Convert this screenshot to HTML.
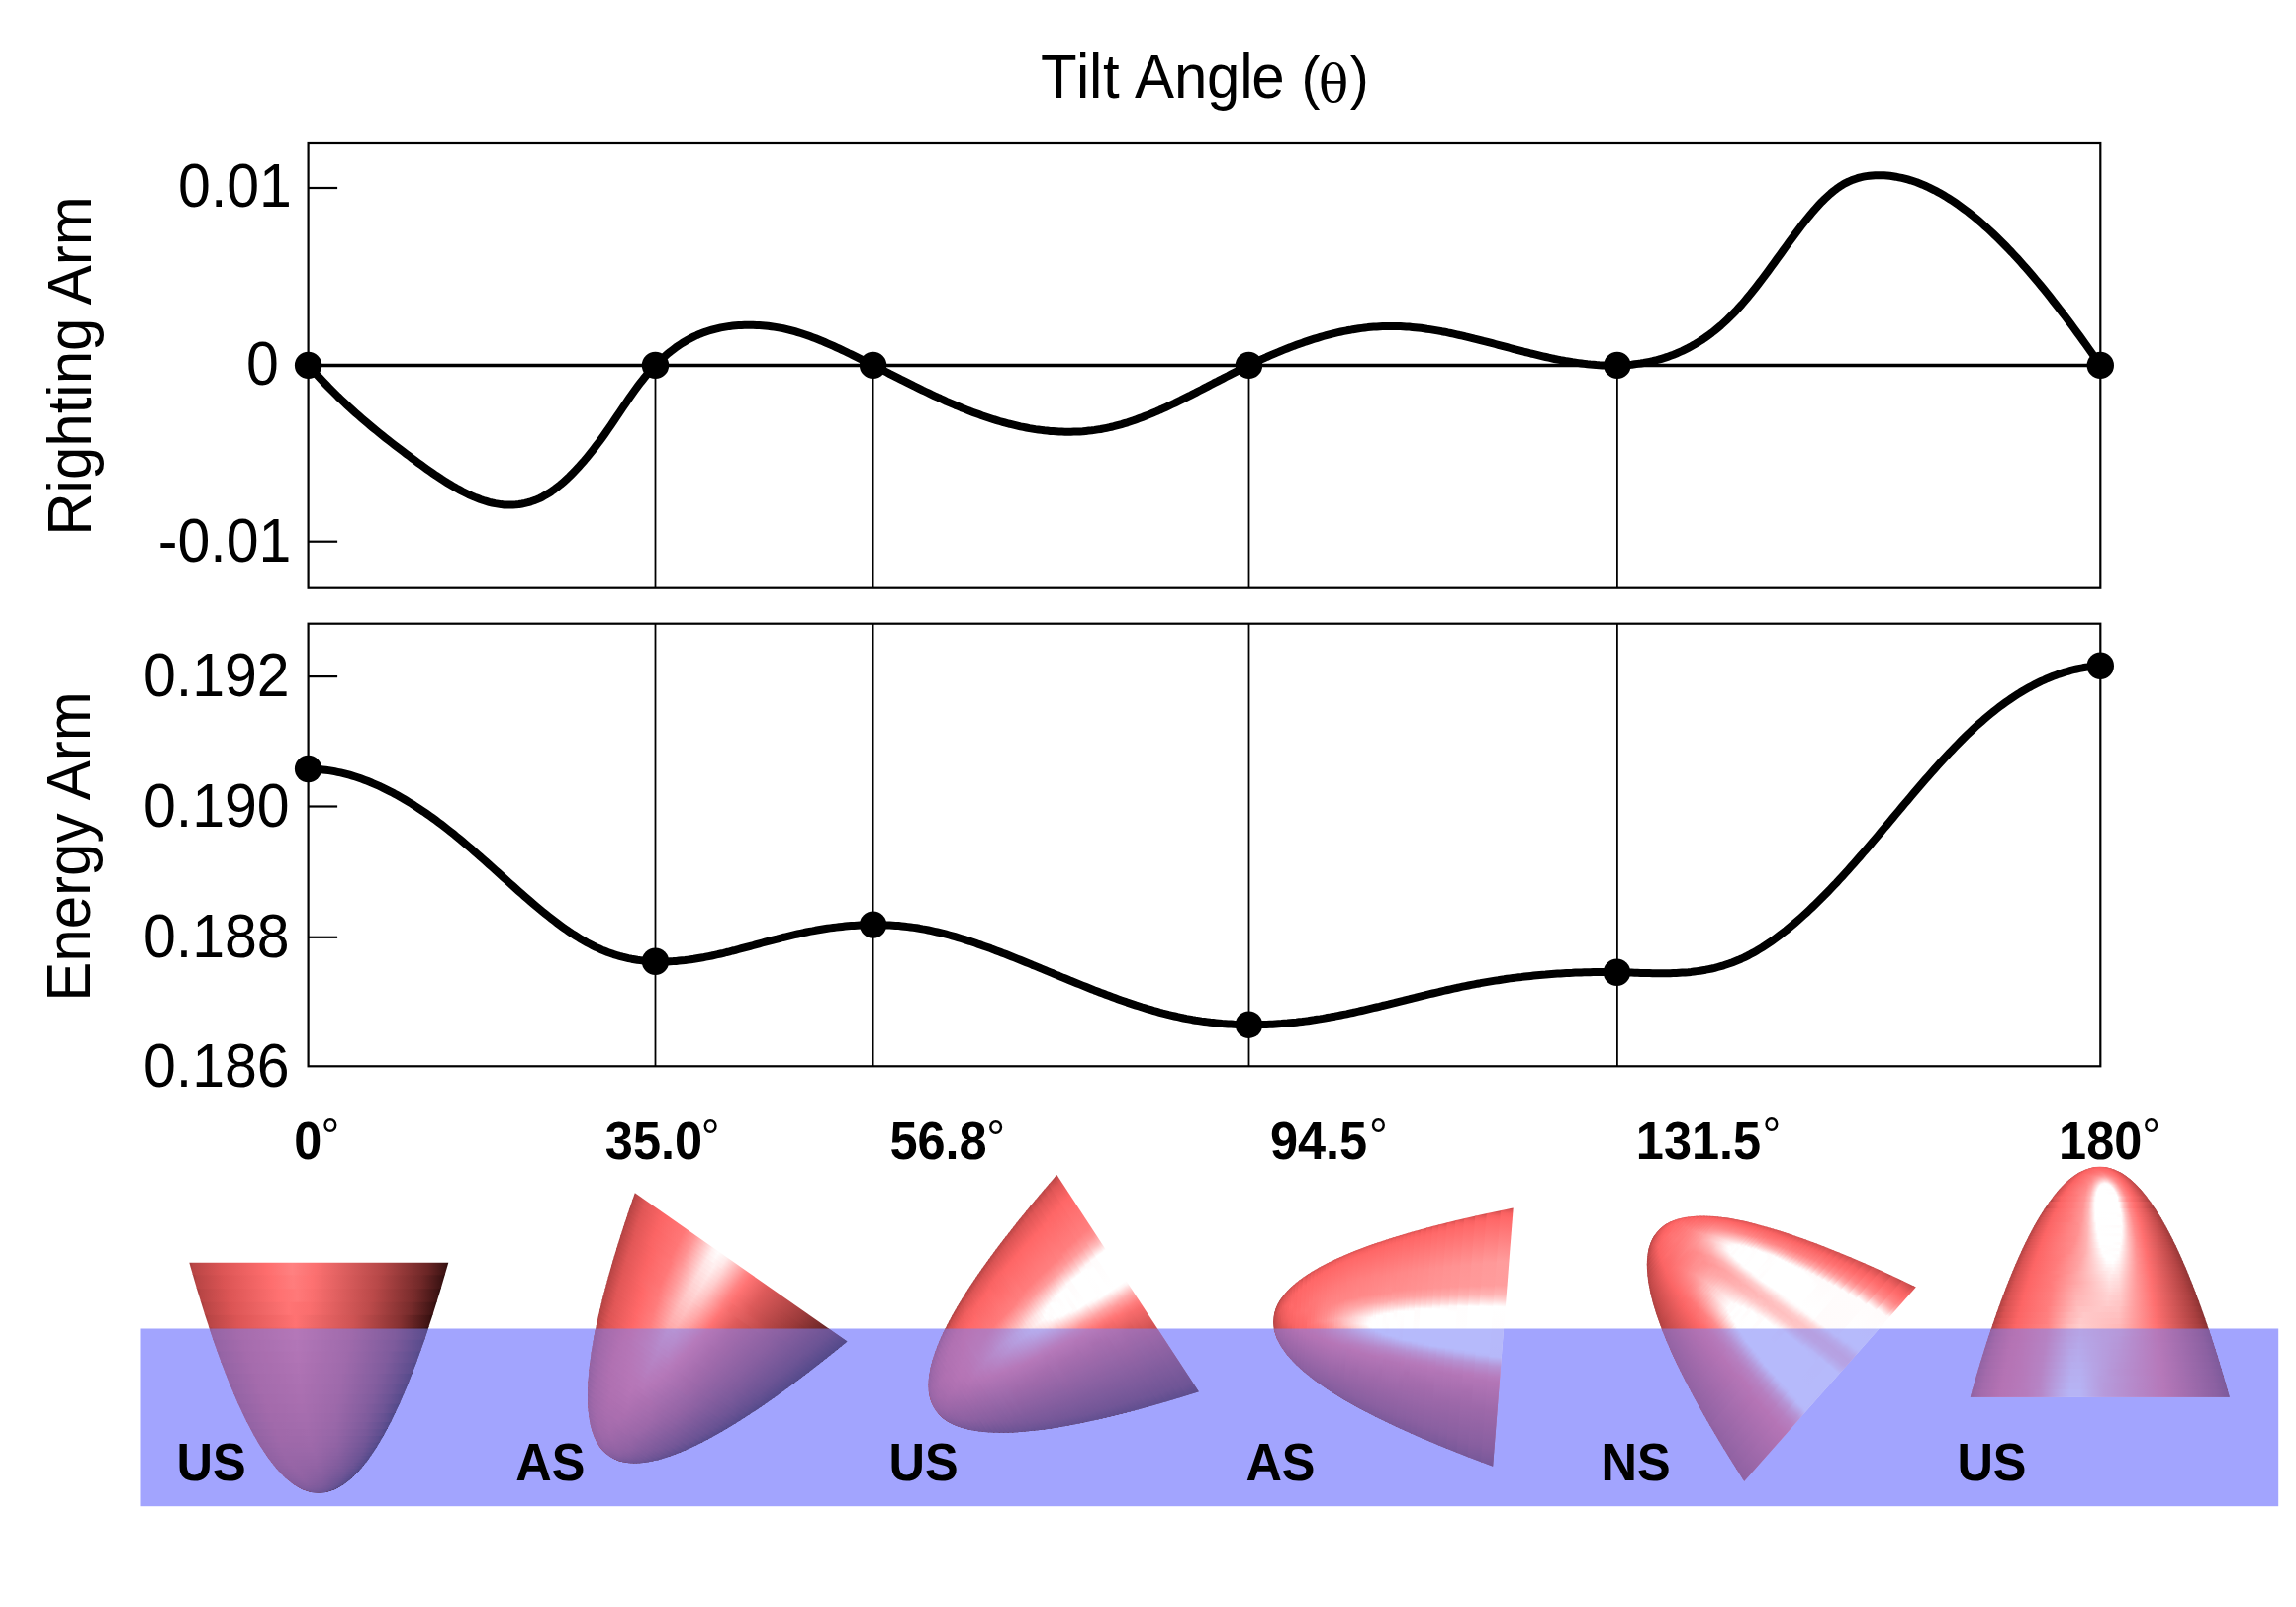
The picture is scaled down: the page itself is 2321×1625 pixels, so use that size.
<!DOCTYPE html><html><head><meta charset="utf-8"><title>Tilt Angle</title><style>
html,body{margin:0;padding:0;background:#fff;}svg{display:block;}
text{font-family:"Liberation Sans",Arial,sans-serif;}
</style></head><body>
<svg width="2321" height="1625" viewBox="0 0 2321 1625">
<rect width="2321" height="1625" fill="#fff"/>
<text transform="translate(0 99.3) scale(1 1.04)" font-size="60" x="1052.0 1088.0 1101.1 1115.0 1132 1146.9 1187.0 1219.9 1253.2 1265.3 1300 1315.5 1333.1 1364.8" y="0">Tilt Angle <tspan font-size="57">(</tspan><tspan font-family="DejaVu Serif, serif" font-size="50.3" dy="3.6">θ</tspan><tspan font-size="57" dy="-3.6">)</tspan></text>
<g fill="none" stroke="#000" stroke-width="2.2">
<rect x="311.6" y="145.0" width="1811.7" height="449.7"/>
<rect x="311.6" y="630.7" width="1811.7" height="447.6"/>
<line x1="311.6" y1="190.0" x2="341.1" y2="190.0"/>
<line x1="311.6" y1="547.7" x2="341.1" y2="547.7"/>
<line x1="311.6" y1="684.1" x2="341.1" y2="684.1"/>
<line x1="311.6" y1="815.5" x2="341.1" y2="815.5"/>
<line x1="311.6" y1="947.8" x2="341.1" y2="947.8"/>
</g>
<g stroke="#000" stroke-width="1.8">
<line x1="662.5" y1="369.4" x2="662.5" y2="594.7"/>
<line x1="662.5" y1="630.7" x2="662.5" y2="1078.3"/>
<line x1="882.6" y1="369.4" x2="882.6" y2="594.7"/>
<line x1="882.6" y1="630.7" x2="882.6" y2="1078.3"/>
<line x1="1262.5" y1="369.4" x2="1262.5" y2="594.7"/>
<line x1="1262.5" y1="630.7" x2="1262.5" y2="1078.3"/>
<line x1="1634.9" y1="369.4" x2="1634.9" y2="594.7"/>
<line x1="1634.9" y1="630.7" x2="1634.9" y2="1078.3"/>
</g>
<line x1="311.6" y1="369.4" x2="2123.3" y2="369.4" stroke="#000" stroke-width="3.5"/>
<path d="M311.6 369.4 L314.6 372.8 L317.6 376.1 L320.6 379.4 L323.6 382.6 L326.6 385.8 L329.6 388.9 L332.6 392.0 L335.6 395.0 L338.6 398.0 L341.6 401.0 L344.6 403.8 L347.6 406.7 L350.6 409.5 L353.6 412.2 L356.6 415.0 L359.6 417.7 L362.6 420.3 L365.6 422.9 L368.6 425.5 L371.6 428.1 L374.6 430.6 L377.6 433.1 L380.6 435.5 L383.6 438.0 L386.6 440.4 L389.6 442.8 L392.6 445.1 L395.6 447.5 L398.6 449.8 L401.6 452.1 L404.6 454.4 L407.6 456.7 L410.6 458.9 L413.6 461.2 L416.6 463.4 L419.6 465.7 L422.6 467.9 L425.6 470.1 L428.6 472.2 L431.6 474.4 L434.6 476.5 L437.6 478.6 L440.6 480.7 L443.6 482.7 L446.6 484.7 L449.6 486.6 L452.6 488.5 L455.6 490.3 L458.6 492.1 L461.6 493.8 L464.6 495.4 L467.6 497.0 L470.6 498.5 L473.6 500.0 L476.6 501.3 L479.6 502.6 L482.6 503.8 L485.6 505.0 L488.6 506.0 L491.6 506.9 L494.6 507.8 L497.6 508.5 L500.6 509.1 L503.6 509.6 L506.6 510.1 L509.6 510.4 L512.6 510.5 L515.6 510.6 L518.6 510.5 L521.6 510.3 L524.6 510.0 L527.6 509.5 L530.6 508.9 L533.6 508.2 L536.6 507.3 L539.6 506.3 L542.6 505.1 L545.6 503.8 L548.6 502.3 L551.6 500.6 L554.6 498.8 L557.6 496.8 L560.6 494.7 L563.6 492.4 L566.6 490.0 L569.6 487.4 L572.6 484.7 L575.6 481.9 L578.6 478.9 L581.6 475.8 L584.6 472.6 L587.6 469.2 L590.6 465.8 L593.6 462.2 L596.6 458.5 L599.6 454.7 L602.6 450.8 L605.6 446.9 L608.6 442.8 L611.6 438.6 L614.6 434.3 L617.6 430.0 L620.6 425.5 L623.6 421.1 L626.6 416.6 L629.6 412.1 L632.6 407.7 L635.6 403.3 L638.6 399.0 L641.6 394.8 L644.6 390.7 L647.6 386.7 L650.6 382.9 L653.6 379.3 L656.6 375.8 L659.6 372.5 L662.6 369.3 L665.6 366.3 L668.6 363.4 L671.6 360.7 L674.6 358.1 L677.6 355.6 L680.6 353.3 L683.6 351.1 L686.6 349.0 L689.6 347.0 L692.6 345.2 L695.6 343.5 L698.6 341.9 L701.6 340.4 L704.6 339.0 L707.6 337.7 L710.6 336.6 L713.6 335.5 L716.6 334.5 L719.6 333.6 L722.6 332.8 L725.6 332.1 L728.6 331.4 L731.6 330.9 L734.6 330.4 L737.6 329.9 L740.6 329.6 L743.6 329.3 L746.6 329.1 L749.6 328.9 L752.6 328.8 L755.6 328.8 L758.6 328.8 L761.6 328.8 L764.6 328.9 L767.6 329.1 L770.6 329.3 L773.6 329.5 L776.6 329.8 L779.6 330.2 L782.6 330.6 L785.6 331.1 L788.6 331.6 L791.6 332.2 L794.6 332.9 L797.6 333.6 L800.6 334.4 L803.6 335.2 L806.6 336.1 L809.6 337.0 L812.6 338.0 L815.6 339.0 L818.6 340.1 L821.6 341.2 L824.6 342.3 L827.6 343.5 L830.6 344.7 L833.6 346.0 L836.6 347.3 L839.6 348.6 L842.6 349.9 L845.6 351.3 L848.6 352.7 L851.6 354.1 L854.6 355.5 L857.6 357.0 L860.6 358.4 L863.6 359.9 L866.6 361.4 L869.6 362.9 L872.6 364.4 L875.6 365.9 L878.6 367.4 L881.6 368.9 L884.6 370.4 L887.6 372.0 L890.6 373.5 L893.6 375.0 L896.6 376.5 L899.6 378.1 L902.6 379.6 L905.6 381.1 L908.6 382.6 L911.6 384.2 L914.6 385.7 L917.6 387.2 L920.6 388.7 L923.6 390.2 L926.6 391.6 L929.6 393.1 L932.6 394.6 L935.6 396.0 L938.6 397.4 L941.6 398.9 L944.6 400.3 L947.6 401.7 L950.6 403.0 L953.6 404.4 L956.6 405.8 L959.6 407.1 L962.6 408.4 L965.6 409.7 L968.6 410.9 L971.6 412.2 L974.6 413.4 L977.6 414.6 L980.6 415.8 L983.6 416.9 L986.6 418.0 L989.6 419.1 L992.6 420.2 L995.6 421.2 L998.6 422.2 L1001.6 423.2 L1004.6 424.2 L1007.6 425.1 L1010.6 426.0 L1013.6 426.8 L1016.6 427.7 L1019.6 428.5 L1022.6 429.2 L1025.6 429.9 L1028.6 430.6 L1031.6 431.3 L1034.6 431.9 L1037.6 432.5 L1040.6 433.1 L1043.6 433.6 L1046.6 434.1 L1049.6 434.5 L1052.6 434.9 L1055.6 435.3 L1058.6 435.6 L1061.6 435.9 L1064.6 436.1 L1067.6 436.3 L1070.6 436.5 L1073.6 436.6 L1076.6 436.7 L1079.6 436.7 L1082.6 436.7 L1085.6 436.6 L1088.6 436.5 L1091.6 436.4 L1094.6 436.2 L1097.6 435.9 L1100.6 435.6 L1103.6 435.3 L1106.6 434.9 L1109.6 434.4 L1112.6 434.0 L1115.6 433.4 L1118.6 432.8 L1121.6 432.2 L1124.6 431.5 L1127.6 430.7 L1130.6 429.9 L1133.6 429.1 L1136.6 428.2 L1139.6 427.3 L1142.6 426.3 L1145.6 425.3 L1148.6 424.2 L1151.6 423.1 L1154.6 422.0 L1157.6 420.8 L1160.6 419.6 L1163.6 418.4 L1166.6 417.1 L1169.6 415.9 L1172.6 414.5 L1175.6 413.2 L1178.6 411.8 L1181.6 410.4 L1184.6 409.0 L1187.6 407.6 L1190.6 406.1 L1193.6 404.7 L1196.6 403.2 L1199.6 401.7 L1202.6 400.2 L1205.6 398.6 L1208.6 397.1 L1211.6 395.5 L1214.6 394.0 L1217.6 392.4 L1220.6 390.9 L1223.6 389.3 L1226.6 387.7 L1229.6 386.2 L1232.6 384.6 L1235.6 383.1 L1238.6 381.5 L1241.6 380.0 L1244.6 378.4 L1247.6 376.9 L1250.6 375.4 L1253.6 373.9 L1256.6 372.4 L1259.6 370.9 L1262.6 369.4 L1265.6 368.0 L1268.6 366.5 L1271.6 365.1 L1274.6 363.7 L1277.6 362.4 L1280.6 361.0 L1283.6 359.7 L1286.6 358.4 L1289.6 357.1 L1292.6 355.9 L1295.6 354.6 L1298.6 353.4 L1301.6 352.2 L1304.6 351.1 L1307.6 349.9 L1310.6 348.8 L1313.6 347.7 L1316.6 346.7 L1319.6 345.6 L1322.6 344.6 L1325.6 343.6 L1328.6 342.7 L1331.6 341.8 L1334.6 340.9 L1337.6 340.0 L1340.6 339.2 L1343.6 338.4 L1346.6 337.6 L1349.6 336.9 L1352.6 336.2 L1355.6 335.5 L1358.6 334.9 L1361.6 334.3 L1364.6 333.8 L1367.6 333.2 L1370.6 332.7 L1373.6 332.3 L1376.6 331.9 L1379.6 331.5 L1382.6 331.1 L1385.6 330.8 L1388.6 330.6 L1391.6 330.4 L1394.6 330.2 L1397.6 330.0 L1400.6 329.9 L1403.6 329.9 L1406.6 329.9 L1409.6 329.9 L1412.6 329.9 L1415.6 330.0 L1418.6 330.2 L1421.6 330.4 L1424.6 330.6 L1427.6 330.9 L1430.6 331.2 L1433.6 331.5 L1436.6 331.8 L1439.6 332.2 L1442.6 332.7 L1445.6 333.1 L1448.6 333.6 L1451.6 334.1 L1454.6 334.6 L1457.6 335.2 L1460.6 335.7 L1463.6 336.4 L1466.6 337.0 L1469.6 337.6 L1472.6 338.3 L1475.6 339.0 L1478.6 339.6 L1481.6 340.4 L1484.6 341.1 L1487.6 341.8 L1490.6 342.6 L1493.6 343.3 L1496.6 344.1 L1499.6 344.9 L1502.6 345.6 L1505.6 346.4 L1508.6 347.2 L1511.6 348.0 L1514.6 348.8 L1517.6 349.6 L1520.6 350.4 L1523.6 351.2 L1526.6 352.0 L1529.6 352.8 L1532.6 353.6 L1535.6 354.4 L1538.6 355.2 L1541.6 356.0 L1544.6 356.7 L1547.6 357.5 L1550.6 358.2 L1553.6 358.9 L1556.6 359.6 L1559.6 360.3 L1562.6 361.0 L1565.6 361.7 L1568.6 362.3 L1571.6 363.0 L1574.6 363.6 L1577.6 364.2 L1580.6 364.7 L1583.6 365.3 L1586.6 365.8 L1589.6 366.3 L1592.6 366.7 L1595.6 367.1 L1598.6 367.5 L1601.6 367.9 L1604.6 368.3 L1607.6 368.6 L1610.6 368.8 L1613.6 369.1 L1616.6 369.3 L1619.6 369.4 L1622.6 369.5 L1625.6 369.6 L1628.6 369.7 L1631.6 369.6 L1634.6 369.6 L1637.6 369.5 L1640.6 369.4 L1643.6 369.2 L1646.6 368.9 L1649.6 368.7 L1652.6 368.3 L1655.6 367.9 L1658.6 367.5 L1661.6 367.0 L1664.6 366.4 L1667.6 365.8 L1670.6 365.2 L1673.6 364.5 L1676.6 363.7 L1679.6 362.8 L1682.6 361.9 L1685.6 360.9 L1688.6 359.8 L1691.6 358.7 L1694.6 357.5 L1697.6 356.2 L1700.6 354.9 L1703.6 353.4 L1706.6 351.9 L1709.6 350.3 L1712.6 348.6 L1715.6 346.8 L1718.6 344.9 L1721.6 343.0 L1724.6 340.9 L1727.6 338.7 L1730.6 336.5 L1733.6 334.1 L1736.6 331.6 L1739.6 329.1 L1742.6 326.4 L1745.6 323.6 L1748.6 320.7 L1751.6 317.7 L1754.6 314.6 L1757.6 311.3 L1760.6 308.0 L1763.6 304.5 L1766.6 300.9 L1769.6 297.3 L1772.6 293.5 L1775.6 289.7 L1778.6 285.8 L1781.6 281.9 L1784.6 277.9 L1787.6 273.8 L1790.6 269.7 L1793.6 265.6 L1796.6 261.4 L1799.6 257.3 L1802.6 253.1 L1805.6 249.0 L1808.6 244.9 L1811.6 240.8 L1814.6 236.8 L1817.6 232.8 L1820.6 228.8 L1823.6 225.0 L1826.6 221.2 L1829.6 217.6 L1832.6 214.0 L1835.6 210.6 L1838.6 207.3 L1841.6 204.1 L1844.6 201.1 L1847.6 198.3 L1850.6 195.6 L1853.6 193.1 L1856.6 190.8 L1859.6 188.7 L1862.6 186.8 L1865.6 185.1 L1868.6 183.6 L1871.6 182.3 L1874.6 181.2 L1877.6 180.2 L1880.6 179.3 L1883.6 178.7 L1886.6 178.1 L1889.6 177.7 L1892.6 177.4 L1895.6 177.2 L1898.6 177.2 L1901.6 177.2 L1904.6 177.3 L1907.6 177.5 L1910.6 177.8 L1913.6 178.2 L1916.6 178.7 L1919.6 179.3 L1922.6 179.9 L1925.6 180.6 L1928.6 181.4 L1931.6 182.3 L1934.6 183.3 L1937.6 184.3 L1940.6 185.5 L1943.6 186.7 L1946.6 188.0 L1949.6 189.3 L1952.6 190.8 L1955.6 192.3 L1958.6 193.9 L1961.6 195.6 L1964.6 197.3 L1967.6 199.1 L1970.6 201.0 L1973.6 202.9 L1976.6 204.9 L1979.6 207.0 L1982.6 209.2 L1985.6 211.4 L1988.6 213.7 L1991.6 216.0 L1994.6 218.4 L1997.6 220.9 L2000.6 223.4 L2003.6 226.0 L2006.6 228.7 L2009.6 231.4 L2012.6 234.2 L2015.6 237.0 L2018.6 239.9 L2021.6 242.8 L2024.6 245.8 L2027.6 248.9 L2030.6 252.0 L2033.6 255.1 L2036.6 258.4 L2039.6 261.6 L2042.6 264.9 L2045.6 268.3 L2048.6 271.7 L2051.6 275.1 L2054.6 278.6 L2057.6 282.2 L2060.6 285.8 L2063.6 289.4 L2066.6 293.1 L2069.6 296.8 L2072.6 300.6 L2075.6 304.4 L2078.6 308.2 L2081.6 312.1 L2084.6 316.0 L2087.6 319.9 L2090.6 323.9 L2093.6 327.9 L2096.6 332.0 L2099.6 336.1 L2102.6 340.2 L2105.6 344.3 L2108.6 348.5 L2111.6 352.7 L2114.6 357.0 L2117.6 361.2 L2120.6 365.5 L2123.3 369.4" fill="none" stroke="#000" stroke-width="8" stroke-linejoin="round"/>
<path d="M311.4 777.5 L314.4 777.6 L317.4 777.7 L320.4 777.8 L323.4 778.1 L326.4 778.4 L329.4 778.7 L332.4 779.1 L335.4 779.6 L338.4 780.2 L341.4 780.8 L344.4 781.4 L347.4 782.1 L350.4 782.9 L353.4 783.7 L356.4 784.6 L359.4 785.5 L362.4 786.5 L365.4 787.6 L368.4 788.7 L371.4 789.8 L374.4 791.0 L377.4 792.3 L380.4 793.6 L383.4 794.9 L386.4 796.3 L389.4 797.8 L392.4 799.3 L395.4 800.8 L398.4 802.4 L401.4 804.1 L404.4 805.8 L407.4 807.5 L410.4 809.3 L413.4 811.1 L416.4 812.9 L419.4 814.9 L422.4 816.8 L425.4 818.8 L428.4 820.8 L431.4 822.9 L434.4 825.0 L437.4 827.1 L440.4 829.3 L443.4 831.6 L446.4 833.8 L449.4 836.1 L452.4 838.5 L455.4 840.8 L458.4 843.2 L461.4 845.7 L464.4 848.1 L467.4 850.6 L470.4 853.2 L473.4 855.7 L476.4 858.3 L479.4 860.9 L482.4 863.6 L485.4 866.2 L488.4 868.9 L491.4 871.5 L494.4 874.2 L497.4 876.9 L500.4 879.6 L503.4 882.3 L506.4 885.0 L509.4 887.7 L512.4 890.4 L515.4 893.1 L518.4 895.8 L521.4 898.5 L524.4 901.2 L527.4 903.8 L530.4 906.5 L533.4 909.1 L536.4 911.6 L539.4 914.2 L542.4 916.7 L545.4 919.2 L548.4 921.7 L551.4 924.1 L554.4 926.5 L557.4 928.9 L560.4 931.2 L563.4 933.5 L566.4 935.7 L569.4 937.9 L572.4 940.0 L575.4 942.1 L578.4 944.1 L581.4 946.0 L584.4 947.9 L587.4 949.8 L590.4 951.5 L593.4 953.2 L596.4 954.8 L599.4 956.4 L602.4 957.9 L605.4 959.2 L608.4 960.6 L611.4 961.8 L614.4 963.0 L617.4 964.0 L620.4 965.1 L623.4 966.0 L626.4 966.9 L629.4 967.7 L632.4 968.4 L635.4 969.1 L638.4 969.7 L641.4 970.2 L644.4 970.7 L647.4 971.1 L650.4 971.5 L653.4 971.8 L656.4 972.0 L659.4 972.2 L662.4 972.3 L665.4 972.4 L668.4 972.4 L671.4 972.4 L674.4 972.4 L677.4 972.2 L680.4 972.1 L683.4 971.9 L686.4 971.6 L689.4 971.3 L692.4 971.0 L695.4 970.6 L698.4 970.2 L701.4 969.8 L704.4 969.3 L707.4 968.8 L710.4 968.3 L713.4 967.7 L716.4 967.1 L719.4 966.5 L722.4 965.8 L725.4 965.2 L728.4 964.5 L731.4 963.8 L734.4 963.0 L737.4 962.3 L740.4 961.5 L743.4 960.8 L746.4 960.0 L749.4 959.2 L752.4 958.4 L755.4 957.6 L758.4 956.8 L761.4 956.0 L764.4 955.1 L767.4 954.3 L770.4 953.5 L773.4 952.7 L776.4 951.9 L779.4 951.1 L782.4 950.3 L785.4 949.6 L788.4 948.8 L791.4 948.0 L794.4 947.3 L797.4 946.6 L800.4 945.9 L803.4 945.2 L806.4 944.5 L809.4 943.8 L812.4 943.2 L815.4 942.5 L818.4 941.9 L821.4 941.4 L824.4 940.8 L827.4 940.3 L830.4 939.8 L833.4 939.3 L836.4 938.8 L839.4 938.4 L842.4 938.0 L845.4 937.6 L848.4 937.2 L851.4 936.9 L854.4 936.6 L857.4 936.3 L860.4 936.1 L863.4 935.9 L866.4 935.7 L869.4 935.5 L872.4 935.4 L875.4 935.3 L878.4 935.2 L881.4 935.1 L884.4 935.1 L887.4 935.1 L890.4 935.2 L893.4 935.3 L896.4 935.4 L899.4 935.5 L902.4 935.7 L905.4 935.9 L908.4 936.1 L911.4 936.4 L914.4 936.7 L917.4 937.1 L920.4 937.5 L923.4 937.9 L926.4 938.3 L929.4 938.8 L932.4 939.4 L935.4 939.9 L938.4 940.5 L941.4 941.1 L944.4 941.8 L947.4 942.5 L950.4 943.2 L953.4 943.9 L956.4 944.7 L959.4 945.5 L962.4 946.3 L965.4 947.2 L968.4 948.1 L971.4 949.0 L974.4 949.9 L977.4 950.9 L980.4 951.8 L983.4 952.8 L986.4 953.8 L989.4 954.9 L992.4 955.9 L995.4 957.0 L998.4 958.0 L1001.4 959.1 L1004.4 960.3 L1007.4 961.4 L1010.4 962.5 L1013.4 963.7 L1016.4 964.8 L1019.4 966.0 L1022.4 967.2 L1025.4 968.4 L1028.4 969.6 L1031.4 970.8 L1034.4 972.0 L1037.4 973.2 L1040.4 974.4 L1043.4 975.7 L1046.4 976.9 L1049.4 978.1 L1052.4 979.4 L1055.4 980.6 L1058.4 981.9 L1061.4 983.1 L1064.4 984.3 L1067.4 985.6 L1070.4 986.8 L1073.4 988.1 L1076.4 989.3 L1079.4 990.5 L1082.4 991.8 L1085.4 993.0 L1088.4 994.2 L1091.4 995.4 L1094.4 996.6 L1097.4 997.8 L1100.4 999.0 L1103.4 1000.2 L1106.4 1001.4 L1109.4 1002.5 L1112.4 1003.7 L1115.4 1004.8 L1118.4 1006.0 L1121.4 1007.1 L1124.4 1008.2 L1127.4 1009.3 L1130.4 1010.4 L1133.4 1011.5 L1136.4 1012.5 L1139.4 1013.6 L1142.4 1014.6 L1145.4 1015.6 L1148.4 1016.6 L1151.4 1017.5 L1154.4 1018.5 L1157.4 1019.4 L1160.4 1020.3 L1163.4 1021.2 L1166.4 1022.1 L1169.4 1022.9 L1172.4 1023.8 L1175.4 1024.6 L1178.4 1025.3 L1181.4 1026.1 L1184.4 1026.8 L1187.4 1027.5 L1190.4 1028.2 L1193.4 1028.8 L1196.4 1029.5 L1199.4 1030.1 L1202.4 1030.6 L1205.4 1031.2 L1208.4 1031.7 L1211.4 1032.1 L1214.4 1032.6 L1217.4 1033.0 L1220.4 1033.4 L1223.4 1033.8 L1226.4 1034.1 L1229.4 1034.4 L1232.4 1034.7 L1235.4 1035.0 L1238.4 1035.2 L1241.4 1035.4 L1244.4 1035.6 L1247.4 1035.8 L1250.4 1035.9 L1253.4 1036.0 L1256.4 1036.1 L1259.4 1036.2 L1262.4 1036.2 L1265.4 1036.2 L1268.4 1036.2 L1271.4 1036.2 L1274.4 1036.1 L1277.4 1036.0 L1280.4 1035.9 L1283.4 1035.8 L1286.4 1035.7 L1289.4 1035.5 L1292.4 1035.3 L1295.4 1035.1 L1298.4 1034.8 L1301.4 1034.6 L1304.4 1034.3 L1307.4 1034.0 L1310.4 1033.7 L1313.4 1033.3 L1316.4 1033.0 L1319.4 1032.6 L1322.4 1032.2 L1325.4 1031.7 L1328.4 1031.3 L1331.4 1030.8 L1334.4 1030.4 L1337.4 1029.9 L1340.4 1029.3 L1343.4 1028.8 L1346.4 1028.2 L1349.4 1027.7 L1352.4 1027.1 L1355.4 1026.5 L1358.4 1025.9 L1361.4 1025.3 L1364.4 1024.6 L1367.4 1024.0 L1370.4 1023.3 L1373.4 1022.7 L1376.4 1022.0 L1379.4 1021.3 L1382.4 1020.6 L1385.4 1019.9 L1388.4 1019.2 L1391.4 1018.5 L1394.4 1017.8 L1397.4 1017.0 L1400.4 1016.3 L1403.4 1015.6 L1406.4 1014.8 L1409.4 1014.1 L1412.4 1013.3 L1415.4 1012.6 L1418.4 1011.9 L1421.4 1011.1 L1424.4 1010.4 L1427.4 1009.6 L1430.4 1008.9 L1433.4 1008.1 L1436.4 1007.4 L1439.4 1006.7 L1442.4 1005.9 L1445.4 1005.2 L1448.4 1004.5 L1451.4 1003.8 L1454.4 1003.1 L1457.4 1002.3 L1460.4 1001.7 L1463.4 1001.0 L1466.4 1000.3 L1469.4 999.6 L1472.4 999.0 L1475.4 998.3 L1478.4 997.7 L1481.4 997.1 L1484.4 996.5 L1487.4 995.9 L1490.4 995.3 L1493.4 994.7 L1496.4 994.2 L1499.4 993.6 L1502.4 993.1 L1505.4 992.6 L1508.4 992.1 L1511.4 991.6 L1514.4 991.2 L1517.4 990.7 L1520.4 990.3 L1523.4 989.8 L1526.4 989.4 L1529.4 989.0 L1532.4 988.6 L1535.4 988.2 L1538.4 987.9 L1541.4 987.5 L1544.4 987.2 L1547.4 986.9 L1550.4 986.6 L1553.4 986.3 L1556.4 986.0 L1559.4 985.7 L1562.4 985.5 L1565.4 985.2 L1568.4 985.0 L1571.4 984.8 L1574.4 984.6 L1577.4 984.4 L1580.4 984.2 L1583.4 984.0 L1586.4 983.9 L1589.4 983.8 L1592.4 983.6 L1595.4 983.5 L1598.4 983.4 L1601.4 983.3 L1604.4 983.3 L1607.4 983.2 L1610.4 983.1 L1613.4 983.1 L1616.4 983.1 L1619.4 983.1 L1622.4 983.1 L1625.4 983.1 L1628.4 983.1 L1631.4 983.2 L1634.4 983.2 L1637.4 983.3 L1640.4 983.4 L1643.4 983.4 L1646.4 983.5 L1649.4 983.6 L1652.4 983.7 L1655.4 983.8 L1658.4 983.9 L1661.4 984.0 L1664.4 984.1 L1667.4 984.1 L1670.4 984.2 L1673.4 984.2 L1676.4 984.3 L1679.4 984.3 L1682.4 984.3 L1685.4 984.2 L1688.4 984.2 L1691.4 984.1 L1694.4 984.0 L1697.4 983.8 L1700.4 983.6 L1703.4 983.4 L1706.4 983.2 L1709.4 982.9 L1712.4 982.5 L1715.4 982.1 L1718.4 981.7 L1721.4 981.2 L1724.4 980.7 L1727.4 980.1 L1730.4 979.5 L1733.4 978.8 L1736.4 978.0 L1739.4 977.2 L1742.4 976.3 L1745.4 975.3 L1748.4 974.3 L1751.4 973.2 L1754.4 972.0 L1757.4 970.8 L1760.4 969.5 L1763.4 968.1 L1766.4 966.6 L1769.4 965.0 L1772.4 963.4 L1775.4 961.7 L1778.4 959.9 L1781.4 958.1 L1784.4 956.1 L1787.4 954.1 L1790.4 952.1 L1793.4 950.0 L1796.4 947.8 L1799.4 945.5 L1802.4 943.2 L1805.4 940.9 L1808.4 938.4 L1811.4 935.9 L1814.4 933.4 L1817.4 930.8 L1820.4 928.1 L1823.4 925.4 L1826.4 922.7 L1829.4 919.9 L1832.4 917.0 L1835.4 914.1 L1838.4 911.2 L1841.4 908.2 L1844.4 905.2 L1847.4 902.1 L1850.4 899.0 L1853.4 895.8 L1856.4 892.7 L1859.4 889.4 L1862.4 886.2 L1865.4 882.9 L1868.4 879.6 L1871.4 876.2 L1874.4 872.8 L1877.4 869.4 L1880.4 866.0 L1883.4 862.5 L1886.4 859.1 L1889.4 855.6 L1892.4 852.0 L1895.4 848.5 L1898.4 845.0 L1901.4 841.4 L1904.4 837.8 L1907.4 834.3 L1910.4 830.7 L1913.4 827.1 L1916.4 823.5 L1919.4 820.0 L1922.4 816.4 L1925.4 812.8 L1928.4 809.3 L1931.4 805.7 L1934.4 802.2 L1937.4 798.7 L1940.4 795.2 L1943.4 791.7 L1946.4 788.2 L1949.4 784.8 L1952.4 781.4 L1955.4 778.0 L1958.4 774.6 L1961.4 771.3 L1964.4 768.0 L1967.4 764.8 L1970.4 761.6 L1973.4 758.4 L1976.4 755.3 L1979.4 752.2 L1982.4 749.1 L1985.4 746.1 L1988.4 743.2 L1991.4 740.3 L1994.4 737.5 L1997.4 734.7 L2000.4 732.0 L2003.4 729.4 L2006.4 726.8 L2009.4 724.3 L2012.4 721.8 L2015.4 719.4 L2018.4 717.0 L2021.4 714.7 L2024.4 712.5 L2027.4 710.3 L2030.4 708.2 L2033.4 706.1 L2036.4 704.1 L2039.4 702.2 L2042.4 700.3 L2045.4 698.5 L2048.4 696.8 L2051.4 695.1 L2054.4 693.5 L2057.4 691.9 L2060.4 690.4 L2063.4 688.9 L2066.4 687.6 L2069.4 686.2 L2072.4 685.0 L2075.4 683.8 L2078.4 682.7 L2081.4 681.6 L2084.4 680.6 L2087.4 679.6 L2090.4 678.8 L2093.4 677.9 L2096.4 677.2 L2099.4 676.5 L2102.4 675.9 L2105.4 675.3 L2108.4 674.8 L2111.4 674.4 L2114.4 674.0 L2117.4 673.7 L2120.4 673.5 L2123.4 673.3" fill="none" stroke="#000" stroke-width="8" stroke-linejoin="round"/>
<circle cx="311.6" cy="369.4" r="13.7"/>
<circle cx="662.5" cy="369.4" r="13.7"/>
<circle cx="882.6" cy="369.4" r="13.7"/>
<circle cx="1262.5" cy="369.4" r="13.7"/>
<circle cx="1634.9" cy="369.4" r="13.7"/>
<circle cx="2123.3" cy="369.4" r="13.7"/>
<circle cx="311.6" cy="777.5" r="13.7"/>
<circle cx="662.5" cy="972.3" r="13.7"/>
<circle cx="882.6" cy="935.1" r="13.7"/>
<circle cx="1262.5" cy="1036.2" r="13.7"/>
<circle cx="1634.5" cy="983.2" r="13.7"/>
<circle cx="2123.3" cy="673.3" r="13.7"/>
<text transform="translate(180.1 209.2) scale(1 1.064)" font-size="59" >0.01</text>
<text transform="translate(249.0 389.0) scale(1 1.064)" font-size="59" >0</text>
<text transform="translate(159.8 567.9) scale(1 1.064)" font-size="59" >-0.01</text>
<text transform="translate(145.0 703.6) scale(1 1.064)" font-size="59" >0.192</text>
<text transform="translate(145.0 835.6) scale(1 1.064)" font-size="59" >0.190</text>
<text transform="translate(145.0 967.7) scale(1 1.064)" font-size="59" >0.188</text>
<text transform="translate(145.0 1099.2) scale(1 1.064)" font-size="59" >0.186</text>
<text transform="translate(92.0 541.7) rotate(-90) scale(1 1.04)" font-size="60">Righting Arm</text>
<text transform="translate(90.9 1012.7) rotate(-90) scale(1 1.04)" font-size="60">Energy Arm</text>
<rect x="142.5" y="1343.5" width="2160.7" height="179.7" fill="#A2A4FE"/>
<defs><clipPath id="cs0"><path transform="translate(322.3 1509.7) rotate(0)" d="M-131.0 -232.9 Q0 232.9 131.0 -232.9Z"/></clipPath><linearGradient id="g0_0" gradientUnits="userSpaceOnUse" x1="-5.1" x2="5.1"><stop offset="0.000" stop-color="#602121"/><stop offset="0.383" stop-color="#612222"/><stop offset="1.000" stop-color="#4a1919"/><stop offset="1.000" stop-color="#4a1919"/></linearGradient><linearGradient id="g0_1" gradientUnits="userSpaceOnUse" x1="-8.9" x2="8.9"><stop offset="0.000" stop-color="#682424"/><stop offset="0.146" stop-color="#6f2727"/><stop offset="0.804" stop-color="#561d1d"/><stop offset="1.000" stop-color="#431616"/></linearGradient><linearGradient id="g0_2" gradientUnits="userSpaceOnUse" x1="-11.5" x2="11.5"><stop offset="0.000" stop-color="#6c2626"/><stop offset="0.095" stop-color="#762a2a"/><stop offset="0.667" stop-color="#632323"/><stop offset="0.986" stop-color="#411515"/><stop offset="1.000" stop-color="#3d1414"/></linearGradient><linearGradient id="g0_3" gradientUnits="userSpaceOnUse" x1="-13.6" x2="13.6"><stop offset="0.000" stop-color="#702828"/><stop offset="0.074" stop-color="#7b2c2c"/><stop offset="0.552" stop-color="#6e2727"/><stop offset="0.912" stop-color="#4b1919"/><stop offset="1.000" stop-color="#391212"/></linearGradient><linearGradient id="g0_4" gradientUnits="userSpaceOnUse" x1="-15.5" x2="15.5"><stop offset="0.000" stop-color="#732929"/><stop offset="0.054" stop-color="#7e2d2d"/><stop offset="0.461" stop-color="#772b2b"/><stop offset="0.804" stop-color="#5a1f1f"/><stop offset="0.998" stop-color="#371111"/><stop offset="1.000" stop-color="#351010"/></linearGradient><linearGradient id="g0_5" gradientUnits="userSpaceOnUse" x1="-17.2" x2="17.2"><stop offset="0.000" stop-color="#752a2a"/><stop offset="0.049" stop-color="#822f2f"/><stop offset="0.383" stop-color="#7f2e2e"/><stop offset="0.727" stop-color="#662424"/><stop offset="0.983" stop-color="#3a1212"/><stop offset="1.000" stop-color="#320f0f"/></linearGradient><linearGradient id="g0_6" gradientUnits="userSpaceOnUse" x1="-18.8" x2="18.8"><stop offset="0.000" stop-color="#772a2a"/><stop offset="0.038" stop-color="#843030"/><stop offset="0.321" stop-color="#863131"/><stop offset="0.691" stop-color="#6d2727"/><stop offset="0.939" stop-color="#421616"/><stop offset="1.000" stop-color="#2f0e0e"/></linearGradient><linearGradient id="g0_7" gradientUnits="userSpaceOnUse" x1="-20.3" x2="20.3"><stop offset="0.000" stop-color="#782b2b"/><stop offset="0.024" stop-color="#853030"/><stop offset="0.217" stop-color="#8d3333"/><stop offset="0.617" stop-color="#782b2b"/><stop offset="0.872" stop-color="#521c1c"/><stop offset="0.999" stop-color="#2e0d0d"/><stop offset="1.000" stop-color="#2c0d0d"/></linearGradient><linearGradient id="g0_8" gradientUnits="userSpaceOnUse" x1="-21.6" x2="21.6"><stop offset="0.000" stop-color="#7a2c2c"/><stop offset="0.021" stop-color="#873131"/><stop offset="0.185" stop-color="#903535"/><stop offset="0.500" stop-color="#843030"/><stop offset="0.794" stop-color="#622222"/><stop offset="0.994" stop-color="#300e0e"/><stop offset="1.000" stop-color="#2a0c0c"/></linearGradient><linearGradient id="g0_9" gradientUnits="userSpaceOnUse" x1="-23.6" x2="23.6"><stop offset="0.000" stop-color="#7e2e2e"/><stop offset="0.024" stop-color="#8b3333"/><stop offset="0.239" stop-color="#963737"/><stop offset="0.578" stop-color="#812f2f"/><stop offset="0.835" stop-color="#5b2020"/><stop offset="0.998" stop-color="#2c0c0c"/><stop offset="1.000" stop-color="#280b0b"/></linearGradient><linearGradient id="g0_10" gradientUnits="userSpaceOnUse" x1="-26.1" x2="26.1"><stop offset="0.000" stop-color="#833030"/><stop offset="0.024" stop-color="#913535"/><stop offset="0.285" stop-color="#9c3939"/><stop offset="0.617" stop-color="#812f2f"/><stop offset="0.863" stop-color="#561e1e"/><stop offset="0.999" stop-color="#290b0b"/><stop offset="1.000" stop-color="#270b0b"/></linearGradient><linearGradient id="g0_11" gradientUnits="userSpaceOnUse" x1="-28.4" x2="28.4"><stop offset="0.000" stop-color="#883131"/><stop offset="0.021" stop-color="#943636"/><stop offset="0.273" stop-color="#a13c3c"/><stop offset="0.578" stop-color="#893232"/><stop offset="0.844" stop-color="#5c2020"/><stop offset="0.997" stop-color="#2a0c0c"/><stop offset="1.000" stop-color="#260a0a"/></linearGradient><linearGradient id="g0_12" gradientUnits="userSpaceOnUse" x1="-30.5" x2="30.5"><stop offset="0.000" stop-color="#8b3333"/><stop offset="0.017" stop-color="#973737"/><stop offset="0.261" stop-color="#a63e3e"/><stop offset="0.565" stop-color="#8e3434"/><stop offset="0.854" stop-color="#5b1f1f"/><stop offset="0.998" stop-color="#280b0b"/><stop offset="1.000" stop-color="#240a0a"/></linearGradient><linearGradient id="g0_13" gradientUnits="userSpaceOnUse" x1="-32.6" x2="32.6"><stop offset="0.000" stop-color="#8f3434"/><stop offset="0.014" stop-color="#9a3939"/><stop offset="0.261" stop-color="#aa3f3f"/><stop offset="0.552" stop-color="#933636"/><stop offset="0.854" stop-color="#5c2020"/><stop offset="0.996" stop-color="#290c0c"/><stop offset="1.000" stop-color="#230909"/></linearGradient><linearGradient id="g0_14" gradientUnits="userSpaceOnUse" x1="-34.6" x2="34.6"><stop offset="0.000" stop-color="#913535"/><stop offset="0.014" stop-color="#9d3a3a"/><stop offset="0.261" stop-color="#ae4141"/><stop offset="0.539" stop-color="#983838"/><stop offset="0.835" stop-color="#632323"/><stop offset="0.989" stop-color="#2d0d0d"/><stop offset="1.000" stop-color="#220909"/></linearGradient><linearGradient id="g0_15" gradientUnits="userSpaceOnUse" x1="-36.6" x2="36.6"><stop offset="0.000" stop-color="#943636"/><stop offset="0.014" stop-color="#a03b3b"/><stop offset="0.261" stop-color="#b14242"/><stop offset="0.552" stop-color="#993939"/><stop offset="0.825" stop-color="#682525"/><stop offset="0.989" stop-color="#2c0d0d"/><stop offset="1.000" stop-color="#210808"/></linearGradient><linearGradient id="g0_16" gradientUnits="userSpaceOnUse" x1="-38.9" x2="38.9"><stop offset="0.000" stop-color="#963737"/><stop offset="0.014" stop-color="#a33c3c"/><stop offset="0.261" stop-color="#b44444"/><stop offset="0.565" stop-color="#9c3a3a"/><stop offset="0.835" stop-color="#682525"/><stop offset="0.983" stop-color="#300e0e"/><stop offset="1.000" stop-color="#200808"/></linearGradient><linearGradient id="g0_17" gradientUnits="userSpaceOnUse" x1="-41.7" x2="41.7"><stop offset="0.000" stop-color="#993838"/><stop offset="0.011" stop-color="#a53d3d"/><stop offset="0.228" stop-color="#b74545"/><stop offset="0.513" stop-color="#a73f3f"/><stop offset="0.804" stop-color="#732929"/><stop offset="0.939" stop-color="#451717"/><stop offset="0.998" stop-color="#230909"/><stop offset="1.000" stop-color="#1e0707"/></linearGradient><linearGradient id="g0_18" gradientUnits="userSpaceOnUse" x1="-44.3" x2="44.3"><stop offset="0.000" stop-color="#9b3939"/><stop offset="0.011" stop-color="#a73e3e"/><stop offset="0.206" stop-color="#ba4646"/><stop offset="0.474" stop-color="#af4242"/><stop offset="0.727" stop-color="#873232"/><stop offset="0.897" stop-color="#591f1f"/><stop offset="0.994" stop-color="#270b0b"/><stop offset="1.000" stop-color="#1d0707"/></linearGradient><linearGradient id="g0_19" gradientUnits="userSpaceOnUse" x1="-46.9" x2="46.9"><stop offset="0.000" stop-color="#9d3a3a"/><stop offset="0.011" stop-color="#a93f3f"/><stop offset="0.185" stop-color="#bc4747"/><stop offset="0.461" stop-color="#b54545"/><stop offset="0.679" stop-color="#943737"/><stop offset="0.872" stop-color="#642323"/><stop offset="0.979" stop-color="#320f0f"/><stop offset="1.000" stop-color="#1c0606"/></linearGradient><linearGradient id="g0_20" gradientUnits="userSpaceOnUse" x1="-49.4" x2="49.4"><stop offset="0.000" stop-color="#9f3a3a"/><stop offset="0.011" stop-color="#ab3f3f"/><stop offset="0.185" stop-color="#be4848"/><stop offset="0.487" stop-color="#b74646"/><stop offset="0.715" stop-color="#8f3535"/><stop offset="0.897" stop-color="#5d2020"/><stop offset="0.986" stop-color="#2d0d0d"/><stop offset="1.000" stop-color="#1b0606"/></linearGradient><linearGradient id="g0_21" gradientUnits="userSpaceOnUse" x1="-51.9" x2="51.9"><stop offset="0.000" stop-color="#a03b3b"/><stop offset="0.011" stop-color="#ad4040"/><stop offset="0.185" stop-color="#c14949"/><stop offset="0.474" stop-color="#bc4848"/><stop offset="0.691" stop-color="#993939"/><stop offset="0.905" stop-color="#5b2020"/><stop offset="0.989" stop-color="#2b0c0c"/><stop offset="1.000" stop-color="#1a0505"/></linearGradient><linearGradient id="g0_22" gradientUnits="userSpaceOnUse" x1="-54.3" x2="54.3"><stop offset="0.000" stop-color="#a13c3c"/><stop offset="0.008" stop-color="#ad4040"/><stop offset="0.175" stop-color="#c34a4a"/><stop offset="0.461" stop-color="#c14b4b"/><stop offset="0.679" stop-color="#9f3c3c"/><stop offset="0.905" stop-color="#5d2020"/><stop offset="0.989" stop-color="#2c0d0d"/><stop offset="1.000" stop-color="#190505"/></linearGradient><linearGradient id="g0_23" gradientUnits="userSpaceOnUse" x1="-57.1" x2="57.1"><stop offset="0.000" stop-color="#a33c3c"/><stop offset="0.008" stop-color="#ae4141"/><stop offset="0.175" stop-color="#c54b4b"/><stop offset="0.448" stop-color="#c64d4d"/><stop offset="0.667" stop-color="#a53f3f"/><stop offset="0.897" stop-color="#622222"/><stop offset="0.986" stop-color="#2f0e0e"/><stop offset="1.000" stop-color="#190505"/><stop offset="1.000" stop-color="#180505"/></linearGradient><linearGradient id="g0_24" gradientUnits="userSpaceOnUse" x1="-60.2" x2="60.2"><stop offset="0.000" stop-color="#a43d3d"/><stop offset="0.008" stop-color="#b04141"/><stop offset="0.175" stop-color="#c84c4c"/><stop offset="0.435" stop-color="#ca4f4f"/><stop offset="0.642" stop-color="#af4343"/><stop offset="0.880" stop-color="#6a2525"/><stop offset="0.983" stop-color="#330f0f"/><stop offset="0.998" stop-color="#1e0707"/><stop offset="1.000" stop-color="#170404"/></linearGradient><linearGradient id="g0_25" gradientUnits="userSpaceOnUse" x1="-63.7" x2="63.7"><stop offset="0.000" stop-color="#a53d3d"/><stop offset="0.008" stop-color="#b14242"/><stop offset="0.185" stop-color="#cc4e4e"/><stop offset="0.435" stop-color="#ce5151"/><stop offset="0.642" stop-color="#b24545"/><stop offset="0.872" stop-color="#6e2727"/><stop offset="0.976" stop-color="#3a1212"/><stop offset="0.997" stop-color="#220909"/><stop offset="1.000" stop-color="#160404"/></linearGradient><linearGradient id="g0_26" gradientUnits="userSpaceOnUse" x1="-67.5" x2="67.5"><stop offset="0.000" stop-color="#a63d3d"/><stop offset="0.008" stop-color="#b24242"/><stop offset="0.185" stop-color="#cf4f4f"/><stop offset="0.422" stop-color="#d35353"/><stop offset="0.629" stop-color="#b94848"/><stop offset="0.854" stop-color="#782b2b"/><stop offset="0.967" stop-color="#401515"/><stop offset="0.996" stop-color="#250a0a"/><stop offset="1.000" stop-color="#180505"/></linearGradient><linearGradient id="g0_27" gradientUnits="userSpaceOnUse" x1="-71.2" x2="71.2"><stop offset="0.000" stop-color="#a73e3e"/><stop offset="0.008" stop-color="#b34343"/><stop offset="0.185" stop-color="#d15151"/><stop offset="0.409" stop-color="#d75656"/><stop offset="0.617" stop-color="#bf4b4b"/><stop offset="0.825" stop-color="#853131"/><stop offset="0.946" stop-color="#4d1a1a"/><stop offset="0.994" stop-color="#2a0c0c"/><stop offset="1.000" stop-color="#1b0606"/></linearGradient><linearGradient id="g0_28" gradientUnits="userSpaceOnUse" x1="-75.3" x2="75.3"><stop offset="0.000" stop-color="#a83e3e"/><stop offset="0.008" stop-color="#b44343"/><stop offset="0.175" stop-color="#d35151"/><stop offset="0.409" stop-color="#db5858"/><stop offset="0.617" stop-color="#c24c4c"/><stop offset="0.825" stop-color="#873232"/><stop offset="0.939" stop-color="#521c1c"/><stop offset="0.996" stop-color="#290c0c"/><stop offset="1.000" stop-color="#1d0707"/></linearGradient><linearGradient id="g0_29" gradientUnits="userSpaceOnUse" x1="-79.7" x2="79.7"><stop offset="0.000" stop-color="#a83e3e"/><stop offset="0.008" stop-color="#b54343"/><stop offset="0.175" stop-color="#d65252"/><stop offset="0.396" stop-color="#e05a5a"/><stop offset="0.604" stop-color="#c84f4f"/><stop offset="0.794" stop-color="#933737"/><stop offset="0.912" stop-color="#632323"/><stop offset="0.994" stop-color="#2e0d0d"/><stop offset="1.000" stop-color="#200808"/></linearGradient><linearGradient id="g0_30" gradientUnits="userSpaceOnUse" x1="-84.0" x2="84.0"><stop offset="0.000" stop-color="#a93f3f"/><stop offset="0.008" stop-color="#b64444"/><stop offset="0.175" stop-color="#d85353"/><stop offset="0.396" stop-color="#e45d5d"/><stop offset="0.617" stop-color="#c84f4f"/><stop offset="0.825" stop-color="#8b3434"/><stop offset="0.933" stop-color="#581e1e"/><stop offset="0.994" stop-color="#300e0e"/><stop offset="1.000" stop-color="#220909"/></linearGradient><linearGradient id="g0_31" gradientUnits="userSpaceOnUse" x1="-88.3" x2="88.3"><stop offset="0.000" stop-color="#a93f3f"/><stop offset="0.008" stop-color="#b64444"/><stop offset="0.165" stop-color="#d95454"/><stop offset="0.396" stop-color="#e75f5f"/><stop offset="0.617" stop-color="#cb5151"/><stop offset="0.815" stop-color="#913636"/><stop offset="0.919" stop-color="#612222"/><stop offset="0.994" stop-color="#310f0f"/><stop offset="1.000" stop-color="#240909"/></linearGradient><linearGradient id="g0_32" gradientUnits="userSpaceOnUse" x1="-92.5" x2="92.5"><stop offset="0.000" stop-color="#aa3f3f"/><stop offset="0.008" stop-color="#b74444"/><stop offset="0.165" stop-color="#da5454"/><stop offset="0.396" stop-color="#eb6262"/><stop offset="0.617" stop-color="#cd5252"/><stop offset="0.815" stop-color="#923737"/><stop offset="0.919" stop-color="#622222"/><stop offset="0.996" stop-color="#310f0f"/><stop offset="1.000" stop-color="#260a0a"/></linearGradient><linearGradient id="g0_33" gradientUnits="userSpaceOnUse" x1="-96.7" x2="96.7"><stop offset="0.000" stop-color="#aa3f3f"/><stop offset="0.008" stop-color="#b74444"/><stop offset="0.156" stop-color="#db5555"/><stop offset="0.396" stop-color="#ef6464"/><stop offset="0.629" stop-color="#cd5252"/><stop offset="0.844" stop-color="#893333"/><stop offset="0.983" stop-color="#3f1414"/><stop offset="0.999" stop-color="#2c0d0d"/><stop offset="1.000" stop-color="#270b0b"/></linearGradient><linearGradient id="g0_34" gradientUnits="userSpaceOnUse" x1="-100.9" x2="100.9"><stop offset="0.000" stop-color="#aa3f3f"/><stop offset="0.008" stop-color="#b74444"/><stop offset="0.146" stop-color="#db5454"/><stop offset="0.396" stop-color="#f36767"/><stop offset="0.629" stop-color="#cf5353"/><stop offset="0.844" stop-color="#8a3333"/><stop offset="0.986" stop-color="#3d1414"/><stop offset="1.000" stop-color="#2b0c0c"/><stop offset="1.000" stop-color="#290b0b"/></linearGradient><linearGradient id="g0_35" gradientUnits="userSpaceOnUse" x1="-105.1" x2="105.1"><stop offset="0.000" stop-color="#aa3f3f"/><stop offset="0.008" stop-color="#b84444"/><stop offset="0.146" stop-color="#dc5555"/><stop offset="0.396" stop-color="#f66b6b"/><stop offset="0.642" stop-color="#cd5252"/><stop offset="0.863" stop-color="#833030"/><stop offset="0.994" stop-color="#381111"/><stop offset="1.000" stop-color="#2a0c0c"/></linearGradient><linearGradient id="g0_36" gradientUnits="userSpaceOnUse" x1="-109.3" x2="109.3"><stop offset="0.000" stop-color="#aa3f3f"/><stop offset="0.008" stop-color="#b84545"/><stop offset="0.137" stop-color="#db5555"/><stop offset="0.396" stop-color="#fb6e6e"/><stop offset="0.642" stop-color="#cf5353"/><stop offset="0.854" stop-color="#883232"/><stop offset="0.992" stop-color="#3c1313"/><stop offset="1.000" stop-color="#2e0d0d"/><stop offset="1.000" stop-color="#2b0c0c"/></linearGradient><linearGradient id="g0_37" gradientUnits="userSpaceOnUse" x1="-113.4" x2="113.4"><stop offset="0.000" stop-color="#ab3f3f"/><stop offset="0.008" stop-color="#b84545"/><stop offset="0.137" stop-color="#dc5555"/><stop offset="0.396" stop-color="#ff7272"/><stop offset="0.655" stop-color="#cd5353"/><stop offset="0.863" stop-color="#853131"/><stop offset="0.994" stop-color="#3b1212"/><stop offset="1.000" stop-color="#2d0d0d"/></linearGradient><linearGradient id="g0_38" gradientUnits="userSpaceOnUse" x1="-117.5" x2="117.5"><stop offset="0.000" stop-color="#ab3f3f"/><stop offset="0.008" stop-color="#b84545"/><stop offset="0.128" stop-color="#dc5555"/><stop offset="0.371" stop-color="#ff7474"/><stop offset="0.461" stop-color="#fa6e6e"/><stop offset="0.715" stop-color="#bd4b4b"/><stop offset="0.897" stop-color="#762b2b"/><stop offset="0.996" stop-color="#3a1212"/><stop offset="1.000" stop-color="#2e0d0d"/></linearGradient><linearGradient id="g0_39" gradientUnits="userSpaceOnUse" x1="-121.6" x2="121.6"><stop offset="0.000" stop-color="#ab3f3f"/><stop offset="0.008" stop-color="#b84545"/><stop offset="0.128" stop-color="#dc5555"/><stop offset="0.333" stop-color="#ff7171"/><stop offset="0.409" stop-color="#ff7979"/><stop offset="0.474" stop-color="#fa6f6f"/><stop offset="0.727" stop-color="#ba4949"/><stop offset="0.897" stop-color="#772b2b"/><stop offset="0.996" stop-color="#3b1212"/><stop offset="1.000" stop-color="#2f0e0e"/></linearGradient><linearGradient id="g0_40" gradientUnits="userSpaceOnUse" x1="-125.7" x2="125.7"><stop offset="0.000" stop-color="#ab3f3f"/><stop offset="0.008" stop-color="#b84545"/><stop offset="0.120" stop-color="#db5454"/><stop offset="0.309" stop-color="#fe6e6e"/><stop offset="0.396" stop-color="#ff7d7d"/><stop offset="0.474" stop-color="#fd7171"/><stop offset="0.739" stop-color="#b74848"/><stop offset="0.912" stop-color="#702828"/><stop offset="0.997" stop-color="#391212"/><stop offset="1.000" stop-color="#300e0e"/></linearGradient><linearGradient id="g0_41" gradientUnits="userSpaceOnUse" x1="-129.4" x2="129.4"><stop offset="0.000" stop-color="#ab3f3f"/><stop offset="0.008" stop-color="#b84545"/><stop offset="0.120" stop-color="#dc5555"/><stop offset="0.297" stop-color="#fe6d6d"/><stop offset="0.396" stop-color="#ff8181"/><stop offset="0.487" stop-color="#fb7070"/><stop offset="0.750" stop-color="#b44747"/><stop offset="0.926" stop-color="#6a2525"/><stop offset="0.997" stop-color="#3a1212"/><stop offset="1.000" stop-color="#310e0e"/></linearGradient><clipPath id="cs1"><path transform="translate(615.55 1472.2) rotate(35)" d="M-131.0 -232.9 Q0 232.9 131.0 -232.9Z"/></clipPath><linearGradient id="g1_0" gradientUnits="userSpaceOnUse" x1="-5.1" x2="5.1"><stop offset="0.000" stop-color="#913535"/><stop offset="0.321" stop-color="#933636"/><stop offset="0.983" stop-color="#7a2c2c"/><stop offset="1.000" stop-color="#772a2a"/></linearGradient><linearGradient id="g1_1" gradientUnits="userSpaceOnUse" x1="-8.9" x2="8.9"><stop offset="0.000" stop-color="#993838"/><stop offset="0.120" stop-color="#a13b3b"/><stop offset="0.783" stop-color="#893232"/><stop offset="1.000" stop-color="#722828"/><stop offset="1.000" stop-color="#712828"/></linearGradient><linearGradient id="g1_2" gradientUnits="userSpaceOnUse" x1="-11.5" x2="11.5"><stop offset="0.000" stop-color="#9e3a3a"/><stop offset="0.081" stop-color="#a73e3e"/><stop offset="0.617" stop-color="#953737"/><stop offset="0.971" stop-color="#762a2a"/><stop offset="1.000" stop-color="#6d2727"/></linearGradient><linearGradient id="g1_3" gradientUnits="userSpaceOnUse" x1="-13.6" x2="13.6"><stop offset="0.000" stop-color="#a13b3b"/><stop offset="0.061" stop-color="#ac4040"/><stop offset="0.487" stop-color="#9f3b3b"/><stop offset="0.897" stop-color="#7e2e2e"/><stop offset="0.999" stop-color="#6b2626"/><stop offset="1.000" stop-color="#692525"/></linearGradient><linearGradient id="g1_4" gradientUnits="userSpaceOnUse" x1="-16.4" x2="16.4"><stop offset="0.000" stop-color="#a43d3d"/><stop offset="0.043" stop-color="#b04141"/><stop offset="0.358" stop-color="#aa3f3f"/><stop offset="0.804" stop-color="#893232"/><stop offset="0.994" stop-color="#6a2525"/><stop offset="1.000" stop-color="#642323"/></linearGradient><linearGradient id="g1_5" gradientUnits="userSpaceOnUse" x1="-18.8" x2="18.8"><stop offset="0.000" stop-color="#a63e3e"/><stop offset="0.033" stop-color="#b24242"/><stop offset="0.285" stop-color="#b14242"/><stop offset="0.703" stop-color="#963737"/><stop offset="0.983" stop-color="#6a2626"/><stop offset="1.000" stop-color="#602121"/></linearGradient><linearGradient id="g1_6" gradientUnits="userSpaceOnUse" x1="-21.0" x2="21.0"><stop offset="0.000" stop-color="#a83e3e"/><stop offset="0.029" stop-color="#b44343"/><stop offset="0.297" stop-color="#b64444"/><stop offset="0.691" stop-color="#9b3939"/><stop offset="0.983" stop-color="#672424"/><stop offset="1.000" stop-color="#5c2020"/></linearGradient><linearGradient id="g1_7" gradientUnits="userSpaceOnUse" x1="-23.6" x2="23.6"><stop offset="0.000" stop-color="#a93f3f"/><stop offset="0.024" stop-color="#b64444"/><stop offset="0.297" stop-color="#bc4747"/><stop offset="0.679" stop-color="#a03b3b"/><stop offset="0.971" stop-color="#672424"/><stop offset="1.000" stop-color="#571e1e"/></linearGradient><linearGradient id="g1_8" gradientUnits="userSpaceOnUse" x1="-26.1" x2="26.1"><stop offset="0.000" stop-color="#aa3f3f"/><stop offset="0.021" stop-color="#b74444"/><stop offset="0.273" stop-color="#c14949"/><stop offset="0.629" stop-color="#a93f3f"/><stop offset="0.854" stop-color="#812f2f"/><stop offset="0.994" stop-color="#5b1f1f"/><stop offset="1.000" stop-color="#531c1c"/></linearGradient><linearGradient id="g1_9" gradientUnits="userSpaceOnUse" x1="-28.4" x2="28.4"><stop offset="0.000" stop-color="#ab3f3f"/><stop offset="0.017" stop-color="#b74444"/><stop offset="0.239" stop-color="#c54a4a"/><stop offset="0.539" stop-color="#b54444"/><stop offset="0.783" stop-color="#923636"/><stop offset="0.983" stop-color="#5e2020"/><stop offset="1.000" stop-color="#501b1b"/></linearGradient><linearGradient id="g1_10" gradientUnits="userSpaceOnUse" x1="-30.5" x2="30.5"><stop offset="0.000" stop-color="#ab3f3f"/><stop offset="0.017" stop-color="#b84444"/><stop offset="0.239" stop-color="#c94c4c"/><stop offset="0.539" stop-color="#b84545"/><stop offset="0.783" stop-color="#933636"/><stop offset="0.979" stop-color="#5d2020"/><stop offset="1.000" stop-color="#4e1a1a"/></linearGradient><linearGradient id="g1_11" gradientUnits="userSpaceOnUse" x1="-32.6" x2="32.6"><stop offset="0.000" stop-color="#ab3f3f"/><stop offset="0.014" stop-color="#b74444"/><stop offset="0.196" stop-color="#cc4d4d"/><stop offset="0.409" stop-color="#c54b4b"/><stop offset="0.691" stop-color="#a63e3e"/><stop offset="0.939" stop-color="#6a2626"/><stop offset="0.999" stop-color="#4d1a1a"/><stop offset="1.000" stop-color="#4c1919"/></linearGradient><linearGradient id="g1_12" gradientUnits="userSpaceOnUse" x1="-35.1" x2="35.1"><stop offset="0.000" stop-color="#aa3f3f"/><stop offset="0.014" stop-color="#b74444"/><stop offset="0.175" stop-color="#cf4f4f"/><stop offset="0.383" stop-color="#cc4e4e"/><stop offset="0.691" stop-color="#a73e3e"/><stop offset="0.919" stop-color="#702828"/><stop offset="0.996" stop-color="#4e1a1a"/><stop offset="1.000" stop-color="#491818"/></linearGradient><linearGradient id="g1_13" gradientUnits="userSpaceOnUse" x1="-38.0" x2="38.0"><stop offset="0.000" stop-color="#aa3f3f"/><stop offset="0.014" stop-color="#b74444"/><stop offset="0.146" stop-color="#d14f4f"/><stop offset="0.345" stop-color="#d35151"/><stop offset="0.691" stop-color="#a93f3f"/><stop offset="0.919" stop-color="#6f2828"/><stop offset="0.996" stop-color="#4b1919"/><stop offset="1.000" stop-color="#461717"/></linearGradient><linearGradient id="g1_14" gradientUnits="userSpaceOnUse" x1="-41.2" x2="41.2"><stop offset="0.000" stop-color="#a93f3f"/><stop offset="0.014" stop-color="#b74444"/><stop offset="0.120" stop-color="#d25050"/><stop offset="0.321" stop-color="#d95454"/><stop offset="0.642" stop-color="#b34444"/><stop offset="0.872" stop-color="#7e2e2e"/><stop offset="0.983" stop-color="#521c1c"/><stop offset="1.000" stop-color="#431616"/></linearGradient><linearGradient id="g1_15" gradientUnits="userSpaceOnUse" x1="-44.3" x2="44.3"><stop offset="0.000" stop-color="#a83e3e"/><stop offset="0.014" stop-color="#b84545"/><stop offset="0.120" stop-color="#d55151"/><stop offset="0.309" stop-color="#dd5656"/><stop offset="0.591" stop-color="#bd4848"/><stop offset="0.835" stop-color="#883232"/><stop offset="0.957" stop-color="#5d2020"/><stop offset="1.000" stop-color="#401515"/></linearGradient><linearGradient id="g1_16" gradientUnits="userSpaceOnUse" x1="-46.9" x2="46.9"><stop offset="0.000" stop-color="#a73e3e"/><stop offset="0.011" stop-color="#b74444"/><stop offset="0.103" stop-color="#d45151"/><stop offset="0.285" stop-color="#e15858"/><stop offset="0.500" stop-color="#cf5050"/><stop offset="0.815" stop-color="#8e3434"/><stop offset="0.951" stop-color="#5f2121"/><stop offset="1.000" stop-color="#3f1414"/><stop offset="1.000" stop-color="#3e1414"/></linearGradient><linearGradient id="g1_17" gradientUnits="userSpaceOnUse" x1="-49.4" x2="49.4"><stop offset="0.000" stop-color="#a63d3d"/><stop offset="0.008" stop-color="#b54343"/><stop offset="0.081" stop-color="#d14f4f"/><stop offset="0.228" stop-color="#e25858"/><stop offset="0.396" stop-color="#df5757"/><stop offset="0.617" stop-color="#bd4949"/><stop offset="0.880" stop-color="#7b2c2c"/><stop offset="0.979" stop-color="#4e1a1a"/><stop offset="1.000" stop-color="#3c1313"/></linearGradient><linearGradient id="g1_18" gradientUnits="userSpaceOnUse" x1="-52.3" x2="52.3"><stop offset="0.000" stop-color="#a53d3d"/><stop offset="0.006" stop-color="#b34343"/><stop offset="0.067" stop-color="#ce4e4e"/><stop offset="0.196" stop-color="#e35858"/><stop offset="0.358" stop-color="#e65b5b"/><stop offset="0.591" stop-color="#c64d4d"/><stop offset="0.889" stop-color="#772b2b"/><stop offset="0.983" stop-color="#4a1919"/><stop offset="1.000" stop-color="#3a1212"/></linearGradient><linearGradient id="g1_19" gradientUnits="userSpaceOnUse" x1="-55.5" x2="55.5"><stop offset="0.000" stop-color="#a63d3d"/><stop offset="0.008" stop-color="#b54343"/><stop offset="0.074" stop-color="#d25050"/><stop offset="0.239" stop-color="#ea5c5c"/><stop offset="0.409" stop-color="#e55b5b"/><stop offset="0.617" stop-color="#c34b4b"/><stop offset="0.912" stop-color="#6e2727"/><stop offset="0.994" stop-color="#3f1414"/><stop offset="1.000" stop-color="#371111"/></linearGradient><linearGradient id="g1_20" gradientUnits="userSpaceOnUse" x1="-58.7" x2="58.7"><stop offset="0.000" stop-color="#a73e3e"/><stop offset="0.006" stop-color="#b34343"/><stop offset="0.074" stop-color="#d35050"/><stop offset="0.228" stop-color="#ed5d5d"/><stop offset="0.396" stop-color="#eb5e5e"/><stop offset="0.617" stop-color="#c64d4d"/><stop offset="0.905" stop-color="#702828"/><stop offset="0.986" stop-color="#441616"/><stop offset="1.000" stop-color="#351010"/></linearGradient><linearGradient id="g1_21" gradientUnits="userSpaceOnUse" x1="-61.8" x2="61.8"><stop offset="0.000" stop-color="#a73e3e"/><stop offset="0.006" stop-color="#b44343"/><stop offset="0.081" stop-color="#d65252"/><stop offset="0.228" stop-color="#f05f5f"/><stop offset="0.396" stop-color="#ef6161"/><stop offset="0.617" stop-color="#c84e4e"/><stop offset="0.905" stop-color="#6f2828"/><stop offset="0.983" stop-color="#441616"/><stop offset="1.000" stop-color="#330f0f"/></linearGradient><linearGradient id="g1_22" gradientUnits="userSpaceOnUse" x1="-64.9" x2="64.9"><stop offset="0.000" stop-color="#a83e3e"/><stop offset="0.006" stop-color="#b54343"/><stop offset="0.081" stop-color="#d75252"/><stop offset="0.217" stop-color="#f16060"/><stop offset="0.383" stop-color="#f46464"/><stop offset="0.604" stop-color="#ce5151"/><stop offset="0.815" stop-color="#8e3434"/><stop offset="0.946" stop-color="#5c2020"/><stop offset="1.000" stop-color="#320f0f"/><stop offset="1.000" stop-color="#310f0f"/></linearGradient><linearGradient id="g1_23" gradientUnits="userSpaceOnUse" x1="-67.9" x2="67.9"><stop offset="0.000" stop-color="#a83e3e"/><stop offset="0.006" stop-color="#b64444"/><stop offset="0.074" stop-color="#d55252"/><stop offset="0.185" stop-color="#f05f5f"/><stop offset="0.358" stop-color="#fa6767"/><stop offset="0.552" stop-color="#db5858"/><stop offset="0.750" stop-color="#a53e3e"/><stop offset="0.946" stop-color="#5b1f1f"/><stop offset="1.000" stop-color="#310e0e"/><stop offset="1.000" stop-color="#300e0e"/></linearGradient><linearGradient id="g1_24" gradientUnits="userSpaceOnUse" x1="-70.9" x2="70.9"><stop offset="0.000" stop-color="#a83e3e"/><stop offset="0.006" stop-color="#b64444"/><stop offset="0.061" stop-color="#d15050"/><stop offset="0.165" stop-color="#ef5e5e"/><stop offset="0.358" stop-color="#fe6b6b"/><stop offset="0.526" stop-color="#e45c5c"/><stop offset="0.739" stop-color="#aa4141"/><stop offset="0.946" stop-color="#5a1f1f"/><stop offset="0.999" stop-color="#310f0f"/><stop offset="1.000" stop-color="#2e0d0d"/></linearGradient><linearGradient id="g1_25" gradientUnits="userSpaceOnUse" x1="-73.5" x2="73.5"><stop offset="0.000" stop-color="#a93e3e"/><stop offset="0.006" stop-color="#b64444"/><stop offset="0.061" stop-color="#d25050"/><stop offset="0.165" stop-color="#f05f5f"/><stop offset="0.345" stop-color="#ff6d6d"/><stop offset="0.448" stop-color="#f76969"/><stop offset="0.715" stop-color="#b44545"/><stop offset="0.946" stop-color="#591f1f"/><stop offset="0.999" stop-color="#300e0e"/><stop offset="1.000" stop-color="#2d0d0d"/></linearGradient><linearGradient id="g1_26" gradientUnits="userSpaceOnUse" x1="-76.0" x2="76.0"><stop offset="0.000" stop-color="#a93f3f"/><stop offset="0.006" stop-color="#b74444"/><stop offset="0.054" stop-color="#d15050"/><stop offset="0.165" stop-color="#f26060"/><stop offset="0.309" stop-color="#ff6c6c"/><stop offset="0.422" stop-color="#ff7070"/><stop offset="0.715" stop-color="#b54545"/><stop offset="0.946" stop-color="#591e1e"/><stop offset="0.999" stop-color="#2f0e0e"/><stop offset="1.000" stop-color="#2b0c0c"/></linearGradient><linearGradient id="g1_27" gradientUnits="userSpaceOnUse" x1="-78.6" x2="78.6"><stop offset="0.000" stop-color="#a93f3f"/><stop offset="0.006" stop-color="#b74444"/><stop offset="0.054" stop-color="#d25050"/><stop offset="0.165" stop-color="#f36060"/><stop offset="0.297" stop-color="#ff6d6d"/><stop offset="0.409" stop-color="#ff7575"/><stop offset="0.474" stop-color="#f96b6b"/><stop offset="0.739" stop-color="#ad4242"/><stop offset="0.951" stop-color="#551d1d"/><stop offset="0.999" stop-color="#2e0d0d"/><stop offset="1.000" stop-color="#2a0c0c"/></linearGradient><linearGradient id="g1_28" gradientUnits="userSpaceOnUse" x1="-80.7" x2="80.7"><stop offset="0.000" stop-color="#a93f3f"/><stop offset="0.006" stop-color="#b74444"/><stop offset="0.061" stop-color="#d55252"/><stop offset="0.165" stop-color="#f46161"/><stop offset="0.285" stop-color="#ff6d6d"/><stop offset="0.396" stop-color="#ff7a7a"/><stop offset="0.474" stop-color="#fc6e6e"/><stop offset="0.750" stop-color="#a94040"/><stop offset="0.951" stop-color="#541d1d"/><stop offset="0.999" stop-color="#2d0d0d"/><stop offset="1.000" stop-color="#2a0c0c"/></linearGradient><linearGradient id="g1_29" gradientUnits="userSpaceOnUse" x1="-82.9" x2="82.9"><stop offset="0.000" stop-color="#a93f3f"/><stop offset="0.006" stop-color="#b74444"/><stop offset="0.061" stop-color="#d65252"/><stop offset="0.175" stop-color="#f66262"/><stop offset="0.285" stop-color="#ff6f6f"/><stop offset="0.396" stop-color="#ff7e7e"/><stop offset="0.487" stop-color="#fa6d6d"/><stop offset="0.761" stop-color="#a63f3f"/><stop offset="0.951" stop-color="#541d1d"/><stop offset="0.999" stop-color="#2d0d0d"/><stop offset="1.000" stop-color="#290c0c"/></linearGradient><linearGradient id="g1_30" gradientUnits="userSpaceOnUse" x1="-85.1" x2="85.1"><stop offset="0.000" stop-color="#a93f3f"/><stop offset="0.006" stop-color="#b74444"/><stop offset="0.061" stop-color="#d75252"/><stop offset="0.175" stop-color="#f76363"/><stop offset="0.273" stop-color="#ff6e6e"/><stop offset="0.396" stop-color="#ff8282"/><stop offset="0.487" stop-color="#fd7070"/><stop offset="0.655" stop-color="#cb5050"/><stop offset="0.889" stop-color="#732929"/><stop offset="0.971" stop-color="#461717"/><stop offset="1.000" stop-color="#2b0c0c"/><stop offset="1.000" stop-color="#290b0b"/></linearGradient><linearGradient id="g1_31" gradientUnits="userSpaceOnUse" x1="-87.2" x2="87.2"><stop offset="0.000" stop-color="#a93f3f"/><stop offset="0.006" stop-color="#b74444"/><stop offset="0.061" stop-color="#d85353"/><stop offset="0.175" stop-color="#f86363"/><stop offset="0.285" stop-color="#ff7272"/><stop offset="0.396" stop-color="#ff8787"/><stop offset="0.500" stop-color="#fb6e6e"/><stop offset="0.667" stop-color="#c84e4e"/><stop offset="0.919" stop-color="#652323"/><stop offset="0.989" stop-color="#371111"/><stop offset="1.000" stop-color="#290b0b"/></linearGradient><linearGradient id="g1_32" gradientUnits="userSpaceOnUse" x1="-89.3" x2="89.3"><stop offset="0.000" stop-color="#a93f3f"/><stop offset="0.006" stop-color="#b84545"/><stop offset="0.061" stop-color="#d95353"/><stop offset="0.185" stop-color="#fa6464"/><stop offset="0.309" stop-color="#ff7a7a"/><stop offset="0.396" stop-color="#ff8b8b"/><stop offset="0.487" stop-color="#ff7575"/><stop offset="0.604" stop-color="#db5858"/><stop offset="0.783" stop-color="#9e3b3b"/><stop offset="0.946" stop-color="#571e1e"/><stop offset="1.000" stop-color="#2a0c0c"/><stop offset="1.000" stop-color="#290b0b"/></linearGradient><linearGradient id="g1_33" gradientUnits="userSpaceOnUse" x1="-91.5" x2="91.5"><stop offset="0.000" stop-color="#a93f3f"/><stop offset="0.006" stop-color="#b84545"/><stop offset="0.067" stop-color="#dd5555"/><stop offset="0.206" stop-color="#fe6767"/><stop offset="0.321" stop-color="#ff8181"/><stop offset="0.396" stop-color="#ff9090"/><stop offset="0.474" stop-color="#ff7d7d"/><stop offset="0.513" stop-color="#fa6e6e"/><stop offset="0.655" stop-color="#cd5151"/><stop offset="0.897" stop-color="#6f2828"/><stop offset="0.976" stop-color="#421515"/><stop offset="1.000" stop-color="#2a0c0c"/><stop offset="1.000" stop-color="#280b0b"/></linearGradient><linearGradient id="g1_34" gradientUnits="userSpaceOnUse" x1="-93.6" x2="93.6"><stop offset="0.000" stop-color="#a93f3f"/><stop offset="0.006" stop-color="#b84545"/><stop offset="0.067" stop-color="#de5555"/><stop offset="0.206" stop-color="#ff6868"/><stop offset="0.309" stop-color="#ff7f7f"/><stop offset="0.383" stop-color="#ff9595"/><stop offset="0.448" stop-color="#ff8b8b"/><stop offset="0.513" stop-color="#fd7070"/><stop offset="0.642" stop-color="#d15353"/><stop offset="0.872" stop-color="#7b2d2d"/><stop offset="0.971" stop-color="#451717"/><stop offset="1.000" stop-color="#2a0c0c"/><stop offset="1.000" stop-color="#280b0b"/></linearGradient><linearGradient id="g1_35" gradientUnits="userSpaceOnUse" x1="-95.3" x2="95.3"><stop offset="0.000" stop-color="#a93f3f"/><stop offset="0.006" stop-color="#b84545"/><stop offset="0.067" stop-color="#de5656"/><stop offset="0.206" stop-color="#ff6868"/><stop offset="0.297" stop-color="#ff7d7d"/><stop offset="0.383" stop-color="#ff9999"/><stop offset="0.435" stop-color="#ff9393"/><stop offset="0.513" stop-color="#fe7171"/><stop offset="0.629" stop-color="#d65555"/><stop offset="0.825" stop-color="#8e3535"/><stop offset="0.951" stop-color="#521c1c"/><stop offset="1.000" stop-color="#2a0c0c"/><stop offset="1.000" stop-color="#280b0b"/></linearGradient><linearGradient id="g1_36" gradientUnits="userSpaceOnUse" x1="-96.7" x2="96.7"><stop offset="0.000" stop-color="#a93f3f"/><stop offset="0.006" stop-color="#b84545"/><stop offset="0.074" stop-color="#e15757"/><stop offset="0.206" stop-color="#ff6868"/><stop offset="0.297" stop-color="#ff7e7e"/><stop offset="0.383" stop-color="#ff9d9d"/><stop offset="0.435" stop-color="#ff9696"/><stop offset="0.513" stop-color="#ff7373"/><stop offset="0.617" stop-color="#da5858"/><stop offset="0.804" stop-color="#973838"/><stop offset="0.946" stop-color="#561d1d"/><stop offset="1.000" stop-color="#290c0c"/><stop offset="1.000" stop-color="#280b0b"/></linearGradient><linearGradient id="g1_37" gradientUnits="userSpaceOnUse" x1="-98.1" x2="98.1"><stop offset="0.000" stop-color="#a93f3f"/><stop offset="0.006" stop-color="#b84545"/><stop offset="0.074" stop-color="#e25757"/><stop offset="0.206" stop-color="#ff6969"/><stop offset="0.297" stop-color="#ff7f7f"/><stop offset="0.383" stop-color="#ffa0a0"/><stop offset="0.435" stop-color="#ff9a9a"/><stop offset="0.526" stop-color="#fb6f6f"/><stop offset="0.655" stop-color="#cf5252"/><stop offset="0.880" stop-color="#782b2b"/><stop offset="0.976" stop-color="#411515"/><stop offset="1.000" stop-color="#290b0b"/><stop offset="1.000" stop-color="#270b0b"/></linearGradient><linearGradient id="g1_38" gradientUnits="userSpaceOnUse" x1="-99.5" x2="99.5"><stop offset="0.000" stop-color="#a93f3f"/><stop offset="0.006" stop-color="#b84545"/><stop offset="0.067" stop-color="#e05656"/><stop offset="0.196" stop-color="#ff6868"/><stop offset="0.285" stop-color="#ff7c7c"/><stop offset="0.383" stop-color="#ffa4a4"/><stop offset="0.435" stop-color="#ff9d9d"/><stop offset="0.526" stop-color="#fc7070"/><stop offset="0.642" stop-color="#d35454"/><stop offset="0.844" stop-color="#873131"/><stop offset="0.962" stop-color="#4b1919"/><stop offset="1.000" stop-color="#290b0b"/><stop offset="1.000" stop-color="#270b0b"/></linearGradient><linearGradient id="g1_39" gradientUnits="userSpaceOnUse" x1="-100.9" x2="100.9"><stop offset="0.000" stop-color="#a93f3f"/><stop offset="0.006" stop-color="#b84545"/><stop offset="0.067" stop-color="#e05656"/><stop offset="0.196" stop-color="#ff6868"/><stop offset="0.285" stop-color="#ff7d7d"/><stop offset="0.383" stop-color="#ffa8a8"/><stop offset="0.435" stop-color="#ffa0a0"/><stop offset="0.526" stop-color="#fd7171"/><stop offset="0.629" stop-color="#d75656"/><stop offset="0.804" stop-color="#983939"/><stop offset="0.939" stop-color="#591f1f"/><stop offset="0.999" stop-color="#2b0c0c"/><stop offset="1.000" stop-color="#270b0b"/></linearGradient><linearGradient id="g1_40" gradientUnits="userSpaceOnUse" x1="-102.3" x2="102.3"><stop offset="0.000" stop-color="#a93f3f"/><stop offset="0.006" stop-color="#b84545"/><stop offset="0.067" stop-color="#e15757"/><stop offset="0.196" stop-color="#ff6868"/><stop offset="0.285" stop-color="#ff7e7e"/><stop offset="0.371" stop-color="#ffa8a8"/><stop offset="0.409" stop-color="#ffabab"/><stop offset="0.474" stop-color="#ff8f8f"/><stop offset="0.526" stop-color="#fe7272"/><stop offset="0.629" stop-color="#d85757"/><stop offset="0.804" stop-color="#983939"/><stop offset="0.939" stop-color="#591e1e"/><stop offset="0.999" stop-color="#2b0c0c"/><stop offset="1.000" stop-color="#270b0b"/></linearGradient><linearGradient id="g1_41" gradientUnits="userSpaceOnUse" x1="-103.7" x2="103.7"><stop offset="0.000" stop-color="#a93f3f"/><stop offset="0.006" stop-color="#b84545"/><stop offset="0.067" stop-color="#e15757"/><stop offset="0.185" stop-color="#fe6767"/><stop offset="0.273" stop-color="#ff7a7a"/><stop offset="0.371" stop-color="#ffacac"/><stop offset="0.409" stop-color="#ffafaf"/><stop offset="0.474" stop-color="#ff9191"/><stop offset="0.526" stop-color="#ff7373"/><stop offset="0.617" stop-color="#dc5959"/><stop offset="0.804" stop-color="#983939"/><stop offset="0.939" stop-color="#591e1e"/><stop offset="0.999" stop-color="#2a0c0c"/><stop offset="1.000" stop-color="#270b0b"/></linearGradient><linearGradient id="g1_42" gradientUnits="userSpaceOnUse" x1="-105.1" x2="105.1"><stop offset="0.000" stop-color="#a93f3f"/><stop offset="0.006" stop-color="#b94545"/><stop offset="0.067" stop-color="#e15757"/><stop offset="0.185" stop-color="#ff6767"/><stop offset="0.273" stop-color="#ff7b7b"/><stop offset="0.371" stop-color="#ffb0b0"/><stop offset="0.409" stop-color="#ffb3b3"/><stop offset="0.461" stop-color="#ff9c9c"/><stop offset="0.526" stop-color="#ff7474"/><stop offset="0.617" stop-color="#dc5959"/><stop offset="0.794" stop-color="#9d3b3b"/><stop offset="0.933" stop-color="#5c2020"/><stop offset="0.998" stop-color="#2c0d0d"/><stop offset="1.000" stop-color="#270b0b"/></linearGradient><linearGradient id="g1_43" gradientUnits="userSpaceOnUse" x1="-106.5" x2="106.5"><stop offset="0.000" stop-color="#a93f3f"/><stop offset="0.006" stop-color="#b94545"/><stop offset="0.067" stop-color="#e25757"/><stop offset="0.185" stop-color="#ff6767"/><stop offset="0.273" stop-color="#ff7c7c"/><stop offset="0.371" stop-color="#ffb3b3"/><stop offset="0.409" stop-color="#ffb7b7"/><stop offset="0.461" stop-color="#ff9f9f"/><stop offset="0.539" stop-color="#fb6f6f"/><stop offset="0.642" stop-color="#d55555"/><stop offset="0.815" stop-color="#943737"/><stop offset="0.933" stop-color="#5c2020"/><stop offset="0.998" stop-color="#2c0d0d"/><stop offset="1.000" stop-color="#270a0a"/></linearGradient><linearGradient id="g1_44" gradientUnits="userSpaceOnUse" x1="-107.9" x2="107.9"><stop offset="0.000" stop-color="#a93f3f"/><stop offset="0.006" stop-color="#b94545"/><stop offset="0.067" stop-color="#e25757"/><stop offset="0.185" stop-color="#ff6868"/><stop offset="0.273" stop-color="#ff7d7d"/><stop offset="0.371" stop-color="#ffb7b7"/><stop offset="0.409" stop-color="#ffbbbb"/><stop offset="0.461" stop-color="#ffa2a2"/><stop offset="0.539" stop-color="#fc7070"/><stop offset="0.642" stop-color="#d55555"/><stop offset="0.804" stop-color="#993939"/><stop offset="0.933" stop-color="#5c2020"/><stop offset="0.998" stop-color="#2c0d0d"/><stop offset="1.000" stop-color="#270a0a"/></linearGradient><linearGradient id="g1_45" gradientUnits="userSpaceOnUse" x1="-109.2" x2="109.2"><stop offset="0.000" stop-color="#a93f3f"/><stop offset="0.006" stop-color="#b94545"/><stop offset="0.061" stop-color="#e05656"/><stop offset="0.165" stop-color="#fc6666"/><stop offset="0.261" stop-color="#ff7979"/><stop offset="0.371" stop-color="#ffbaba"/><stop offset="0.409" stop-color="#ffbfbf"/><stop offset="0.461" stop-color="#ffa5a5"/><stop offset="0.539" stop-color="#fd7171"/><stop offset="0.629" stop-color="#d95858"/><stop offset="0.804" stop-color="#993939"/><stop offset="0.933" stop-color="#5c2020"/><stop offset="0.999" stop-color="#2a0c0c"/><stop offset="1.000" stop-color="#260a0a"/></linearGradient><linearGradient id="g1_46" gradientUnits="userSpaceOnUse" x1="-110.6" x2="110.6"><stop offset="0.000" stop-color="#a93f3f"/><stop offset="0.006" stop-color="#b94545"/><stop offset="0.061" stop-color="#e05656"/><stop offset="0.156" stop-color="#fa6565"/><stop offset="0.261" stop-color="#ff7a7a"/><stop offset="0.371" stop-color="#ffbebe"/><stop offset="0.409" stop-color="#ffc2c2"/><stop offset="0.461" stop-color="#ffa8a8"/><stop offset="0.539" stop-color="#fe7272"/><stop offset="0.629" stop-color="#d95858"/><stop offset="0.804" stop-color="#993939"/><stop offset="0.933" stop-color="#5c2020"/><stop offset="0.999" stop-color="#2a0c0c"/><stop offset="1.000" stop-color="#260a0a"/></linearGradient><linearGradient id="g1_47" gradientUnits="userSpaceOnUse" x1="-112.0" x2="112.0"><stop offset="0.000" stop-color="#a93f3f"/><stop offset="0.006" stop-color="#b94545"/><stop offset="0.061" stop-color="#e05656"/><stop offset="0.156" stop-color="#fb6565"/><stop offset="0.250" stop-color="#ff7676"/><stop offset="0.309" stop-color="#ff9797"/><stop offset="0.371" stop-color="#ffc2c2"/><stop offset="0.409" stop-color="#ffc6c6"/><stop offset="0.461" stop-color="#ffabab"/><stop offset="0.539" stop-color="#ff7272"/><stop offset="0.629" stop-color="#da5858"/><stop offset="0.804" stop-color="#993a3a"/><stop offset="0.933" stop-color="#5c2020"/><stop offset="0.999" stop-color="#2a0c0c"/><stop offset="1.000" stop-color="#260a0a"/></linearGradient><linearGradient id="g1_48" gradientUnits="userSpaceOnUse" x1="-113.4" x2="113.4"><stop offset="0.000" stop-color="#a93f3f"/><stop offset="0.006" stop-color="#b94545"/><stop offset="0.061" stop-color="#e15757"/><stop offset="0.156" stop-color="#fb6565"/><stop offset="0.250" stop-color="#ff7676"/><stop offset="0.309" stop-color="#ff9999"/><stop offset="0.371" stop-color="#ffc5c5"/><stop offset="0.409" stop-color="#ffcaca"/><stop offset="0.461" stop-color="#ffadad"/><stop offset="0.539" stop-color="#ff7373"/><stop offset="0.617" stop-color="#de5a5a"/><stop offset="0.794" stop-color="#9f3c3c"/><stop offset="0.933" stop-color="#5c2020"/><stop offset="0.999" stop-color="#2a0c0c"/><stop offset="1.000" stop-color="#260a0a"/></linearGradient><linearGradient id="g1_49" gradientUnits="userSpaceOnUse" x1="-114.7" x2="114.7"><stop offset="0.000" stop-color="#a93f3f"/><stop offset="0.006" stop-color="#b94545"/><stop offset="0.061" stop-color="#e15757"/><stop offset="0.156" stop-color="#fb6565"/><stop offset="0.250" stop-color="#ff7777"/><stop offset="0.309" stop-color="#ff9b9b"/><stop offset="0.371" stop-color="#ffc9c9"/><stop offset="0.409" stop-color="#ffcece"/><stop offset="0.448" stop-color="#ffbbbb"/><stop offset="0.539" stop-color="#ff7474"/><stop offset="0.617" stop-color="#de5b5b"/><stop offset="0.794" stop-color="#9f3c3c"/><stop offset="0.933" stop-color="#5c2020"/><stop offset="0.999" stop-color="#290c0c"/><stop offset="1.000" stop-color="#260a0a"/></linearGradient><linearGradient id="g1_50" gradientUnits="userSpaceOnUse" x1="-116.1" x2="116.1"><stop offset="0.000" stop-color="#a93f3f"/><stop offset="0.006" stop-color="#b94545"/><stop offset="0.061" stop-color="#e15757"/><stop offset="0.156" stop-color="#fc6565"/><stop offset="0.250" stop-color="#ff7878"/><stop offset="0.309" stop-color="#ff9c9c"/><stop offset="0.371" stop-color="#ffcccc"/><stop offset="0.409" stop-color="#ffd2d2"/><stop offset="0.448" stop-color="#ffbebe"/><stop offset="0.539" stop-color="#ff7575"/><stop offset="0.617" stop-color="#df5b5b"/><stop offset="0.794" stop-color="#9f3c3c"/><stop offset="0.933" stop-color="#5c2020"/><stop offset="0.999" stop-color="#290c0c"/><stop offset="1.000" stop-color="#260a0a"/></linearGradient><linearGradient id="g1_51" gradientUnits="userSpaceOnUse" x1="-117.5" x2="117.5"><stop offset="0.000" stop-color="#a93f3f"/><stop offset="0.006" stop-color="#b94545"/><stop offset="0.061" stop-color="#e15757"/><stop offset="0.156" stop-color="#fc6565"/><stop offset="0.250" stop-color="#ff7878"/><stop offset="0.309" stop-color="#ff9e9e"/><stop offset="0.371" stop-color="#ffd0d0"/><stop offset="0.409" stop-color="#ffd6d6"/><stop offset="0.448" stop-color="#ffc1c1"/><stop offset="0.539" stop-color="#ff7676"/><stop offset="0.617" stop-color="#df5b5b"/><stop offset="0.794" stop-color="#9f3c3c"/><stop offset="0.933" stop-color="#5c2020"/><stop offset="0.999" stop-color="#290b0b"/><stop offset="1.000" stop-color="#260a0a"/></linearGradient><linearGradient id="g1_52" gradientUnits="userSpaceOnUse" x1="-118.8" x2="118.8"><stop offset="0.000" stop-color="#a93e3e"/><stop offset="0.006" stop-color="#b94545"/><stop offset="0.061" stop-color="#e25757"/><stop offset="0.156" stop-color="#fc6666"/><stop offset="0.250" stop-color="#ff7979"/><stop offset="0.309" stop-color="#ffa0a0"/><stop offset="0.371" stop-color="#ffd3d3"/><stop offset="0.409" stop-color="#ffdada"/><stop offset="0.448" stop-color="#ffc4c4"/><stop offset="0.526" stop-color="#ff7f7f"/><stop offset="0.565" stop-color="#f46a6a"/><stop offset="0.715" stop-color="#bf4b4b"/><stop offset="0.919" stop-color="#652323"/><stop offset="0.998" stop-color="#2b0c0c"/><stop offset="1.000" stop-color="#260a0a"/></linearGradient><linearGradient id="g1_53" gradientUnits="userSpaceOnUse" x1="-120.2" x2="120.2"><stop offset="0.000" stop-color="#a93e3e"/><stop offset="0.006" stop-color="#b94545"/><stop offset="0.061" stop-color="#e25757"/><stop offset="0.156" stop-color="#fd6666"/><stop offset="0.250" stop-color="#ff7979"/><stop offset="0.309" stop-color="#ffa2a2"/><stop offset="0.371" stop-color="#ffd7d7"/><stop offset="0.409" stop-color="#ffdede"/><stop offset="0.448" stop-color="#ffc7c7"/><stop offset="0.526" stop-color="#ff8080"/><stop offset="0.565" stop-color="#f56a6a"/><stop offset="0.703" stop-color="#c44d4d"/><stop offset="0.919" stop-color="#652323"/><stop offset="0.998" stop-color="#2b0c0c"/><stop offset="1.000" stop-color="#250a0a"/></linearGradient><linearGradient id="g1_54" gradientUnits="userSpaceOnUse" x1="-121.6" x2="121.6"><stop offset="0.000" stop-color="#a93e3e"/><stop offset="0.006" stop-color="#b94545"/><stop offset="0.054" stop-color="#df5656"/><stop offset="0.137" stop-color="#fa6464"/><stop offset="0.239" stop-color="#ff7575"/><stop offset="0.297" stop-color="#ff9898"/><stop offset="0.371" stop-color="#ffdbdb"/><stop offset="0.409" stop-color="#ffe1e1"/><stop offset="0.448" stop-color="#ffcbcb"/><stop offset="0.526" stop-color="#ff8181"/><stop offset="0.552" stop-color="#fd7171"/><stop offset="0.642" stop-color="#d85757"/><stop offset="0.804" stop-color="#9b3a3a"/><stop offset="0.933" stop-color="#5c2020"/><stop offset="0.999" stop-color="#290b0b"/><stop offset="1.000" stop-color="#250a0a"/></linearGradient><linearGradient id="g1_55" gradientUnits="userSpaceOnUse" x1="-122.9" x2="122.9"><stop offset="0.000" stop-color="#a93e3e"/><stop offset="0.006" stop-color="#b94545"/><stop offset="0.054" stop-color="#df5656"/><stop offset="0.137" stop-color="#fa6464"/><stop offset="0.239" stop-color="#ff7676"/><stop offset="0.285" stop-color="#ff9090"/><stop offset="0.371" stop-color="#ffdede"/><stop offset="0.409" stop-color="#ffe5e5"/><stop offset="0.448" stop-color="#ffcece"/><stop offset="0.526" stop-color="#ff8282"/><stop offset="0.552" stop-color="#fd7171"/><stop offset="0.629" stop-color="#dc5959"/><stop offset="0.804" stop-color="#9b3a3a"/><stop offset="0.933" stop-color="#5c2020"/><stop offset="0.999" stop-color="#290b0b"/><stop offset="1.000" stop-color="#250a0a"/></linearGradient><linearGradient id="g1_56" gradientUnits="userSpaceOnUse" x1="-124.3" x2="124.3"><stop offset="0.000" stop-color="#a93e3e"/><stop offset="0.006" stop-color="#b94545"/><stop offset="0.054" stop-color="#e05656"/><stop offset="0.137" stop-color="#fb6464"/><stop offset="0.239" stop-color="#ff7676"/><stop offset="0.285" stop-color="#ff9191"/><stop offset="0.371" stop-color="#ffe2e2"/><stop offset="0.409" stop-color="#ffe9e9"/><stop offset="0.448" stop-color="#ffd1d1"/><stop offset="0.526" stop-color="#ff8383"/><stop offset="0.552" stop-color="#fe7272"/><stop offset="0.629" stop-color="#dc5a5a"/><stop offset="0.804" stop-color="#9b3a3a"/><stop offset="0.933" stop-color="#5c2020"/><stop offset="0.999" stop-color="#290b0b"/><stop offset="1.000" stop-color="#250a0a"/></linearGradient><linearGradient id="g1_57" gradientUnits="userSpaceOnUse" x1="-125.7" x2="125.7"><stop offset="0.000" stop-color="#a83e3e"/><stop offset="0.006" stop-color="#b94545"/><stop offset="0.054" stop-color="#e05656"/><stop offset="0.137" stop-color="#fb6464"/><stop offset="0.239" stop-color="#ff7676"/><stop offset="0.285" stop-color="#ff9292"/><stop offset="0.371" stop-color="#ffe5e5"/><stop offset="0.409" stop-color="#ffeded"/><stop offset="0.448" stop-color="#ffd4d4"/><stop offset="0.526" stop-color="#ff8484"/><stop offset="0.552" stop-color="#ff7373"/><stop offset="0.629" stop-color="#dd5a5a"/><stop offset="0.804" stop-color="#9b3a3a"/><stop offset="0.933" stop-color="#5c2020"/><stop offset="0.999" stop-color="#290b0b"/><stop offset="1.000" stop-color="#250a0a"/></linearGradient><linearGradient id="g1_58" gradientUnits="userSpaceOnUse" x1="-127.0" x2="127.0"><stop offset="0.000" stop-color="#a83e3e"/><stop offset="0.006" stop-color="#b94545"/><stop offset="0.054" stop-color="#e05656"/><stop offset="0.137" stop-color="#fb6565"/><stop offset="0.239" stop-color="#ff7777"/><stop offset="0.285" stop-color="#ff9393"/><stop offset="0.371" stop-color="#ffe8e8"/><stop offset="0.409" stop-color="#fff0f0"/><stop offset="0.448" stop-color="#ffd7d7"/><stop offset="0.526" stop-color="#ff8585"/><stop offset="0.552" stop-color="#ff7373"/><stop offset="0.629" stop-color="#dd5a5a"/><stop offset="0.804" stop-color="#9b3a3a"/><stop offset="0.933" stop-color="#5c2020"/><stop offset="0.999" stop-color="#280b0b"/><stop offset="1.000" stop-color="#250a0a"/></linearGradient><linearGradient id="g1_59" gradientUnits="userSpaceOnUse" x1="-128.4" x2="128.4"><stop offset="0.000" stop-color="#a83e3e"/><stop offset="0.006" stop-color="#b94545"/><stop offset="0.054" stop-color="#e05656"/><stop offset="0.137" stop-color="#fb6565"/><stop offset="0.239" stop-color="#ff7777"/><stop offset="0.285" stop-color="#ff9494"/><stop offset="0.371" stop-color="#ffecec"/><stop offset="0.396" stop-color="#fff5f5"/><stop offset="0.435" stop-color="#ffe6e6"/><stop offset="0.526" stop-color="#ff8686"/><stop offset="0.552" stop-color="#ff7474"/><stop offset="0.629" stop-color="#dd5a5a"/><stop offset="0.804" stop-color="#9c3b3b"/><stop offset="0.933" stop-color="#5c2020"/><stop offset="0.999" stop-color="#280b0b"/><stop offset="1.000" stop-color="#250a0a"/></linearGradient><linearGradient id="g1_60" gradientUnits="userSpaceOnUse" x1="-129.7" x2="129.7"><stop offset="0.000" stop-color="#a83e3e"/><stop offset="0.006" stop-color="#b94545"/><stop offset="0.054" stop-color="#e15757"/><stop offset="0.137" stop-color="#fc6565"/><stop offset="0.239" stop-color="#ff7777"/><stop offset="0.285" stop-color="#ff9595"/><stop offset="0.371" stop-color="#ffefef"/><stop offset="0.396" stop-color="#fff9f9"/><stop offset="0.435" stop-color="#ffe9e9"/><stop offset="0.526" stop-color="#ff8787"/><stop offset="0.552" stop-color="#ff7474"/><stop offset="0.629" stop-color="#dd5a5a"/><stop offset="0.804" stop-color="#9c3b3b"/><stop offset="0.933" stop-color="#5c2020"/><stop offset="0.999" stop-color="#280b0b"/><stop offset="1.000" stop-color="#250a0a"/></linearGradient><linearGradient id="g1_61" gradientUnits="userSpaceOnUse" x1="-130.8" x2="130.8"><stop offset="0.000" stop-color="#a83e3e"/><stop offset="0.006" stop-color="#b94545"/><stop offset="0.054" stop-color="#e15757"/><stop offset="0.137" stop-color="#fc6565"/><stop offset="0.239" stop-color="#ff7878"/><stop offset="0.285" stop-color="#ff9696"/><stop offset="0.371" stop-color="#fff2f2"/><stop offset="0.396" stop-color="#fffcfc"/><stop offset="0.435" stop-color="#ffebeb"/><stop offset="0.526" stop-color="#ff8888"/><stop offset="0.552" stop-color="#ff7575"/><stop offset="0.629" stop-color="#de5a5a"/><stop offset="0.804" stop-color="#9c3b3b"/><stop offset="0.933" stop-color="#5c2020"/><stop offset="0.999" stop-color="#280b0b"/><stop offset="1.000" stop-color="#250a0a"/></linearGradient><clipPath id="cs2"><path transform="translate(945.2 1425.2) rotate(56.8)" d="M-131.0 -232.9 Q0 232.9 131.0 -232.9Z"/></clipPath><linearGradient id="g2_0" gradientUnits="userSpaceOnUse" x1="-5.1" x2="5.1"><stop offset="0.000" stop-color="#a83e3e"/><stop offset="0.321" stop-color="#af4141"/><stop offset="0.962" stop-color="#9f3b3b"/><stop offset="1.000" stop-color="#9a3838"/></linearGradient><linearGradient id="g2_1" gradientUnits="userSpaceOnUse" x1="-8.9" x2="8.9"><stop offset="0.000" stop-color="#aa3f3f"/><stop offset="0.128" stop-color="#b54444"/><stop offset="0.679" stop-color="#ae4040"/><stop offset="0.986" stop-color="#973737"/><stop offset="1.000" stop-color="#913535"/></linearGradient><linearGradient id="g2_2" gradientUnits="userSpaceOnUse" x1="-11.5" x2="11.5"><stop offset="0.000" stop-color="#ab3f3f"/><stop offset="0.081" stop-color="#b74444"/><stop offset="0.513" stop-color="#b64444"/><stop offset="0.926" stop-color="#9c3939"/><stop offset="1.000" stop-color="#8b3333"/></linearGradient><linearGradient id="g2_3" gradientUnits="userSpaceOnUse" x1="-13.6" x2="13.6"><stop offset="0.000" stop-color="#ab3f3f"/><stop offset="0.061" stop-color="#b84444"/><stop offset="0.409" stop-color="#bb4646"/><stop offset="0.854" stop-color="#a23c3c"/><stop offset="0.996" stop-color="#8a3232"/><stop offset="1.000" stop-color="#863131"/></linearGradient><linearGradient id="g2_4" gradientUnits="userSpaceOnUse" x1="-15.5" x2="15.5"><stop offset="0.000" stop-color="#aa3f3f"/><stop offset="0.049" stop-color="#b84444"/><stop offset="0.358" stop-color="#be4747"/><stop offset="0.825" stop-color="#a43d3d"/><stop offset="0.986" stop-color="#8a3232"/><stop offset="1.000" stop-color="#812f2f"/></linearGradient><linearGradient id="g2_5" gradientUnits="userSpaceOnUse" x1="-17.2" x2="17.2"><stop offset="0.000" stop-color="#a93f3f"/><stop offset="0.038" stop-color="#b74444"/><stop offset="0.309" stop-color="#c24949"/><stop offset="0.739" stop-color="#ac4040"/><stop offset="0.962" stop-color="#8e3434"/><stop offset="1.000" stop-color="#7e2d2d"/><stop offset="1.000" stop-color="#7d2d2d"/></linearGradient><linearGradient id="g2_6" gradientUnits="userSpaceOnUse" x1="-18.8" x2="18.8"><stop offset="0.000" stop-color="#a93e3e"/><stop offset="0.033" stop-color="#b64444"/><stop offset="0.250" stop-color="#c54a4a"/><stop offset="0.617" stop-color="#b74444"/><stop offset="0.933" stop-color="#933636"/><stop offset="0.997" stop-color="#7e2d2d"/><stop offset="1.000" stop-color="#792b2b"/></linearGradient><linearGradient id="g2_7" gradientUnits="userSpaceOnUse" x1="-21.0" x2="21.0"><stop offset="0.000" stop-color="#a73e3e"/><stop offset="0.033" stop-color="#b84545"/><stop offset="0.217" stop-color="#c84c4c"/><stop offset="0.552" stop-color="#c04848"/><stop offset="0.905" stop-color="#963737"/><stop offset="0.994" stop-color="#7e2d2d"/><stop offset="1.000" stop-color="#772a2a"/></linearGradient><linearGradient id="g2_8" gradientUnits="userSpaceOnUse" x1="-23.6" x2="23.6"><stop offset="0.000" stop-color="#a53d3d"/><stop offset="0.017" stop-color="#b44343"/><stop offset="0.146" stop-color="#ca4c4c"/><stop offset="0.383" stop-color="#cd4e4e"/><stop offset="0.715" stop-color="#b34343"/><stop offset="0.967" stop-color="#873131"/><stop offset="1.000" stop-color="#742929"/></linearGradient><linearGradient id="g2_9" gradientUnits="userSpaceOnUse" x1="-26.1" x2="26.1"><stop offset="0.000" stop-color="#a63d3d"/><stop offset="0.014" stop-color="#b34343"/><stop offset="0.120" stop-color="#ca4c4c"/><stop offset="0.321" stop-color="#d45151"/><stop offset="0.655" stop-color="#bd4747"/><stop offset="0.957" stop-color="#883131"/><stop offset="1.000" stop-color="#732929"/><stop offset="1.000" stop-color="#712828"/></linearGradient><linearGradient id="g2_10" gradientUnits="userSpaceOnUse" x1="-28.4" x2="28.4"><stop offset="0.000" stop-color="#a73e3e"/><stop offset="0.014" stop-color="#b54343"/><stop offset="0.137" stop-color="#d04f4f"/><stop offset="0.333" stop-color="#d85353"/><stop offset="0.629" stop-color="#c14949"/><stop offset="0.905" stop-color="#933636"/><stop offset="0.996" stop-color="#752a2a"/><stop offset="1.000" stop-color="#6f2727"/></linearGradient><linearGradient id="g2_11" gradientUnits="userSpaceOnUse" x1="-31.1" x2="31.1"><stop offset="0.000" stop-color="#a83e3e"/><stop offset="0.011" stop-color="#b54444"/><stop offset="0.146" stop-color="#d45151"/><stop offset="0.345" stop-color="#dc5555"/><stop offset="0.591" stop-color="#c84c4c"/><stop offset="0.863" stop-color="#9c3939"/><stop offset="0.994" stop-color="#742929"/><stop offset="1.000" stop-color="#6c2626"/></linearGradient><linearGradient id="g2_12" gradientUnits="userSpaceOnUse" x1="-34.1" x2="34.1"><stop offset="0.000" stop-color="#a93f3f"/><stop offset="0.011" stop-color="#b74444"/><stop offset="0.095" stop-color="#ce4e4e"/><stop offset="0.250" stop-color="#e05757"/><stop offset="0.487" stop-color="#d85353"/><stop offset="0.835" stop-color="#a33c3c"/><stop offset="0.994" stop-color="#712828"/><stop offset="1.000" stop-color="#682525"/></linearGradient><linearGradient id="g2_13" gradientUnits="userSpaceOnUse" x1="-36.6" x2="36.6"><stop offset="0.000" stop-color="#a93f3f"/><stop offset="0.008" stop-color="#b64444"/><stop offset="0.074" stop-color="#cd4e4e"/><stop offset="0.239" stop-color="#e45959"/><stop offset="0.461" stop-color="#dd5656"/><stop offset="0.825" stop-color="#a63e3e"/><stop offset="0.994" stop-color="#6f2727"/><stop offset="1.000" stop-color="#662424"/></linearGradient><linearGradient id="g2_14" gradientUnits="userSpaceOnUse" x1="-38.9" x2="38.9"><stop offset="0.000" stop-color="#a93f3f"/><stop offset="0.008" stop-color="#b64444"/><stop offset="0.067" stop-color="#cd4e4e"/><stop offset="0.228" stop-color="#e75a5a"/><stop offset="0.435" stop-color="#e35959"/><stop offset="0.815" stop-color="#a83f3f"/><stop offset="0.989" stop-color="#702828"/><stop offset="1.000" stop-color="#632323"/></linearGradient><linearGradient id="g2_15" gradientUnits="userSpaceOnUse" x1="-41.7" x2="41.7"><stop offset="0.000" stop-color="#a93f3f"/><stop offset="0.008" stop-color="#b74444"/><stop offset="0.074" stop-color="#d35050"/><stop offset="0.239" stop-color="#ec5d5d"/><stop offset="0.435" stop-color="#e85b5b"/><stop offset="0.835" stop-color="#a43d3d"/><stop offset="0.994" stop-color="#6a2525"/><stop offset="1.000" stop-color="#602222"/></linearGradient><linearGradient id="g2_16" gradientUnits="userSpaceOnUse" x1="-44.3" x2="44.3"><stop offset="0.000" stop-color="#a93f3f"/><stop offset="0.008" stop-color="#b84545"/><stop offset="0.088" stop-color="#da5454"/><stop offset="0.261" stop-color="#f15f5f"/><stop offset="0.448" stop-color="#ea5d5d"/><stop offset="0.844" stop-color="#a13b3b"/><stop offset="0.996" stop-color="#662424"/><stop offset="1.000" stop-color="#5e2020"/></linearGradient><linearGradient id="g2_17" gradientUnits="userSpaceOnUse" x1="-47.3" x2="47.3"><stop offset="0.000" stop-color="#a83e3e"/><stop offset="0.011" stop-color="#bb4646"/><stop offset="0.088" stop-color="#de5555"/><stop offset="0.261" stop-color="#f46161"/><stop offset="0.435" stop-color="#f06060"/><stop offset="0.825" stop-color="#a53d3d"/><stop offset="0.983" stop-color="#6c2626"/><stop offset="1.000" stop-color="#5d2020"/><stop offset="1.000" stop-color="#5b1f1f"/></linearGradient><linearGradient id="g2_18" gradientUnits="userSpaceOnUse" x1="-50.7" x2="50.7"><stop offset="0.000" stop-color="#a83e3e"/><stop offset="0.008" stop-color="#b94545"/><stop offset="0.067" stop-color="#db5454"/><stop offset="0.175" stop-color="#f05f5f"/><stop offset="0.371" stop-color="#f96565"/><stop offset="0.539" stop-color="#e35a5a"/><stop offset="0.872" stop-color="#973838"/><stop offset="0.994" stop-color="#622222"/><stop offset="1.000" stop-color="#581e1e"/></linearGradient><linearGradient id="g2_19" gradientUnits="userSpaceOnUse" x1="-53.9" x2="53.9"><stop offset="0.000" stop-color="#a73e3e"/><stop offset="0.008" stop-color="#b94545"/><stop offset="0.061" stop-color="#db5454"/><stop offset="0.156" stop-color="#f26060"/><stop offset="0.371" stop-color="#fe6868"/><stop offset="0.526" stop-color="#e95d5d"/><stop offset="0.872" stop-color="#963737"/><stop offset="0.994" stop-color="#602121"/><stop offset="1.000" stop-color="#551d1d"/></linearGradient><linearGradient id="g2_20" gradientUnits="userSpaceOnUse" x1="-56.7" x2="56.7"><stop offset="0.000" stop-color="#a63e3e"/><stop offset="0.006" stop-color="#b64444"/><stop offset="0.043" stop-color="#d55151"/><stop offset="0.128" stop-color="#f15f5f"/><stop offset="0.333" stop-color="#ff6a6a"/><stop offset="0.461" stop-color="#f96767"/><stop offset="0.854" stop-color="#9b3939"/><stop offset="0.989" stop-color="#622222"/><stop offset="1.000" stop-color="#531c1c"/></linearGradient><linearGradient id="g2_21" gradientUnits="userSpaceOnUse" x1="-59.1" x2="59.1"><stop offset="0.000" stop-color="#a63d3d"/><stop offset="0.006" stop-color="#b74444"/><stop offset="0.043" stop-color="#d65252"/><stop offset="0.128" stop-color="#f36060"/><stop offset="0.309" stop-color="#ff6b6b"/><stop offset="0.461" stop-color="#fc6969"/><stop offset="0.863" stop-color="#983838"/><stop offset="0.989" stop-color="#602121"/><stop offset="1.000" stop-color="#521c1c"/></linearGradient><linearGradient id="g2_22" gradientUnits="userSpaceOnUse" x1="-61.4" x2="61.4"><stop offset="0.000" stop-color="#a53d3d"/><stop offset="0.006" stop-color="#b74444"/><stop offset="0.043" stop-color="#d85252"/><stop offset="0.128" stop-color="#f56161"/><stop offset="0.297" stop-color="#ff6c6c"/><stop offset="0.448" stop-color="#ff6e6e"/><stop offset="0.565" stop-color="#e65d5d"/><stop offset="0.889" stop-color="#8e3434"/><stop offset="0.992" stop-color="#5d2020"/><stop offset="1.000" stop-color="#511b1b"/></linearGradient><linearGradient id="g2_23" gradientUnits="userSpaceOnUse" x1="-63.7" x2="63.7"><stop offset="0.000" stop-color="#a53d3d"/><stop offset="0.006" stop-color="#b84545"/><stop offset="0.043" stop-color="#d95353"/><stop offset="0.120" stop-color="#f46060"/><stop offset="0.250" stop-color="#ff6a6a"/><stop offset="0.435" stop-color="#ff7373"/><stop offset="0.500" stop-color="#fa6a6a"/><stop offset="0.897" stop-color="#8a3232"/><stop offset="0.992" stop-color="#5c2020"/><stop offset="1.000" stop-color="#501b1b"/></linearGradient><linearGradient id="g2_24" gradientUnits="userSpaceOnUse" x1="-66.0" x2="66.0"><stop offset="0.000" stop-color="#a43d3d"/><stop offset="0.004" stop-color="#b54343"/><stop offset="0.033" stop-color="#d35151"/><stop offset="0.103" stop-color="#f25f5f"/><stop offset="0.206" stop-color="#ff6868"/><stop offset="0.422" stop-color="#ff7979"/><stop offset="0.513" stop-color="#fa6a6a"/><stop offset="0.897" stop-color="#8a3232"/><stop offset="0.992" stop-color="#5b1f1f"/><stop offset="1.000" stop-color="#4f1a1a"/></linearGradient><linearGradient id="g2_25" gradientUnits="userSpaceOnUse" x1="-67.9" x2="67.9"><stop offset="0.000" stop-color="#a33c3c"/><stop offset="0.004" stop-color="#b54444"/><stop offset="0.033" stop-color="#d45151"/><stop offset="0.103" stop-color="#f36060"/><stop offset="0.196" stop-color="#ff6868"/><stop offset="0.422" stop-color="#ff7d7d"/><stop offset="0.513" stop-color="#fc6c6c"/><stop offset="0.844" stop-color="#9c3a3a"/><stop offset="0.976" stop-color="#652323"/><stop offset="1.000" stop-color="#4f1b1b"/><stop offset="1.000" stop-color="#4e1a1a"/></linearGradient><linearGradient id="g2_26" gradientUnits="userSpaceOnUse" x1="-69.4" x2="69.4"><stop offset="0.000" stop-color="#a33c3c"/><stop offset="0.003" stop-color="#b14242"/><stop offset="0.024" stop-color="#cd4e4e"/><stop offset="0.081" stop-color="#ed5c5c"/><stop offset="0.175" stop-color="#ff6868"/><stop offset="0.358" stop-color="#ff7d7d"/><stop offset="0.448" stop-color="#ff7e7e"/><stop offset="0.513" stop-color="#fe6e6e"/><stop offset="0.772" stop-color="#af4242"/><stop offset="0.919" stop-color="#802e2e"/><stop offset="0.994" stop-color="#571e1e"/><stop offset="1.000" stop-color="#4d1a1a"/></linearGradient><linearGradient id="g2_27" gradientUnits="userSpaceOnUse" x1="-70.9" x2="70.9"><stop offset="0.000" stop-color="#a33c3c"/><stop offset="0.003" stop-color="#b24242"/><stop offset="0.024" stop-color="#ce4e4e"/><stop offset="0.081" stop-color="#ed5d5d"/><stop offset="0.165" stop-color="#ff6767"/><stop offset="0.321" stop-color="#ff7878"/><stop offset="0.422" stop-color="#ff8585"/><stop offset="0.526" stop-color="#fb6c6c"/><stop offset="0.794" stop-color="#aa4040"/><stop offset="0.939" stop-color="#772b2b"/><stop offset="0.997" stop-color="#531c1c"/><stop offset="1.000" stop-color="#4d1a1a"/></linearGradient><linearGradient id="g2_28" gradientUnits="userSpaceOnUse" x1="-72.3" x2="72.3"><stop offset="0.000" stop-color="#a23c3c"/><stop offset="0.003" stop-color="#b24242"/><stop offset="0.024" stop-color="#ce4e4e"/><stop offset="0.081" stop-color="#ee5d5d"/><stop offset="0.165" stop-color="#ff6868"/><stop offset="0.309" stop-color="#ff7777"/><stop offset="0.409" stop-color="#ff8989"/><stop offset="0.487" stop-color="#ff7b7b"/><stop offset="0.539" stop-color="#f86a6a"/><stop offset="0.844" stop-color="#9b3a3a"/><stop offset="0.971" stop-color="#662424"/><stop offset="1.000" stop-color="#4d1a1a"/><stop offset="1.000" stop-color="#4c1919"/></linearGradient><linearGradient id="g2_29" gradientUnits="userSpaceOnUse" x1="-73.8" x2="73.8"><stop offset="0.000" stop-color="#a23c3c"/><stop offset="0.003" stop-color="#b24242"/><stop offset="0.024" stop-color="#cf4f4f"/><stop offset="0.081" stop-color="#ef5d5d"/><stop offset="0.156" stop-color="#ff6767"/><stop offset="0.309" stop-color="#ff7979"/><stop offset="0.409" stop-color="#ff8d8d"/><stop offset="0.487" stop-color="#ff7e7e"/><stop offset="0.539" stop-color="#fa6c6c"/><stop offset="0.783" stop-color="#ac4141"/><stop offset="0.933" stop-color="#792c2c"/><stop offset="0.996" stop-color="#531c1c"/><stop offset="1.000" stop-color="#4c1919"/></linearGradient><linearGradient id="g2_30" gradientUnits="userSpaceOnUse" x1="-75.3" x2="75.3"><stop offset="0.000" stop-color="#a33c3c"/><stop offset="0.003" stop-color="#b24242"/><stop offset="0.024" stop-color="#cf4f4f"/><stop offset="0.081" stop-color="#ef5e5e"/><stop offset="0.156" stop-color="#ff6868"/><stop offset="0.297" stop-color="#ff7878"/><stop offset="0.409" stop-color="#ff9292"/><stop offset="0.474" stop-color="#ff8686"/><stop offset="0.539" stop-color="#fc6d6d"/><stop offset="0.715" stop-color="#c34b4b"/><stop offset="0.933" stop-color="#792b2b"/><stop offset="0.996" stop-color="#531c1c"/><stop offset="1.000" stop-color="#4b1919"/></linearGradient><linearGradient id="g2_31" gradientUnits="userSpaceOnUse" x1="-76.7" x2="76.7"><stop offset="0.000" stop-color="#a43d3d"/><stop offset="0.003" stop-color="#b24242"/><stop offset="0.024" stop-color="#d04f4f"/><stop offset="0.081" stop-color="#f05e5e"/><stop offset="0.156" stop-color="#ff6868"/><stop offset="0.297" stop-color="#ff7979"/><stop offset="0.409" stop-color="#ff9696"/><stop offset="0.474" stop-color="#ff8a8a"/><stop offset="0.539" stop-color="#fe6f6f"/><stop offset="0.679" stop-color="#cf5151"/><stop offset="0.933" stop-color="#792b2b"/><stop offset="0.996" stop-color="#521c1c"/><stop offset="1.000" stop-color="#4a1919"/></linearGradient><linearGradient id="g2_32" gradientUnits="userSpaceOnUse" x1="-78.2" x2="78.2"><stop offset="0.000" stop-color="#a53d3d"/><stop offset="0.003" stop-color="#b34343"/><stop offset="0.029" stop-color="#d45151"/><stop offset="0.088" stop-color="#f36060"/><stop offset="0.156" stop-color="#ff6969"/><stop offset="0.285" stop-color="#ff7777"/><stop offset="0.409" stop-color="#ff9b9b"/><stop offset="0.474" stop-color="#ff8e8e"/><stop offset="0.539" stop-color="#ff7171"/><stop offset="0.667" stop-color="#d35353"/><stop offset="0.933" stop-color="#792b2b"/><stop offset="0.996" stop-color="#511c1c"/><stop offset="1.000" stop-color="#4a1919"/></linearGradient><linearGradient id="g2_33" gradientUnits="userSpaceOnUse" x1="-79.7" x2="79.7"><stop offset="0.000" stop-color="#a63d3d"/><stop offset="0.003" stop-color="#b34343"/><stop offset="0.029" stop-color="#d45151"/><stop offset="0.088" stop-color="#f36060"/><stop offset="0.146" stop-color="#ff6868"/><stop offset="0.285" stop-color="#ff7878"/><stop offset="0.396" stop-color="#ff9f9f"/><stop offset="0.448" stop-color="#ff9b9b"/><stop offset="0.552" stop-color="#fb6d6d"/><stop offset="0.691" stop-color="#cc5050"/><stop offset="0.939" stop-color="#752a2a"/><stop offset="0.997" stop-color="#4f1b1b"/><stop offset="1.000" stop-color="#491818"/></linearGradient><linearGradient id="g2_34" gradientUnits="userSpaceOnUse" x1="-81.1" x2="81.1"><stop offset="0.000" stop-color="#a63e3e"/><stop offset="0.004" stop-color="#b74444"/><stop offset="0.038" stop-color="#db5454"/><stop offset="0.111" stop-color="#fb6464"/><stop offset="0.285" stop-color="#ff7a7a"/><stop offset="0.396" stop-color="#ffa4a4"/><stop offset="0.448" stop-color="#ffa0a0"/><stop offset="0.552" stop-color="#fd6f6f"/><stop offset="0.679" stop-color="#d05252"/><stop offset="0.939" stop-color="#752a2a"/><stop offset="0.997" stop-color="#4e1a1a"/><stop offset="1.000" stop-color="#491818"/></linearGradient><linearGradient id="g2_35" gradientUnits="userSpaceOnUse" x1="-82.5" x2="82.5"><stop offset="0.000" stop-color="#a73e3e"/><stop offset="0.004" stop-color="#b84545"/><stop offset="0.038" stop-color="#dc5454"/><stop offset="0.111" stop-color="#fb6464"/><stop offset="0.285" stop-color="#ff7b7b"/><stop offset="0.396" stop-color="#ffa9a9"/><stop offset="0.448" stop-color="#ffa5a5"/><stop offset="0.552" stop-color="#ff7070"/><stop offset="0.667" stop-color="#d45454"/><stop offset="0.939" stop-color="#752a2a"/><stop offset="0.996" stop-color="#501b1b"/><stop offset="1.000" stop-color="#481818"/></linearGradient><linearGradient id="g2_36" gradientUnits="userSpaceOnUse" x1="-84.0" x2="84.0"><stop offset="0.000" stop-color="#a83e3e"/><stop offset="0.004" stop-color="#b84545"/><stop offset="0.038" stop-color="#dc5555"/><stop offset="0.111" stop-color="#fc6565"/><stop offset="0.273" stop-color="#ff7878"/><stop offset="0.396" stop-color="#ffaeae"/><stop offset="0.448" stop-color="#ffaaaa"/><stop offset="0.552" stop-color="#ff7171"/><stop offset="0.655" stop-color="#d95656"/><stop offset="0.939" stop-color="#742a2a"/><stop offset="0.996" stop-color="#4f1b1b"/><stop offset="1.000" stop-color="#481818"/></linearGradient><linearGradient id="g2_37" gradientUnits="userSpaceOnUse" x1="-85.4" x2="85.4"><stop offset="0.000" stop-color="#a83e3e"/><stop offset="0.004" stop-color="#b94545"/><stop offset="0.038" stop-color="#dc5555"/><stop offset="0.111" stop-color="#fc6565"/><stop offset="0.273" stop-color="#ff7979"/><stop offset="0.396" stop-color="#ffb3b3"/><stop offset="0.435" stop-color="#ffb4b4"/><stop offset="0.500" stop-color="#ff9292"/><stop offset="0.565" stop-color="#fb6d6d"/><stop offset="0.691" stop-color="#cd5050"/><stop offset="0.946" stop-color="#712828"/><stop offset="0.997" stop-color="#4d1a1a"/><stop offset="1.000" stop-color="#481818"/></linearGradient><linearGradient id="g2_38" gradientUnits="userSpaceOnUse" x1="-86.8" x2="86.8"><stop offset="0.000" stop-color="#a93f3f"/><stop offset="0.004" stop-color="#b94545"/><stop offset="0.038" stop-color="#dd5555"/><stop offset="0.111" stop-color="#fd6565"/><stop offset="0.273" stop-color="#ff7a7a"/><stop offset="0.396" stop-color="#ffb9b9"/><stop offset="0.435" stop-color="#ffb9b9"/><stop offset="0.500" stop-color="#ff9595"/><stop offset="0.565" stop-color="#fc6e6e"/><stop offset="0.679" stop-color="#d15252"/><stop offset="0.946" stop-color="#712828"/><stop offset="0.997" stop-color="#4c1919"/><stop offset="1.000" stop-color="#471717"/></linearGradient><linearGradient id="g2_39" gradientUnits="userSpaceOnUse" x1="-88.3" x2="88.3"><stop offset="0.000" stop-color="#aa3f3f"/><stop offset="0.004" stop-color="#ba4646"/><stop offset="0.038" stop-color="#dd5555"/><stop offset="0.111" stop-color="#fd6565"/><stop offset="0.273" stop-color="#ff7b7b"/><stop offset="0.396" stop-color="#ffbebe"/><stop offset="0.435" stop-color="#ffbfbf"/><stop offset="0.487" stop-color="#ffa2a2"/><stop offset="0.565" stop-color="#fd6f6f"/><stop offset="0.667" stop-color="#d55555"/><stop offset="0.946" stop-color="#702828"/><stop offset="0.997" stop-color="#4c1919"/><stop offset="1.000" stop-color="#471717"/></linearGradient><linearGradient id="g2_40" gradientUnits="userSpaceOnUse" x1="-89.7" x2="89.7"><stop offset="0.000" stop-color="#aa3f3f"/><stop offset="0.004" stop-color="#ba4646"/><stop offset="0.038" stop-color="#dd5555"/><stop offset="0.111" stop-color="#fe6666"/><stop offset="0.273" stop-color="#ff7c7c"/><stop offset="0.345" stop-color="#ffa7a7"/><stop offset="0.396" stop-color="#ffc3c3"/><stop offset="0.435" stop-color="#ffc4c4"/><stop offset="0.487" stop-color="#ffa6a6"/><stop offset="0.565" stop-color="#fe7070"/><stop offset="0.655" stop-color="#da5757"/><stop offset="0.946" stop-color="#702828"/><stop offset="0.997" stop-color="#4b1919"/><stop offset="1.000" stop-color="#461717"/></linearGradient><linearGradient id="g2_41" gradientUnits="userSpaceOnUse" x1="-91.1" x2="91.1"><stop offset="0.000" stop-color="#ab3f3f"/><stop offset="0.004" stop-color="#bb4646"/><stop offset="0.038" stop-color="#dd5555"/><stop offset="0.111" stop-color="#fe6666"/><stop offset="0.273" stop-color="#ff7d7d"/><stop offset="0.345" stop-color="#ffaaaa"/><stop offset="0.396" stop-color="#ffc9c9"/><stop offset="0.435" stop-color="#ffcaca"/><stop offset="0.487" stop-color="#ffaaaa"/><stop offset="0.565" stop-color="#ff7171"/><stop offset="0.655" stop-color="#da5757"/><stop offset="0.946" stop-color="#702828"/><stop offset="0.997" stop-color="#4b1919"/><stop offset="1.000" stop-color="#461717"/></linearGradient><linearGradient id="g2_42" gradientUnits="userSpaceOnUse" x1="-92.5" x2="92.5"><stop offset="0.000" stop-color="#ab3f3f"/><stop offset="0.003" stop-color="#b84545"/><stop offset="0.029" stop-color="#d65252"/><stop offset="0.095" stop-color="#f96363"/><stop offset="0.175" stop-color="#ff6e6e"/><stop offset="0.273" stop-color="#ff7e7e"/><stop offset="0.333" stop-color="#ffa4a4"/><stop offset="0.396" stop-color="#ffcece"/><stop offset="0.435" stop-color="#ffd0d0"/><stop offset="0.487" stop-color="#ffaeae"/><stop offset="0.565" stop-color="#ff7373"/><stop offset="0.655" stop-color="#da5757"/><stop offset="0.946" stop-color="#702828"/><stop offset="0.996" stop-color="#4c1919"/><stop offset="1.000" stop-color="#451717"/></linearGradient><linearGradient id="g2_43" gradientUnits="userSpaceOnUse" x1="-93.9" x2="93.9"><stop offset="0.000" stop-color="#ac4040"/><stop offset="0.003" stop-color="#b84545"/><stop offset="0.029" stop-color="#d75252"/><stop offset="0.095" stop-color="#fa6363"/><stop offset="0.185" stop-color="#ff6f6f"/><stop offset="0.273" stop-color="#ff7f7f"/><stop offset="0.333" stop-color="#ffa7a7"/><stop offset="0.396" stop-color="#ffd4d4"/><stop offset="0.435" stop-color="#ffd6d6"/><stop offset="0.487" stop-color="#ffb2b2"/><stop offset="0.565" stop-color="#ff7474"/><stop offset="0.642" stop-color="#df5a5a"/><stop offset="0.946" stop-color="#6f2828"/><stop offset="0.996" stop-color="#4c1919"/><stop offset="1.000" stop-color="#451717"/></linearGradient><linearGradient id="g2_44" gradientUnits="userSpaceOnUse" x1="-95.3" x2="95.3"><stop offset="0.000" stop-color="#ac4040"/><stop offset="0.003" stop-color="#b94545"/><stop offset="0.029" stop-color="#d75252"/><stop offset="0.095" stop-color="#fa6464"/><stop offset="0.175" stop-color="#ff6e6e"/><stop offset="0.273" stop-color="#ff8080"/><stop offset="0.333" stop-color="#ffaaaa"/><stop offset="0.396" stop-color="#ffd9d9"/><stop offset="0.435" stop-color="#ffdbdb"/><stop offset="0.474" stop-color="#ffc2c2"/><stop offset="0.552" stop-color="#ff7d7d"/><stop offset="0.591" stop-color="#f46868"/><stop offset="0.761" stop-color="#b64646"/><stop offset="0.957" stop-color="#692525"/><stop offset="0.999" stop-color="#471717"/><stop offset="1.000" stop-color="#451616"/></linearGradient><linearGradient id="g2_45" gradientUnits="userSpaceOnUse" x1="-96.7" x2="96.7"><stop offset="0.000" stop-color="#ad4040"/><stop offset="0.003" stop-color="#b94545"/><stop offset="0.029" stop-color="#d85353"/><stop offset="0.095" stop-color="#fa6464"/><stop offset="0.196" stop-color="#ff7171"/><stop offset="0.273" stop-color="#ff8181"/><stop offset="0.333" stop-color="#ffadad"/><stop offset="0.383" stop-color="#ffd8d8"/><stop offset="0.422" stop-color="#ffe4e4"/><stop offset="0.461" stop-color="#ffd2d2"/><stop offset="0.552" stop-color="#ff7e7e"/><stop offset="0.591" stop-color="#f46969"/><stop offset="0.739" stop-color="#bf4a4a"/><stop offset="0.957" stop-color="#682525"/><stop offset="0.999" stop-color="#471717"/><stop offset="1.000" stop-color="#441616"/></linearGradient><linearGradient id="g2_46" gradientUnits="userSpaceOnUse" x1="-98.1" x2="98.1"><stop offset="0.000" stop-color="#ad4040"/><stop offset="0.003" stop-color="#ba4646"/><stop offset="0.029" stop-color="#d85353"/><stop offset="0.095" stop-color="#fb6464"/><stop offset="0.261" stop-color="#ff7d7d"/><stop offset="0.309" stop-color="#ff9999"/><stop offset="0.383" stop-color="#ffdddd"/><stop offset="0.422" stop-color="#ffeaea"/><stop offset="0.461" stop-color="#ffd7d7"/><stop offset="0.552" stop-color="#ff8080"/><stop offset="0.578" stop-color="#fd7070"/><stop offset="0.667" stop-color="#d85656"/><stop offset="0.951" stop-color="#6b2626"/><stop offset="0.998" stop-color="#471818"/><stop offset="1.000" stop-color="#441616"/></linearGradient><linearGradient id="g2_47" gradientUnits="userSpaceOnUse" x1="-99.5" x2="99.5"><stop offset="0.000" stop-color="#ad4040"/><stop offset="0.003" stop-color="#ba4646"/><stop offset="0.029" stop-color="#d85353"/><stop offset="0.103" stop-color="#fd6666"/><stop offset="0.261" stop-color="#ff7e7e"/><stop offset="0.309" stop-color="#ff9b9b"/><stop offset="0.383" stop-color="#ffe2e2"/><stop offset="0.422" stop-color="#ffefef"/><stop offset="0.461" stop-color="#ffdcdc"/><stop offset="0.552" stop-color="#ff8181"/><stop offset="0.578" stop-color="#fd7070"/><stop offset="0.655" stop-color="#dc5858"/><stop offset="0.951" stop-color="#6b2626"/><stop offset="0.998" stop-color="#471717"/><stop offset="1.000" stop-color="#441616"/></linearGradient><linearGradient id="g2_48" gradientUnits="userSpaceOnUse" x1="-100.9" x2="100.9"><stop offset="0.000" stop-color="#ae4141"/><stop offset="0.003" stop-color="#bb4646"/><stop offset="0.029" stop-color="#d95353"/><stop offset="0.103" stop-color="#fe6666"/><stop offset="0.261" stop-color="#ff7f7f"/><stop offset="0.309" stop-color="#ff9d9d"/><stop offset="0.383" stop-color="#ffe7e7"/><stop offset="0.422" stop-color="#fff5f5"/><stop offset="0.461" stop-color="#ffe1e1"/><stop offset="0.552" stop-color="#ff8383"/><stop offset="0.578" stop-color="#fe7171"/><stop offset="0.655" stop-color="#dc5858"/><stop offset="0.951" stop-color="#6b2626"/><stop offset="0.998" stop-color="#471717"/><stop offset="1.000" stop-color="#431616"/></linearGradient><linearGradient id="g2_49" gradientUnits="userSpaceOnUse" x1="-102.3" x2="102.3"><stop offset="0.000" stop-color="#ae4141"/><stop offset="0.003" stop-color="#bb4646"/><stop offset="0.029" stop-color="#d95353"/><stop offset="0.103" stop-color="#fe6666"/><stop offset="0.250" stop-color="#ff7b7b"/><stop offset="0.297" stop-color="#ff9494"/><stop offset="0.383" stop-color="#ffecec"/><stop offset="0.422" stop-color="#fffbfb"/><stop offset="0.461" stop-color="#ffe6e6"/><stop offset="0.552" stop-color="#ff8484"/><stop offset="0.578" stop-color="#ff7272"/><stop offset="0.655" stop-color="#dc5959"/><stop offset="0.951" stop-color="#6b2626"/><stop offset="0.998" stop-color="#461717"/><stop offset="1.000" stop-color="#431616"/></linearGradient><linearGradient id="g2_50" gradientUnits="userSpaceOnUse" x1="-103.7" x2="103.7"><stop offset="0.000" stop-color="#af4141"/><stop offset="0.003" stop-color="#bb4646"/><stop offset="0.029" stop-color="#da5353"/><stop offset="0.103" stop-color="#fe6666"/><stop offset="0.250" stop-color="#ff7c7c"/><stop offset="0.297" stop-color="#ff9696"/><stop offset="0.383" stop-color="#fff1f1"/><stop offset="0.409" stop-color="#ffffff"/><stop offset="0.435" stop-color="#fffdfd"/><stop offset="0.474" stop-color="#ffdede"/><stop offset="0.552" stop-color="#ff8585"/><stop offset="0.578" stop-color="#ff7373"/><stop offset="0.655" stop-color="#dd5959"/><stop offset="0.951" stop-color="#6b2626"/><stop offset="0.998" stop-color="#461717"/><stop offset="1.000" stop-color="#431616"/></linearGradient><linearGradient id="g2_51" gradientUnits="userSpaceOnUse" x1="-105.1" x2="105.1"><stop offset="0.000" stop-color="#af4141"/><stop offset="0.003" stop-color="#bc4646"/><stop offset="0.029" stop-color="#da5454"/><stop offset="0.103" stop-color="#fe6666"/><stop offset="0.250" stop-color="#ff7c7c"/><stop offset="0.297" stop-color="#ff9797"/><stop offset="0.383" stop-color="#fff6f6"/><stop offset="0.396" stop-color="#ffffff"/><stop offset="0.448" stop-color="#fffbfb"/><stop offset="0.500" stop-color="#ffc1c1"/><stop offset="0.552" stop-color="#ff8787"/><stop offset="0.578" stop-color="#ff7373"/><stop offset="0.655" stop-color="#dd5959"/><stop offset="0.951" stop-color="#6a2626"/><stop offset="0.998" stop-color="#461717"/><stop offset="1.000" stop-color="#421515"/></linearGradient><linearGradient id="g2_52" gradientUnits="userSpaceOnUse" x1="-106.5" x2="106.5"><stop offset="0.000" stop-color="#af4141"/><stop offset="0.003" stop-color="#bc4747"/><stop offset="0.029" stop-color="#db5454"/><stop offset="0.103" stop-color="#ff6666"/><stop offset="0.250" stop-color="#ff7d7d"/><stop offset="0.297" stop-color="#ff9999"/><stop offset="0.383" stop-color="#fffbfb"/><stop offset="0.448" stop-color="#ffffff"/><stop offset="0.487" stop-color="#ffd6d6"/><stop offset="0.552" stop-color="#ff8888"/><stop offset="0.578" stop-color="#ff7474"/><stop offset="0.642" stop-color="#e15c5c"/><stop offset="0.951" stop-color="#6a2525"/><stop offset="0.998" stop-color="#451717"/><stop offset="1.000" stop-color="#421515"/></linearGradient><linearGradient id="g2_53" gradientUnits="userSpaceOnUse" x1="-107.9" x2="107.9"><stop offset="0.000" stop-color="#b04141"/><stop offset="0.003" stop-color="#bd4747"/><stop offset="0.029" stop-color="#db5454"/><stop offset="0.103" stop-color="#ff6666"/><stop offset="0.250" stop-color="#ff7e7e"/><stop offset="0.297" stop-color="#ff9a9a"/><stop offset="0.383" stop-color="#ffffff"/><stop offset="0.448" stop-color="#ffffff"/><stop offset="0.461" stop-color="#fffafa"/><stop offset="0.552" stop-color="#ff8989"/><stop offset="0.591" stop-color="#f96d6d"/><stop offset="0.679" stop-color="#d55555"/><stop offset="0.951" stop-color="#6a2525"/><stop offset="0.998" stop-color="#451717"/><stop offset="1.000" stop-color="#421515"/></linearGradient><linearGradient id="g2_54" gradientUnits="userSpaceOnUse" x1="-109.2" x2="109.2"><stop offset="0.000" stop-color="#b04141"/><stop offset="0.003" stop-color="#bd4747"/><stop offset="0.029" stop-color="#db5454"/><stop offset="0.103" stop-color="#ff6767"/><stop offset="0.250" stop-color="#ff7e7e"/><stop offset="0.297" stop-color="#ff9b9b"/><stop offset="0.371" stop-color="#fff7f7"/><stop offset="0.396" stop-color="#ffffff"/><stop offset="0.461" stop-color="#fffefe"/><stop offset="0.552" stop-color="#ff8b8b"/><stop offset="0.591" stop-color="#fa6e6e"/><stop offset="0.679" stop-color="#d55555"/><stop offset="0.951" stop-color="#6a2525"/><stop offset="0.998" stop-color="#451616"/><stop offset="1.000" stop-color="#411515"/></linearGradient><linearGradient id="g2_55" gradientUnits="userSpaceOnUse" x1="-110.6" x2="110.6"><stop offset="0.000" stop-color="#b04242"/><stop offset="0.003" stop-color="#bd4747"/><stop offset="0.029" stop-color="#dc5454"/><stop offset="0.103" stop-color="#ff6767"/><stop offset="0.250" stop-color="#ff7f7f"/><stop offset="0.297" stop-color="#ff9d9d"/><stop offset="0.371" stop-color="#fffcfc"/><stop offset="0.461" stop-color="#ffffff"/><stop offset="0.487" stop-color="#ffe1e1"/><stop offset="0.552" stop-color="#ff8c8c"/><stop offset="0.591" stop-color="#fa6e6e"/><stop offset="0.679" stop-color="#d55555"/><stop offset="0.951" stop-color="#692525"/><stop offset="0.998" stop-color="#441616"/><stop offset="1.000" stop-color="#411515"/></linearGradient><linearGradient id="g2_56" gradientUnits="userSpaceOnUse" x1="-112.0" x2="112.0"><stop offset="0.000" stop-color="#b14242"/><stop offset="0.003" stop-color="#be4747"/><stop offset="0.029" stop-color="#dc5454"/><stop offset="0.103" stop-color="#ff6767"/><stop offset="0.250" stop-color="#ff7f7f"/><stop offset="0.297" stop-color="#ff9e9e"/><stop offset="0.371" stop-color="#ffffff"/><stop offset="0.461" stop-color="#ffffff"/><stop offset="0.474" stop-color="#fff7f7"/><stop offset="0.539" stop-color="#ff9b9b"/><stop offset="0.578" stop-color="#ff7777"/><stop offset="0.642" stop-color="#e25c5c"/><stop offset="0.951" stop-color="#692525"/><stop offset="0.998" stop-color="#441616"/><stop offset="1.000" stop-color="#411515"/></linearGradient><linearGradient id="g2_57" gradientUnits="userSpaceOnUse" x1="-113.4" x2="113.4"><stop offset="0.000" stop-color="#b14242"/><stop offset="0.003" stop-color="#be4747"/><stop offset="0.029" stop-color="#dc5555"/><stop offset="0.103" stop-color="#ff6767"/><stop offset="0.250" stop-color="#ff7f7f"/><stop offset="0.297" stop-color="#ff9f9f"/><stop offset="0.358" stop-color="#fff3f3"/><stop offset="0.371" stop-color="#ffffff"/><stop offset="0.474" stop-color="#fffbfb"/><stop offset="0.539" stop-color="#ff9d9d"/><stop offset="0.578" stop-color="#ff7777"/><stop offset="0.642" stop-color="#e25c5c"/><stop offset="0.946" stop-color="#6c2626"/><stop offset="0.997" stop-color="#451717"/><stop offset="1.000" stop-color="#401515"/></linearGradient><linearGradient id="g2_58" gradientUnits="userSpaceOnUse" x1="-114.7" x2="114.7"><stop offset="0.000" stop-color="#b14242"/><stop offset="0.003" stop-color="#be4747"/><stop offset="0.029" stop-color="#dd5555"/><stop offset="0.103" stop-color="#ff6767"/><stop offset="0.250" stop-color="#ff8080"/><stop offset="0.297" stop-color="#ffa1a1"/><stop offset="0.358" stop-color="#fff6f6"/><stop offset="0.371" stop-color="#ffffff"/><stop offset="0.474" stop-color="#ffffff"/><stop offset="0.539" stop-color="#ff9f9f"/><stop offset="0.578" stop-color="#ff7878"/><stop offset="0.642" stop-color="#e35d5d"/><stop offset="0.946" stop-color="#6c2626"/><stop offset="0.997" stop-color="#451616"/><stop offset="1.000" stop-color="#401515"/></linearGradient><linearGradient id="g2_59" gradientUnits="userSpaceOnUse" x1="-116.5" x2="116.5"><stop offset="0.000" stop-color="#b24242"/><stop offset="0.003" stop-color="#bf4848"/><stop offset="0.029" stop-color="#dd5555"/><stop offset="0.103" stop-color="#ff6767"/><stop offset="0.250" stop-color="#ff8080"/><stop offset="0.297" stop-color="#ffa2a2"/><stop offset="0.358" stop-color="#fffbfb"/><stop offset="0.474" stop-color="#ffffff"/><stop offset="0.513" stop-color="#ffc6c6"/><stop offset="0.552" stop-color="#ff9191"/><stop offset="0.591" stop-color="#fd7070"/><stop offset="0.667" stop-color="#da5757"/><stop offset="0.951" stop-color="#692525"/><stop offset="0.999" stop-color="#421515"/><stop offset="1.000" stop-color="#401515"/></linearGradient><linearGradient id="g2_60" gradientUnits="userSpaceOnUse" x1="-118.5" x2="118.5"><stop offset="0.000" stop-color="#b24242"/><stop offset="0.003" stop-color="#bf4848"/><stop offset="0.029" stop-color="#de5555"/><stop offset="0.103" stop-color="#ff6767"/><stop offset="0.250" stop-color="#ff8181"/><stop offset="0.285" stop-color="#ff9898"/><stop offset="0.321" stop-color="#ffc4c4"/><stop offset="0.358" stop-color="#ffffff"/><stop offset="0.474" stop-color="#ffffff"/><stop offset="0.487" stop-color="#fff5f5"/><stop offset="0.539" stop-color="#ffa3a3"/><stop offset="0.578" stop-color="#ff7a7a"/><stop offset="0.604" stop-color="#f56a6a"/><stop offset="0.715" stop-color="#c94f4f"/><stop offset="0.957" stop-color="#652323"/><stop offset="0.999" stop-color="#421515"/><stop offset="1.000" stop-color="#3f1414"/></linearGradient><linearGradient id="g2_61" gradientUnits="userSpaceOnUse" x1="-120.6" x2="120.6"><stop offset="0.000" stop-color="#b24242"/><stop offset="0.003" stop-color="#c04848"/><stop offset="0.029" stop-color="#de5555"/><stop offset="0.103" stop-color="#ff6868"/><stop offset="0.239" stop-color="#ff7d7d"/><stop offset="0.285" stop-color="#ff9999"/><stop offset="0.321" stop-color="#ffc7c7"/><stop offset="0.358" stop-color="#ffffff"/><stop offset="0.474" stop-color="#ffffff"/><stop offset="0.487" stop-color="#fffafa"/><stop offset="0.539" stop-color="#ffa5a5"/><stop offset="0.578" stop-color="#ff7b7b"/><stop offset="0.604" stop-color="#f66b6b"/><stop offset="0.715" stop-color="#ca4f4f"/><stop offset="0.957" stop-color="#652323"/><stop offset="0.999" stop-color="#411515"/><stop offset="1.000" stop-color="#3f1414"/></linearGradient><linearGradient id="g2_62" gradientUnits="userSpaceOnUse" x1="-122.6" x2="122.6"><stop offset="0.000" stop-color="#b34343"/><stop offset="0.003" stop-color="#c04848"/><stop offset="0.029" stop-color="#de5656"/><stop offset="0.095" stop-color="#fe6666"/><stop offset="0.239" stop-color="#ff7e7e"/><stop offset="0.285" stop-color="#ff9b9b"/><stop offset="0.321" stop-color="#ffcaca"/><stop offset="0.345" stop-color="#fff4f4"/><stop offset="0.358" stop-color="#ffffff"/><stop offset="0.487" stop-color="#fffefe"/><stop offset="0.539" stop-color="#ffa7a7"/><stop offset="0.578" stop-color="#ff7c7c"/><stop offset="0.591" stop-color="#ff7272"/><stop offset="0.667" stop-color="#db5858"/><stop offset="0.957" stop-color="#642323"/><stop offset="0.999" stop-color="#411515"/><stop offset="1.000" stop-color="#3f1414"/></linearGradient><linearGradient id="g2_63" gradientUnits="userSpaceOnUse" x1="-124.6" x2="124.6"><stop offset="0.000" stop-color="#b34343"/><stop offset="0.003" stop-color="#c04848"/><stop offset="0.029" stop-color="#df5656"/><stop offset="0.095" stop-color="#fe6666"/><stop offset="0.239" stop-color="#ff7e7e"/><stop offset="0.285" stop-color="#ff9c9c"/><stop offset="0.321" stop-color="#ffcccc"/><stop offset="0.345" stop-color="#fff8f8"/><stop offset="0.371" stop-color="#ffffff"/><stop offset="0.487" stop-color="#ffffff"/><stop offset="0.552" stop-color="#ff9797"/><stop offset="0.591" stop-color="#ff7373"/><stop offset="0.655" stop-color="#df5b5b"/><stop offset="0.951" stop-color="#672424"/><stop offset="0.999" stop-color="#411515"/><stop offset="1.000" stop-color="#3e1414"/></linearGradient><linearGradient id="g2_64" gradientUnits="userSpaceOnUse" x1="-126.7" x2="126.7"><stop offset="0.000" stop-color="#b44343"/><stop offset="0.003" stop-color="#c14848"/><stop offset="0.029" stop-color="#df5656"/><stop offset="0.095" stop-color="#fe6666"/><stop offset="0.239" stop-color="#ff7f7f"/><stop offset="0.285" stop-color="#ff9d9d"/><stop offset="0.321" stop-color="#ffcfcf"/><stop offset="0.345" stop-color="#fffcfc"/><stop offset="0.487" stop-color="#ffffff"/><stop offset="0.500" stop-color="#ffefef"/><stop offset="0.539" stop-color="#ffabab"/><stop offset="0.578" stop-color="#ff7d7d"/><stop offset="0.604" stop-color="#f76c6c"/><stop offset="0.691" stop-color="#d25353"/><stop offset="0.957" stop-color="#642323"/><stop offset="1.000" stop-color="#3f1414"/><stop offset="1.000" stop-color="#3e1414"/></linearGradient><linearGradient id="g2_65" gradientUnits="userSpaceOnUse" x1="-129.1" x2="129.1"><stop offset="0.000" stop-color="#b44343"/><stop offset="0.003" stop-color="#c14949"/><stop offset="0.029" stop-color="#e05656"/><stop offset="0.095" stop-color="#ff6767"/><stop offset="0.239" stop-color="#ff7f7f"/><stop offset="0.273" stop-color="#ff9393"/><stop offset="0.309" stop-color="#ffbebe"/><stop offset="0.345" stop-color="#ffffff"/><stop offset="0.487" stop-color="#ffffff"/><stop offset="0.500" stop-color="#fff3f3"/><stop offset="0.539" stop-color="#ffadad"/><stop offset="0.578" stop-color="#ff7e7e"/><stop offset="0.604" stop-color="#f86c6c"/><stop offset="0.691" stop-color="#d35454"/><stop offset="0.957" stop-color="#642323"/><stop offset="1.000" stop-color="#3f1414"/><stop offset="1.000" stop-color="#3d1414"/></linearGradient><linearGradient id="g2_66" gradientUnits="userSpaceOnUse" x1="-130.8" x2="130.8"><stop offset="0.000" stop-color="#b44343"/><stop offset="0.003" stop-color="#c14949"/><stop offset="0.029" stop-color="#e05656"/><stop offset="0.095" stop-color="#ff6767"/><stop offset="0.239" stop-color="#ff8080"/><stop offset="0.273" stop-color="#ff9494"/><stop offset="0.309" stop-color="#ffbfbf"/><stop offset="0.345" stop-color="#ffffff"/><stop offset="0.487" stop-color="#ffffff"/><stop offset="0.500" stop-color="#fff6f6"/><stop offset="0.539" stop-color="#ffaeae"/><stop offset="0.578" stop-color="#ff7f7f"/><stop offset="0.604" stop-color="#f86d6d"/><stop offset="0.691" stop-color="#d35454"/><stop offset="0.957" stop-color="#632323"/><stop offset="1.000" stop-color="#3e1414"/><stop offset="1.000" stop-color="#3d1313"/></linearGradient><clipPath id="cs3"><path transform="translate(1287.25 1333.85) rotate(94.5)" d="M-131.0 -232.9 Q0 232.9 131.0 -232.9Z"/></clipPath><linearGradient id="g3_0" gradientUnits="userSpaceOnUse" x1="-5.1" x2="5.1"><stop offset="0.000" stop-color="#a93f3f"/><stop offset="0.239" stop-color="#b44343"/><stop offset="0.967" stop-color="#ab3f3f"/><stop offset="1.000" stop-color="#a73e3e"/></linearGradient><linearGradient id="g3_1" gradientUnits="userSpaceOnUse" x1="-8.9" x2="8.9"><stop offset="0.000" stop-color="#a93e3e"/><stop offset="0.095" stop-color="#b74444"/><stop offset="0.487" stop-color="#be4747"/><stop offset="0.976" stop-color="#b04141"/><stop offset="1.000" stop-color="#aa3f3f"/></linearGradient><linearGradient id="g3_2" gradientUnits="userSpaceOnUse" x1="-11.5" x2="11.5"><stop offset="0.000" stop-color="#a73e3e"/><stop offset="0.061" stop-color="#b84545"/><stop offset="0.345" stop-color="#c64a4a"/><stop offset="0.905" stop-color="#b84444"/><stop offset="1.000" stop-color="#ab4040"/><stop offset="1.000" stop-color="#ab3f3f"/></linearGradient><linearGradient id="g3_3" gradientUnits="userSpaceOnUse" x1="-13.6" x2="13.6"><stop offset="0.000" stop-color="#a63d3d"/><stop offset="0.038" stop-color="#b64444"/><stop offset="0.217" stop-color="#c84c4c"/><stop offset="0.739" stop-color="#c34949"/><stop offset="0.994" stop-color="#af4141"/><stop offset="1.000" stop-color="#ab3f3f"/></linearGradient><linearGradient id="g3_4" gradientUnits="userSpaceOnUse" x1="-15.5" x2="15.5"><stop offset="0.000" stop-color="#a43d3d"/><stop offset="0.029" stop-color="#b74444"/><stop offset="0.165" stop-color="#cb4d4d"/><stop offset="0.461" stop-color="#ce4e4e"/><stop offset="0.854" stop-color="#be4747"/><stop offset="0.996" stop-color="#af4141"/><stop offset="1.000" stop-color="#aa3f3f"/></linearGradient><linearGradient id="g3_5" gradientUnits="userSpaceOnUse" x1="-17.2" x2="17.2"><stop offset="0.000" stop-color="#a23c3c"/><stop offset="0.011" stop-color="#b14242"/><stop offset="0.088" stop-color="#c74b4b"/><stop offset="0.285" stop-color="#d75252"/><stop offset="0.794" stop-color="#c54a4a"/><stop offset="0.992" stop-color="#b14242"/><stop offset="1.000" stop-color="#aa3f3f"/></linearGradient><linearGradient id="g3_6" gradientUnits="userSpaceOnUse" x1="-18.8" x2="18.8"><stop offset="0.000" stop-color="#a53d3d"/><stop offset="0.014" stop-color="#b44343"/><stop offset="0.103" stop-color="#ce4e4e"/><stop offset="0.297" stop-color="#dc5454"/><stop offset="0.783" stop-color="#c84b4b"/><stop offset="0.992" stop-color="#b14242"/><stop offset="1.000" stop-color="#a93f3f"/></linearGradient><linearGradient id="g3_7" gradientUnits="userSpaceOnUse" x1="-20.3" x2="20.3"><stop offset="0.000" stop-color="#a83e3e"/><stop offset="0.014" stop-color="#b74444"/><stop offset="0.128" stop-color="#d55151"/><stop offset="0.333" stop-color="#e15757"/><stop offset="0.783" stop-color="#c94c4c"/><stop offset="0.989" stop-color="#b14242"/><stop offset="1.000" stop-color="#a93e3e"/></linearGradient><linearGradient id="g3_8" gradientUnits="userSpaceOnUse" x1="-21.6" x2="21.6"><stop offset="0.000" stop-color="#ab3f3f"/><stop offset="0.014" stop-color="#ba4646"/><stop offset="0.128" stop-color="#d95353"/><stop offset="0.321" stop-color="#e55959"/><stop offset="0.772" stop-color="#cc4d4d"/><stop offset="0.989" stop-color="#b14242"/><stop offset="1.000" stop-color="#a83e3e"/></linearGradient><linearGradient id="g3_9" gradientUnits="userSpaceOnUse" x1="-23.6" x2="23.6"><stop offset="0.000" stop-color="#ae4141"/><stop offset="0.011" stop-color="#bc4747"/><stop offset="0.128" stop-color="#dd5555"/><stop offset="0.309" stop-color="#ea5b5b"/><stop offset="0.772" stop-color="#ce4e4e"/><stop offset="0.989" stop-color="#b04141"/><stop offset="1.000" stop-color="#a63e3e"/></linearGradient><linearGradient id="g3_10" gradientUnits="userSpaceOnUse" x1="-26.1" x2="26.1"><stop offset="0.000" stop-color="#b24242"/><stop offset="0.008" stop-color="#c04848"/><stop offset="0.081" stop-color="#d85353"/><stop offset="0.239" stop-color="#ef5d5d"/><stop offset="0.461" stop-color="#ea5c5c"/><stop offset="0.804" stop-color="#cc4d4d"/><stop offset="0.989" stop-color="#af4141"/><stop offset="1.000" stop-color="#a43d3d"/></linearGradient><linearGradient id="g3_11" gradientUnits="userSpaceOnUse" x1="-28.4" x2="28.4"><stop offset="0.000" stop-color="#b64444"/><stop offset="0.008" stop-color="#c44a4a"/><stop offset="0.081" stop-color="#de5555"/><stop offset="0.261" stop-color="#f56161"/><stop offset="0.539" stop-color="#ea5c5c"/><stop offset="0.835" stop-color="#c74b4b"/><stop offset="0.989" stop-color="#ad4040"/><stop offset="1.000" stop-color="#a23c3c"/></linearGradient><linearGradient id="g3_12" gradientUnits="userSpaceOnUse" x1="-30.5" x2="30.5"><stop offset="0.000" stop-color="#b84545"/><stop offset="0.006" stop-color="#c54a4a"/><stop offset="0.067" stop-color="#e05656"/><stop offset="0.261" stop-color="#f96363"/><stop offset="0.526" stop-color="#ef5e5e"/><stop offset="0.835" stop-color="#c84c4c"/><stop offset="0.989" stop-color="#ac4040"/><stop offset="1.000" stop-color="#a03b3b"/></linearGradient><linearGradient id="g3_13" gradientUnits="userSpaceOnUse" x1="-32.6" x2="32.6"><stop offset="0.000" stop-color="#ba4646"/><stop offset="0.006" stop-color="#c84b4b"/><stop offset="0.054" stop-color="#e05656"/><stop offset="0.239" stop-color="#fb6464"/><stop offset="0.435" stop-color="#f86363"/><stop offset="0.727" stop-color="#db5454"/><stop offset="0.989" stop-color="#aa3f3f"/><stop offset="1.000" stop-color="#9e3a3a"/></linearGradient><linearGradient id="g3_14" gradientUnits="userSpaceOnUse" x1="-34.6" x2="34.6"><stop offset="0.000" stop-color="#bc4646"/><stop offset="0.006" stop-color="#ca4c4c"/><stop offset="0.049" stop-color="#e15757"/><stop offset="0.165" stop-color="#f66262"/><stop offset="0.309" stop-color="#ff6868"/><stop offset="0.565" stop-color="#f26060"/><stop offset="0.880" stop-color="#c04848"/><stop offset="0.992" stop-color="#a73e3e"/><stop offset="1.000" stop-color="#9c3a3a"/></linearGradient><linearGradient id="g3_15" gradientUnits="userSpaceOnUse" x1="-37.1" x2="37.1"><stop offset="0.000" stop-color="#be4747"/><stop offset="0.006" stop-color="#cd4d4d"/><stop offset="0.043" stop-color="#e35757"/><stop offset="0.146" stop-color="#f96363"/><stop offset="0.297" stop-color="#ff6a6a"/><stop offset="0.526" stop-color="#f96363"/><stop offset="0.835" stop-color="#c94c4c"/><stop offset="0.989" stop-color="#a73e3e"/><stop offset="1.000" stop-color="#9a3939"/></linearGradient><linearGradient id="g3_16" gradientUnits="userSpaceOnUse" x1="-39.9" x2="39.9"><stop offset="0.000" stop-color="#bf4848"/><stop offset="0.006" stop-color="#d04f4f"/><stop offset="0.043" stop-color="#e75959"/><stop offset="0.146" stop-color="#fd6565"/><stop offset="0.409" stop-color="#ff6a6a"/><stop offset="0.578" stop-color="#f76262"/><stop offset="0.889" stop-color="#bd4747"/><stop offset="0.992" stop-color="#a33c3c"/><stop offset="1.000" stop-color="#973838"/></linearGradient><linearGradient id="g3_17" gradientUnits="userSpaceOnUse" x1="-43.0" x2="43.0"><stop offset="0.000" stop-color="#c14848"/><stop offset="0.006" stop-color="#d25050"/><stop offset="0.043" stop-color="#eb5b5b"/><stop offset="0.137" stop-color="#ff6767"/><stop offset="0.409" stop-color="#ff6d6d"/><stop offset="0.578" stop-color="#fa6565"/><stop offset="0.905" stop-color="#b94545"/><stop offset="0.994" stop-color="#9f3a3a"/><stop offset="1.000" stop-color="#943636"/></linearGradient><linearGradient id="g3_18" gradientUnits="userSpaceOnUse" x1="-46.5" x2="46.5"><stop offset="0.000" stop-color="#c24949"/><stop offset="0.004" stop-color="#d24f4f"/><stop offset="0.033" stop-color="#ea5a5a"/><stop offset="0.111" stop-color="#ff6767"/><stop offset="0.383" stop-color="#ff7171"/><stop offset="0.591" stop-color="#fc6666"/><stop offset="0.919" stop-color="#b44343"/><stop offset="0.994" stop-color="#9c3939"/><stop offset="1.000" stop-color="#913535"/></linearGradient><linearGradient id="g3_19" gradientUnits="userSpaceOnUse" x1="-49.4" x2="49.4"><stop offset="0.000" stop-color="#c34949"/><stop offset="0.004" stop-color="#d35050"/><stop offset="0.033" stop-color="#ec5c5c"/><stop offset="0.103" stop-color="#ff6868"/><stop offset="0.396" stop-color="#ff7474"/><stop offset="0.604" stop-color="#fc6666"/><stop offset="0.967" stop-color="#a63d3d"/><stop offset="0.998" stop-color="#943636"/><stop offset="1.000" stop-color="#8e3434"/></linearGradient><linearGradient id="g3_20" gradientUnits="userSpaceOnUse" x1="-51.9" x2="51.9"><stop offset="0.000" stop-color="#c34949"/><stop offset="0.003" stop-color="#d14f4f"/><stop offset="0.024" stop-color="#e95a5a"/><stop offset="0.088" stop-color="#ff6767"/><stop offset="0.321" stop-color="#ff7575"/><stop offset="0.526" stop-color="#ff7272"/><stop offset="0.629" stop-color="#f96565"/><stop offset="0.967" stop-color="#a53d3d"/><stop offset="0.998" stop-color="#923535"/><stop offset="1.000" stop-color="#8c3333"/></linearGradient><linearGradient id="g3_21" gradientUnits="userSpaceOnUse" x1="-54.3" x2="54.3"><stop offset="0.000" stop-color="#c44a4a"/><stop offset="0.003" stop-color="#d35050"/><stop offset="0.024" stop-color="#eb5b5b"/><stop offset="0.081" stop-color="#ff6767"/><stop offset="0.285" stop-color="#ff7676"/><stop offset="0.513" stop-color="#ff7878"/><stop offset="0.629" stop-color="#fa6666"/><stop offset="0.967" stop-color="#a33c3c"/><stop offset="0.998" stop-color="#903434"/><stop offset="1.000" stop-color="#8a3232"/></linearGradient><linearGradient id="g3_22" gradientUnits="userSpaceOnUse" x1="-56.3" x2="56.3"><stop offset="0.000" stop-color="#c54a4a"/><stop offset="0.003" stop-color="#d45050"/><stop offset="0.024" stop-color="#ec5b5b"/><stop offset="0.074" stop-color="#ff6666"/><stop offset="0.261" stop-color="#ff7676"/><stop offset="0.500" stop-color="#ff7e7e"/><stop offset="0.629" stop-color="#fc6767"/><stop offset="0.967" stop-color="#a23c3c"/><stop offset="0.998" stop-color="#8e3434"/><stop offset="1.000" stop-color="#883131"/></linearGradient><linearGradient id="g3_23" gradientUnits="userSpaceOnUse" x1="-57.9" x2="57.9"><stop offset="0.000" stop-color="#c64b4b"/><stop offset="0.003" stop-color="#d55151"/><stop offset="0.024" stop-color="#ed5c5c"/><stop offset="0.074" stop-color="#ff6767"/><stop offset="0.261" stop-color="#ff7777"/><stop offset="0.487" stop-color="#ff8383"/><stop offset="0.629" stop-color="#fd6868"/><stop offset="0.967" stop-color="#a13b3b"/><stop offset="0.998" stop-color="#8d3333"/><stop offset="1.000" stop-color="#873131"/></linearGradient><linearGradient id="g3_24" gradientUnits="userSpaceOnUse" x1="-59.5" x2="59.5"><stop offset="0.000" stop-color="#c74b4b"/><stop offset="0.003" stop-color="#d55151"/><stop offset="0.024" stop-color="#ee5c5c"/><stop offset="0.067" stop-color="#ff6767"/><stop offset="0.239" stop-color="#ff7777"/><stop offset="0.487" stop-color="#ff8888"/><stop offset="0.642" stop-color="#fa6666"/><stop offset="0.967" stop-color="#a03b3b"/><stop offset="0.998" stop-color="#8c3333"/><stop offset="1.000" stop-color="#853030"/></linearGradient><linearGradient id="g3_25" gradientUnits="userSpaceOnUse" x1="-61.0" x2="61.0"><stop offset="0.000" stop-color="#c84b4b"/><stop offset="0.003" stop-color="#d65151"/><stop offset="0.024" stop-color="#ef5d5d"/><stop offset="0.067" stop-color="#ff6767"/><stop offset="0.239" stop-color="#ff7777"/><stop offset="0.487" stop-color="#ff8d8d"/><stop offset="0.642" stop-color="#fb6767"/><stop offset="0.967" stop-color="#9f3b3b"/><stop offset="0.998" stop-color="#8a3232"/><stop offset="1.000" stop-color="#843030"/></linearGradient><linearGradient id="g3_26" gradientUnits="userSpaceOnUse" x1="-62.6" x2="62.6"><stop offset="0.000" stop-color="#c94c4c"/><stop offset="0.003" stop-color="#d75252"/><stop offset="0.024" stop-color="#f05d5d"/><stop offset="0.061" stop-color="#ff6767"/><stop offset="0.228" stop-color="#ff7878"/><stop offset="0.383" stop-color="#ff8686"/><stop offset="0.487" stop-color="#ff9292"/><stop offset="0.642" stop-color="#fc6868"/><stop offset="0.967" stop-color="#9f3a3a"/><stop offset="0.998" stop-color="#893232"/><stop offset="1.000" stop-color="#832f2f"/></linearGradient><linearGradient id="g3_27" gradientUnits="userSpaceOnUse" x1="-64.1" x2="64.1"><stop offset="0.000" stop-color="#c94c4c"/><stop offset="0.003" stop-color="#d85252"/><stop offset="0.024" stop-color="#f15d5d"/><stop offset="0.061" stop-color="#ff6767"/><stop offset="0.228" stop-color="#ff7979"/><stop offset="0.371" stop-color="#ff8686"/><stop offset="0.474" stop-color="#ff9999"/><stop offset="0.552" stop-color="#ff8787"/><stop offset="0.642" stop-color="#fd6969"/><stop offset="0.971" stop-color="#9c3939"/><stop offset="0.998" stop-color="#883131"/><stop offset="1.000" stop-color="#822f2f"/></linearGradient><linearGradient id="g3_28" gradientUnits="userSpaceOnUse" x1="-65.6" x2="65.6"><stop offset="0.000" stop-color="#ca4c4c"/><stop offset="0.003" stop-color="#d95252"/><stop offset="0.024" stop-color="#f15e5e"/><stop offset="0.061" stop-color="#ff6767"/><stop offset="0.217" stop-color="#ff7979"/><stop offset="0.358" stop-color="#ff8686"/><stop offset="0.474" stop-color="#ff9f9f"/><stop offset="0.539" stop-color="#ff9090"/><stop offset="0.642" stop-color="#fe6a6a"/><stop offset="0.971" stop-color="#9b3939"/><stop offset="0.998" stop-color="#873131"/><stop offset="1.000" stop-color="#812f2f"/></linearGradient><linearGradient id="g3_29" gradientUnits="userSpaceOnUse" x1="-67.1" x2="67.1"><stop offset="0.000" stop-color="#cb4c4c"/><stop offset="0.003" stop-color="#d95353"/><stop offset="0.024" stop-color="#f25e5e"/><stop offset="0.054" stop-color="#ff6767"/><stop offset="0.217" stop-color="#ff7a7a"/><stop offset="0.345" stop-color="#ff8585"/><stop offset="0.474" stop-color="#ffa5a5"/><stop offset="0.539" stop-color="#ff9595"/><stop offset="0.642" stop-color="#ff6a6a"/><stop offset="0.880" stop-color="#ba4646"/><stop offset="0.992" stop-color="#8f3434"/><stop offset="1.000" stop-color="#802e2e"/></linearGradient><linearGradient id="g3_30" gradientUnits="userSpaceOnUse" x1="-68.6" x2="68.6"><stop offset="0.000" stop-color="#cb4d4d"/><stop offset="0.003" stop-color="#da5353"/><stop offset="0.024" stop-color="#f35e5e"/><stop offset="0.054" stop-color="#ff6767"/><stop offset="0.217" stop-color="#ff7b7b"/><stop offset="0.345" stop-color="#ff8787"/><stop offset="0.461" stop-color="#ffabab"/><stop offset="0.513" stop-color="#ffa6a6"/><stop offset="0.642" stop-color="#ff6b6b"/><stop offset="0.863" stop-color="#be4848"/><stop offset="0.989" stop-color="#903535"/><stop offset="1.000" stop-color="#812e2e"/><stop offset="1.000" stop-color="#7f2e2e"/></linearGradient><linearGradient id="g3_31" gradientUnits="userSpaceOnUse" x1="-69.7" x2="69.7"><stop offset="0.000" stop-color="#cc4d4d"/><stop offset="0.003" stop-color="#da5353"/><stop offset="0.024" stop-color="#f35f5f"/><stop offset="0.054" stop-color="#ff6767"/><stop offset="0.217" stop-color="#ff7b7b"/><stop offset="0.333" stop-color="#ff8585"/><stop offset="0.461" stop-color="#ffb0b0"/><stop offset="0.513" stop-color="#ffaaaa"/><stop offset="0.642" stop-color="#ff6c6c"/><stop offset="0.844" stop-color="#c24a4a"/><stop offset="0.983" stop-color="#933636"/><stop offset="0.999" stop-color="#822f2f"/><stop offset="1.000" stop-color="#7e2d2d"/></linearGradient><linearGradient id="g3_32" gradientUnits="userSpaceOnUse" x1="-70.5" x2="70.5"><stop offset="0.000" stop-color="#cc4d4d"/><stop offset="0.003" stop-color="#db5353"/><stop offset="0.024" stop-color="#f45f5f"/><stop offset="0.054" stop-color="#ff6767"/><stop offset="0.217" stop-color="#ff7c7c"/><stop offset="0.333" stop-color="#ff8686"/><stop offset="0.461" stop-color="#ffb4b4"/><stop offset="0.513" stop-color="#ffaeae"/><stop offset="0.642" stop-color="#ff6c6c"/><stop offset="0.835" stop-color="#c44a4a"/><stop offset="0.976" stop-color="#973737"/><stop offset="0.998" stop-color="#843030"/><stop offset="1.000" stop-color="#7d2d2d"/></linearGradient><linearGradient id="g3_33" gradientUnits="userSpaceOnUse" x1="-71.2" x2="71.2"><stop offset="0.000" stop-color="#cc4d4d"/><stop offset="0.003" stop-color="#db5353"/><stop offset="0.024" stop-color="#f45f5f"/><stop offset="0.054" stop-color="#ff6868"/><stop offset="0.217" stop-color="#ff7c7c"/><stop offset="0.333" stop-color="#ff8787"/><stop offset="0.461" stop-color="#ffb7b7"/><stop offset="0.513" stop-color="#ffb1b1"/><stop offset="0.642" stop-color="#ff6d6d"/><stop offset="0.825" stop-color="#c74c4c"/><stop offset="0.976" stop-color="#963737"/><stop offset="0.998" stop-color="#843030"/><stop offset="1.000" stop-color="#7d2d2d"/></linearGradient><linearGradient id="g3_34" gradientUnits="userSpaceOnUse" x1="-72.0" x2="72.0"><stop offset="0.000" stop-color="#cc4d4d"/><stop offset="0.003" stop-color="#db5353"/><stop offset="0.024" stop-color="#f45f5f"/><stop offset="0.054" stop-color="#ff6868"/><stop offset="0.217" stop-color="#ff7c7c"/><stop offset="0.333" stop-color="#ff8787"/><stop offset="0.461" stop-color="#ffbbbb"/><stop offset="0.513" stop-color="#ffb5b5"/><stop offset="0.642" stop-color="#ff6d6d"/><stop offset="0.804" stop-color="#cc4e4e"/><stop offset="0.967" stop-color="#9a3838"/><stop offset="0.997" stop-color="#853030"/><stop offset="1.000" stop-color="#7c2d2d"/></linearGradient><linearGradient id="g3_35" gradientUnits="userSpaceOnUse" x1="-72.7" x2="72.7"><stop offset="0.000" stop-color="#cd4d4d"/><stop offset="0.003" stop-color="#db5353"/><stop offset="0.024" stop-color="#f55f5f"/><stop offset="0.054" stop-color="#ff6868"/><stop offset="0.206" stop-color="#ff7c7c"/><stop offset="0.321" stop-color="#ff8585"/><stop offset="0.409" stop-color="#ffaaaa"/><stop offset="0.461" stop-color="#ffbfbf"/><stop offset="0.500" stop-color="#ffbdbd"/><stop offset="0.578" stop-color="#ff9090"/><stop offset="0.655" stop-color="#fc6a6a"/><stop offset="0.854" stop-color="#bf4848"/><stop offset="0.986" stop-color="#903535"/><stop offset="1.000" stop-color="#7e2d2d"/><stop offset="1.000" stop-color="#7c2d2d"/></linearGradient><linearGradient id="g3_36" gradientUnits="userSpaceOnUse" x1="-73.4" x2="73.4"><stop offset="0.000" stop-color="#cd4d4d"/><stop offset="0.003" stop-color="#dc5454"/><stop offset="0.024" stop-color="#f56060"/><stop offset="0.054" stop-color="#ff6868"/><stop offset="0.206" stop-color="#ff7d7d"/><stop offset="0.321" stop-color="#ff8686"/><stop offset="0.396" stop-color="#ffa5a5"/><stop offset="0.461" stop-color="#ffc2c2"/><stop offset="0.500" stop-color="#ffc1c1"/><stop offset="0.565" stop-color="#ff9b9b"/><stop offset="0.642" stop-color="#ff6e6e"/><stop offset="0.794" stop-color="#cf5050"/><stop offset="0.967" stop-color="#993838"/><stop offset="0.997" stop-color="#853030"/><stop offset="1.000" stop-color="#7b2c2c"/></linearGradient><linearGradient id="g3_37" gradientUnits="userSpaceOnUse" x1="-74.2" x2="74.2"><stop offset="0.000" stop-color="#cd4d4d"/><stop offset="0.003" stop-color="#dc5454"/><stop offset="0.024" stop-color="#f56060"/><stop offset="0.054" stop-color="#ff6868"/><stop offset="0.206" stop-color="#ff7d7d"/><stop offset="0.321" stop-color="#ff8686"/><stop offset="0.396" stop-color="#ffa7a7"/><stop offset="0.461" stop-color="#ffc6c6"/><stop offset="0.500" stop-color="#ffc4c4"/><stop offset="0.565" stop-color="#ff9d9d"/><stop offset="0.642" stop-color="#ff6f6f"/><stop offset="0.783" stop-color="#d15151"/><stop offset="0.946" stop-color="#a03b3b"/><stop offset="0.994" stop-color="#893232"/><stop offset="1.000" stop-color="#7b2c2c"/></linearGradient><linearGradient id="g3_38" gradientUnits="userSpaceOnUse" x1="-74.9" x2="74.9"><stop offset="0.000" stop-color="#cd4d4d"/><stop offset="0.003" stop-color="#dc5454"/><stop offset="0.024" stop-color="#f66060"/><stop offset="0.054" stop-color="#ff6868"/><stop offset="0.206" stop-color="#ff7d7d"/><stop offset="0.321" stop-color="#ff8787"/><stop offset="0.396" stop-color="#ffaaaa"/><stop offset="0.461" stop-color="#ffcaca"/><stop offset="0.500" stop-color="#ffc8c8"/><stop offset="0.565" stop-color="#ff9f9f"/><stop offset="0.642" stop-color="#ff6f6f"/><stop offset="0.772" stop-color="#d45252"/><stop offset="0.946" stop-color="#a03b3b"/><stop offset="0.994" stop-color="#893232"/><stop offset="1.000" stop-color="#7a2c2c"/></linearGradient><linearGradient id="g3_39" gradientUnits="userSpaceOnUse" x1="-75.6" x2="75.6"><stop offset="0.000" stop-color="#cd4d4d"/><stop offset="0.003" stop-color="#dc5454"/><stop offset="0.024" stop-color="#f66060"/><stop offset="0.054" stop-color="#ff6969"/><stop offset="0.206" stop-color="#ff7e7e"/><stop offset="0.321" stop-color="#ff8787"/><stop offset="0.396" stop-color="#ffacac"/><stop offset="0.461" stop-color="#ffcece"/><stop offset="0.500" stop-color="#ffcccc"/><stop offset="0.552" stop-color="#ffacac"/><stop offset="0.629" stop-color="#ff7575"/><stop offset="0.667" stop-color="#f86767"/><stop offset="0.863" stop-color="#bc4747"/><stop offset="0.986" stop-color="#8f3434"/><stop offset="0.999" stop-color="#7f2e2e"/><stop offset="1.000" stop-color="#7a2c2c"/></linearGradient><linearGradient id="g3_40" gradientUnits="userSpaceOnUse" x1="-76.4" x2="76.4"><stop offset="0.000" stop-color="#ce4d4d"/><stop offset="0.003" stop-color="#dd5454"/><stop offset="0.024" stop-color="#f66060"/><stop offset="0.054" stop-color="#ff6969"/><stop offset="0.206" stop-color="#ff7e7e"/><stop offset="0.321" stop-color="#ff8888"/><stop offset="0.383" stop-color="#ffa6a6"/><stop offset="0.461" stop-color="#ffd2d2"/><stop offset="0.500" stop-color="#ffd0d0"/><stop offset="0.552" stop-color="#ffaeae"/><stop offset="0.629" stop-color="#ff7676"/><stop offset="0.667" stop-color="#f86767"/><stop offset="0.854" stop-color="#be4848"/><stop offset="0.983" stop-color="#913535"/><stop offset="0.999" stop-color="#7e2e2e"/><stop offset="1.000" stop-color="#7a2c2c"/></linearGradient><linearGradient id="g3_41" gradientUnits="userSpaceOnUse" x1="-77.1" x2="77.1"><stop offset="0.000" stop-color="#ce4e4e"/><stop offset="0.003" stop-color="#dd5454"/><stop offset="0.024" stop-color="#f76060"/><stop offset="0.049" stop-color="#ff6767"/><stop offset="0.206" stop-color="#ff7e7e"/><stop offset="0.321" stop-color="#ff8989"/><stop offset="0.383" stop-color="#ffa7a7"/><stop offset="0.448" stop-color="#ffd1d1"/><stop offset="0.487" stop-color="#ffd7d7"/><stop offset="0.526" stop-color="#ffc6c6"/><stop offset="0.629" stop-color="#ff7777"/><stop offset="0.667" stop-color="#f96767"/><stop offset="0.854" stop-color="#be4848"/><stop offset="0.983" stop-color="#913535"/><stop offset="0.999" stop-color="#7e2d2d"/><stop offset="1.000" stop-color="#792b2b"/></linearGradient><linearGradient id="g3_42" gradientUnits="userSpaceOnUse" x1="-77.8" x2="77.8"><stop offset="0.000" stop-color="#ce4e4e"/><stop offset="0.003" stop-color="#dd5454"/><stop offset="0.024" stop-color="#f76060"/><stop offset="0.049" stop-color="#ff6868"/><stop offset="0.206" stop-color="#ff7f7f"/><stop offset="0.321" stop-color="#ff8989"/><stop offset="0.383" stop-color="#ffa9a9"/><stop offset="0.448" stop-color="#ffd4d4"/><stop offset="0.487" stop-color="#ffdbdb"/><stop offset="0.526" stop-color="#ffc9c9"/><stop offset="0.617" stop-color="#ff7f7f"/><stop offset="0.655" stop-color="#fe6c6c"/><stop offset="0.815" stop-color="#c84d4d"/><stop offset="0.951" stop-color="#9d3a3a"/><stop offset="0.994" stop-color="#883131"/><stop offset="1.000" stop-color="#792b2b"/></linearGradient><linearGradient id="g3_43" gradientUnits="userSpaceOnUse" x1="-78.6" x2="78.6"><stop offset="0.000" stop-color="#ce4e4e"/><stop offset="0.003" stop-color="#dd5454"/><stop offset="0.024" stop-color="#f76060"/><stop offset="0.049" stop-color="#ff6868"/><stop offset="0.206" stop-color="#ff7f7f"/><stop offset="0.321" stop-color="#ff8a8a"/><stop offset="0.383" stop-color="#ffabab"/><stop offset="0.448" stop-color="#ffd8d8"/><stop offset="0.487" stop-color="#ffdfdf"/><stop offset="0.526" stop-color="#ffcccc"/><stop offset="0.617" stop-color="#ff8080"/><stop offset="0.655" stop-color="#ff6c6c"/><stop offset="0.804" stop-color="#cb4e4e"/><stop offset="0.946" stop-color="#a03b3b"/><stop offset="0.994" stop-color="#873131"/><stop offset="1.000" stop-color="#792b2b"/></linearGradient><linearGradient id="g3_44" gradientUnits="userSpaceOnUse" x1="-79.3" x2="79.3"><stop offset="0.000" stop-color="#ce4e4e"/><stop offset="0.003" stop-color="#dd5454"/><stop offset="0.021" stop-color="#f45f5f"/><stop offset="0.043" stop-color="#ff6666"/><stop offset="0.196" stop-color="#ff7f7f"/><stop offset="0.309" stop-color="#ff8787"/><stop offset="0.371" stop-color="#ffa4a4"/><stop offset="0.448" stop-color="#ffdcdc"/><stop offset="0.487" stop-color="#ffe3e3"/><stop offset="0.526" stop-color="#ffd0d0"/><stop offset="0.617" stop-color="#ff8181"/><stop offset="0.655" stop-color="#ff6c6c"/><stop offset="0.794" stop-color="#cd4f4f"/><stop offset="0.946" stop-color="#9f3b3b"/><stop offset="0.994" stop-color="#873131"/><stop offset="1.000" stop-color="#792b2b"/></linearGradient><linearGradient id="g3_45" gradientUnits="userSpaceOnUse" x1="-80.0" x2="80.0"><stop offset="0.000" stop-color="#ce4e4e"/><stop offset="0.003" stop-color="#de5454"/><stop offset="0.021" stop-color="#f55f5f"/><stop offset="0.049" stop-color="#ff6868"/><stop offset="0.206" stop-color="#ff8080"/><stop offset="0.309" stop-color="#ff8787"/><stop offset="0.371" stop-color="#ffa5a5"/><stop offset="0.448" stop-color="#ffe0e0"/><stop offset="0.487" stop-color="#ffe7e7"/><stop offset="0.526" stop-color="#ffd3d3"/><stop offset="0.617" stop-color="#ff8181"/><stop offset="0.655" stop-color="#ff6d6d"/><stop offset="0.794" stop-color="#cd4f4f"/><stop offset="0.939" stop-color="#a23c3c"/><stop offset="0.994" stop-color="#873131"/><stop offset="1.000" stop-color="#782b2b"/></linearGradient><linearGradient id="g3_46" gradientUnits="userSpaceOnUse" x1="-80.7" x2="80.7"><stop offset="0.000" stop-color="#cf4e4e"/><stop offset="0.003" stop-color="#de5454"/><stop offset="0.021" stop-color="#f55f5f"/><stop offset="0.049" stop-color="#ff6868"/><stop offset="0.206" stop-color="#ff8080"/><stop offset="0.309" stop-color="#ff8888"/><stop offset="0.371" stop-color="#ffa7a7"/><stop offset="0.448" stop-color="#ffe3e3"/><stop offset="0.487" stop-color="#ffebeb"/><stop offset="0.526" stop-color="#ffd7d7"/><stop offset="0.617" stop-color="#ff8282"/><stop offset="0.655" stop-color="#ff6d6d"/><stop offset="0.783" stop-color="#d05050"/><stop offset="0.939" stop-color="#a23c3c"/><stop offset="0.994" stop-color="#873131"/><stop offset="1.000" stop-color="#782b2b"/></linearGradient><linearGradient id="g3_47" gradientUnits="userSpaceOnUse" x1="-81.5" x2="81.5"><stop offset="0.000" stop-color="#cf4e4e"/><stop offset="0.003" stop-color="#de5454"/><stop offset="0.021" stop-color="#f55f5f"/><stop offset="0.049" stop-color="#ff6868"/><stop offset="0.206" stop-color="#ff8080"/><stop offset="0.309" stop-color="#ff8888"/><stop offset="0.371" stop-color="#ffa8a8"/><stop offset="0.448" stop-color="#ffe7e7"/><stop offset="0.487" stop-color="#ffefef"/><stop offset="0.526" stop-color="#ffdada"/><stop offset="0.617" stop-color="#ff8383"/><stop offset="0.655" stop-color="#ff6d6d"/><stop offset="0.783" stop-color="#d05050"/><stop offset="0.939" stop-color="#a23c3c"/><stop offset="0.994" stop-color="#873131"/><stop offset="1.000" stop-color="#782b2b"/></linearGradient><linearGradient id="g3_48" gradientUnits="userSpaceOnUse" x1="-82.2" x2="82.2"><stop offset="0.000" stop-color="#cf4e4e"/><stop offset="0.003" stop-color="#de5555"/><stop offset="0.021" stop-color="#f56060"/><stop offset="0.043" stop-color="#ff6767"/><stop offset="0.206" stop-color="#ff8181"/><stop offset="0.309" stop-color="#ff8989"/><stop offset="0.358" stop-color="#ffa0a0"/><stop offset="0.448" stop-color="#ffebeb"/><stop offset="0.487" stop-color="#fff3f3"/><stop offset="0.526" stop-color="#ffdede"/><stop offset="0.617" stop-color="#ff8484"/><stop offset="0.667" stop-color="#fa6969"/><stop offset="0.835" stop-color="#c14a4a"/><stop offset="0.951" stop-color="#9d3a3a"/><stop offset="0.994" stop-color="#863131"/><stop offset="1.000" stop-color="#782b2b"/></linearGradient><linearGradient id="g3_49" gradientUnits="userSpaceOnUse" x1="-82.9" x2="82.9"><stop offset="0.000" stop-color="#cf4e4e"/><stop offset="0.003" stop-color="#de5555"/><stop offset="0.021" stop-color="#f66060"/><stop offset="0.043" stop-color="#ff6767"/><stop offset="0.206" stop-color="#ff8181"/><stop offset="0.309" stop-color="#ff8989"/><stop offset="0.358" stop-color="#ffa1a1"/><stop offset="0.448" stop-color="#ffeeee"/><stop offset="0.487" stop-color="#fff7f7"/><stop offset="0.526" stop-color="#ffe1e1"/><stop offset="0.617" stop-color="#ff8585"/><stop offset="0.667" stop-color="#fa6969"/><stop offset="0.835" stop-color="#c14a4a"/><stop offset="0.951" stop-color="#9c3a3a"/><stop offset="0.994" stop-color="#863131"/><stop offset="1.000" stop-color="#782b2b"/></linearGradient><linearGradient id="g3_50" gradientUnits="userSpaceOnUse" x1="-83.6" x2="83.6"><stop offset="0.000" stop-color="#cf4e4e"/><stop offset="0.003" stop-color="#de5555"/><stop offset="0.021" stop-color="#f66060"/><stop offset="0.043" stop-color="#ff6767"/><stop offset="0.206" stop-color="#ff8181"/><stop offset="0.309" stop-color="#ff8a8a"/><stop offset="0.358" stop-color="#ffa3a3"/><stop offset="0.448" stop-color="#fff2f2"/><stop offset="0.487" stop-color="#fffbfb"/><stop offset="0.526" stop-color="#ffe4e4"/><stop offset="0.617" stop-color="#ff8686"/><stop offset="0.667" stop-color="#fa6969"/><stop offset="0.835" stop-color="#c14a4a"/><stop offset="0.946" stop-color="#9f3a3a"/><stop offset="0.994" stop-color="#863131"/><stop offset="1.000" stop-color="#782b2b"/></linearGradient><linearGradient id="g3_51" gradientUnits="userSpaceOnUse" x1="-84.3" x2="84.3"><stop offset="0.000" stop-color="#cf4e4e"/><stop offset="0.002" stop-color="#db5353"/><stop offset="0.017" stop-color="#f35e5e"/><stop offset="0.038" stop-color="#ff6666"/><stop offset="0.196" stop-color="#ff8181"/><stop offset="0.309" stop-color="#ff8a8a"/><stop offset="0.358" stop-color="#ffa4a4"/><stop offset="0.448" stop-color="#fff6f6"/><stop offset="0.487" stop-color="#ffffff"/><stop offset="0.526" stop-color="#ffe8e8"/><stop offset="0.617" stop-color="#ff8787"/><stop offset="0.667" stop-color="#fa6969"/><stop offset="0.835" stop-color="#c14949"/><stop offset="0.946" stop-color="#9e3a3a"/><stop offset="0.994" stop-color="#863030"/><stop offset="1.000" stop-color="#772b2b"/></linearGradient><linearGradient id="g3_52" gradientUnits="userSpaceOnUse" x1="-85.1" x2="85.1"><stop offset="0.000" stop-color="#cf4e4e"/><stop offset="0.002" stop-color="#db5353"/><stop offset="0.017" stop-color="#f35e5e"/><stop offset="0.038" stop-color="#ff6666"/><stop offset="0.196" stop-color="#ff8181"/><stop offset="0.309" stop-color="#ff8b8b"/><stop offset="0.358" stop-color="#ffa5a5"/><stop offset="0.448" stop-color="#fff9f9"/><stop offset="0.487" stop-color="#ffffff"/><stop offset="0.500" stop-color="#ffffff"/><stop offset="0.539" stop-color="#ffdede"/><stop offset="0.617" stop-color="#ff8787"/><stop offset="0.667" stop-color="#fa6a6a"/><stop offset="0.825" stop-color="#c44b4b"/><stop offset="0.946" stop-color="#9e3a3a"/><stop offset="0.994" stop-color="#853030"/><stop offset="1.000" stop-color="#772b2b"/></linearGradient><linearGradient id="g3_53" gradientUnits="userSpaceOnUse" x1="-85.8" x2="85.8"><stop offset="0.000" stop-color="#d04e4e"/><stop offset="0.002" stop-color="#db5353"/><stop offset="0.017" stop-color="#f35e5e"/><stop offset="0.038" stop-color="#ff6666"/><stop offset="0.196" stop-color="#ff8282"/><stop offset="0.309" stop-color="#ff8b8b"/><stop offset="0.358" stop-color="#ffa6a6"/><stop offset="0.448" stop-color="#fffdfd"/><stop offset="0.500" stop-color="#ffffff"/><stop offset="0.526" stop-color="#ffefef"/><stop offset="0.617" stop-color="#ff8888"/><stop offset="0.667" stop-color="#fa6a6a"/><stop offset="0.825" stop-color="#c44b4b"/><stop offset="0.946" stop-color="#9e3a3a"/><stop offset="0.994" stop-color="#853030"/><stop offset="1.000" stop-color="#772b2b"/></linearGradient><linearGradient id="g3_54" gradientUnits="userSpaceOnUse" x1="-86.8" x2="86.8"><stop offset="0.000" stop-color="#d04e4e"/><stop offset="0.002" stop-color="#db5353"/><stop offset="0.017" stop-color="#f45f5f"/><stop offset="0.038" stop-color="#ff6666"/><stop offset="0.196" stop-color="#ff8282"/><stop offset="0.309" stop-color="#ff8c8c"/><stop offset="0.358" stop-color="#ffa8a8"/><stop offset="0.435" stop-color="#fff8f8"/><stop offset="0.461" stop-color="#ffffff"/><stop offset="0.513" stop-color="#ffffff"/><stop offset="0.565" stop-color="#ffc4c4"/><stop offset="0.617" stop-color="#ff8a8a"/><stop offset="0.667" stop-color="#fb6a6a"/><stop offset="0.815" stop-color="#c74c4c"/><stop offset="0.939" stop-color="#a13b3b"/><stop offset="0.994" stop-color="#853030"/><stop offset="1.000" stop-color="#772b2b"/></linearGradient><linearGradient id="g3_55" gradientUnits="userSpaceOnUse" x1="-88.3" x2="88.3"><stop offset="0.000" stop-color="#d04e4e"/><stop offset="0.002" stop-color="#dc5353"/><stop offset="0.017" stop-color="#f45f5f"/><stop offset="0.038" stop-color="#ff6666"/><stop offset="0.206" stop-color="#ff8383"/><stop offset="0.309" stop-color="#ff8d8d"/><stop offset="0.358" stop-color="#ffaaaa"/><stop offset="0.435" stop-color="#fffefe"/><stop offset="0.513" stop-color="#ffffff"/><stop offset="0.526" stop-color="#fffafa"/><stop offset="0.617" stop-color="#ff8b8b"/><stop offset="0.667" stop-color="#fb6a6a"/><stop offset="0.804" stop-color="#c94d4d"/><stop offset="0.939" stop-color="#a03b3b"/><stop offset="0.994" stop-color="#853030"/><stop offset="1.000" stop-color="#772a2a"/></linearGradient><linearGradient id="g3_56" gradientUnits="userSpaceOnUse" x1="-89.7" x2="89.7"><stop offset="0.000" stop-color="#d04f4f"/><stop offset="0.002" stop-color="#dc5454"/><stop offset="0.017" stop-color="#f45f5f"/><stop offset="0.038" stop-color="#ff6767"/><stop offset="0.206" stop-color="#ff8484"/><stop offset="0.309" stop-color="#ff8e8e"/><stop offset="0.358" stop-color="#ffacac"/><stop offset="0.422" stop-color="#fff6f6"/><stop offset="0.435" stop-color="#ffffff"/><stop offset="0.526" stop-color="#ffffff"/><stop offset="0.617" stop-color="#ff8d8d"/><stop offset="0.667" stop-color="#fb6b6b"/><stop offset="0.794" stop-color="#cc4f4f"/><stop offset="0.939" stop-color="#a03b3b"/><stop offset="0.994" stop-color="#843030"/><stop offset="1.000" stop-color="#762a2a"/></linearGradient><linearGradient id="g3_57" gradientUnits="userSpaceOnUse" x1="-91.1" x2="91.1"><stop offset="0.000" stop-color="#d04f4f"/><stop offset="0.002" stop-color="#dc5454"/><stop offset="0.017" stop-color="#f45f5f"/><stop offset="0.038" stop-color="#ff6767"/><stop offset="0.206" stop-color="#ff8585"/><stop offset="0.309" stop-color="#ff8f8f"/><stop offset="0.358" stop-color="#ffaeae"/><stop offset="0.422" stop-color="#fffcfc"/><stop offset="0.526" stop-color="#ffffff"/><stop offset="0.539" stop-color="#fff7f7"/><stop offset="0.604" stop-color="#ff9c9c"/><stop offset="0.655" stop-color="#ff7171"/><stop offset="0.739" stop-color="#de5858"/><stop offset="0.939" stop-color="#a03b3b"/><stop offset="0.994" stop-color="#843030"/><stop offset="1.000" stop-color="#762a2a"/></linearGradient><linearGradient id="g3_58" gradientUnits="userSpaceOnUse" x1="-92.5" x2="92.5"><stop offset="0.000" stop-color="#d14f4f"/><stop offset="0.002" stop-color="#dc5454"/><stop offset="0.017" stop-color="#f55f5f"/><stop offset="0.038" stop-color="#ff6767"/><stop offset="0.206" stop-color="#ff8585"/><stop offset="0.309" stop-color="#ff9090"/><stop offset="0.345" stop-color="#ffa5a5"/><stop offset="0.396" stop-color="#ffdfdf"/><stop offset="0.422" stop-color="#ffffff"/><stop offset="0.539" stop-color="#fffcfc"/><stop offset="0.604" stop-color="#ff9e9e"/><stop offset="0.642" stop-color="#ff7a7a"/><stop offset="0.679" stop-color="#f56666"/><stop offset="0.835" stop-color="#c04949"/><stop offset="0.946" stop-color="#9d3a3a"/><stop offset="0.994" stop-color="#833030"/><stop offset="1.000" stop-color="#762a2a"/></linearGradient><linearGradient id="g3_59" gradientUnits="userSpaceOnUse" x1="-93.9" x2="93.9"><stop offset="0.000" stop-color="#d14f4f"/><stop offset="0.002" stop-color="#dc5454"/><stop offset="0.017" stop-color="#f55f5f"/><stop offset="0.038" stop-color="#ff6767"/><stop offset="0.206" stop-color="#ff8686"/><stop offset="0.297" stop-color="#ff8d8d"/><stop offset="0.345" stop-color="#ffa7a7"/><stop offset="0.396" stop-color="#ffe3e3"/><stop offset="0.409" stop-color="#fff5f5"/><stop offset="0.422" stop-color="#ffffff"/><stop offset="0.539" stop-color="#ffffff"/><stop offset="0.604" stop-color="#ffa0a0"/><stop offset="0.642" stop-color="#ff7a7a"/><stop offset="0.679" stop-color="#f56767"/><stop offset="0.835" stop-color="#c04949"/><stop offset="0.946" stop-color="#9d3a3a"/><stop offset="0.994" stop-color="#832f2f"/><stop offset="1.000" stop-color="#762a2a"/></linearGradient><linearGradient id="g3_60" gradientUnits="userSpaceOnUse" x1="-95.3" x2="95.3"><stop offset="0.000" stop-color="#d14f4f"/><stop offset="0.002" stop-color="#dd5454"/><stop offset="0.017" stop-color="#f55f5f"/><stop offset="0.038" stop-color="#ff6767"/><stop offset="0.206" stop-color="#ff8787"/><stop offset="0.297" stop-color="#ff8e8e"/><stop offset="0.333" stop-color="#ff9e9e"/><stop offset="0.371" stop-color="#ffc3c3"/><stop offset="0.409" stop-color="#fffafa"/><stop offset="0.461" stop-color="#ffffff"/><stop offset="0.539" stop-color="#ffffff"/><stop offset="0.552" stop-color="#fff2f2"/><stop offset="0.604" stop-color="#ffa2a2"/><stop offset="0.642" stop-color="#ff7b7b"/><stop offset="0.679" stop-color="#f56767"/><stop offset="0.835" stop-color="#c04949"/><stop offset="0.946" stop-color="#9c3a3a"/><stop offset="0.994" stop-color="#832f2f"/><stop offset="1.000" stop-color="#752a2a"/></linearGradient><linearGradient id="g3_61" gradientUnits="userSpaceOnUse" x1="-96.7" x2="96.7"><stop offset="0.000" stop-color="#d14f4f"/><stop offset="0.002" stop-color="#dd5454"/><stop offset="0.017" stop-color="#f66060"/><stop offset="0.038" stop-color="#ff6868"/><stop offset="0.206" stop-color="#ff8888"/><stop offset="0.297" stop-color="#ff8e8e"/><stop offset="0.333" stop-color="#ffa0a0"/><stop offset="0.371" stop-color="#ffc6c6"/><stop offset="0.409" stop-color="#fffefe"/><stop offset="0.539" stop-color="#ffffff"/><stop offset="0.552" stop-color="#fff7f7"/><stop offset="0.604" stop-color="#ffa4a4"/><stop offset="0.642" stop-color="#ff7c7c"/><stop offset="0.679" stop-color="#f56767"/><stop offset="0.835" stop-color="#c04949"/><stop offset="0.946" stop-color="#9c3939"/><stop offset="0.994" stop-color="#822f2f"/><stop offset="1.000" stop-color="#752a2a"/></linearGradient><linearGradient id="g3_62" gradientUnits="userSpaceOnUse" x1="-98.1" x2="98.1"><stop offset="0.000" stop-color="#d14f4f"/><stop offset="0.002" stop-color="#dd5454"/><stop offset="0.017" stop-color="#f66060"/><stop offset="0.033" stop-color="#ff6666"/><stop offset="0.206" stop-color="#ff8888"/><stop offset="0.297" stop-color="#ff8f8f"/><stop offset="0.333" stop-color="#ffa1a1"/><stop offset="0.371" stop-color="#ffc8c8"/><stop offset="0.409" stop-color="#ffffff"/><stop offset="0.552" stop-color="#fffbfb"/><stop offset="0.604" stop-color="#ffa6a6"/><stop offset="0.642" stop-color="#ff7d7d"/><stop offset="0.679" stop-color="#f66767"/><stop offset="0.835" stop-color="#c04949"/><stop offset="0.946" stop-color="#9c3939"/><stop offset="0.994" stop-color="#822f2f"/><stop offset="1.000" stop-color="#752a2a"/></linearGradient><linearGradient id="g3_63" gradientUnits="userSpaceOnUse" x1="-99.5" x2="99.5"><stop offset="0.000" stop-color="#d14f4f"/><stop offset="0.002" stop-color="#dd5454"/><stop offset="0.017" stop-color="#f66060"/><stop offset="0.033" stop-color="#ff6666"/><stop offset="0.206" stop-color="#ff8989"/><stop offset="0.297" stop-color="#ff9090"/><stop offset="0.333" stop-color="#ffa2a2"/><stop offset="0.371" stop-color="#ffcbcb"/><stop offset="0.396" stop-color="#fff2f2"/><stop offset="0.409" stop-color="#ffffff"/><stop offset="0.552" stop-color="#ffffff"/><stop offset="0.604" stop-color="#ffa8a8"/><stop offset="0.642" stop-color="#ff7d7d"/><stop offset="0.667" stop-color="#fd6d6d"/><stop offset="0.761" stop-color="#d65454"/><stop offset="0.939" stop-color="#9f3b3b"/><stop offset="0.994" stop-color="#822f2f"/><stop offset="1.000" stop-color="#752a2a"/></linearGradient><linearGradient id="g3_64" gradientUnits="userSpaceOnUse" x1="-101.3" x2="101.3"><stop offset="0.000" stop-color="#d14f4f"/><stop offset="0.002" stop-color="#dd5454"/><stop offset="0.017" stop-color="#f66060"/><stop offset="0.038" stop-color="#ff6868"/><stop offset="0.206" stop-color="#ff8a8a"/><stop offset="0.297" stop-color="#ff9191"/><stop offset="0.333" stop-color="#ffa3a3"/><stop offset="0.371" stop-color="#ffcece"/><stop offset="0.396" stop-color="#fff6f6"/><stop offset="0.409" stop-color="#ffffff"/><stop offset="0.552" stop-color="#ffffff"/><stop offset="0.617" stop-color="#ff9898"/><stop offset="0.655" stop-color="#ff7575"/><stop offset="0.715" stop-color="#e65c5c"/><stop offset="0.939" stop-color="#9e3a3a"/><stop offset="0.994" stop-color="#812f2f"/><stop offset="1.000" stop-color="#742a2a"/></linearGradient><linearGradient id="g3_65" gradientUnits="userSpaceOnUse" x1="-103.4" x2="103.4"><stop offset="0.000" stop-color="#d24f4f"/><stop offset="0.002" stop-color="#de5454"/><stop offset="0.017" stop-color="#f76060"/><stop offset="0.038" stop-color="#ff6868"/><stop offset="0.206" stop-color="#ff8b8b"/><stop offset="0.297" stop-color="#ff9292"/><stop offset="0.333" stop-color="#ffa5a5"/><stop offset="0.371" stop-color="#ffd1d1"/><stop offset="0.396" stop-color="#fffbfb"/><stop offset="0.552" stop-color="#ffffff"/><stop offset="0.565" stop-color="#fff1f1"/><stop offset="0.604" stop-color="#ffacac"/><stop offset="0.642" stop-color="#ff7f7f"/><stop offset="0.667" stop-color="#fd6e6e"/><stop offset="0.750" stop-color="#da5656"/><stop offset="0.939" stop-color="#9e3a3a"/><stop offset="0.994" stop-color="#812e2e"/><stop offset="1.000" stop-color="#742929"/></linearGradient><linearGradient id="g3_66" gradientUnits="userSpaceOnUse" x1="-105.4" x2="105.4"><stop offset="0.000" stop-color="#d24f4f"/><stop offset="0.002" stop-color="#de5454"/><stop offset="0.017" stop-color="#f76060"/><stop offset="0.038" stop-color="#ff6868"/><stop offset="0.206" stop-color="#ff8c8c"/><stop offset="0.297" stop-color="#ff9393"/><stop offset="0.333" stop-color="#ffa7a7"/><stop offset="0.371" stop-color="#ffd4d4"/><stop offset="0.396" stop-color="#ffffff"/><stop offset="0.552" stop-color="#ffffff"/><stop offset="0.565" stop-color="#fff6f6"/><stop offset="0.604" stop-color="#ffafaf"/><stop offset="0.642" stop-color="#ff8080"/><stop offset="0.667" stop-color="#fd6e6e"/><stop offset="0.750" stop-color="#da5656"/><stop offset="0.939" stop-color="#9e3a3a"/><stop offset="0.994" stop-color="#802e2e"/><stop offset="1.000" stop-color="#742929"/></linearGradient><linearGradient id="g3_67" gradientUnits="userSpaceOnUse" x1="-107.5" x2="107.5"><stop offset="0.000" stop-color="#d24f4f"/><stop offset="0.002" stop-color="#de5454"/><stop offset="0.017" stop-color="#f76060"/><stop offset="0.038" stop-color="#ff6969"/><stop offset="0.206" stop-color="#ff8e8e"/><stop offset="0.297" stop-color="#ff9494"/><stop offset="0.333" stop-color="#ffa8a8"/><stop offset="0.371" stop-color="#ffd7d7"/><stop offset="0.396" stop-color="#ffffff"/><stop offset="0.552" stop-color="#ffffff"/><stop offset="0.565" stop-color="#fffbfb"/><stop offset="0.604" stop-color="#ffb1b1"/><stop offset="0.642" stop-color="#ff8080"/><stop offset="0.667" stop-color="#fd6e6e"/><stop offset="0.750" stop-color="#da5656"/><stop offset="0.939" stop-color="#9e3a3a"/><stop offset="0.994" stop-color="#802e2e"/><stop offset="1.000" stop-color="#732929"/></linearGradient><linearGradient id="g3_68" gradientUnits="userSpaceOnUse" x1="-109.9" x2="109.9"><stop offset="0.000" stop-color="#d24f4f"/><stop offset="0.002" stop-color="#de5555"/><stop offset="0.017" stop-color="#f76060"/><stop offset="0.038" stop-color="#ff6969"/><stop offset="0.206" stop-color="#ff8f8f"/><stop offset="0.297" stop-color="#ff9595"/><stop offset="0.333" stop-color="#ffaaaa"/><stop offset="0.371" stop-color="#ffdada"/><stop offset="0.383" stop-color="#fff1f1"/><stop offset="0.396" stop-color="#ffffff"/><stop offset="0.565" stop-color="#ffffff"/><stop offset="0.604" stop-color="#ffb3b3"/><stop offset="0.642" stop-color="#ff8181"/><stop offset="0.667" stop-color="#fe6f6f"/><stop offset="0.750" stop-color="#da5656"/><stop offset="0.939" stop-color="#9d3a3a"/><stop offset="0.994" stop-color="#7f2e2e"/><stop offset="1.000" stop-color="#732929"/></linearGradient><linearGradient id="g3_69" gradientUnits="userSpaceOnUse" x1="-112.7" x2="112.7"><stop offset="0.000" stop-color="#d24f4f"/><stop offset="0.002" stop-color="#de5555"/><stop offset="0.017" stop-color="#f86161"/><stop offset="0.038" stop-color="#ff6969"/><stop offset="0.206" stop-color="#ff9191"/><stop offset="0.297" stop-color="#ff9696"/><stop offset="0.333" stop-color="#ffabab"/><stop offset="0.371" stop-color="#ffdede"/><stop offset="0.383" stop-color="#fff5f5"/><stop offset="0.396" stop-color="#ffffff"/><stop offset="0.565" stop-color="#ffffff"/><stop offset="0.617" stop-color="#ffa1a1"/><stop offset="0.655" stop-color="#ff7777"/><stop offset="0.679" stop-color="#f66969"/><stop offset="0.815" stop-color="#c44b4b"/><stop offset="0.939" stop-color="#9d3a3a"/><stop offset="0.996" stop-color="#7d2d2d"/><stop offset="1.000" stop-color="#722929"/></linearGradient><linearGradient id="g3_70" gradientUnits="userSpaceOnUse" x1="-115.4" x2="115.4"><stop offset="0.000" stop-color="#d25050"/><stop offset="0.002" stop-color="#df5555"/><stop offset="0.017" stop-color="#f86161"/><stop offset="0.038" stop-color="#ff6969"/><stop offset="0.206" stop-color="#ff9292"/><stop offset="0.297" stop-color="#ff9797"/><stop offset="0.333" stop-color="#ffadad"/><stop offset="0.371" stop-color="#ffe1e1"/><stop offset="0.383" stop-color="#fff9f9"/><stop offset="0.409" stop-color="#ffffff"/><stop offset="0.565" stop-color="#ffffff"/><stop offset="0.578" stop-color="#ffecec"/><stop offset="0.617" stop-color="#ffa3a3"/><stop offset="0.655" stop-color="#ff7878"/><stop offset="0.679" stop-color="#f76969"/><stop offset="0.804" stop-color="#c64c4c"/><stop offset="0.939" stop-color="#9c3a3a"/><stop offset="0.996" stop-color="#7c2d2d"/><stop offset="1.000" stop-color="#722929"/></linearGradient><linearGradient id="g3_71" gradientUnits="userSpaceOnUse" x1="-118.5" x2="118.5"><stop offset="0.000" stop-color="#d35050"/><stop offset="0.002" stop-color="#df5555"/><stop offset="0.017" stop-color="#f86161"/><stop offset="0.038" stop-color="#ff6969"/><stop offset="0.206" stop-color="#ff9494"/><stop offset="0.297" stop-color="#ff9999"/><stop offset="0.333" stop-color="#ffafaf"/><stop offset="0.371" stop-color="#ffe4e4"/><stop offset="0.383" stop-color="#fffdfd"/><stop offset="0.565" stop-color="#ffffff"/><stop offset="0.578" stop-color="#fff0f0"/><stop offset="0.617" stop-color="#ffa5a5"/><stop offset="0.655" stop-color="#ff7979"/><stop offset="0.679" stop-color="#f76969"/><stop offset="0.804" stop-color="#c64c4c"/><stop offset="0.939" stop-color="#9c3939"/><stop offset="0.996" stop-color="#7c2c2c"/><stop offset="1.000" stop-color="#722828"/></linearGradient><linearGradient id="g3_72" gradientUnits="userSpaceOnUse" x1="-121.9" x2="121.9"><stop offset="0.000" stop-color="#d35050"/><stop offset="0.002" stop-color="#df5555"/><stop offset="0.017" stop-color="#f86161"/><stop offset="0.033" stop-color="#ff6868"/><stop offset="0.206" stop-color="#ff9797"/><stop offset="0.297" stop-color="#ff9a9a"/><stop offset="0.333" stop-color="#ffb1b1"/><stop offset="0.371" stop-color="#ffe7e7"/><stop offset="0.383" stop-color="#ffffff"/><stop offset="0.565" stop-color="#ffffff"/><stop offset="0.578" stop-color="#fff4f4"/><stop offset="0.617" stop-color="#ffa6a6"/><stop offset="0.655" stop-color="#ff7979"/><stop offset="0.667" stop-color="#ff7070"/><stop offset="0.739" stop-color="#dd5858"/><stop offset="0.946" stop-color="#993838"/><stop offset="0.996" stop-color="#7b2c2c"/><stop offset="1.000" stop-color="#712828"/></linearGradient><linearGradient id="g3_73" gradientUnits="userSpaceOnUse" x1="-125.7" x2="125.7"><stop offset="0.000" stop-color="#d35050"/><stop offset="0.002" stop-color="#df5555"/><stop offset="0.017" stop-color="#f96161"/><stop offset="0.033" stop-color="#ff6868"/><stop offset="0.206" stop-color="#ff9999"/><stop offset="0.297" stop-color="#ff9c9c"/><stop offset="0.333" stop-color="#ffb2b2"/><stop offset="0.371" stop-color="#ffebeb"/><stop offset="0.383" stop-color="#ffffff"/><stop offset="0.565" stop-color="#ffffff"/><stop offset="0.578" stop-color="#fff8f8"/><stop offset="0.617" stop-color="#ffa8a8"/><stop offset="0.655" stop-color="#ff7a7a"/><stop offset="0.679" stop-color="#f76a6a"/><stop offset="0.794" stop-color="#c94e4e"/><stop offset="0.939" stop-color="#9b3939"/><stop offset="0.996" stop-color="#7b2c2c"/><stop offset="1.000" stop-color="#712828"/></linearGradient><linearGradient id="g3_74" gradientUnits="userSpaceOnUse" x1="-129.4" x2="129.4"><stop offset="0.000" stop-color="#d35050"/><stop offset="0.002" stop-color="#df5555"/><stop offset="0.017" stop-color="#f96161"/><stop offset="0.033" stop-color="#ff6868"/><stop offset="0.206" stop-color="#ff9c9c"/><stop offset="0.297" stop-color="#ff9d9d"/><stop offset="0.333" stop-color="#ffb4b4"/><stop offset="0.358" stop-color="#ffd6d6"/><stop offset="0.383" stop-color="#ffffff"/><stop offset="0.578" stop-color="#fffbfb"/><stop offset="0.617" stop-color="#ffa9a9"/><stop offset="0.655" stop-color="#ff7a7a"/><stop offset="0.679" stop-color="#f76a6a"/><stop offset="0.794" stop-color="#c94e4e"/><stop offset="0.939" stop-color="#9b3939"/><stop offset="0.997" stop-color="#782b2b"/><stop offset="1.000" stop-color="#702828"/></linearGradient><clipPath id="cs4"><path transform="translate(1675.6 1245.2) rotate(131.5)" d="M-131.0 -232.9 Q0 232.9 131.0 -232.9Z"/></clipPath><linearGradient id="g4_0" gradientUnits="userSpaceOnUse" x1="-5.1" x2="5.1"><stop offset="0.000" stop-color="#be4747"/><stop offset="0.156" stop-color="#c84b4b"/><stop offset="0.750" stop-color="#bf4848"/><stop offset="0.997" stop-color="#ab3f3f"/><stop offset="1.000" stop-color="#a93f3f"/></linearGradient><linearGradient id="g4_1" gradientUnits="userSpaceOnUse" x1="-8.9" x2="8.9"><stop offset="0.000" stop-color="#c24949"/><stop offset="0.054" stop-color="#d04f4f"/><stop offset="0.333" stop-color="#d95353"/><stop offset="0.783" stop-color="#c34a4a"/><stop offset="0.983" stop-color="#ac4040"/><stop offset="1.000" stop-color="#a43c3c"/></linearGradient><linearGradient id="g4_2" gradientUnits="userSpaceOnUse" x1="-11.5" x2="11.5"><stop offset="0.000" stop-color="#c34949"/><stop offset="0.024" stop-color="#d24f4f"/><stop offset="0.185" stop-color="#e25757"/><stop offset="0.578" stop-color="#da5454"/><stop offset="0.946" stop-color="#b84545"/><stop offset="1.000" stop-color="#a63d3d"/></linearGradient><linearGradient id="g4_3" gradientUnits="userSpaceOnUse" x1="-13.6" x2="13.6"><stop offset="0.000" stop-color="#c64a4a"/><stop offset="0.017" stop-color="#d45050"/><stop offset="0.146" stop-color="#e75959"/><stop offset="0.474" stop-color="#e75959"/><stop offset="0.880" stop-color="#c54a4a"/><stop offset="0.998" stop-color="#aa3f3f"/><stop offset="1.000" stop-color="#a83e3e"/></linearGradient><linearGradient id="g4_4" gradientUnits="userSpaceOnUse" x1="-15.5" x2="15.5"><stop offset="0.000" stop-color="#c94c4c"/><stop offset="0.014" stop-color="#d75252"/><stop offset="0.128" stop-color="#eb5b5b"/><stop offset="0.435" stop-color="#ee5d5d"/><stop offset="0.844" stop-color="#ce4e4e"/><stop offset="0.996" stop-color="#ae4141"/><stop offset="1.000" stop-color="#a83e3e"/></linearGradient><linearGradient id="g4_5" gradientUnits="userSpaceOnUse" x1="-17.2" x2="17.2"><stop offset="0.000" stop-color="#cc4d4d"/><stop offset="0.011" stop-color="#d95252"/><stop offset="0.103" stop-color="#ee5c5c"/><stop offset="0.383" stop-color="#f56060"/><stop offset="0.804" stop-color="#d75252"/><stop offset="0.992" stop-color="#b14242"/><stop offset="1.000" stop-color="#a93f3f"/></linearGradient><linearGradient id="g4_6" gradientUnits="userSpaceOnUse" x1="-18.8" x2="18.8"><stop offset="0.000" stop-color="#cd4d4d"/><stop offset="0.011" stop-color="#dc5454"/><stop offset="0.088" stop-color="#f05d5d"/><stop offset="0.297" stop-color="#fa6363"/><stop offset="0.578" stop-color="#ee5d5d"/><stop offset="0.835" stop-color="#d55151"/><stop offset="0.994" stop-color="#b14242"/><stop offset="1.000" stop-color="#a93f3f"/></linearGradient><linearGradient id="g4_7" gradientUnits="userSpaceOnUse" x1="-20.3" x2="20.3"><stop offset="0.000" stop-color="#cf4e4e"/><stop offset="0.008" stop-color="#dd5454"/><stop offset="0.074" stop-color="#f25e5e"/><stop offset="0.261" stop-color="#fe6565"/><stop offset="0.539" stop-color="#f56161"/><stop offset="0.815" stop-color="#db5454"/><stop offset="0.992" stop-color="#b24242"/><stop offset="1.000" stop-color="#a93f3f"/></linearGradient><linearGradient id="g4_8" gradientUnits="userSpaceOnUse" x1="-22.3" x2="22.3"><stop offset="0.000" stop-color="#d04f4f"/><stop offset="0.008" stop-color="#df5555"/><stop offset="0.067" stop-color="#f55f5f"/><stop offset="0.196" stop-color="#ff6767"/><stop offset="0.526" stop-color="#fa6464"/><stop offset="0.794" stop-color="#e25757"/><stop offset="0.989" stop-color="#b44343"/><stop offset="1.000" stop-color="#a93f3f"/></linearGradient><linearGradient id="g4_9" gradientUnits="userSpaceOnUse" x1="-24.9" x2="24.9"><stop offset="0.000" stop-color="#d24f4f"/><stop offset="0.006" stop-color="#e05555"/><stop offset="0.054" stop-color="#f76060"/><stop offset="0.128" stop-color="#ff6767"/><stop offset="0.474" stop-color="#ff6969"/><stop offset="0.727" stop-color="#ef5e5e"/><stop offset="0.951" stop-color="#c14949"/><stop offset="0.999" stop-color="#ac4040"/><stop offset="1.000" stop-color="#a83e3e"/></linearGradient><linearGradient id="g4_10" gradientUnits="userSpaceOnUse" x1="-27.2" x2="27.2"><stop offset="0.000" stop-color="#d35050"/><stop offset="0.006" stop-color="#e25656"/><stop offset="0.054" stop-color="#fa6262"/><stop offset="0.196" stop-color="#ff6d6d"/><stop offset="0.539" stop-color="#ff6969"/><stop offset="0.703" stop-color="#f66161"/><stop offset="0.880" stop-color="#d35151"/><stop offset="0.994" stop-color="#b14242"/><stop offset="1.000" stop-color="#a83e3e"/></linearGradient><linearGradient id="g4_11" gradientUnits="userSpaceOnUse" x1="-30.0" x2="30.0"><stop offset="0.000" stop-color="#d35050"/><stop offset="0.004" stop-color="#e15656"/><stop offset="0.043" stop-color="#fa6262"/><stop offset="0.120" stop-color="#ff6c6c"/><stop offset="0.396" stop-color="#ff7272"/><stop offset="0.691" stop-color="#fb6464"/><stop offset="0.872" stop-color="#d75252"/><stop offset="0.992" stop-color="#b24242"/><stop offset="1.000" stop-color="#a63e3e"/></linearGradient><linearGradient id="g4_12" gradientUnits="userSpaceOnUse" x1="-33.1" x2="33.1"><stop offset="0.000" stop-color="#d35050"/><stop offset="0.004" stop-color="#e25656"/><stop offset="0.038" stop-color="#fa6262"/><stop offset="0.146" stop-color="#ff7171"/><stop offset="0.396" stop-color="#ff7575"/><stop offset="0.715" stop-color="#fb6464"/><stop offset="0.905" stop-color="#ce4e4e"/><stop offset="0.994" stop-color="#b04242"/><stop offset="1.000" stop-color="#a53d3d"/></linearGradient><linearGradient id="g4_13" gradientUnits="userSpaceOnUse" x1="-36.1" x2="36.1"><stop offset="0.000" stop-color="#d35050"/><stop offset="0.004" stop-color="#e25656"/><stop offset="0.038" stop-color="#fc6363"/><stop offset="0.206" stop-color="#ff7878"/><stop offset="0.448" stop-color="#ff7676"/><stop offset="0.727" stop-color="#fb6464"/><stop offset="0.976" stop-color="#bb4646"/><stop offset="0.999" stop-color="#aa3f3f"/><stop offset="1.000" stop-color="#a73e3e"/></linearGradient><linearGradient id="g4_14" gradientUnits="userSpaceOnUse" x1="-38.9" x2="38.9"><stop offset="0.000" stop-color="#d25050"/><stop offset="0.004" stop-color="#e25656"/><stop offset="0.038" stop-color="#fd6464"/><stop offset="0.206" stop-color="#ff7c7c"/><stop offset="0.422" stop-color="#ff7a7a"/><stop offset="0.727" stop-color="#fc6565"/><stop offset="0.979" stop-color="#ba4646"/><stop offset="1.000" stop-color="#aa3f3f"/><stop offset="1.000" stop-color="#a83e3e"/></linearGradient><linearGradient id="g4_15" gradientUnits="userSpaceOnUse" x1="-41.7" x2="41.7"><stop offset="0.000" stop-color="#d14f4f"/><stop offset="0.003" stop-color="#df5555"/><stop offset="0.029" stop-color="#f96262"/><stop offset="0.067" stop-color="#ff6b6b"/><stop offset="0.239" stop-color="#ff8282"/><stop offset="0.642" stop-color="#ff6e6e"/><stop offset="0.739" stop-color="#fb6464"/><stop offset="0.976" stop-color="#bc4646"/><stop offset="1.000" stop-color="#ab3f3f"/><stop offset="1.000" stop-color="#a93f3f"/></linearGradient><linearGradient id="g4_16" gradientUnits="userSpaceOnUse" x1="-43.9" x2="43.9"><stop offset="0.000" stop-color="#d24f4f"/><stop offset="0.004" stop-color="#e25656"/><stop offset="0.033" stop-color="#fc6363"/><stop offset="0.217" stop-color="#ff8686"/><stop offset="0.396" stop-color="#ff8080"/><stop offset="0.739" stop-color="#fb6565"/><stop offset="0.971" stop-color="#be4747"/><stop offset="1.000" stop-color="#ab4040"/><stop offset="1.000" stop-color="#aa3f3f"/></linearGradient><linearGradient id="g4_17" gradientUnits="userSpaceOnUse" x1="-45.6" x2="45.6"><stop offset="0.000" stop-color="#d24f4f"/><stop offset="0.004" stop-color="#e25656"/><stop offset="0.033" stop-color="#fd6464"/><stop offset="0.228" stop-color="#ff8b8b"/><stop offset="0.435" stop-color="#ff7e7e"/><stop offset="0.739" stop-color="#fb6565"/><stop offset="0.962" stop-color="#c24949"/><stop offset="0.999" stop-color="#ae4040"/><stop offset="1.000" stop-color="#aa3f3f"/></linearGradient><linearGradient id="g4_18" gradientUnits="userSpaceOnUse" x1="-47.3" x2="47.3"><stop offset="0.000" stop-color="#d24f4f"/><stop offset="0.004" stop-color="#e25656"/><stop offset="0.033" stop-color="#fd6464"/><stop offset="0.228" stop-color="#ff9090"/><stop offset="0.383" stop-color="#ff8585"/><stop offset="0.739" stop-color="#fc6565"/><stop offset="0.957" stop-color="#c44a4a"/><stop offset="0.999" stop-color="#ae4141"/><stop offset="1.000" stop-color="#aa3f3f"/></linearGradient><linearGradient id="g4_19" gradientUnits="userSpaceOnUse" x1="-49.0" x2="49.0"><stop offset="0.000" stop-color="#d24f4f"/><stop offset="0.004" stop-color="#e15656"/><stop offset="0.033" stop-color="#fd6464"/><stop offset="0.228" stop-color="#ff9696"/><stop offset="0.345" stop-color="#ff8c8c"/><stop offset="0.739" stop-color="#fc6666"/><stop offset="0.957" stop-color="#c44a4a"/><stop offset="0.999" stop-color="#ae4141"/><stop offset="1.000" stop-color="#aa3f3f"/></linearGradient><linearGradient id="g4_20" gradientUnits="userSpaceOnUse" x1="-50.7" x2="50.7"><stop offset="0.000" stop-color="#d14f4f"/><stop offset="0.004" stop-color="#e15656"/><stop offset="0.033" stop-color="#fd6464"/><stop offset="0.228" stop-color="#ff9c9c"/><stop offset="0.333" stop-color="#ff9191"/><stop offset="0.513" stop-color="#ff7f7f"/><stop offset="0.750" stop-color="#fb6565"/><stop offset="0.962" stop-color="#c24949"/><stop offset="0.999" stop-color="#ae4141"/><stop offset="1.000" stop-color="#ab3f3f"/></linearGradient><linearGradient id="g4_21" gradientUnits="userSpaceOnUse" x1="-52.3" x2="52.3"><stop offset="0.000" stop-color="#d14f4f"/><stop offset="0.004" stop-color="#e15656"/><stop offset="0.033" stop-color="#fd6464"/><stop offset="0.228" stop-color="#ffa2a2"/><stop offset="0.309" stop-color="#ff9a9a"/><stop offset="0.461" stop-color="#ff8282"/><stop offset="0.655" stop-color="#ff7272"/><stop offset="0.761" stop-color="#f96464"/><stop offset="0.962" stop-color="#c24949"/><stop offset="0.998" stop-color="#b04141"/><stop offset="1.000" stop-color="#ab3f3f"/></linearGradient><linearGradient id="g4_22" gradientUnits="userSpaceOnUse" x1="-53.5" x2="53.5"><stop offset="0.000" stop-color="#d14f4f"/><stop offset="0.006" stop-color="#e45858"/><stop offset="0.038" stop-color="#ff6666"/><stop offset="0.165" stop-color="#ff9595"/><stop offset="0.239" stop-color="#ffa8a8"/><stop offset="0.345" stop-color="#ff9494"/><stop offset="0.474" stop-color="#ff8383"/><stop offset="0.642" stop-color="#ff7474"/><stop offset="0.761" stop-color="#fa6464"/><stop offset="0.962" stop-color="#c24949"/><stop offset="0.998" stop-color="#b04242"/><stop offset="1.000" stop-color="#ab3f3f"/></linearGradient><linearGradient id="g4_23" gradientUnits="userSpaceOnUse" x1="-54.3" x2="54.3"><stop offset="0.000" stop-color="#d14f4f"/><stop offset="0.006" stop-color="#e45858"/><stop offset="0.033" stop-color="#fd6464"/><stop offset="0.146" stop-color="#ff8e8e"/><stop offset="0.217" stop-color="#ffa9a9"/><stop offset="0.285" stop-color="#ffa7a7"/><stop offset="0.422" stop-color="#ff8787"/><stop offset="0.617" stop-color="#ff7979"/><stop offset="0.761" stop-color="#fa6464"/><stop offset="0.962" stop-color="#c24949"/><stop offset="0.998" stop-color="#b04242"/><stop offset="1.000" stop-color="#ab3f3f"/></linearGradient><linearGradient id="g4_24" gradientUnits="userSpaceOnUse" x1="-55.1" x2="55.1"><stop offset="0.000" stop-color="#d14f4f"/><stop offset="0.006" stop-color="#e45858"/><stop offset="0.033" stop-color="#fd6464"/><stop offset="0.146" stop-color="#ff8f8f"/><stop offset="0.217" stop-color="#ffadad"/><stop offset="0.273" stop-color="#ffacac"/><stop offset="0.422" stop-color="#ff8888"/><stop offset="0.617" stop-color="#ff7a7a"/><stop offset="0.761" stop-color="#fa6464"/><stop offset="0.962" stop-color="#c24949"/><stop offset="0.998" stop-color="#b04242"/><stop offset="1.000" stop-color="#ab3f3f"/></linearGradient><linearGradient id="g4_25" gradientUnits="userSpaceOnUse" x1="-55.9" x2="55.9"><stop offset="0.000" stop-color="#d14f4f"/><stop offset="0.006" stop-color="#e45757"/><stop offset="0.033" stop-color="#fd6464"/><stop offset="0.137" stop-color="#ff8c8c"/><stop offset="0.217" stop-color="#ffb1b1"/><stop offset="0.273" stop-color="#ffb0b0"/><stop offset="0.409" stop-color="#ff8b8b"/><stop offset="0.604" stop-color="#ff7d7d"/><stop offset="0.761" stop-color="#fa6464"/><stop offset="0.962" stop-color="#c24949"/><stop offset="0.998" stop-color="#b04242"/><stop offset="1.000" stop-color="#ab3f3f"/></linearGradient><linearGradient id="g4_26" gradientUnits="userSpaceOnUse" x1="-56.7" x2="56.7"><stop offset="0.000" stop-color="#d04f4f"/><stop offset="0.006" stop-color="#e35757"/><stop offset="0.033" stop-color="#fd6565"/><stop offset="0.137" stop-color="#ff8e8e"/><stop offset="0.217" stop-color="#ffb5b5"/><stop offset="0.273" stop-color="#ffb3b3"/><stop offset="0.409" stop-color="#ff8b8b"/><stop offset="0.604" stop-color="#ff7e7e"/><stop offset="0.761" stop-color="#fa6565"/><stop offset="0.962" stop-color="#c24949"/><stop offset="0.998" stop-color="#b04242"/><stop offset="1.000" stop-color="#ab3f3f"/></linearGradient><linearGradient id="g4_27" gradientUnits="userSpaceOnUse" x1="-57.5" x2="57.5"><stop offset="0.000" stop-color="#d04f4f"/><stop offset="0.006" stop-color="#e35757"/><stop offset="0.033" stop-color="#fd6565"/><stop offset="0.128" stop-color="#ff8a8a"/><stop offset="0.206" stop-color="#ffb6b6"/><stop offset="0.261" stop-color="#ffbaba"/><stop offset="0.409" stop-color="#ff8c8c"/><stop offset="0.604" stop-color="#ff7f7f"/><stop offset="0.761" stop-color="#fa6565"/><stop offset="0.962" stop-color="#c24949"/><stop offset="0.998" stop-color="#b04242"/><stop offset="1.000" stop-color="#ab3f3f"/></linearGradient><linearGradient id="g4_28" gradientUnits="userSpaceOnUse" x1="-58.3" x2="58.3"><stop offset="0.000" stop-color="#d04f4f"/><stop offset="0.006" stop-color="#e35757"/><stop offset="0.033" stop-color="#fd6565"/><stop offset="0.128" stop-color="#ff8b8b"/><stop offset="0.206" stop-color="#ffb9b9"/><stop offset="0.250" stop-color="#ffbfbf"/><stop offset="0.409" stop-color="#ff8d8d"/><stop offset="0.591" stop-color="#ff8383"/><stop offset="0.761" stop-color="#fb6565"/><stop offset="0.962" stop-color="#c14949"/><stop offset="0.998" stop-color="#b04242"/><stop offset="1.000" stop-color="#ab3f3f"/></linearGradient><linearGradient id="g4_29" gradientUnits="userSpaceOnUse" x1="-59.1" x2="59.1"><stop offset="0.000" stop-color="#d04f4f"/><stop offset="0.006" stop-color="#e35757"/><stop offset="0.033" stop-color="#fd6565"/><stop offset="0.128" stop-color="#ff8c8c"/><stop offset="0.206" stop-color="#ffbdbd"/><stop offset="0.250" stop-color="#ffc4c4"/><stop offset="0.396" stop-color="#ff9090"/><stop offset="0.591" stop-color="#ff8484"/><stop offset="0.761" stop-color="#fb6565"/><stop offset="0.962" stop-color="#c14949"/><stop offset="0.998" stop-color="#b04242"/><stop offset="1.000" stop-color="#ab3f3f"/></linearGradient><linearGradient id="g4_30" gradientUnits="userSpaceOnUse" x1="-59.8" x2="59.8"><stop offset="0.000" stop-color="#d04f4f"/><stop offset="0.006" stop-color="#e35757"/><stop offset="0.033" stop-color="#fd6565"/><stop offset="0.120" stop-color="#ff8888"/><stop offset="0.206" stop-color="#ffc1c1"/><stop offset="0.250" stop-color="#ffc8c8"/><stop offset="0.396" stop-color="#ff9191"/><stop offset="0.591" stop-color="#ff8686"/><stop offset="0.761" stop-color="#fb6565"/><stop offset="0.957" stop-color="#c34949"/><stop offset="0.998" stop-color="#b04242"/><stop offset="1.000" stop-color="#ab3f3f"/></linearGradient><linearGradient id="g4_31" gradientUnits="userSpaceOnUse" x1="-60.6" x2="60.6"><stop offset="0.000" stop-color="#d04f4f"/><stop offset="0.006" stop-color="#e35757"/><stop offset="0.033" stop-color="#fd6565"/><stop offset="0.120" stop-color="#ff8989"/><stop offset="0.206" stop-color="#ffc5c5"/><stop offset="0.250" stop-color="#ffcccc"/><stop offset="0.396" stop-color="#ff9292"/><stop offset="0.513" stop-color="#ff8f8f"/><stop offset="0.617" stop-color="#ff8282"/><stop offset="0.761" stop-color="#fb6565"/><stop offset="0.957" stop-color="#c34949"/><stop offset="0.998" stop-color="#b04242"/><stop offset="1.000" stop-color="#ab3f3f"/></linearGradient><linearGradient id="g4_32" gradientUnits="userSpaceOnUse" x1="-61.4" x2="61.4"><stop offset="0.000" stop-color="#d04e4e"/><stop offset="0.006" stop-color="#e25757"/><stop offset="0.038" stop-color="#ff6666"/><stop offset="0.120" stop-color="#ff8a8a"/><stop offset="0.206" stop-color="#ffc9c9"/><stop offset="0.250" stop-color="#ffd0d0"/><stop offset="0.333" stop-color="#ffabab"/><stop offset="0.409" stop-color="#ff9191"/><stop offset="0.578" stop-color="#ff8c8c"/><stop offset="0.761" stop-color="#fb6565"/><stop offset="0.957" stop-color="#c34949"/><stop offset="0.998" stop-color="#b04242"/><stop offset="1.000" stop-color="#ab3f3f"/></linearGradient><linearGradient id="g4_33" gradientUnits="userSpaceOnUse" x1="-62.2" x2="62.2"><stop offset="0.000" stop-color="#cf4e4e"/><stop offset="0.006" stop-color="#e25757"/><stop offset="0.038" stop-color="#ff6666"/><stop offset="0.120" stop-color="#ff8b8b"/><stop offset="0.206" stop-color="#ffcdcd"/><stop offset="0.250" stop-color="#ffd5d5"/><stop offset="0.321" stop-color="#ffb4b4"/><stop offset="0.396" stop-color="#ff9494"/><stop offset="0.487" stop-color="#ff9191"/><stop offset="0.578" stop-color="#ff8e8e"/><stop offset="0.761" stop-color="#fb6565"/><stop offset="0.957" stop-color="#c34949"/><stop offset="0.998" stop-color="#b04242"/><stop offset="1.000" stop-color="#ab3f3f"/></linearGradient><linearGradient id="g4_34" gradientUnits="userSpaceOnUse" x1="-62.9" x2="62.9"><stop offset="0.000" stop-color="#cf4e4e"/><stop offset="0.004" stop-color="#de5555"/><stop offset="0.033" stop-color="#fd6464"/><stop offset="0.111" stop-color="#ff8686"/><stop offset="0.206" stop-color="#ffd1d1"/><stop offset="0.250" stop-color="#ffd9d9"/><stop offset="0.321" stop-color="#ffb6b6"/><stop offset="0.396" stop-color="#ff9595"/><stop offset="0.487" stop-color="#ff9292"/><stop offset="0.578" stop-color="#ff9090"/><stop offset="0.750" stop-color="#fe6767"/><stop offset="0.957" stop-color="#c34949"/><stop offset="0.998" stop-color="#b04242"/><stop offset="1.000" stop-color="#aa3f3f"/></linearGradient><linearGradient id="g4_35" gradientUnits="userSpaceOnUse" x1="-63.7" x2="63.7"><stop offset="0.000" stop-color="#cf4e4e"/><stop offset="0.004" stop-color="#de5555"/><stop offset="0.033" stop-color="#fd6464"/><stop offset="0.111" stop-color="#ff8787"/><stop offset="0.206" stop-color="#ffd5d5"/><stop offset="0.239" stop-color="#ffdfdf"/><stop offset="0.285" stop-color="#ffcfcf"/><stop offset="0.371" stop-color="#ff9e9e"/><stop offset="0.435" stop-color="#ff9191"/><stop offset="0.565" stop-color="#ff9494"/><stop offset="0.750" stop-color="#fe6767"/><stop offset="0.957" stop-color="#c34949"/><stop offset="0.998" stop-color="#b04242"/><stop offset="1.000" stop-color="#aa3f3f"/></linearGradient><linearGradient id="g4_36" gradientUnits="userSpaceOnUse" x1="-64.5" x2="64.5"><stop offset="0.000" stop-color="#cf4e4e"/><stop offset="0.004" stop-color="#de5555"/><stop offset="0.029" stop-color="#f96363"/><stop offset="0.054" stop-color="#ff6c6c"/><stop offset="0.120" stop-color="#ff8e8e"/><stop offset="0.206" stop-color="#ffdada"/><stop offset="0.239" stop-color="#ffe3e3"/><stop offset="0.285" stop-color="#ffd3d3"/><stop offset="0.371" stop-color="#ff9f9f"/><stop offset="0.435" stop-color="#ff9292"/><stop offset="0.565" stop-color="#ff9696"/><stop offset="0.750" stop-color="#ff6767"/><stop offset="0.957" stop-color="#c34949"/><stop offset="0.998" stop-color="#b04242"/><stop offset="1.000" stop-color="#aa3f3f"/></linearGradient><linearGradient id="g4_37" gradientUnits="userSpaceOnUse" x1="-65.2" x2="65.2"><stop offset="0.000" stop-color="#cf4e4e"/><stop offset="0.004" stop-color="#de5555"/><stop offset="0.029" stop-color="#f96363"/><stop offset="0.054" stop-color="#ff6c6c"/><stop offset="0.120" stop-color="#ff8f8f"/><stop offset="0.206" stop-color="#ffdede"/><stop offset="0.239" stop-color="#ffe7e7"/><stop offset="0.285" stop-color="#ffd7d7"/><stop offset="0.371" stop-color="#ffa0a0"/><stop offset="0.435" stop-color="#ff9393"/><stop offset="0.552" stop-color="#ff9a9a"/><stop offset="0.750" stop-color="#ff6767"/><stop offset="0.957" stop-color="#c34949"/><stop offset="0.997" stop-color="#b24242"/><stop offset="1.000" stop-color="#aa3f3f"/></linearGradient><linearGradient id="g4_38" gradientUnits="userSpaceOnUse" x1="-66.0" x2="66.0"><stop offset="0.000" stop-color="#cf4e4e"/><stop offset="0.004" stop-color="#de5555"/><stop offset="0.029" stop-color="#f96363"/><stop offset="0.054" stop-color="#ff6c6c"/><stop offset="0.111" stop-color="#ff8989"/><stop offset="0.206" stop-color="#ffe2e2"/><stop offset="0.239" stop-color="#ffecec"/><stop offset="0.285" stop-color="#ffdada"/><stop offset="0.371" stop-color="#ffa1a1"/><stop offset="0.435" stop-color="#ff9494"/><stop offset="0.552" stop-color="#ff9d9d"/><stop offset="0.739" stop-color="#ff6969"/><stop offset="0.946" stop-color="#c74b4b"/><stop offset="0.997" stop-color="#b24242"/><stop offset="1.000" stop-color="#aa3f3f"/></linearGradient><linearGradient id="g4_39" gradientUnits="userSpaceOnUse" x1="-66.7" x2="66.7"><stop offset="0.000" stop-color="#ce4e4e"/><stop offset="0.004" stop-color="#dd5555"/><stop offset="0.029" stop-color="#f96262"/><stop offset="0.054" stop-color="#ff6c6c"/><stop offset="0.111" stop-color="#ff8989"/><stop offset="0.206" stop-color="#ffe6e6"/><stop offset="0.239" stop-color="#fff0f0"/><stop offset="0.285" stop-color="#ffdede"/><stop offset="0.371" stop-color="#ffa3a3"/><stop offset="0.435" stop-color="#ff9595"/><stop offset="0.552" stop-color="#ff9f9f"/><stop offset="0.739" stop-color="#ff6a6a"/><stop offset="0.946" stop-color="#c74b4b"/><stop offset="0.997" stop-color="#b24242"/><stop offset="1.000" stop-color="#aa3f3f"/></linearGradient><linearGradient id="g4_40" gradientUnits="userSpaceOnUse" x1="-67.5" x2="67.5"><stop offset="0.000" stop-color="#ce4e4e"/><stop offset="0.004" stop-color="#dd5555"/><stop offset="0.029" stop-color="#f96262"/><stop offset="0.054" stop-color="#ff6c6c"/><stop offset="0.111" stop-color="#ff8a8a"/><stop offset="0.206" stop-color="#ffeaea"/><stop offset="0.239" stop-color="#fff5f5"/><stop offset="0.273" stop-color="#ffe9e9"/><stop offset="0.371" stop-color="#ffa4a4"/><stop offset="0.435" stop-color="#ff9797"/><stop offset="0.552" stop-color="#ffa2a2"/><stop offset="0.655" stop-color="#ff8080"/><stop offset="0.761" stop-color="#fc6666"/><stop offset="0.989" stop-color="#b84545"/><stop offset="1.000" stop-color="#ac4040"/><stop offset="1.000" stop-color="#aa3f3f"/></linearGradient><linearGradient id="g4_41" gradientUnits="userSpaceOnUse" x1="-68.2" x2="68.2"><stop offset="0.000" stop-color="#ce4e4e"/><stop offset="0.004" stop-color="#dd5555"/><stop offset="0.029" stop-color="#f96262"/><stop offset="0.049" stop-color="#ff6a6a"/><stop offset="0.111" stop-color="#ff8b8b"/><stop offset="0.206" stop-color="#ffeeee"/><stop offset="0.239" stop-color="#fff9f9"/><stop offset="0.273" stop-color="#ffeded"/><stop offset="0.371" stop-color="#ffa5a5"/><stop offset="0.422" stop-color="#ff9898"/><stop offset="0.552" stop-color="#ffa5a5"/><stop offset="0.642" stop-color="#ff8787"/><stop offset="0.750" stop-color="#ff6868"/><stop offset="0.957" stop-color="#c24949"/><stop offset="0.997" stop-color="#b24242"/><stop offset="1.000" stop-color="#aa3f3f"/></linearGradient><linearGradient id="g4_42" gradientUnits="userSpaceOnUse" x1="-69.0" x2="69.0"><stop offset="0.000" stop-color="#ce4e4e"/><stop offset="0.004" stop-color="#dd5454"/><stop offset="0.029" stop-color="#f86262"/><stop offset="0.049" stop-color="#ff6a6a"/><stop offset="0.111" stop-color="#ff8b8b"/><stop offset="0.206" stop-color="#fff2f2"/><stop offset="0.239" stop-color="#fffefe"/><stop offset="0.273" stop-color="#fff1f1"/><stop offset="0.371" stop-color="#ffa6a6"/><stop offset="0.422" stop-color="#ff9999"/><stop offset="0.552" stop-color="#ffa7a7"/><stop offset="0.629" stop-color="#ff8d8d"/><stop offset="0.727" stop-color="#ff6c6c"/><stop offset="0.794" stop-color="#f46161"/><stop offset="0.994" stop-color="#b54343"/><stop offset="1.000" stop-color="#aa3f3f"/></linearGradient><linearGradient id="g4_43" gradientUnits="userSpaceOnUse" x1="-69.7" x2="69.7"><stop offset="0.000" stop-color="#ce4e4e"/><stop offset="0.004" stop-color="#dc5454"/><stop offset="0.029" stop-color="#f86262"/><stop offset="0.049" stop-color="#ff6a6a"/><stop offset="0.111" stop-color="#ff8c8c"/><stop offset="0.206" stop-color="#fff6f6"/><stop offset="0.239" stop-color="#ffffff"/><stop offset="0.273" stop-color="#fff5f5"/><stop offset="0.358" stop-color="#ffafaf"/><stop offset="0.409" stop-color="#ff9b9b"/><stop offset="0.487" stop-color="#ffa4a4"/><stop offset="0.552" stop-color="#ffaaaa"/><stop offset="0.629" stop-color="#ff8f8f"/><stop offset="0.727" stop-color="#ff6c6c"/><stop offset="0.794" stop-color="#f46161"/><stop offset="0.994" stop-color="#b54343"/><stop offset="1.000" stop-color="#aa3f3f"/></linearGradient><linearGradient id="g4_44" gradientUnits="userSpaceOnUse" x1="-70.5" x2="70.5"><stop offset="0.000" stop-color="#cd4e4e"/><stop offset="0.004" stop-color="#dc5454"/><stop offset="0.029" stop-color="#f86262"/><stop offset="0.049" stop-color="#ff6a6a"/><stop offset="0.103" stop-color="#ff8686"/><stop offset="0.156" stop-color="#ffc0c0"/><stop offset="0.206" stop-color="#fffafa"/><stop offset="0.250" stop-color="#ffffff"/><stop offset="0.273" stop-color="#fff8f8"/><stop offset="0.358" stop-color="#ffb0b0"/><stop offset="0.409" stop-color="#ff9c9c"/><stop offset="0.487" stop-color="#ffa6a6"/><stop offset="0.552" stop-color="#ffadad"/><stop offset="0.629" stop-color="#ff9191"/><stop offset="0.727" stop-color="#ff6d6d"/><stop offset="0.794" stop-color="#f46161"/><stop offset="0.994" stop-color="#b54343"/><stop offset="1.000" stop-color="#aa3f3f"/></linearGradient><linearGradient id="g4_45" gradientUnits="userSpaceOnUse" x1="-71.2" x2="71.2"><stop offset="0.000" stop-color="#cd4e4e"/><stop offset="0.004" stop-color="#dc5454"/><stop offset="0.029" stop-color="#f86262"/><stop offset="0.049" stop-color="#ff6a6a"/><stop offset="0.103" stop-color="#ff8686"/><stop offset="0.146" stop-color="#ffb5b5"/><stop offset="0.196" stop-color="#fff4f4"/><stop offset="0.206" stop-color="#fffefe"/><stop offset="0.273" stop-color="#fffcfc"/><stop offset="0.358" stop-color="#ffb1b1"/><stop offset="0.409" stop-color="#ff9d9d"/><stop offset="0.474" stop-color="#ffa4a4"/><stop offset="0.539" stop-color="#ffb1b1"/><stop offset="0.604" stop-color="#ff9f9f"/><stop offset="0.715" stop-color="#ff7070"/><stop offset="0.772" stop-color="#fa6464"/><stop offset="0.992" stop-color="#b74444"/><stop offset="1.000" stop-color="#aa3f3f"/></linearGradient><linearGradient id="g4_46" gradientUnits="userSpaceOnUse" x1="-72.0" x2="72.0"><stop offset="0.000" stop-color="#cd4d4d"/><stop offset="0.004" stop-color="#dc5454"/><stop offset="0.029" stop-color="#f86262"/><stop offset="0.049" stop-color="#ff6a6a"/><stop offset="0.103" stop-color="#ff8787"/><stop offset="0.146" stop-color="#ffb7b7"/><stop offset="0.196" stop-color="#fff8f8"/><stop offset="0.217" stop-color="#ffffff"/><stop offset="0.273" stop-color="#ffffff"/><stop offset="0.358" stop-color="#ffb2b2"/><stop offset="0.409" stop-color="#ff9e9e"/><stop offset="0.474" stop-color="#ffa6a6"/><stop offset="0.539" stop-color="#ffb4b4"/><stop offset="0.591" stop-color="#ffa8a8"/><stop offset="0.703" stop-color="#ff7373"/><stop offset="0.772" stop-color="#fa6464"/><stop offset="0.992" stop-color="#b74444"/><stop offset="1.000" stop-color="#aa3f3f"/></linearGradient><linearGradient id="g4_47" gradientUnits="userSpaceOnUse" x1="-73.1" x2="73.1"><stop offset="0.000" stop-color="#cd4d4d"/><stop offset="0.004" stop-color="#db5454"/><stop offset="0.029" stop-color="#f86262"/><stop offset="0.049" stop-color="#ff6a6a"/><stop offset="0.103" stop-color="#ff8787"/><stop offset="0.146" stop-color="#ffbaba"/><stop offset="0.196" stop-color="#fffdfd"/><stop offset="0.285" stop-color="#fffbfb"/><stop offset="0.358" stop-color="#ffb4b4"/><stop offset="0.409" stop-color="#ff9f9f"/><stop offset="0.474" stop-color="#ffa9a9"/><stop offset="0.539" stop-color="#ffb8b8"/><stop offset="0.591" stop-color="#ffacac"/><stop offset="0.703" stop-color="#ff7474"/><stop offset="0.772" stop-color="#fa6565"/><stop offset="0.992" stop-color="#b74444"/><stop offset="1.000" stop-color="#aa3f3f"/></linearGradient><linearGradient id="g4_48" gradientUnits="userSpaceOnUse" x1="-74.6" x2="74.6"><stop offset="0.000" stop-color="#cc4d4d"/><stop offset="0.004" stop-color="#db5454"/><stop offset="0.029" stop-color="#f76262"/><stop offset="0.049" stop-color="#ff6a6a"/><stop offset="0.103" stop-color="#ff8888"/><stop offset="0.146" stop-color="#ffbdbd"/><stop offset="0.185" stop-color="#fff7f7"/><stop offset="0.206" stop-color="#ffffff"/><stop offset="0.285" stop-color="#ffffff"/><stop offset="0.358" stop-color="#ffb7b7"/><stop offset="0.396" stop-color="#ffa3a3"/><stop offset="0.448" stop-color="#ffa5a5"/><stop offset="0.539" stop-color="#ffbfbf"/><stop offset="0.591" stop-color="#ffb1b1"/><stop offset="0.703" stop-color="#ff7575"/><stop offset="0.772" stop-color="#fa6565"/><stop offset="0.994" stop-color="#b54343"/><stop offset="1.000" stop-color="#a93f3f"/></linearGradient><linearGradient id="g4_49" gradientUnits="userSpaceOnUse" x1="-76.0" x2="76.0"><stop offset="0.000" stop-color="#cc4d4d"/><stop offset="0.004" stop-color="#db5454"/><stop offset="0.033" stop-color="#fa6464"/><stop offset="0.095" stop-color="#ff8282"/><stop offset="0.137" stop-color="#ffb2b2"/><stop offset="0.185" stop-color="#fffdfd"/><stop offset="0.285" stop-color="#ffffff"/><stop offset="0.297" stop-color="#fffafa"/><stop offset="0.358" stop-color="#ffb9b9"/><stop offset="0.396" stop-color="#ffa5a5"/><stop offset="0.448" stop-color="#ffa8a8"/><stop offset="0.539" stop-color="#ffc5c5"/><stop offset="0.591" stop-color="#ffb7b7"/><stop offset="0.691" stop-color="#ff7a7a"/><stop offset="0.772" stop-color="#fa6565"/><stop offset="0.994" stop-color="#b54343"/><stop offset="1.000" stop-color="#a93f3f"/></linearGradient><linearGradient id="g4_50" gradientUnits="userSpaceOnUse" x1="-77.5" x2="77.5"><stop offset="0.000" stop-color="#cc4d4d"/><stop offset="0.004" stop-color="#db5454"/><stop offset="0.033" stop-color="#fa6464"/><stop offset="0.095" stop-color="#ff8383"/><stop offset="0.137" stop-color="#ffb4b4"/><stop offset="0.185" stop-color="#ffffff"/><stop offset="0.297" stop-color="#ffffff"/><stop offset="0.358" stop-color="#ffbbbb"/><stop offset="0.396" stop-color="#ffa7a7"/><stop offset="0.435" stop-color="#ffa7a7"/><stop offset="0.526" stop-color="#ffcaca"/><stop offset="0.565" stop-color="#ffc8c8"/><stop offset="0.629" stop-color="#ffa3a3"/><stop offset="0.703" stop-color="#ff7676"/><stop offset="0.772" stop-color="#fa6565"/><stop offset="0.994" stop-color="#b54343"/><stop offset="1.000" stop-color="#a93f3f"/></linearGradient><linearGradient id="g4_51" gradientUnits="userSpaceOnUse" x1="-78.9" x2="78.9"><stop offset="0.000" stop-color="#cb4d4d"/><stop offset="0.004" stop-color="#da5353"/><stop offset="0.033" stop-color="#fa6464"/><stop offset="0.081" stop-color="#ff7979"/><stop offset="0.120" stop-color="#ff9d9d"/><stop offset="0.175" stop-color="#fff8f8"/><stop offset="0.196" stop-color="#ffffff"/><stop offset="0.297" stop-color="#ffffff"/><stop offset="0.358" stop-color="#ffbebe"/><stop offset="0.396" stop-color="#ffa8a8"/><stop offset="0.435" stop-color="#ffa9a9"/><stop offset="0.526" stop-color="#ffd1d1"/><stop offset="0.565" stop-color="#ffcfcf"/><stop offset="0.629" stop-color="#ffa7a7"/><stop offset="0.703" stop-color="#ff7777"/><stop offset="0.772" stop-color="#fa6565"/><stop offset="0.994" stop-color="#b44343"/><stop offset="1.000" stop-color="#a93f3f"/></linearGradient><linearGradient id="g4_52" gradientUnits="userSpaceOnUse" x1="-80.4" x2="80.4"><stop offset="0.000" stop-color="#cb4d4d"/><stop offset="0.004" stop-color="#da5353"/><stop offset="0.033" stop-color="#fa6464"/><stop offset="0.074" stop-color="#ff7575"/><stop offset="0.111" stop-color="#ff9494"/><stop offset="0.156" stop-color="#ffd9d9"/><stop offset="0.175" stop-color="#fffdfd"/><stop offset="0.297" stop-color="#ffffff"/><stop offset="0.309" stop-color="#fffafa"/><stop offset="0.358" stop-color="#ffc0c0"/><stop offset="0.396" stop-color="#ffaaaa"/><stop offset="0.435" stop-color="#ffacac"/><stop offset="0.526" stop-color="#ffd7d7"/><stop offset="0.565" stop-color="#ffd6d6"/><stop offset="0.617" stop-color="#ffb5b5"/><stop offset="0.691" stop-color="#ff7e7e"/><stop offset="0.772" stop-color="#fa6565"/><stop offset="0.994" stop-color="#b44343"/><stop offset="1.000" stop-color="#a93e3e"/></linearGradient><linearGradient id="g4_53" gradientUnits="userSpaceOnUse" x1="-81.5" x2="81.5"><stop offset="0.000" stop-color="#cb4d4d"/><stop offset="0.004" stop-color="#da5353"/><stop offset="0.033" stop-color="#fa6464"/><stop offset="0.074" stop-color="#ff7575"/><stop offset="0.111" stop-color="#ff9494"/><stop offset="0.146" stop-color="#ffcaca"/><stop offset="0.175" stop-color="#ffffff"/><stop offset="0.309" stop-color="#fffdfd"/><stop offset="0.358" stop-color="#ffc1c1"/><stop offset="0.396" stop-color="#ffabab"/><stop offset="0.435" stop-color="#ffaeae"/><stop offset="0.526" stop-color="#ffdcdc"/><stop offset="0.565" stop-color="#ffdbdb"/><stop offset="0.617" stop-color="#ffb9b9"/><stop offset="0.691" stop-color="#ff7f7f"/><stop offset="0.772" stop-color="#fa6565"/><stop offset="0.996" stop-color="#b34242"/><stop offset="1.000" stop-color="#a93e3e"/></linearGradient><linearGradient id="g4_54" gradientUnits="userSpaceOnUse" x1="-82.2" x2="82.2"><stop offset="0.000" stop-color="#cb4c4c"/><stop offset="0.004" stop-color="#da5353"/><stop offset="0.033" stop-color="#fa6363"/><stop offset="0.067" stop-color="#ff7272"/><stop offset="0.103" stop-color="#ff8c8c"/><stop offset="0.137" stop-color="#ffbbbb"/><stop offset="0.175" stop-color="#ffffff"/><stop offset="0.309" stop-color="#ffffff"/><stop offset="0.358" stop-color="#ffc2c2"/><stop offset="0.396" stop-color="#ffacac"/><stop offset="0.435" stop-color="#ffafaf"/><stop offset="0.526" stop-color="#ffe0e0"/><stop offset="0.565" stop-color="#ffdede"/><stop offset="0.617" stop-color="#ffbbbb"/><stop offset="0.691" stop-color="#ff7f7f"/><stop offset="0.772" stop-color="#fa6565"/><stop offset="0.996" stop-color="#b24242"/><stop offset="1.000" stop-color="#a93e3e"/></linearGradient><linearGradient id="g4_55" gradientUnits="userSpaceOnUse" x1="-82.9" x2="82.9"><stop offset="0.000" stop-color="#ca4c4c"/><stop offset="0.004" stop-color="#d95353"/><stop offset="0.033" stop-color="#f96363"/><stop offset="0.067" stop-color="#ff7272"/><stop offset="0.103" stop-color="#ff8c8c"/><stop offset="0.137" stop-color="#ffbcbc"/><stop offset="0.175" stop-color="#ffffff"/><stop offset="0.309" stop-color="#ffffff"/><stop offset="0.358" stop-color="#ffc3c3"/><stop offset="0.396" stop-color="#ffadad"/><stop offset="0.435" stop-color="#ffb0b0"/><stop offset="0.526" stop-color="#ffe3e3"/><stop offset="0.565" stop-color="#ffe2e2"/><stop offset="0.617" stop-color="#ffbebe"/><stop offset="0.691" stop-color="#ff8080"/><stop offset="0.761" stop-color="#fe6767"/><stop offset="0.996" stop-color="#b24242"/><stop offset="1.000" stop-color="#a83e3e"/></linearGradient><linearGradient id="g4_56" gradientUnits="userSpaceOnUse" x1="-83.6" x2="83.6"><stop offset="0.000" stop-color="#ca4c4c"/><stop offset="0.004" stop-color="#d95353"/><stop offset="0.033" stop-color="#f96363"/><stop offset="0.067" stop-color="#ff7272"/><stop offset="0.103" stop-color="#ff8c8c"/><stop offset="0.137" stop-color="#ffbdbd"/><stop offset="0.165" stop-color="#fff3f3"/><stop offset="0.175" stop-color="#ffffff"/><stop offset="0.309" stop-color="#ffffff"/><stop offset="0.358" stop-color="#ffc4c4"/><stop offset="0.396" stop-color="#ffaeae"/><stop offset="0.435" stop-color="#ffb1b1"/><stop offset="0.526" stop-color="#ffe6e6"/><stop offset="0.565" stop-color="#ffe5e5"/><stop offset="0.617" stop-color="#ffc0c0"/><stop offset="0.691" stop-color="#ff8080"/><stop offset="0.761" stop-color="#fe6767"/><stop offset="0.996" stop-color="#b24242"/><stop offset="1.000" stop-color="#a83e3e"/></linearGradient><linearGradient id="g4_57" gradientUnits="userSpaceOnUse" x1="-84.3" x2="84.3"><stop offset="0.000" stop-color="#ca4c4c"/><stop offset="0.004" stop-color="#d95353"/><stop offset="0.033" stop-color="#f96363"/><stop offset="0.061" stop-color="#ff6f6f"/><stop offset="0.103" stop-color="#ff8d8d"/><stop offset="0.137" stop-color="#ffbebe"/><stop offset="0.165" stop-color="#fff5f5"/><stop offset="0.175" stop-color="#ffffff"/><stop offset="0.309" stop-color="#ffffff"/><stop offset="0.358" stop-color="#ffc5c5"/><stop offset="0.396" stop-color="#ffaeae"/><stop offset="0.435" stop-color="#ffb3b3"/><stop offset="0.526" stop-color="#ffeaea"/><stop offset="0.565" stop-color="#ffe9e9"/><stop offset="0.617" stop-color="#ffc2c2"/><stop offset="0.691" stop-color="#ff8181"/><stop offset="0.761" stop-color="#fe6767"/><stop offset="0.996" stop-color="#b24242"/><stop offset="1.000" stop-color="#a83e3e"/></linearGradient><linearGradient id="g4_58" gradientUnits="userSpaceOnUse" x1="-85.1" x2="85.1"><stop offset="0.000" stop-color="#ca4c4c"/><stop offset="0.004" stop-color="#d95353"/><stop offset="0.038" stop-color="#fd6565"/><stop offset="0.095" stop-color="#ff8585"/><stop offset="0.128" stop-color="#ffafaf"/><stop offset="0.165" stop-color="#fff6f6"/><stop offset="0.175" stop-color="#ffffff"/><stop offset="0.309" stop-color="#ffffff"/><stop offset="0.371" stop-color="#ffbbbb"/><stop offset="0.409" stop-color="#ffaeae"/><stop offset="0.448" stop-color="#ffbaba"/><stop offset="0.526" stop-color="#ffeded"/><stop offset="0.565" stop-color="#ffecec"/><stop offset="0.604" stop-color="#ffd1d1"/><stop offset="0.679" stop-color="#ff8a8a"/><stop offset="0.739" stop-color="#ff6d6d"/><stop offset="0.815" stop-color="#ee5e5e"/><stop offset="0.996" stop-color="#b24242"/><stop offset="1.000" stop-color="#a83e3e"/></linearGradient><linearGradient id="g4_59" gradientUnits="userSpaceOnUse" x1="-85.8" x2="85.8"><stop offset="0.000" stop-color="#ca4c4c"/><stop offset="0.004" stop-color="#d95353"/><stop offset="0.038" stop-color="#fd6565"/><stop offset="0.095" stop-color="#ff8585"/><stop offset="0.128" stop-color="#ffb0b0"/><stop offset="0.165" stop-color="#fff8f8"/><stop offset="0.185" stop-color="#ffffff"/><stop offset="0.309" stop-color="#ffffff"/><stop offset="0.333" stop-color="#ffe4e4"/><stop offset="0.371" stop-color="#ffbcbc"/><stop offset="0.409" stop-color="#ffaeae"/><stop offset="0.448" stop-color="#ffbcbc"/><stop offset="0.526" stop-color="#fff0f0"/><stop offset="0.565" stop-color="#fff0f0"/><stop offset="0.604" stop-color="#ffd4d4"/><stop offset="0.679" stop-color="#ff8b8b"/><stop offset="0.739" stop-color="#ff6d6d"/><stop offset="0.815" stop-color="#ed5e5e"/><stop offset="0.996" stop-color="#b24242"/><stop offset="1.000" stop-color="#a83e3e"/></linearGradient><linearGradient id="g4_60" gradientUnits="userSpaceOnUse" x1="-86.5" x2="86.5"><stop offset="0.000" stop-color="#c94c4c"/><stop offset="0.004" stop-color="#d95353"/><stop offset="0.038" stop-color="#fd6565"/><stop offset="0.095" stop-color="#ff8585"/><stop offset="0.128" stop-color="#ffb0b0"/><stop offset="0.165" stop-color="#fff9f9"/><stop offset="0.196" stop-color="#ffffff"/><stop offset="0.309" stop-color="#ffffff"/><stop offset="0.321" stop-color="#fff7f7"/><stop offset="0.358" stop-color="#ffc8c8"/><stop offset="0.396" stop-color="#ffb1b1"/><stop offset="0.435" stop-color="#ffb6b6"/><stop offset="0.526" stop-color="#fff4f4"/><stop offset="0.565" stop-color="#fff3f3"/><stop offset="0.604" stop-color="#ffd7d7"/><stop offset="0.679" stop-color="#ff8b8b"/><stop offset="0.739" stop-color="#ff6d6d"/><stop offset="0.815" stop-color="#ed5e5e"/><stop offset="0.996" stop-color="#b24242"/><stop offset="1.000" stop-color="#a83e3e"/></linearGradient><linearGradient id="g4_61" gradientUnits="userSpaceOnUse" x1="-87.2" x2="87.2"><stop offset="0.000" stop-color="#c94c4c"/><stop offset="0.004" stop-color="#d85353"/><stop offset="0.038" stop-color="#fd6565"/><stop offset="0.095" stop-color="#ff8585"/><stop offset="0.128" stop-color="#ffb1b1"/><stop offset="0.165" stop-color="#fffbfb"/><stop offset="0.309" stop-color="#ffffff"/><stop offset="0.321" stop-color="#fff8f8"/><stop offset="0.358" stop-color="#ffc8c8"/><stop offset="0.396" stop-color="#ffb1b1"/><stop offset="0.435" stop-color="#ffb7b7"/><stop offset="0.526" stop-color="#fff7f7"/><stop offset="0.565" stop-color="#fff6f6"/><stop offset="0.604" stop-color="#ffdada"/><stop offset="0.679" stop-color="#ff8c8c"/><stop offset="0.739" stop-color="#ff6d6d"/><stop offset="0.815" stop-color="#ed5e5e"/><stop offset="0.996" stop-color="#b24242"/><stop offset="1.000" stop-color="#a83e3e"/></linearGradient><linearGradient id="g4_62" gradientUnits="userSpaceOnUse" x1="-88.3" x2="88.3"><stop offset="0.000" stop-color="#c94c4c"/><stop offset="0.004" stop-color="#d85353"/><stop offset="0.038" stop-color="#fc6565"/><stop offset="0.095" stop-color="#ff8686"/><stop offset="0.128" stop-color="#ffb2b2"/><stop offset="0.165" stop-color="#fffdfd"/><stop offset="0.309" stop-color="#ffffff"/><stop offset="0.321" stop-color="#fffafa"/><stop offset="0.358" stop-color="#ffc9c9"/><stop offset="0.396" stop-color="#ffb2b2"/><stop offset="0.435" stop-color="#ffb9b9"/><stop offset="0.526" stop-color="#fffcfc"/><stop offset="0.565" stop-color="#fffcfc"/><stop offset="0.604" stop-color="#ffdede"/><stop offset="0.679" stop-color="#ff8d8d"/><stop offset="0.739" stop-color="#ff6d6d"/><stop offset="0.815" stop-color="#ed5e5e"/><stop offset="0.996" stop-color="#b24242"/><stop offset="1.000" stop-color="#a83e3e"/></linearGradient><linearGradient id="g4_63" gradientUnits="userSpaceOnUse" x1="-89.7" x2="89.7"><stop offset="0.000" stop-color="#c94c4c"/><stop offset="0.004" stop-color="#d85353"/><stop offset="0.038" stop-color="#fc6565"/><stop offset="0.095" stop-color="#ff8686"/><stop offset="0.128" stop-color="#ffb3b3"/><stop offset="0.165" stop-color="#ffffff"/><stop offset="0.321" stop-color="#fffcfc"/><stop offset="0.358" stop-color="#ffcbcb"/><stop offset="0.396" stop-color="#ffb4b4"/><stop offset="0.435" stop-color="#ffbcbc"/><stop offset="0.513" stop-color="#fffcfc"/><stop offset="0.578" stop-color="#fffbfb"/><stop offset="0.629" stop-color="#ffc5c5"/><stop offset="0.679" stop-color="#ff8f8f"/><stop offset="0.727" stop-color="#ff7272"/><stop offset="0.783" stop-color="#f76363"/><stop offset="0.996" stop-color="#b24242"/><stop offset="1.000" stop-color="#a83e3e"/></linearGradient><linearGradient id="g4_64" gradientUnits="userSpaceOnUse" x1="-91.1" x2="91.1"><stop offset="0.000" stop-color="#c84c4c"/><stop offset="0.004" stop-color="#d85252"/><stop offset="0.038" stop-color="#fc6565"/><stop offset="0.088" stop-color="#ff7f7f"/><stop offset="0.120" stop-color="#ffa5a5"/><stop offset="0.165" stop-color="#ffffff"/><stop offset="0.321" stop-color="#ffffff"/><stop offset="0.358" stop-color="#ffcccc"/><stop offset="0.396" stop-color="#ffb5b5"/><stop offset="0.435" stop-color="#ffbebe"/><stop offset="0.513" stop-color="#ffffff"/><stop offset="0.578" stop-color="#ffffff"/><stop offset="0.604" stop-color="#ffe9e9"/><stop offset="0.679" stop-color="#ff9090"/><stop offset="0.727" stop-color="#ff7272"/><stop offset="0.783" stop-color="#f76363"/><stop offset="0.996" stop-color="#b14242"/><stop offset="1.000" stop-color="#a73e3e"/></linearGradient><linearGradient id="g4_65" gradientUnits="userSpaceOnUse" x1="-92.5" x2="92.5"><stop offset="0.000" stop-color="#c84b4b"/><stop offset="0.004" stop-color="#d75252"/><stop offset="0.038" stop-color="#fc6565"/><stop offset="0.088" stop-color="#ff7f7f"/><stop offset="0.120" stop-color="#ffa6a6"/><stop offset="0.165" stop-color="#ffffff"/><stop offset="0.321" stop-color="#ffffff"/><stop offset="0.358" stop-color="#ffcece"/><stop offset="0.396" stop-color="#ffb6b6"/><stop offset="0.435" stop-color="#ffc0c0"/><stop offset="0.500" stop-color="#fffefe"/><stop offset="0.591" stop-color="#fffcfc"/><stop offset="0.679" stop-color="#ff9292"/><stop offset="0.727" stop-color="#ff7272"/><stop offset="0.783" stop-color="#f76363"/><stop offset="0.996" stop-color="#b14242"/><stop offset="1.000" stop-color="#a73e3e"/></linearGradient><linearGradient id="g4_66" gradientUnits="userSpaceOnUse" x1="-93.9" x2="93.9"><stop offset="0.000" stop-color="#c84b4b"/><stop offset="0.004" stop-color="#d75252"/><stop offset="0.038" stop-color="#fb6565"/><stop offset="0.088" stop-color="#ff7f7f"/><stop offset="0.120" stop-color="#ffa6a6"/><stop offset="0.165" stop-color="#ffffff"/><stop offset="0.321" stop-color="#ffffff"/><stop offset="0.371" stop-color="#ffc3c3"/><stop offset="0.409" stop-color="#ffb7b7"/><stop offset="0.448" stop-color="#ffcdcd"/><stop offset="0.500" stop-color="#ffffff"/><stop offset="0.591" stop-color="#ffffff"/><stop offset="0.629" stop-color="#ffd1d1"/><stop offset="0.679" stop-color="#ff9393"/><stop offset="0.727" stop-color="#ff7373"/><stop offset="0.783" stop-color="#f76363"/><stop offset="0.996" stop-color="#b14242"/><stop offset="1.000" stop-color="#a73e3e"/></linearGradient><linearGradient id="g4_67" gradientUnits="userSpaceOnUse" x1="-95.3" x2="95.3"><stop offset="0.000" stop-color="#c74b4b"/><stop offset="0.004" stop-color="#d75252"/><stop offset="0.038" stop-color="#fb6565"/><stop offset="0.088" stop-color="#ff8080"/><stop offset="0.120" stop-color="#ffa7a7"/><stop offset="0.156" stop-color="#fff2f2"/><stop offset="0.165" stop-color="#ffffff"/><stop offset="0.321" stop-color="#ffffff"/><stop offset="0.371" stop-color="#ffc4c4"/><stop offset="0.396" stop-color="#ffb8b8"/><stop offset="0.435" stop-color="#ffc5c5"/><stop offset="0.487" stop-color="#fffbfb"/><stop offset="0.591" stop-color="#ffffff"/><stop offset="0.604" stop-color="#fff9f9"/><stop offset="0.679" stop-color="#ff9595"/><stop offset="0.727" stop-color="#ff7373"/><stop offset="0.783" stop-color="#f76363"/><stop offset="0.996" stop-color="#b14242"/><stop offset="1.000" stop-color="#a73e3e"/></linearGradient><linearGradient id="g4_68" gradientUnits="userSpaceOnUse" x1="-96.7" x2="96.7"><stop offset="0.000" stop-color="#c74b4b"/><stop offset="0.004" stop-color="#d65252"/><stop offset="0.038" stop-color="#fb6565"/><stop offset="0.088" stop-color="#ff8080"/><stop offset="0.120" stop-color="#ffa7a7"/><stop offset="0.156" stop-color="#fff3f3"/><stop offset="0.165" stop-color="#ffffff"/><stop offset="0.321" stop-color="#ffffff"/><stop offset="0.371" stop-color="#ffc5c5"/><stop offset="0.396" stop-color="#ffbaba"/><stop offset="0.435" stop-color="#ffc7c7"/><stop offset="0.487" stop-color="#ffffff"/><stop offset="0.604" stop-color="#fffefe"/><stop offset="0.667" stop-color="#ffa4a4"/><stop offset="0.715" stop-color="#ff7979"/><stop offset="0.772" stop-color="#fa6565"/><stop offset="0.996" stop-color="#b14242"/><stop offset="1.000" stop-color="#a73e3e"/></linearGradient><linearGradient id="g4_69" gradientUnits="userSpaceOnUse" x1="-98.1" x2="98.1"><stop offset="0.000" stop-color="#c74b4b"/><stop offset="0.004" stop-color="#d65252"/><stop offset="0.038" stop-color="#fb6565"/><stop offset="0.088" stop-color="#ff8080"/><stop offset="0.120" stop-color="#ffa8a8"/><stop offset="0.156" stop-color="#fff4f4"/><stop offset="0.165" stop-color="#ffffff"/><stop offset="0.321" stop-color="#ffffff"/><stop offset="0.371" stop-color="#ffc6c6"/><stop offset="0.396" stop-color="#ffbbbb"/><stop offset="0.422" stop-color="#ffc0c0"/><stop offset="0.461" stop-color="#ffe4e4"/><stop offset="0.487" stop-color="#ffffff"/><stop offset="0.604" stop-color="#ffffff"/><stop offset="0.679" stop-color="#ff9898"/><stop offset="0.727" stop-color="#ff7373"/><stop offset="0.783" stop-color="#f66363"/><stop offset="0.996" stop-color="#b14242"/><stop offset="1.000" stop-color="#a63e3e"/></linearGradient><linearGradient id="g4_70" gradientUnits="userSpaceOnUse" x1="-99.5" x2="99.5"><stop offset="0.000" stop-color="#c64b4b"/><stop offset="0.004" stop-color="#d65252"/><stop offset="0.038" stop-color="#fa6464"/><stop offset="0.088" stop-color="#ff8080"/><stop offset="0.120" stop-color="#ffa8a8"/><stop offset="0.156" stop-color="#fff6f6"/><stop offset="0.165" stop-color="#ffffff"/><stop offset="0.321" stop-color="#ffffff"/><stop offset="0.345" stop-color="#ffe2e2"/><stop offset="0.383" stop-color="#ffbfbf"/><stop offset="0.409" stop-color="#ffbdbd"/><stop offset="0.448" stop-color="#ffd7d7"/><stop offset="0.474" stop-color="#fff8f8"/><stop offset="0.500" stop-color="#ffffff"/><stop offset="0.604" stop-color="#ffffff"/><stop offset="0.617" stop-color="#fff4f4"/><stop offset="0.667" stop-color="#ffa8a8"/><stop offset="0.703" stop-color="#ff8282"/><stop offset="0.761" stop-color="#fe6868"/><stop offset="0.996" stop-color="#b04242"/><stop offset="1.000" stop-color="#a63e3e"/></linearGradient><linearGradient id="g4_71" gradientUnits="userSpaceOnUse" x1="-100.9" x2="100.9"><stop offset="0.000" stop-color="#c64b4b"/><stop offset="0.004" stop-color="#d55252"/><stop offset="0.038" stop-color="#fa6464"/><stop offset="0.088" stop-color="#ff8080"/><stop offset="0.120" stop-color="#ffa8a8"/><stop offset="0.156" stop-color="#fff7f7"/><stop offset="0.165" stop-color="#ffffff"/><stop offset="0.321" stop-color="#ffffff"/><stop offset="0.333" stop-color="#fff5f5"/><stop offset="0.371" stop-color="#ffc8c8"/><stop offset="0.396" stop-color="#ffbdbd"/><stop offset="0.422" stop-color="#ffc3c3"/><stop offset="0.461" stop-color="#ffeaea"/><stop offset="0.474" stop-color="#fffbfb"/><stop offset="0.604" stop-color="#ffffff"/><stop offset="0.617" stop-color="#fff9f9"/><stop offset="0.667" stop-color="#ffaaaa"/><stop offset="0.703" stop-color="#ff8383"/><stop offset="0.761" stop-color="#fd6868"/><stop offset="0.996" stop-color="#b04242"/><stop offset="1.000" stop-color="#a63d3d"/></linearGradient><linearGradient id="g4_72" gradientUnits="userSpaceOnUse" x1="-102.7" x2="102.7"><stop offset="0.000" stop-color="#c64a4a"/><stop offset="0.004" stop-color="#d55151"/><stop offset="0.038" stop-color="#fa6464"/><stop offset="0.088" stop-color="#ff8080"/><stop offset="0.120" stop-color="#ffa9a9"/><stop offset="0.156" stop-color="#fff8f8"/><stop offset="0.175" stop-color="#ffffff"/><stop offset="0.321" stop-color="#ffffff"/><stop offset="0.333" stop-color="#fff7f7"/><stop offset="0.371" stop-color="#ffc8c8"/><stop offset="0.396" stop-color="#ffbebe"/><stop offset="0.422" stop-color="#ffc5c5"/><stop offset="0.461" stop-color="#ffeeee"/><stop offset="0.474" stop-color="#ffffff"/><stop offset="0.617" stop-color="#fffefe"/><stop offset="0.667" stop-color="#ffacac"/><stop offset="0.703" stop-color="#ff8484"/><stop offset="0.761" stop-color="#fd6868"/><stop offset="0.996" stop-color="#b04141"/><stop offset="1.000" stop-color="#a63d3d"/></linearGradient><linearGradient id="g4_73" gradientUnits="userSpaceOnUse" x1="-104.7" x2="104.7"><stop offset="0.000" stop-color="#c54a4a"/><stop offset="0.004" stop-color="#d55151"/><stop offset="0.038" stop-color="#fa6464"/><stop offset="0.074" stop-color="#ff7575"/><stop offset="0.103" stop-color="#ff9090"/><stop offset="0.128" stop-color="#ffb9b9"/><stop offset="0.156" stop-color="#fff9f9"/><stop offset="0.185" stop-color="#ffffff"/><stop offset="0.321" stop-color="#ffffff"/><stop offset="0.333" stop-color="#fff8f8"/><stop offset="0.371" stop-color="#ffc9c9"/><stop offset="0.396" stop-color="#ffbfbf"/><stop offset="0.422" stop-color="#ffc7c7"/><stop offset="0.474" stop-color="#ffffff"/><stop offset="0.617" stop-color="#ffffff"/><stop offset="0.679" stop-color="#ff9e9e"/><stop offset="0.715" stop-color="#ff7c7c"/><stop offset="0.772" stop-color="#f96565"/><stop offset="0.996" stop-color="#b04141"/><stop offset="1.000" stop-color="#a63d3d"/></linearGradient><linearGradient id="g4_74" gradientUnits="userSpaceOnUse" x1="-106.8" x2="106.8"><stop offset="0.000" stop-color="#c54a4a"/><stop offset="0.004" stop-color="#d45151"/><stop offset="0.038" stop-color="#f96464"/><stop offset="0.067" stop-color="#ff7171"/><stop offset="0.103" stop-color="#ff9090"/><stop offset="0.128" stop-color="#ffbaba"/><stop offset="0.156" stop-color="#fffafa"/><stop offset="0.206" stop-color="#ffffff"/><stop offset="0.321" stop-color="#ffffff"/><stop offset="0.333" stop-color="#fff9f9"/><stop offset="0.371" stop-color="#ffcaca"/><stop offset="0.396" stop-color="#ffc0c0"/><stop offset="0.422" stop-color="#ffc9c9"/><stop offset="0.461" stop-color="#fff6f6"/><stop offset="0.474" stop-color="#ffffff"/><stop offset="0.617" stop-color="#ffffff"/><stop offset="0.629" stop-color="#fff2f2"/><stop offset="0.679" stop-color="#ff9f9f"/><stop offset="0.715" stop-color="#ff7c7c"/><stop offset="0.772" stop-color="#f96565"/><stop offset="0.996" stop-color="#b04141"/><stop offset="1.000" stop-color="#a53d3d"/></linearGradient><linearGradient id="g4_75" gradientUnits="userSpaceOnUse" x1="-108.9" x2="108.9"><stop offset="0.000" stop-color="#c44a4a"/><stop offset="0.004" stop-color="#d45151"/><stop offset="0.038" stop-color="#f96464"/><stop offset="0.067" stop-color="#ff7171"/><stop offset="0.103" stop-color="#ff9090"/><stop offset="0.128" stop-color="#ffbaba"/><stop offset="0.156" stop-color="#fffbfb"/><stop offset="0.321" stop-color="#ffffff"/><stop offset="0.333" stop-color="#fff9f9"/><stop offset="0.371" stop-color="#ffcbcb"/><stop offset="0.396" stop-color="#ffc1c1"/><stop offset="0.422" stop-color="#ffcbcb"/><stop offset="0.461" stop-color="#fffafa"/><stop offset="0.552" stop-color="#ffffff"/><stop offset="0.617" stop-color="#ffffff"/><stop offset="0.629" stop-color="#fff6f6"/><stop offset="0.667" stop-color="#ffb3b3"/><stop offset="0.703" stop-color="#ff8686"/><stop offset="0.750" stop-color="#ff6b6b"/><stop offset="0.996" stop-color="#af4141"/><stop offset="1.000" stop-color="#a53d3d"/></linearGradient><linearGradient id="g4_76" gradientUnits="userSpaceOnUse" x1="-111.0" x2="111.0"><stop offset="0.000" stop-color="#c44a4a"/><stop offset="0.004" stop-color="#d35151"/><stop offset="0.038" stop-color="#f96464"/><stop offset="0.061" stop-color="#ff6e6e"/><stop offset="0.095" stop-color="#ff8787"/><stop offset="0.120" stop-color="#ffa9a9"/><stop offset="0.156" stop-color="#fffbfb"/><stop offset="0.321" stop-color="#ffffff"/><stop offset="0.333" stop-color="#fffafa"/><stop offset="0.358" stop-color="#ffd7d7"/><stop offset="0.383" stop-color="#ffc4c4"/><stop offset="0.409" stop-color="#ffc5c5"/><stop offset="0.435" stop-color="#ffdada"/><stop offset="0.461" stop-color="#fffefe"/><stop offset="0.617" stop-color="#ffffff"/><stop offset="0.629" stop-color="#fffbfb"/><stop offset="0.667" stop-color="#ffb5b5"/><stop offset="0.703" stop-color="#ff8787"/><stop offset="0.750" stop-color="#ff6b6b"/><stop offset="0.996" stop-color="#af4141"/><stop offset="1.000" stop-color="#a53d3d"/></linearGradient><linearGradient id="g4_77" gradientUnits="userSpaceOnUse" x1="-113.4" x2="113.4"><stop offset="0.000" stop-color="#c44a4a"/><stop offset="0.004" stop-color="#d35151"/><stop offset="0.038" stop-color="#f86363"/><stop offset="0.061" stop-color="#ff6d6d"/><stop offset="0.095" stop-color="#ff8787"/><stop offset="0.120" stop-color="#ffa9a9"/><stop offset="0.156" stop-color="#fffcfc"/><stop offset="0.321" stop-color="#ffffff"/><stop offset="0.333" stop-color="#fffbfb"/><stop offset="0.358" stop-color="#ffd7d7"/><stop offset="0.383" stop-color="#ffc5c5"/><stop offset="0.409" stop-color="#ffc7c7"/><stop offset="0.435" stop-color="#ffdcdc"/><stop offset="0.461" stop-color="#ffffff"/><stop offset="0.629" stop-color="#ffffff"/><stop offset="0.667" stop-color="#ffb7b7"/><stop offset="0.703" stop-color="#ff8888"/><stop offset="0.750" stop-color="#ff6b6b"/><stop offset="0.979" stop-color="#b84545"/><stop offset="0.999" stop-color="#a93f3f"/><stop offset="1.000" stop-color="#a53d3d"/></linearGradient><linearGradient id="g4_78" gradientUnits="userSpaceOnUse" x1="-116.1" x2="116.1"><stop offset="0.000" stop-color="#c34949"/><stop offset="0.004" stop-color="#d35050"/><stop offset="0.038" stop-color="#f86363"/><stop offset="0.061" stop-color="#ff6d6d"/><stop offset="0.095" stop-color="#ff8686"/><stop offset="0.120" stop-color="#ffa9a9"/><stop offset="0.156" stop-color="#fffcfc"/><stop offset="0.333" stop-color="#fffbfb"/><stop offset="0.358" stop-color="#ffd8d8"/><stop offset="0.383" stop-color="#ffc6c6"/><stop offset="0.409" stop-color="#ffc8c8"/><stop offset="0.435" stop-color="#ffdfdf"/><stop offset="0.461" stop-color="#ffffff"/><stop offset="0.629" stop-color="#ffffff"/><stop offset="0.679" stop-color="#ffa6a6"/><stop offset="0.715" stop-color="#ff7e7e"/><stop offset="0.772" stop-color="#f96565"/><stop offset="0.996" stop-color="#af4141"/><stop offset="1.000" stop-color="#a43d3d"/></linearGradient><linearGradient id="g4_79" gradientUnits="userSpaceOnUse" x1="-118.9" x2="118.9"><stop offset="0.000" stop-color="#c24949"/><stop offset="0.004" stop-color="#d25050"/><stop offset="0.038" stop-color="#f76363"/><stop offset="0.054" stop-color="#ff6a6a"/><stop offset="0.095" stop-color="#ff8686"/><stop offset="0.120" stop-color="#ffa9a9"/><stop offset="0.156" stop-color="#fffcfc"/><stop offset="0.333" stop-color="#fffbfb"/><stop offset="0.358" stop-color="#ffd8d8"/><stop offset="0.383" stop-color="#ffc6c6"/><stop offset="0.409" stop-color="#ffc9c9"/><stop offset="0.435" stop-color="#ffe2e2"/><stop offset="0.448" stop-color="#fff5f5"/><stop offset="0.461" stop-color="#ffffff"/><stop offset="0.629" stop-color="#ffffff"/><stop offset="0.642" stop-color="#ffeeee"/><stop offset="0.679" stop-color="#ffa8a8"/><stop offset="0.715" stop-color="#ff7f7f"/><stop offset="0.761" stop-color="#fd6868"/><stop offset="0.996" stop-color="#ae4141"/><stop offset="1.000" stop-color="#a43d3d"/></linearGradient><linearGradient id="g4_80" gradientUnits="userSpaceOnUse" x1="-121.9" x2="121.9"><stop offset="0.000" stop-color="#c24949"/><stop offset="0.004" stop-color="#d25050"/><stop offset="0.038" stop-color="#f76363"/><stop offset="0.061" stop-color="#ff6d6d"/><stop offset="0.095" stop-color="#ff8686"/><stop offset="0.120" stop-color="#ffa9a9"/><stop offset="0.156" stop-color="#fffcfc"/><stop offset="0.333" stop-color="#fffbfb"/><stop offset="0.358" stop-color="#ffd8d8"/><stop offset="0.383" stop-color="#ffc7c7"/><stop offset="0.409" stop-color="#ffcbcb"/><stop offset="0.435" stop-color="#ffe4e4"/><stop offset="0.448" stop-color="#fff8f8"/><stop offset="0.474" stop-color="#ffffff"/><stop offset="0.629" stop-color="#ffffff"/><stop offset="0.642" stop-color="#fff2f2"/><stop offset="0.679" stop-color="#ffaaaa"/><stop offset="0.715" stop-color="#ff7f7f"/><stop offset="0.761" stop-color="#fc6868"/><stop offset="0.996" stop-color="#ae4141"/><stop offset="1.000" stop-color="#a43c3c"/></linearGradient><linearGradient id="g4_81" gradientUnits="userSpaceOnUse" x1="-125.3" x2="125.3"><stop offset="0.000" stop-color="#c14949"/><stop offset="0.004" stop-color="#d15050"/><stop offset="0.038" stop-color="#f66363"/><stop offset="0.061" stop-color="#ff6d6d"/><stop offset="0.095" stop-color="#ff8686"/><stop offset="0.120" stop-color="#ffa8a8"/><stop offset="0.156" stop-color="#fffcfc"/><stop offset="0.321" stop-color="#ffffff"/><stop offset="0.333" stop-color="#fffbfb"/><stop offset="0.358" stop-color="#ffd8d8"/><stop offset="0.383" stop-color="#ffc7c7"/><stop offset="0.409" stop-color="#ffcccc"/><stop offset="0.435" stop-color="#ffe7e7"/><stop offset="0.448" stop-color="#fffcfc"/><stop offset="0.629" stop-color="#ffffff"/><stop offset="0.642" stop-color="#fff6f6"/><stop offset="0.679" stop-color="#ffabab"/><stop offset="0.715" stop-color="#ff8080"/><stop offset="0.761" stop-color="#fc6868"/><stop offset="0.996" stop-color="#ae4040"/><stop offset="1.000" stop-color="#a33c3c"/></linearGradient><linearGradient id="g4_82" gradientUnits="userSpaceOnUse" x1="-128.7" x2="128.7"><stop offset="0.000" stop-color="#c14848"/><stop offset="0.004" stop-color="#d15050"/><stop offset="0.038" stop-color="#f66262"/><stop offset="0.061" stop-color="#ff6c6c"/><stop offset="0.095" stop-color="#ff8585"/><stop offset="0.120" stop-color="#ffa8a8"/><stop offset="0.156" stop-color="#fffbfb"/><stop offset="0.321" stop-color="#ffffff"/><stop offset="0.333" stop-color="#fffafa"/><stop offset="0.358" stop-color="#ffd8d8"/><stop offset="0.383" stop-color="#ffc7c7"/><stop offset="0.409" stop-color="#ffcdcd"/><stop offset="0.435" stop-color="#ffe9e9"/><stop offset="0.448" stop-color="#ffffff"/><stop offset="0.629" stop-color="#ffffff"/><stop offset="0.642" stop-color="#fffafa"/><stop offset="0.679" stop-color="#ffadad"/><stop offset="0.715" stop-color="#ff8080"/><stop offset="0.761" stop-color="#fc6868"/><stop offset="0.996" stop-color="#ad4040"/><stop offset="1.000" stop-color="#a33c3c"/></linearGradient><linearGradient id="g4_83" gradientUnits="userSpaceOnUse" x1="-130.8" x2="130.8"><stop offset="0.000" stop-color="#c04848"/><stop offset="0.004" stop-color="#d04f4f"/><stop offset="0.038" stop-color="#f56262"/><stop offset="0.061" stop-color="#ff6c6c"/><stop offset="0.095" stop-color="#ff8585"/><stop offset="0.120" stop-color="#ffa8a8"/><stop offset="0.156" stop-color="#fffafa"/><stop offset="0.228" stop-color="#ffffff"/><stop offset="0.321" stop-color="#ffffff"/><stop offset="0.333" stop-color="#fffafa"/><stop offset="0.358" stop-color="#ffd7d7"/><stop offset="0.383" stop-color="#ffc7c7"/><stop offset="0.409" stop-color="#ffcece"/><stop offset="0.435" stop-color="#ffeaea"/><stop offset="0.448" stop-color="#ffffff"/><stop offset="0.642" stop-color="#fffcfc"/><stop offset="0.679" stop-color="#ffaeae"/><stop offset="0.715" stop-color="#ff8080"/><stop offset="0.761" stop-color="#fc6767"/><stop offset="0.996" stop-color="#ad4040"/><stop offset="1.000" stop-color="#a33c3c"/></linearGradient><clipPath id="cs5"><path transform="translate(2122.8 1179.8) rotate(180)" d="M-131.0 -232.9 Q0 232.9 131.0 -232.9Z"/></clipPath><linearGradient id="g5_0" gradientUnits="userSpaceOnUse" x1="-5.1" x2="5.1"><stop offset="0.000" stop-color="#d14f4f"/><stop offset="0.206" stop-color="#e25757"/><stop offset="0.772" stop-color="#e55858"/><stop offset="0.996" stop-color="#d65151"/><stop offset="1.000" stop-color="#d35050"/></linearGradient><linearGradient id="g5_1" gradientUnits="userSpaceOnUse" x1="-8.9" x2="8.9"><stop offset="0.000" stop-color="#ce4e4e"/><stop offset="0.074" stop-color="#df5656"/><stop offset="0.383" stop-color="#f45f5f"/><stop offset="0.815" stop-color="#f05d5d"/><stop offset="0.986" stop-color="#db5353"/><stop offset="1.000" stop-color="#d24f4f"/></linearGradient><linearGradient id="g5_2" gradientUnits="userSpaceOnUse" x1="-11.5" x2="11.5"><stop offset="0.000" stop-color="#cb4c4c"/><stop offset="0.038" stop-color="#da5353"/><stop offset="0.250" stop-color="#f66161"/><stop offset="0.604" stop-color="#ff6565"/><stop offset="0.897" stop-color="#ee5c5c"/><stop offset="0.994" stop-color="#d85252"/><stop offset="1.000" stop-color="#d14f4f"/></linearGradient><linearGradient id="g5_3" gradientUnits="userSpaceOnUse" x1="-13.6" x2="13.6"><stop offset="0.000" stop-color="#c74b4b"/><stop offset="0.029" stop-color="#d75252"/><stop offset="0.217" stop-color="#f76262"/><stop offset="0.396" stop-color="#ff6868"/><stop offset="0.815" stop-color="#fb6262"/><stop offset="0.971" stop-color="#e25656"/><stop offset="1.000" stop-color="#d04e4e"/><stop offset="1.000" stop-color="#ce4e4e"/></linearGradient><linearGradient id="g5_4" gradientUnits="userSpaceOnUse" x1="-16.4" x2="16.4"><stop offset="0.000" stop-color="#c34949"/><stop offset="0.021" stop-color="#d25050"/><stop offset="0.175" stop-color="#f76262"/><stop offset="0.285" stop-color="#ff6969"/><stop offset="0.655" stop-color="#ff6c6c"/><stop offset="0.863" stop-color="#fa6262"/><stop offset="0.979" stop-color="#de5555"/><stop offset="1.000" stop-color="#cd4d4d"/><stop offset="1.000" stop-color="#cb4c4c"/></linearGradient><linearGradient id="g5_5" gradientUnits="userSpaceOnUse" x1="-18.8" x2="18.8"><stop offset="0.000" stop-color="#bf4848"/><stop offset="0.017" stop-color="#cf4f4f"/><stop offset="0.156" stop-color="#f66262"/><stop offset="0.239" stop-color="#ff6969"/><stop offset="0.539" stop-color="#ff7373"/><stop offset="0.872" stop-color="#fb6363"/><stop offset="0.979" stop-color="#dd5454"/><stop offset="0.999" stop-color="#cc4d4d"/><stop offset="1.000" stop-color="#c84b4b"/></linearGradient><linearGradient id="g5_6" gradientUnits="userSpaceOnUse" x1="-20.3" x2="20.3"><stop offset="0.000" stop-color="#bc4646"/><stop offset="0.014" stop-color="#cc4d4d"/><stop offset="0.137" stop-color="#f46161"/><stop offset="0.217" stop-color="#ff6969"/><stop offset="0.487" stop-color="#ff7777"/><stop offset="0.872" stop-color="#fc6363"/><stop offset="0.979" stop-color="#dc5454"/><stop offset="0.999" stop-color="#ca4c4c"/><stop offset="1.000" stop-color="#c54a4a"/></linearGradient><linearGradient id="g5_7" gradientUnits="userSpaceOnUse" x1="-21.6" x2="21.6"><stop offset="0.000" stop-color="#b94545"/><stop offset="0.011" stop-color="#c94c4c"/><stop offset="0.128" stop-color="#f26060"/><stop offset="0.206" stop-color="#ff6a6a"/><stop offset="0.461" stop-color="#ff7b7b"/><stop offset="0.872" stop-color="#fd6464"/><stop offset="0.976" stop-color="#de5555"/><stop offset="0.998" stop-color="#ca4c4c"/><stop offset="1.000" stop-color="#c44949"/></linearGradient><linearGradient id="g5_8" gradientUnits="userSpaceOnUse" x1="-23.0" x2="23.0"><stop offset="0.000" stop-color="#b94545"/><stop offset="0.014" stop-color="#ca4d4d"/><stop offset="0.137" stop-color="#f56262"/><stop offset="0.206" stop-color="#ff6b6b"/><stop offset="0.448" stop-color="#ff8181"/><stop offset="0.880" stop-color="#fc6363"/><stop offset="0.976" stop-color="#de5555"/><stop offset="0.998" stop-color="#ca4c4c"/><stop offset="1.000" stop-color="#c34949"/></linearGradient><linearGradient id="g5_9" gradientUnits="userSpaceOnUse" x1="-24.2" x2="24.2"><stop offset="0.000" stop-color="#b84545"/><stop offset="0.014" stop-color="#c94c4c"/><stop offset="0.128" stop-color="#f36161"/><stop offset="0.196" stop-color="#ff6b6b"/><stop offset="0.422" stop-color="#ff8686"/><stop offset="0.835" stop-color="#ff6969"/><stop offset="0.905" stop-color="#f76161"/><stop offset="0.986" stop-color="#d75252"/><stop offset="1.000" stop-color="#c54a4a"/><stop offset="1.000" stop-color="#c34949"/></linearGradient><linearGradient id="g5_10" gradientUnits="userSpaceOnUse" x1="-25.5" x2="25.5"><stop offset="0.000" stop-color="#b74545"/><stop offset="0.014" stop-color="#c94c4c"/><stop offset="0.128" stop-color="#f46262"/><stop offset="0.196" stop-color="#ff6c6c"/><stop offset="0.422" stop-color="#ff8e8e"/><stop offset="0.783" stop-color="#ff6e6e"/><stop offset="0.889" stop-color="#fb6363"/><stop offset="0.983" stop-color="#d95252"/><stop offset="0.999" stop-color="#c64a4a"/><stop offset="1.000" stop-color="#c24949"/></linearGradient><linearGradient id="g5_11" gradientUnits="userSpaceOnUse" x1="-26.6" x2="26.6"><stop offset="0.000" stop-color="#b74444"/><stop offset="0.014" stop-color="#c84c4c"/><stop offset="0.128" stop-color="#f56262"/><stop offset="0.196" stop-color="#ff6d6d"/><stop offset="0.409" stop-color="#ff9595"/><stop offset="0.539" stop-color="#ff8c8c"/><stop offset="0.889" stop-color="#fc6363"/><stop offset="0.983" stop-color="#d95252"/><stop offset="0.999" stop-color="#c54a4a"/><stop offset="1.000" stop-color="#c14848"/></linearGradient><linearGradient id="g5_12" gradientUnits="userSpaceOnUse" x1="-27.8" x2="27.8"><stop offset="0.000" stop-color="#b64444"/><stop offset="0.011" stop-color="#c54a4a"/><stop offset="0.120" stop-color="#f36161"/><stop offset="0.185" stop-color="#ff6c6c"/><stop offset="0.409" stop-color="#ff9e9e"/><stop offset="0.513" stop-color="#ff9797"/><stop offset="0.727" stop-color="#ff7575"/><stop offset="0.889" stop-color="#fc6464"/><stop offset="0.979" stop-color="#db5353"/><stop offset="0.999" stop-color="#c54a4a"/><stop offset="1.000" stop-color="#c04848"/></linearGradient><linearGradient id="g5_13" gradientUnits="userSpaceOnUse" x1="-28.9" x2="28.9"><stop offset="0.000" stop-color="#b54444"/><stop offset="0.011" stop-color="#c44a4a"/><stop offset="0.120" stop-color="#f36161"/><stop offset="0.185" stop-color="#ff6d6d"/><stop offset="0.409" stop-color="#ffa8a8"/><stop offset="0.500" stop-color="#ffa2a2"/><stop offset="0.679" stop-color="#ff7c7c"/><stop offset="0.889" stop-color="#fc6464"/><stop offset="0.979" stop-color="#da5353"/><stop offset="0.999" stop-color="#c44a4a"/><stop offset="1.000" stop-color="#c04848"/></linearGradient><linearGradient id="g5_14" gradientUnits="userSpaceOnUse" x1="-30.0" x2="30.0"><stop offset="0.000" stop-color="#b44343"/><stop offset="0.011" stop-color="#c44a4a"/><stop offset="0.120" stop-color="#f36262"/><stop offset="0.175" stop-color="#ff6c6c"/><stop offset="0.297" stop-color="#ff9090"/><stop offset="0.396" stop-color="#ffb1b1"/><stop offset="0.474" stop-color="#ffb1b1"/><stop offset="0.667" stop-color="#ff7f7f"/><stop offset="0.889" stop-color="#fc6464"/><stop offset="0.979" stop-color="#da5353"/><stop offset="0.999" stop-color="#c34949"/><stop offset="1.000" stop-color="#bf4747"/></linearGradient><linearGradient id="g5_15" gradientUnits="userSpaceOnUse" x1="-31.1" x2="31.1"><stop offset="0.000" stop-color="#b34343"/><stop offset="0.011" stop-color="#c34a4a"/><stop offset="0.120" stop-color="#f36262"/><stop offset="0.175" stop-color="#ff6d6d"/><stop offset="0.285" stop-color="#ff9090"/><stop offset="0.396" stop-color="#ffbdbd"/><stop offset="0.461" stop-color="#ffbebe"/><stop offset="0.655" stop-color="#ff8282"/><stop offset="0.889" stop-color="#fc6464"/><stop offset="0.976" stop-color="#dc5454"/><stop offset="0.998" stop-color="#c54a4a"/><stop offset="1.000" stop-color="#be4747"/></linearGradient><linearGradient id="g5_16" gradientUnits="userSpaceOnUse" x1="-32.1" x2="32.1"><stop offset="0.000" stop-color="#b24242"/><stop offset="0.008" stop-color="#c04949"/><stop offset="0.120" stop-color="#f36262"/><stop offset="0.165" stop-color="#ff6b6b"/><stop offset="0.273" stop-color="#ff8e8e"/><stop offset="0.383" stop-color="#ffc5c5"/><stop offset="0.448" stop-color="#ffcccc"/><stop offset="0.526" stop-color="#ffb3b3"/><stop offset="0.642" stop-color="#ff8787"/><stop offset="0.889" stop-color="#fc6464"/><stop offset="0.976" stop-color="#dc5454"/><stop offset="0.998" stop-color="#c44a4a"/><stop offset="1.000" stop-color="#bd4747"/></linearGradient><linearGradient id="g5_17" gradientUnits="userSpaceOnUse" x1="-33.1" x2="33.1"><stop offset="0.000" stop-color="#b14242"/><stop offset="0.008" stop-color="#c04848"/><stop offset="0.120" stop-color="#f36262"/><stop offset="0.165" stop-color="#ff6b6b"/><stop offset="0.261" stop-color="#ff8c8c"/><stop offset="0.383" stop-color="#ffd1d1"/><stop offset="0.435" stop-color="#ffdada"/><stop offset="0.500" stop-color="#ffc9c9"/><stop offset="0.629" stop-color="#ff8c8c"/><stop offset="0.783" stop-color="#ff7272"/><stop offset="0.897" stop-color="#fa6363"/><stop offset="0.979" stop-color="#d95252"/><stop offset="0.999" stop-color="#c14848"/><stop offset="1.000" stop-color="#bc4646"/></linearGradient><linearGradient id="g5_18" gradientUnits="userSpaceOnUse" x1="-34.1" x2="34.1"><stop offset="0.000" stop-color="#b04242"/><stop offset="0.008" stop-color="#bf4848"/><stop offset="0.120" stop-color="#f36262"/><stop offset="0.165" stop-color="#ff6c6c"/><stop offset="0.250" stop-color="#ff8989"/><stop offset="0.383" stop-color="#ffdddd"/><stop offset="0.435" stop-color="#ffe8e8"/><stop offset="0.500" stop-color="#ffd3d3"/><stop offset="0.617" stop-color="#ff9393"/><stop offset="0.727" stop-color="#ff7a7a"/><stop offset="0.889" stop-color="#fc6464"/><stop offset="0.976" stop-color="#db5353"/><stop offset="0.998" stop-color="#c34949"/><stop offset="1.000" stop-color="#bc4646"/></linearGradient><linearGradient id="g5_19" gradientUnits="userSpaceOnUse" x1="-35.1" x2="35.1"><stop offset="0.000" stop-color="#b04141"/><stop offset="0.008" stop-color="#be4848"/><stop offset="0.120" stop-color="#f36262"/><stop offset="0.165" stop-color="#ff6c6c"/><stop offset="0.250" stop-color="#ff8c8c"/><stop offset="0.383" stop-color="#ffeaea"/><stop offset="0.435" stop-color="#fff5f5"/><stop offset="0.487" stop-color="#ffe5e5"/><stop offset="0.617" stop-color="#ff9696"/><stop offset="0.715" stop-color="#ff7c7c"/><stop offset="0.889" stop-color="#fc6464"/><stop offset="0.976" stop-color="#da5353"/><stop offset="0.998" stop-color="#c24949"/><stop offset="1.000" stop-color="#bb4646"/></linearGradient><linearGradient id="g5_20" gradientUnits="userSpaceOnUse" x1="-36.1" x2="36.1"><stop offset="0.000" stop-color="#af4141"/><stop offset="0.008" stop-color="#bd4747"/><stop offset="0.128" stop-color="#f66464"/><stop offset="0.175" stop-color="#ff6f6f"/><stop offset="0.250" stop-color="#ff8e8e"/><stop offset="0.383" stop-color="#fff6f6"/><stop offset="0.422" stop-color="#ffffff"/><stop offset="0.474" stop-color="#fff7f7"/><stop offset="0.617" stop-color="#ff9999"/><stop offset="0.703" stop-color="#ff7f7f"/><stop offset="0.889" stop-color="#fd6565"/><stop offset="0.976" stop-color="#da5353"/><stop offset="0.999" stop-color="#bf4848"/><stop offset="1.000" stop-color="#ba4545"/></linearGradient><linearGradient id="g5_21" gradientUnits="userSpaceOnUse" x1="-37.1" x2="37.1"><stop offset="0.000" stop-color="#ae4141"/><stop offset="0.008" stop-color="#bd4747"/><stop offset="0.128" stop-color="#f66464"/><stop offset="0.175" stop-color="#ff6f6f"/><stop offset="0.250" stop-color="#ff9191"/><stop offset="0.371" stop-color="#fff9f9"/><stop offset="0.409" stop-color="#ffffff"/><stop offset="0.487" stop-color="#fffbfb"/><stop offset="0.604" stop-color="#ffa2a2"/><stop offset="0.679" stop-color="#ff8484"/><stop offset="0.889" stop-color="#fd6565"/><stop offset="0.976" stop-color="#d95353"/><stop offset="0.999" stop-color="#be4747"/><stop offset="1.000" stop-color="#b94545"/></linearGradient><linearGradient id="g5_22" gradientUnits="userSpaceOnUse" x1="-38.0" x2="38.0"><stop offset="0.000" stop-color="#ad4040"/><stop offset="0.008" stop-color="#bc4747"/><stop offset="0.128" stop-color="#f66464"/><stop offset="0.175" stop-color="#ff6f6f"/><stop offset="0.250" stop-color="#ff9393"/><stop offset="0.333" stop-color="#ffe1e1"/><stop offset="0.358" stop-color="#fff9f9"/><stop offset="0.396" stop-color="#ffffff"/><stop offset="0.500" stop-color="#fffcfc"/><stop offset="0.604" stop-color="#ffa5a5"/><stop offset="0.679" stop-color="#ff8585"/><stop offset="0.897" stop-color="#fb6464"/><stop offset="0.979" stop-color="#d65151"/><stop offset="0.999" stop-color="#bd4747"/><stop offset="1.000" stop-color="#b84545"/></linearGradient><linearGradient id="g5_23" gradientUnits="userSpaceOnUse" x1="-38.9" x2="38.9"><stop offset="0.000" stop-color="#ac4040"/><stop offset="0.008" stop-color="#bb4646"/><stop offset="0.128" stop-color="#f56464"/><stop offset="0.175" stop-color="#ff7070"/><stop offset="0.239" stop-color="#ff8d8d"/><stop offset="0.297" stop-color="#ffc0c0"/><stop offset="0.358" stop-color="#ffffff"/><stop offset="0.500" stop-color="#ffffff"/><stop offset="0.526" stop-color="#ffecec"/><stop offset="0.604" stop-color="#ffa8a8"/><stop offset="0.679" stop-color="#ff8686"/><stop offset="0.897" stop-color="#fb6464"/><stop offset="0.979" stop-color="#d55151"/><stop offset="0.999" stop-color="#bd4747"/><stop offset="1.000" stop-color="#b74444"/></linearGradient><linearGradient id="g5_24" gradientUnits="userSpaceOnUse" x1="-39.8" x2="39.8"><stop offset="0.000" stop-color="#ab4040"/><stop offset="0.008" stop-color="#ba4646"/><stop offset="0.128" stop-color="#f56464"/><stop offset="0.165" stop-color="#ff6d6d"/><stop offset="0.239" stop-color="#ff8e8e"/><stop offset="0.297" stop-color="#ffc4c4"/><stop offset="0.345" stop-color="#fffefe"/><stop offset="0.513" stop-color="#ffffff"/><stop offset="0.604" stop-color="#ffaaaa"/><stop offset="0.667" stop-color="#ff8a8a"/><stop offset="0.897" stop-color="#fb6464"/><stop offset="0.979" stop-color="#d45151"/><stop offset="0.999" stop-color="#bc4646"/><stop offset="1.000" stop-color="#b64444"/></linearGradient><linearGradient id="g5_25" gradientUnits="userSpaceOnUse" x1="-40.8" x2="40.8"><stop offset="0.000" stop-color="#aa3f3f"/><stop offset="0.008" stop-color="#ba4646"/><stop offset="0.128" stop-color="#f56464"/><stop offset="0.165" stop-color="#ff6d6d"/><stop offset="0.228" stop-color="#ff8888"/><stop offset="0.285" stop-color="#ffbaba"/><stop offset="0.333" stop-color="#fff6f6"/><stop offset="0.345" stop-color="#ffffff"/><stop offset="0.513" stop-color="#ffffff"/><stop offset="0.526" stop-color="#fffafa"/><stop offset="0.604" stop-color="#ffacac"/><stop offset="0.667" stop-color="#ff8b8b"/><stop offset="0.897" stop-color="#fb6464"/><stop offset="0.976" stop-color="#d75252"/><stop offset="0.999" stop-color="#bb4646"/><stop offset="1.000" stop-color="#b64444"/></linearGradient><linearGradient id="g5_26" gradientUnits="userSpaceOnUse" x1="-41.7" x2="41.7"><stop offset="0.000" stop-color="#a93f3f"/><stop offset="0.008" stop-color="#b94545"/><stop offset="0.137" stop-color="#f86666"/><stop offset="0.175" stop-color="#ff7070"/><stop offset="0.239" stop-color="#ff9090"/><stop offset="0.297" stop-color="#ffcccc"/><stop offset="0.333" stop-color="#fffcfc"/><stop offset="0.526" stop-color="#ffffff"/><stop offset="0.604" stop-color="#ffaeae"/><stop offset="0.667" stop-color="#ff8c8c"/><stop offset="0.897" stop-color="#fb6464"/><stop offset="0.976" stop-color="#d65252"/><stop offset="0.998" stop-color="#bd4747"/><stop offset="1.000" stop-color="#b54343"/></linearGradient><linearGradient id="g5_27" gradientUnits="userSpaceOnUse" x1="-42.6" x2="42.6"><stop offset="0.000" stop-color="#a93f3f"/><stop offset="0.006" stop-color="#b64444"/><stop offset="0.120" stop-color="#f16262"/><stop offset="0.165" stop-color="#ff6d6d"/><stop offset="0.228" stop-color="#ff8989"/><stop offset="0.285" stop-color="#ffc0c0"/><stop offset="0.333" stop-color="#ffffff"/><stop offset="0.526" stop-color="#ffffff"/><stop offset="0.552" stop-color="#ffe6e6"/><stop offset="0.604" stop-color="#ffb0b0"/><stop offset="0.667" stop-color="#ff8d8d"/><stop offset="0.897" stop-color="#fb6464"/><stop offset="0.976" stop-color="#d55151"/><stop offset="0.998" stop-color="#bc4646"/><stop offset="1.000" stop-color="#b44343"/></linearGradient><linearGradient id="g5_28" gradientUnits="userSpaceOnUse" x1="-43.4" x2="43.4"><stop offset="0.000" stop-color="#a83e3e"/><stop offset="0.006" stop-color="#b54444"/><stop offset="0.120" stop-color="#f06161"/><stop offset="0.165" stop-color="#ff6d6d"/><stop offset="0.228" stop-color="#ff8a8a"/><stop offset="0.273" stop-color="#ffb4b4"/><stop offset="0.321" stop-color="#fff5f5"/><stop offset="0.333" stop-color="#ffffff"/><stop offset="0.526" stop-color="#ffffff"/><stop offset="0.539" stop-color="#fffafa"/><stop offset="0.604" stop-color="#ffb2b2"/><stop offset="0.667" stop-color="#ff8d8d"/><stop offset="0.863" stop-color="#ff6a6a"/><stop offset="0.912" stop-color="#f66161"/><stop offset="0.979" stop-color="#d25050"/><stop offset="0.999" stop-color="#b94545"/><stop offset="1.000" stop-color="#b34343"/></linearGradient><linearGradient id="g5_29" gradientUnits="userSpaceOnUse" x1="-44.7" x2="44.7"><stop offset="0.000" stop-color="#a73e3e"/><stop offset="0.006" stop-color="#b44444"/><stop offset="0.120" stop-color="#f06161"/><stop offset="0.165" stop-color="#ff6d6d"/><stop offset="0.228" stop-color="#ff8a8a"/><stop offset="0.273" stop-color="#ffb6b6"/><stop offset="0.321" stop-color="#fffbfb"/><stop offset="0.448" stop-color="#ffffff"/><stop offset="0.539" stop-color="#ffffff"/><stop offset="0.604" stop-color="#ffb4b4"/><stop offset="0.667" stop-color="#ff8e8e"/><stop offset="0.835" stop-color="#ff6e6e"/><stop offset="0.897" stop-color="#fb6464"/><stop offset="0.971" stop-color="#d85252"/><stop offset="0.998" stop-color="#ba4646"/><stop offset="1.000" stop-color="#b24242"/></linearGradient><linearGradient id="g5_30" gradientUnits="userSpaceOnUse" x1="-46.5" x2="46.5"><stop offset="0.000" stop-color="#a53d3d"/><stop offset="0.006" stop-color="#b34343"/><stop offset="0.120" stop-color="#ef6161"/><stop offset="0.165" stop-color="#ff6d6d"/><stop offset="0.228" stop-color="#ff8b8b"/><stop offset="0.273" stop-color="#ffb9b9"/><stop offset="0.321" stop-color="#ffffff"/><stop offset="0.539" stop-color="#ffffff"/><stop offset="0.604" stop-color="#ffb6b6"/><stop offset="0.655" stop-color="#ff9494"/><stop offset="0.750" stop-color="#ff7b7b"/><stop offset="0.897" stop-color="#fb6464"/><stop offset="0.971" stop-color="#d75252"/><stop offset="0.998" stop-color="#b94545"/><stop offset="1.000" stop-color="#b04242"/></linearGradient><linearGradient id="g5_31" gradientUnits="userSpaceOnUse" x1="-49.4" x2="49.4"><stop offset="0.000" stop-color="#a23c3c"/><stop offset="0.006" stop-color="#b14242"/><stop offset="0.111" stop-color="#e95e5e"/><stop offset="0.175" stop-color="#ff6f6f"/><stop offset="0.228" stop-color="#ff8b8b"/><stop offset="0.273" stop-color="#ffbaba"/><stop offset="0.321" stop-color="#ffffff"/><stop offset="0.539" stop-color="#ffffff"/><stop offset="0.552" stop-color="#fff8f8"/><stop offset="0.604" stop-color="#ffb8b8"/><stop offset="0.655" stop-color="#ff9595"/><stop offset="0.750" stop-color="#ff7c7c"/><stop offset="0.897" stop-color="#fb6464"/><stop offset="0.971" stop-color="#d65252"/><stop offset="0.998" stop-color="#b64444"/><stop offset="1.000" stop-color="#ae4141"/></linearGradient><linearGradient id="g5_32" gradientUnits="userSpaceOnUse" x1="-53.9" x2="53.9"><stop offset="0.000" stop-color="#9e3a3a"/><stop offset="0.006" stop-color="#ad4040"/><stop offset="0.111" stop-color="#e75d5d"/><stop offset="0.175" stop-color="#ff6e6e"/><stop offset="0.228" stop-color="#ff8989"/><stop offset="0.273" stop-color="#ffb9b9"/><stop offset="0.309" stop-color="#fff1f1"/><stop offset="0.321" stop-color="#ffffff"/><stop offset="0.539" stop-color="#ffffff"/><stop offset="0.552" stop-color="#fff9f9"/><stop offset="0.604" stop-color="#ffb8b8"/><stop offset="0.655" stop-color="#ff9595"/><stop offset="0.761" stop-color="#ff7a7a"/><stop offset="0.889" stop-color="#fd6565"/><stop offset="0.967" stop-color="#d75252"/><stop offset="0.997" stop-color="#b64444"/><stop offset="1.000" stop-color="#aa3f3f"/></linearGradient><linearGradient id="g5_33" gradientUnits="userSpaceOnUse" x1="-57.5" x2="57.5"><stop offset="0.000" stop-color="#9b3939"/><stop offset="0.006" stop-color="#aa3f3f"/><stop offset="0.103" stop-color="#e05a5a"/><stop offset="0.185" stop-color="#ff7171"/><stop offset="0.239" stop-color="#ff9090"/><stop offset="0.285" stop-color="#ffc6c6"/><stop offset="0.321" stop-color="#ffffff"/><stop offset="0.539" stop-color="#ffffff"/><stop offset="0.552" stop-color="#fff5f5"/><stop offset="0.604" stop-color="#ffb6b6"/><stop offset="0.655" stop-color="#ff9494"/><stop offset="0.772" stop-color="#ff7878"/><stop offset="0.889" stop-color="#fc6565"/><stop offset="0.967" stop-color="#d65252"/><stop offset="0.997" stop-color="#b44343"/><stop offset="1.000" stop-color="#a73e3e"/></linearGradient><linearGradient id="g5_34" gradientUnits="userSpaceOnUse" x1="-59.5" x2="59.5"><stop offset="0.000" stop-color="#9a3939"/><stop offset="0.006" stop-color="#a93f3f"/><stop offset="0.103" stop-color="#df5959"/><stop offset="0.185" stop-color="#ff7070"/><stop offset="0.239" stop-color="#ff8e8e"/><stop offset="0.285" stop-color="#ffc3c3"/><stop offset="0.321" stop-color="#fffefe"/><stop offset="0.539" stop-color="#ffffff"/><stop offset="0.604" stop-color="#ffb4b4"/><stop offset="0.655" stop-color="#ff9494"/><stop offset="0.772" stop-color="#ff7878"/><stop offset="0.889" stop-color="#fc6565"/><stop offset="0.967" stop-color="#d55252"/><stop offset="0.997" stop-color="#b24343"/><stop offset="1.000" stop-color="#a53d3d"/></linearGradient><linearGradient id="g5_35" gradientUnits="userSpaceOnUse" x1="-61.0" x2="61.0"><stop offset="0.000" stop-color="#993838"/><stop offset="0.006" stop-color="#a83e3e"/><stop offset="0.103" stop-color="#de5959"/><stop offset="0.185" stop-color="#ff6f6f"/><stop offset="0.239" stop-color="#ff8d8d"/><stop offset="0.285" stop-color="#ffc0c0"/><stop offset="0.321" stop-color="#fffafa"/><stop offset="0.371" stop-color="#ffffff"/><stop offset="0.539" stop-color="#ffffff"/><stop offset="0.591" stop-color="#ffbfbf"/><stop offset="0.642" stop-color="#ff9999"/><stop offset="0.739" stop-color="#ff7d7d"/><stop offset="0.889" stop-color="#fc6565"/><stop offset="0.967" stop-color="#d55151"/><stop offset="0.996" stop-color="#b54444"/><stop offset="1.000" stop-color="#a43d3d"/></linearGradient><linearGradient id="g5_36" gradientUnits="userSpaceOnUse" x1="-62.6" x2="62.6"><stop offset="0.000" stop-color="#973838"/><stop offset="0.006" stop-color="#a73e3e"/><stop offset="0.095" stop-color="#d95656"/><stop offset="0.185" stop-color="#ff6f6f"/><stop offset="0.239" stop-color="#ff8c8c"/><stop offset="0.285" stop-color="#ffbdbd"/><stop offset="0.321" stop-color="#fff5f5"/><stop offset="0.333" stop-color="#ffffff"/><stop offset="0.539" stop-color="#fffefe"/><stop offset="0.591" stop-color="#ffbdbd"/><stop offset="0.642" stop-color="#ff9999"/><stop offset="0.739" stop-color="#ff7d7d"/><stop offset="0.889" stop-color="#fb6565"/><stop offset="0.967" stop-color="#d55252"/><stop offset="0.996" stop-color="#b54444"/><stop offset="1.000" stop-color="#a63e3e"/><stop offset="1.000" stop-color="#a33c3c"/></linearGradient><linearGradient id="g5_37" gradientUnits="userSpaceOnUse" x1="-64.1" x2="64.1"><stop offset="0.000" stop-color="#963737"/><stop offset="0.004" stop-color="#a33c3c"/><stop offset="0.054" stop-color="#c34b4b"/><stop offset="0.185" stop-color="#ff6e6e"/><stop offset="0.239" stop-color="#ff8a8a"/><stop offset="0.285" stop-color="#ffbbbb"/><stop offset="0.333" stop-color="#ffffff"/><stop offset="0.526" stop-color="#ffffff"/><stop offset="0.539" stop-color="#fffafa"/><stop offset="0.591" stop-color="#ffbcbc"/><stop offset="0.642" stop-color="#ff9898"/><stop offset="0.750" stop-color="#ff7b7b"/><stop offset="0.889" stop-color="#fb6565"/><stop offset="0.962" stop-color="#d95353"/><stop offset="0.996" stop-color="#b54444"/><stop offset="1.000" stop-color="#a63d3d"/><stop offset="1.000" stop-color="#a23c3c"/></linearGradient><linearGradient id="g5_38" gradientUnits="userSpaceOnUse" x1="-65.6" x2="65.6"><stop offset="0.000" stop-color="#953737"/><stop offset="0.004" stop-color="#a23c3c"/><stop offset="0.054" stop-color="#c24b4b"/><stop offset="0.185" stop-color="#ff6e6e"/><stop offset="0.239" stop-color="#ff8989"/><stop offset="0.285" stop-color="#ffb8b8"/><stop offset="0.333" stop-color="#ffffff"/><stop offset="0.526" stop-color="#ffffff"/><stop offset="0.552" stop-color="#ffe5e5"/><stop offset="0.604" stop-color="#ffafaf"/><stop offset="0.667" stop-color="#ff8e8e"/><stop offset="0.889" stop-color="#fc6565"/><stop offset="0.962" stop-color="#d95353"/><stop offset="0.996" stop-color="#b54444"/><stop offset="1.000" stop-color="#a63d3d"/><stop offset="1.000" stop-color="#a33c3c"/></linearGradient><linearGradient id="g5_39" gradientUnits="userSpaceOnUse" x1="-67.1" x2="67.1"><stop offset="0.000" stop-color="#943636"/><stop offset="0.004" stop-color="#a13c3c"/><stop offset="0.054" stop-color="#c14a4a"/><stop offset="0.185" stop-color="#fe6d6d"/><stop offset="0.239" stop-color="#ff8888"/><stop offset="0.285" stop-color="#ffb5b5"/><stop offset="0.333" stop-color="#fffbfb"/><stop offset="0.526" stop-color="#ffffff"/><stop offset="0.591" stop-color="#ffb8b8"/><stop offset="0.655" stop-color="#ff9292"/><stop offset="0.804" stop-color="#ff7373"/><stop offset="0.889" stop-color="#fc6565"/><stop offset="0.962" stop-color="#d95353"/><stop offset="0.996" stop-color="#b54444"/><stop offset="1.000" stop-color="#a63d3d"/><stop offset="1.000" stop-color="#a33c3c"/></linearGradient><linearGradient id="g5_40" gradientUnits="userSpaceOnUse" x1="-68.6" x2="68.6"><stop offset="0.000" stop-color="#933636"/><stop offset="0.004" stop-color="#a03b3b"/><stop offset="0.054" stop-color="#c04a4a"/><stop offset="0.196" stop-color="#ff7070"/><stop offset="0.250" stop-color="#ff8f8f"/><stop offset="0.297" stop-color="#ffc1c1"/><stop offset="0.333" stop-color="#fff5f5"/><stop offset="0.345" stop-color="#ffffff"/><stop offset="0.526" stop-color="#fffefe"/><stop offset="0.591" stop-color="#ffb7b7"/><stop offset="0.655" stop-color="#ff9292"/><stop offset="0.804" stop-color="#ff7373"/><stop offset="0.889" stop-color="#fc6565"/><stop offset="0.962" stop-color="#d95353"/><stop offset="0.996" stop-color="#b54444"/><stop offset="1.000" stop-color="#a33c3c"/></linearGradient><linearGradient id="g5_41" gradientUnits="userSpaceOnUse" x1="-70.1" x2="70.1"><stop offset="0.000" stop-color="#923535"/><stop offset="0.004" stop-color="#9f3b3b"/><stop offset="0.054" stop-color="#c04949"/><stop offset="0.196" stop-color="#ff7070"/><stop offset="0.250" stop-color="#ff8d8d"/><stop offset="0.297" stop-color="#ffbebe"/><stop offset="0.345" stop-color="#ffffff"/><stop offset="0.513" stop-color="#ffffff"/><stop offset="0.526" stop-color="#fff9f9"/><stop offset="0.591" stop-color="#ffb5b5"/><stop offset="0.655" stop-color="#ff9292"/><stop offset="0.804" stop-color="#ff7373"/><stop offset="0.889" stop-color="#fc6565"/><stop offset="0.962" stop-color="#d95353"/><stop offset="0.996" stop-color="#b54444"/><stop offset="1.000" stop-color="#a43d3d"/></linearGradient><linearGradient id="g5_42" gradientUnits="userSpaceOnUse" x1="-71.6" x2="71.6"><stop offset="0.000" stop-color="#913535"/><stop offset="0.004" stop-color="#9e3a3a"/><stop offset="0.054" stop-color="#bf4949"/><stop offset="0.196" stop-color="#ff6f6f"/><stop offset="0.250" stop-color="#ff8c8c"/><stop offset="0.297" stop-color="#ffbaba"/><stop offset="0.345" stop-color="#fffcfc"/><stop offset="0.513" stop-color="#ffffff"/><stop offset="0.591" stop-color="#ffb4b4"/><stop offset="0.655" stop-color="#ff9292"/><stop offset="0.815" stop-color="#ff7272"/><stop offset="0.889" stop-color="#fd6565"/><stop offset="0.962" stop-color="#d95353"/><stop offset="0.996" stop-color="#b54444"/><stop offset="1.000" stop-color="#a43d3d"/></linearGradient><linearGradient id="g5_43" gradientUnits="userSpaceOnUse" x1="-73.1" x2="73.1"><stop offset="0.000" stop-color="#903535"/><stop offset="0.004" stop-color="#9d3a3a"/><stop offset="0.054" stop-color="#be4949"/><stop offset="0.196" stop-color="#ff6e6e"/><stop offset="0.250" stop-color="#ff8a8a"/><stop offset="0.309" stop-color="#ffc6c6"/><stop offset="0.345" stop-color="#fff6f6"/><stop offset="0.358" stop-color="#ffffff"/><stop offset="0.513" stop-color="#ffffff"/><stop offset="0.591" stop-color="#ffb3b3"/><stop offset="0.667" stop-color="#ff8e8e"/><stop offset="0.889" stop-color="#fd6565"/><stop offset="0.962" stop-color="#da5353"/><stop offset="0.996" stop-color="#b54444"/><stop offset="1.000" stop-color="#a43d3d"/></linearGradient><linearGradient id="g5_44" gradientUnits="userSpaceOnUse" x1="-74.6" x2="74.6"><stop offset="0.000" stop-color="#8f3434"/><stop offset="0.004" stop-color="#9c3a3a"/><stop offset="0.054" stop-color="#bd4848"/><stop offset="0.196" stop-color="#fe6e6e"/><stop offset="0.250" stop-color="#ff8989"/><stop offset="0.309" stop-color="#ffc2c2"/><stop offset="0.358" stop-color="#ffffff"/><stop offset="0.500" stop-color="#ffffff"/><stop offset="0.513" stop-color="#fffafa"/><stop offset="0.591" stop-color="#ffb2b2"/><stop offset="0.667" stop-color="#ff8e8e"/><stop offset="0.889" stop-color="#fd6565"/><stop offset="0.962" stop-color="#da5353"/><stop offset="0.994" stop-color="#b94545"/><stop offset="1.000" stop-color="#a53d3d"/></linearGradient><linearGradient id="g5_45" gradientUnits="userSpaceOnUse" x1="-76.0" x2="76.0"><stop offset="0.000" stop-color="#8e3434"/><stop offset="0.004" stop-color="#9b3939"/><stop offset="0.054" stop-color="#bc4848"/><stop offset="0.206" stop-color="#ff7171"/><stop offset="0.261" stop-color="#ff9090"/><stop offset="0.321" stop-color="#ffcdcd"/><stop offset="0.358" stop-color="#fffafa"/><stop offset="0.422" stop-color="#ffffff"/><stop offset="0.500" stop-color="#ffffff"/><stop offset="0.591" stop-color="#ffb2b2"/><stop offset="0.667" stop-color="#ff8f8f"/><stop offset="0.889" stop-color="#fd6565"/><stop offset="0.962" stop-color="#d95353"/><stop offset="0.994" stop-color="#b94545"/><stop offset="1.000" stop-color="#a53d3d"/></linearGradient><linearGradient id="g5_46" gradientUnits="userSpaceOnUse" x1="-77.5" x2="77.5"><stop offset="0.000" stop-color="#8d3434"/><stop offset="0.004" stop-color="#9b3939"/><stop offset="0.054" stop-color="#bb4848"/><stop offset="0.206" stop-color="#ff7070"/><stop offset="0.261" stop-color="#ff8e8e"/><stop offset="0.321" stop-color="#ffc9c9"/><stop offset="0.371" stop-color="#ffffff"/><stop offset="0.500" stop-color="#fffdfd"/><stop offset="0.591" stop-color="#ffb1b1"/><stop offset="0.679" stop-color="#ff8c8c"/><stop offset="0.889" stop-color="#fd6565"/><stop offset="0.962" stop-color="#d95353"/><stop offset="0.994" stop-color="#b84545"/><stop offset="1.000" stop-color="#a53d3d"/></linearGradient><linearGradient id="g5_47" gradientUnits="userSpaceOnUse" x1="-78.9" x2="78.9"><stop offset="0.000" stop-color="#8c3333"/><stop offset="0.004" stop-color="#9a3939"/><stop offset="0.054" stop-color="#bb4747"/><stop offset="0.206" stop-color="#ff7070"/><stop offset="0.273" stop-color="#ff9696"/><stop offset="0.371" stop-color="#fffbfb"/><stop offset="0.487" stop-color="#ffffff"/><stop offset="0.591" stop-color="#ffb1b1"/><stop offset="0.691" stop-color="#ff8989"/><stop offset="0.889" stop-color="#fd6565"/><stop offset="0.962" stop-color="#d95353"/><stop offset="0.994" stop-color="#b84545"/><stop offset="1.000" stop-color="#a63d3d"/></linearGradient><linearGradient id="g5_48" gradientUnits="userSpaceOnUse" x1="-80.4" x2="80.4"><stop offset="0.000" stop-color="#8c3333"/><stop offset="0.004" stop-color="#993838"/><stop offset="0.054" stop-color="#ba4747"/><stop offset="0.206" stop-color="#ff6f6f"/><stop offset="0.273" stop-color="#ff9494"/><stop offset="0.383" stop-color="#ffffff"/><stop offset="0.487" stop-color="#fffdfd"/><stop offset="0.591" stop-color="#ffb0b0"/><stop offset="0.691" stop-color="#ff8989"/><stop offset="0.889" stop-color="#fd6565"/><stop offset="0.962" stop-color="#d95353"/><stop offset="0.994" stop-color="#b84545"/><stop offset="1.000" stop-color="#a63d3d"/></linearGradient><linearGradient id="g5_49" gradientUnits="userSpaceOnUse" x1="-81.8" x2="81.8"><stop offset="0.000" stop-color="#8b3333"/><stop offset="0.004" stop-color="#983838"/><stop offset="0.054" stop-color="#b94747"/><stop offset="0.206" stop-color="#fe6e6e"/><stop offset="0.273" stop-color="#ff9292"/><stop offset="0.383" stop-color="#fffafa"/><stop offset="0.435" stop-color="#ffffff"/><stop offset="0.474" stop-color="#ffffff"/><stop offset="0.604" stop-color="#ffaaaa"/><stop offset="0.727" stop-color="#ff8181"/><stop offset="0.889" stop-color="#fd6565"/><stop offset="0.962" stop-color="#d95353"/><stop offset="0.994" stop-color="#b84545"/><stop offset="1.000" stop-color="#a63d3d"/></linearGradient><linearGradient id="g5_50" gradientUnits="userSpaceOnUse" x1="-83.3" x2="83.3"><stop offset="0.000" stop-color="#8a3232"/><stop offset="0.004" stop-color="#973838"/><stop offset="0.054" stop-color="#b84646"/><stop offset="0.217" stop-color="#ff7272"/><stop offset="0.285" stop-color="#ff9a9a"/><stop offset="0.383" stop-color="#fff4f4"/><stop offset="0.409" stop-color="#ffffff"/><stop offset="0.461" stop-color="#ffffff"/><stop offset="0.617" stop-color="#ffa5a5"/><stop offset="0.750" stop-color="#ff7c7c"/><stop offset="0.889" stop-color="#fd6565"/><stop offset="0.962" stop-color="#d95353"/><stop offset="0.994" stop-color="#b84545"/><stop offset="1.000" stop-color="#a63e3e"/></linearGradient><linearGradient id="g5_51" gradientUnits="userSpaceOnUse" x1="-84.7" x2="84.7"><stop offset="0.000" stop-color="#893232"/><stop offset="0.004" stop-color="#973737"/><stop offset="0.049" stop-color="#b44444"/><stop offset="0.206" stop-color="#fc6d6d"/><stop offset="0.273" stop-color="#ff8f8f"/><stop offset="0.383" stop-color="#ffefef"/><stop offset="0.422" stop-color="#ffffff"/><stop offset="0.461" stop-color="#fffbfb"/><stop offset="0.617" stop-color="#ffa6a6"/><stop offset="0.750" stop-color="#ff7d7d"/><stop offset="0.889" stop-color="#fd6565"/><stop offset="0.962" stop-color="#d95353"/><stop offset="0.996" stop-color="#b54343"/><stop offset="1.000" stop-color="#a63e3e"/></linearGradient><linearGradient id="g5_52" gradientUnits="userSpaceOnUse" x1="-86.1" x2="86.1"><stop offset="0.000" stop-color="#883232"/><stop offset="0.004" stop-color="#963737"/><stop offset="0.049" stop-color="#b44444"/><stop offset="0.217" stop-color="#ff7171"/><stop offset="0.285" stop-color="#ff9696"/><stop offset="0.383" stop-color="#ffe9e9"/><stop offset="0.422" stop-color="#fff9f9"/><stop offset="0.461" stop-color="#fff5f5"/><stop offset="0.629" stop-color="#ffa2a2"/><stop offset="0.761" stop-color="#ff7b7b"/><stop offset="0.889" stop-color="#fd6565"/><stop offset="0.962" stop-color="#d95353"/><stop offset="0.996" stop-color="#b54343"/><stop offset="1.000" stop-color="#a73e3e"/></linearGradient><linearGradient id="g5_53" gradientUnits="userSpaceOnUse" x1="-87.6" x2="87.6"><stop offset="0.000" stop-color="#883131"/><stop offset="0.004" stop-color="#953737"/><stop offset="0.049" stop-color="#b34444"/><stop offset="0.217" stop-color="#ff7070"/><stop offset="0.285" stop-color="#ff9494"/><stop offset="0.383" stop-color="#ffe4e4"/><stop offset="0.422" stop-color="#fff4f4"/><stop offset="0.474" stop-color="#ffecec"/><stop offset="0.629" stop-color="#ffa3a3"/><stop offset="0.761" stop-color="#ff7b7b"/><stop offset="0.889" stop-color="#fd6565"/><stop offset="0.962" stop-color="#d95353"/><stop offset="0.996" stop-color="#b54343"/><stop offset="1.000" stop-color="#a73e3e"/></linearGradient><linearGradient id="g5_54" gradientUnits="userSpaceOnUse" x1="-89.0" x2="89.0"><stop offset="0.000" stop-color="#873131"/><stop offset="0.004" stop-color="#943636"/><stop offset="0.049" stop-color="#b24444"/><stop offset="0.217" stop-color="#ff7070"/><stop offset="0.285" stop-color="#ff9292"/><stop offset="0.396" stop-color="#ffe7e7"/><stop offset="0.435" stop-color="#fff0f0"/><stop offset="0.500" stop-color="#ffdcdc"/><stop offset="0.679" stop-color="#ff9292"/><stop offset="0.804" stop-color="#ff7373"/><stop offset="0.897" stop-color="#fa6464"/><stop offset="0.967" stop-color="#d55151"/><stop offset="0.997" stop-color="#b24242"/><stop offset="1.000" stop-color="#a73e3e"/></linearGradient><linearGradient id="g5_55" gradientUnits="userSpaceOnUse" x1="-90.4" x2="90.4"><stop offset="0.000" stop-color="#863131"/><stop offset="0.004" stop-color="#943636"/><stop offset="0.049" stop-color="#b24343"/><stop offset="0.217" stop-color="#fe6f6f"/><stop offset="0.297" stop-color="#ff9999"/><stop offset="0.396" stop-color="#ffe2e2"/><stop offset="0.448" stop-color="#ffeaea"/><stop offset="0.739" stop-color="#ff8080"/><stop offset="0.889" stop-color="#fd6565"/><stop offset="0.962" stop-color="#d95353"/><stop offset="0.996" stop-color="#b54444"/><stop offset="1.000" stop-color="#a73e3e"/></linearGradient><linearGradient id="g5_56" gradientUnits="userSpaceOnUse" x1="-91.8" x2="91.8"><stop offset="0.000" stop-color="#853030"/><stop offset="0.004" stop-color="#933636"/><stop offset="0.049" stop-color="#b14343"/><stop offset="0.217" stop-color="#fe6f6f"/><stop offset="0.297" stop-color="#ff9797"/><stop offset="0.396" stop-color="#ffdddd"/><stop offset="0.448" stop-color="#ffe6e6"/><stop offset="0.750" stop-color="#ff7e7e"/><stop offset="0.889" stop-color="#fd6565"/><stop offset="0.962" stop-color="#d95353"/><stop offset="0.996" stop-color="#b54444"/><stop offset="1.000" stop-color="#a73e3e"/></linearGradient><linearGradient id="g5_57" gradientUnits="userSpaceOnUse" x1="-93.2" x2="93.2"><stop offset="0.000" stop-color="#853030"/><stop offset="0.004" stop-color="#923636"/><stop offset="0.049" stop-color="#b04343"/><stop offset="0.217" stop-color="#fd6e6e"/><stop offset="0.297" stop-color="#ff9696"/><stop offset="0.396" stop-color="#ffd9d9"/><stop offset="0.448" stop-color="#ffe1e1"/><stop offset="0.667" stop-color="#ff9a9a"/><stop offset="0.772" stop-color="#ff7979"/><stop offset="0.889" stop-color="#fd6565"/><stop offset="0.962" stop-color="#d95353"/><stop offset="0.996" stop-color="#b54444"/><stop offset="1.000" stop-color="#a73e3e"/></linearGradient><linearGradient id="g5_58" gradientUnits="userSpaceOnUse" x1="-94.6" x2="94.6"><stop offset="0.000" stop-color="#843030"/><stop offset="0.004" stop-color="#923535"/><stop offset="0.049" stop-color="#b04242"/><stop offset="0.228" stop-color="#ff7272"/><stop offset="0.309" stop-color="#ff9c9c"/><stop offset="0.396" stop-color="#ffd5d5"/><stop offset="0.448" stop-color="#ffdede"/><stop offset="0.642" stop-color="#ffa6a6"/><stop offset="0.761" stop-color="#ff7b7b"/><stop offset="0.889" stop-color="#fd6565"/><stop offset="0.962" stop-color="#d95353"/><stop offset="0.997" stop-color="#b24242"/><stop offset="1.000" stop-color="#a83e3e"/></linearGradient><linearGradient id="g5_59" gradientUnits="userSpaceOnUse" x1="-96.0" x2="96.0"><stop offset="0.000" stop-color="#833030"/><stop offset="0.004" stop-color="#913535"/><stop offset="0.049" stop-color="#af4242"/><stop offset="0.228" stop-color="#ff7171"/><stop offset="0.309" stop-color="#ff9a9a"/><stop offset="0.396" stop-color="#ffd1d1"/><stop offset="0.448" stop-color="#ffdada"/><stop offset="0.629" stop-color="#ffadad"/><stop offset="0.750" stop-color="#ff7e7e"/><stop offset="0.889" stop-color="#fd6565"/><stop offset="0.962" stop-color="#d85353"/><stop offset="0.997" stop-color="#b24242"/><stop offset="1.000" stop-color="#a83e3e"/></linearGradient><linearGradient id="g5_60" gradientUnits="userSpaceOnUse" x1="-97.4" x2="97.4"><stop offset="0.000" stop-color="#832f2f"/><stop offset="0.004" stop-color="#913535"/><stop offset="0.049" stop-color="#ae4242"/><stop offset="0.228" stop-color="#ff7171"/><stop offset="0.309" stop-color="#ff9999"/><stop offset="0.396" stop-color="#ffcdcd"/><stop offset="0.448" stop-color="#ffd6d6"/><stop offset="0.629" stop-color="#ffafaf"/><stop offset="0.750" stop-color="#ff7f7f"/><stop offset="0.889" stop-color="#fd6565"/><stop offset="0.962" stop-color="#d85353"/><stop offset="0.997" stop-color="#b24242"/><stop offset="1.000" stop-color="#a83e3e"/></linearGradient><linearGradient id="g5_61" gradientUnits="userSpaceOnUse" x1="-99.2" x2="99.2"><stop offset="0.000" stop-color="#822f2f"/><stop offset="0.004" stop-color="#903535"/><stop offset="0.049" stop-color="#ae4242"/><stop offset="0.228" stop-color="#ff7070"/><stop offset="0.321" stop-color="#ff9e9e"/><stop offset="0.396" stop-color="#ffc9c9"/><stop offset="0.461" stop-color="#ffd1d1"/><stop offset="0.617" stop-color="#ffb6b6"/><stop offset="0.750" stop-color="#ff7f7f"/><stop offset="0.889" stop-color="#fd6565"/><stop offset="0.962" stop-color="#d85353"/><stop offset="0.997" stop-color="#b34343"/><stop offset="1.000" stop-color="#a83e3e"/></linearGradient><linearGradient id="g5_62" gradientUnits="userSpaceOnUse" x1="-101.3" x2="101.3"><stop offset="0.000" stop-color="#812f2f"/><stop offset="0.004" stop-color="#8f3434"/><stop offset="0.043" stop-color="#aa4040"/><stop offset="0.228" stop-color="#fe6f6f"/><stop offset="0.321" stop-color="#ff9b9b"/><stop offset="0.396" stop-color="#ffc4c4"/><stop offset="0.461" stop-color="#ffcdcd"/><stop offset="0.617" stop-color="#ffb9b9"/><stop offset="0.750" stop-color="#ff7f7f"/><stop offset="0.889" stop-color="#fd6565"/><stop offset="0.962" stop-color="#d85353"/><stop offset="0.997" stop-color="#b34343"/><stop offset="1.000" stop-color="#a83e3e"/></linearGradient><linearGradient id="g5_63" gradientUnits="userSpaceOnUse" x1="-103.4" x2="103.4"><stop offset="0.000" stop-color="#802e2e"/><stop offset="0.004" stop-color="#8e3434"/><stop offset="0.043" stop-color="#a94040"/><stop offset="0.228" stop-color="#fd6f6f"/><stop offset="0.321" stop-color="#ff9999"/><stop offset="0.409" stop-color="#ffc4c4"/><stop offset="0.500" stop-color="#ffc8c8"/><stop offset="0.604" stop-color="#ffc1c1"/><stop offset="0.761" stop-color="#ff7c7c"/><stop offset="0.889" stop-color="#fc6565"/><stop offset="0.962" stop-color="#d85353"/><stop offset="0.997" stop-color="#b34343"/><stop offset="1.000" stop-color="#a83e3e"/></linearGradient><linearGradient id="g5_64" gradientUnits="userSpaceOnUse" x1="-105.4" x2="105.4"><stop offset="0.000" stop-color="#7f2e2e"/><stop offset="0.004" stop-color="#8d3434"/><stop offset="0.043" stop-color="#a83f3f"/><stop offset="0.228" stop-color="#fc6e6e"/><stop offset="0.333" stop-color="#ff9d9d"/><stop offset="0.409" stop-color="#ffc0c0"/><stop offset="0.578" stop-color="#ffc8c8"/><stop offset="0.642" stop-color="#ffb6b6"/><stop offset="0.750" stop-color="#ff8080"/><stop offset="0.889" stop-color="#fc6565"/><stop offset="0.962" stop-color="#d85252"/><stop offset="0.997" stop-color="#b34343"/><stop offset="1.000" stop-color="#a83e3e"/></linearGradient><linearGradient id="g5_65" gradientUnits="userSpaceOnUse" x1="-107.5" x2="107.5"><stop offset="0.000" stop-color="#7f2e2e"/><stop offset="0.004" stop-color="#8c3333"/><stop offset="0.043" stop-color="#a83f3f"/><stop offset="0.239" stop-color="#ff7171"/><stop offset="0.409" stop-color="#ffbcbc"/><stop offset="0.591" stop-color="#ffcaca"/><stop offset="0.655" stop-color="#ffb2b2"/><stop offset="0.750" stop-color="#ff8080"/><stop offset="0.889" stop-color="#fc6565"/><stop offset="0.962" stop-color="#d85252"/><stop offset="0.997" stop-color="#b34343"/><stop offset="1.000" stop-color="#a83e3e"/></linearGradient><linearGradient id="g5_66" gradientUnits="userSpaceOnUse" x1="-109.6" x2="109.6"><stop offset="0.000" stop-color="#7e2d2d"/><stop offset="0.004" stop-color="#8c3333"/><stop offset="0.043" stop-color="#a73f3f"/><stop offset="0.239" stop-color="#ff7171"/><stop offset="0.409" stop-color="#ffb8b8"/><stop offset="0.591" stop-color="#ffcdcd"/><stop offset="0.642" stop-color="#ffbdbd"/><stop offset="0.739" stop-color="#ff8585"/><stop offset="0.889" stop-color="#fc6565"/><stop offset="0.962" stop-color="#d75252"/><stop offset="0.997" stop-color="#b34343"/><stop offset="1.000" stop-color="#a83e3e"/></linearGradient><linearGradient id="g5_67" gradientUnits="userSpaceOnUse" x1="-111.7" x2="111.7"><stop offset="0.000" stop-color="#7d2d2d"/><stop offset="0.004" stop-color="#8b3333"/><stop offset="0.043" stop-color="#a63e3e"/><stop offset="0.239" stop-color="#fe7070"/><stop offset="0.409" stop-color="#ffb5b5"/><stop offset="0.591" stop-color="#ffd1d1"/><stop offset="0.642" stop-color="#ffc1c1"/><stop offset="0.739" stop-color="#ff8686"/><stop offset="0.863" stop-color="#ff6969"/><stop offset="0.912" stop-color="#f36060"/><stop offset="0.971" stop-color="#cf4f4f"/><stop offset="0.998" stop-color="#b04242"/><stop offset="1.000" stop-color="#a93e3e"/></linearGradient><linearGradient id="g5_68" gradientUnits="userSpaceOnUse" x1="-113.7" x2="113.7"><stop offset="0.000" stop-color="#7c2d2d"/><stop offset="0.004" stop-color="#8a3232"/><stop offset="0.043" stop-color="#a63e3e"/><stop offset="0.239" stop-color="#fd6f6f"/><stop offset="0.422" stop-color="#ffb5b5"/><stop offset="0.591" stop-color="#ffd5d5"/><stop offset="0.642" stop-color="#ffc4c4"/><stop offset="0.739" stop-color="#ff8686"/><stop offset="0.844" stop-color="#ff6c6c"/><stop offset="0.897" stop-color="#f96363"/><stop offset="0.967" stop-color="#d35050"/><stop offset="0.998" stop-color="#b04242"/><stop offset="1.000" stop-color="#a93e3e"/></linearGradient><linearGradient id="g5_69" gradientUnits="userSpaceOnUse" x1="-115.8" x2="115.8"><stop offset="0.000" stop-color="#7c2c2c"/><stop offset="0.004" stop-color="#8a3232"/><stop offset="0.043" stop-color="#a53e3e"/><stop offset="0.239" stop-color="#fd6f6f"/><stop offset="0.422" stop-color="#ffb2b2"/><stop offset="0.591" stop-color="#ffd9d9"/><stop offset="0.642" stop-color="#ffc8c8"/><stop offset="0.739" stop-color="#ff8787"/><stop offset="0.835" stop-color="#ff6e6e"/><stop offset="0.889" stop-color="#fc6464"/><stop offset="0.962" stop-color="#d75252"/><stop offset="0.997" stop-color="#b34343"/><stop offset="1.000" stop-color="#a93e3e"/></linearGradient><linearGradient id="g5_70" gradientUnits="userSpaceOnUse" x1="-117.8" x2="117.8"><stop offset="0.000" stop-color="#7b2c2c"/><stop offset="0.004" stop-color="#893232"/><stop offset="0.043" stop-color="#a43d3d"/><stop offset="0.250" stop-color="#ff7272"/><stop offset="0.422" stop-color="#ffafaf"/><stop offset="0.526" stop-color="#ffcbcb"/><stop offset="0.591" stop-color="#ffdddd"/><stop offset="0.629" stop-color="#ffd3d3"/><stop offset="0.739" stop-color="#ff8787"/><stop offset="0.835" stop-color="#ff6e6e"/><stop offset="0.897" stop-color="#f96363"/><stop offset="0.967" stop-color="#d35050"/><stop offset="0.998" stop-color="#b14242"/><stop offset="1.000" stop-color="#a93f3f"/></linearGradient><linearGradient id="g5_71" gradientUnits="userSpaceOnUse" x1="-119.9" x2="119.9"><stop offset="0.000" stop-color="#7a2c2c"/><stop offset="0.004" stop-color="#883131"/><stop offset="0.043" stop-color="#a33d3d"/><stop offset="0.250" stop-color="#ff7171"/><stop offset="0.422" stop-color="#ffadad"/><stop offset="0.526" stop-color="#ffcccc"/><stop offset="0.591" stop-color="#ffe1e1"/><stop offset="0.629" stop-color="#ffd7d7"/><stop offset="0.739" stop-color="#ff8888"/><stop offset="0.825" stop-color="#ff7070"/><stop offset="0.889" stop-color="#fb6464"/><stop offset="0.962" stop-color="#d75252"/><stop offset="0.997" stop-color="#b34343"/><stop offset="1.000" stop-color="#a93f3f"/></linearGradient><linearGradient id="g5_72" gradientUnits="userSpaceOnUse" x1="-121.9" x2="121.9"><stop offset="0.000" stop-color="#792c2c"/><stop offset="0.004" stop-color="#883131"/><stop offset="0.043" stop-color="#a33d3d"/><stop offset="0.250" stop-color="#ff7171"/><stop offset="0.435" stop-color="#ffaeae"/><stop offset="0.526" stop-color="#ffcece"/><stop offset="0.578" stop-color="#ffe3e3"/><stop offset="0.617" stop-color="#ffe1e1"/><stop offset="0.667" stop-color="#ffbfbf"/><stop offset="0.739" stop-color="#ff8989"/><stop offset="0.825" stop-color="#ff6f6f"/><stop offset="0.889" stop-color="#fb6464"/><stop offset="0.962" stop-color="#d65252"/><stop offset="0.997" stop-color="#b34343"/><stop offset="1.000" stop-color="#a93f3f"/></linearGradient><linearGradient id="g5_73" gradientUnits="userSpaceOnUse" x1="-124.0" x2="124.0"><stop offset="0.000" stop-color="#792b2b"/><stop offset="0.004" stop-color="#873131"/><stop offset="0.043" stop-color="#a23d3d"/><stop offset="0.250" stop-color="#fe7070"/><stop offset="0.448" stop-color="#ffafaf"/><stop offset="0.526" stop-color="#ffcfcf"/><stop offset="0.578" stop-color="#ffe7e7"/><stop offset="0.617" stop-color="#ffe5e5"/><stop offset="0.667" stop-color="#ffc2c2"/><stop offset="0.739" stop-color="#ff8989"/><stop offset="0.815" stop-color="#ff7171"/><stop offset="0.889" stop-color="#fb6464"/><stop offset="0.962" stop-color="#d65252"/><stop offset="0.997" stop-color="#b34343"/><stop offset="1.000" stop-color="#a93f3f"/></linearGradient><linearGradient id="g5_74" gradientUnits="userSpaceOnUse" x1="-126.0" x2="126.0"><stop offset="0.000" stop-color="#782b2b"/><stop offset="0.004" stop-color="#863131"/><stop offset="0.043" stop-color="#a23c3c"/><stop offset="0.250" stop-color="#fd7070"/><stop offset="0.500" stop-color="#ffc2c2"/><stop offset="0.578" stop-color="#ffebeb"/><stop offset="0.617" stop-color="#ffe9e9"/><stop offset="0.667" stop-color="#ffc5c5"/><stop offset="0.739" stop-color="#ff8a8a"/><stop offset="0.815" stop-color="#ff7171"/><stop offset="0.889" stop-color="#fb6464"/><stop offset="0.962" stop-color="#d65252"/><stop offset="0.997" stop-color="#b34343"/><stop offset="1.000" stop-color="#a93f3f"/></linearGradient><linearGradient id="g5_75" gradientUnits="userSpaceOnUse" x1="-128.0" x2="128.0"><stop offset="0.000" stop-color="#782b2b"/><stop offset="0.004" stop-color="#863030"/><stop offset="0.043" stop-color="#a13c3c"/><stop offset="0.250" stop-color="#fd6f6f"/><stop offset="0.487" stop-color="#ffbbbb"/><stop offset="0.578" stop-color="#ffeeee"/><stop offset="0.617" stop-color="#ffeeee"/><stop offset="0.667" stop-color="#ffc8c8"/><stop offset="0.739" stop-color="#ff8a8a"/><stop offset="0.815" stop-color="#ff7171"/><stop offset="0.889" stop-color="#fb6464"/><stop offset="0.962" stop-color="#d65252"/><stop offset="0.997" stop-color="#b34343"/><stop offset="1.000" stop-color="#a93f3f"/></linearGradient><linearGradient id="g5_76" gradientUnits="userSpaceOnUse" x1="-130.1" x2="130.1"><stop offset="0.000" stop-color="#772b2b"/><stop offset="0.004" stop-color="#853030"/><stop offset="0.043" stop-color="#a03c3c"/><stop offset="0.250" stop-color="#fc6f6f"/><stop offset="0.487" stop-color="#ffbbbb"/><stop offset="0.578" stop-color="#fff2f2"/><stop offset="0.617" stop-color="#fff2f2"/><stop offset="0.655" stop-color="#ffd8d8"/><stop offset="0.727" stop-color="#ff9393"/><stop offset="0.783" stop-color="#ff7878"/><stop offset="0.889" stop-color="#fb6464"/><stop offset="0.962" stop-color="#d65252"/><stop offset="0.997" stop-color="#b34343"/><stop offset="1.000" stop-color="#a93f3f"/></linearGradient></defs>
<g clip-path="url(#cs0)"><g transform="translate(322.3 1509.7) rotate(0)"><rect x="-140" y="-1.3" width="280" height="3.3" fill="url(#g0_0)"/><rect x="-140" y="-2.0" width="280" height="1.9" fill="url(#g0_1)"/><rect x="-140" y="-2.7" width="280" height="1.9" fill="url(#g0_2)"/><rect x="-140" y="-3.5" width="280" height="1.9" fill="url(#g0_3)"/><rect x="-140" y="-4.2" width="280" height="1.9" fill="url(#g0_4)"/><rect x="-140" y="-5.0" width="280" height="2.0" fill="url(#g0_5)"/><rect x="-140" y="-5.8" width="280" height="2.0" fill="url(#g0_6)"/><rect x="-140" y="-6.6" width="280" height="2.0" fill="url(#g0_7)"/><rect x="-140" y="-7.3" width="280" height="2.0" fill="url(#g0_8)"/><rect x="-140" y="-9.0" width="280" height="2.8" fill="url(#g0_9)"/><rect x="-140" y="-10.6" width="280" height="2.9" fill="url(#g0_10)"/><rect x="-140" y="-12.4" width="280" height="2.9" fill="url(#g0_11)"/><rect x="-140" y="-14.1" width="280" height="3.0" fill="url(#g0_12)"/><rect x="-140" y="-15.9" width="280" height="3.0" fill="url(#g0_13)"/><rect x="-140" y="-17.8" width="280" height="3.1" fill="url(#g0_14)"/><rect x="-140" y="-19.7" width="280" height="3.1" fill="url(#g0_15)"/><rect x="-140" y="-22.6" width="280" height="4.1" fill="url(#g0_16)"/><rect x="-140" y="-25.7" width="280" height="4.2" fill="url(#g0_17)"/><rect x="-140" y="-28.8" width="280" height="4.3" fill="url(#g0_18)"/><rect x="-140" y="-32.0" width="280" height="4.4" fill="url(#g0_19)"/><rect x="-140" y="-35.4" width="280" height="4.5" fill="url(#g0_20)"/><rect x="-140" y="-38.8" width="280" height="4.6" fill="url(#g0_21)"/><rect x="-140" y="-42.4" width="280" height="4.7" fill="url(#g0_22)"/><rect x="-140" y="-47.3" width="280" height="6.1" fill="url(#g0_23)"/><rect x="-140" y="-52.3" width="280" height="6.3" fill="url(#g0_24)"/><rect x="-140" y="-58.9" width="280" height="7.8" fill="url(#g0_25)"/><rect x="-140" y="-65.8" width="280" height="8.1" fill="url(#g0_26)"/><rect x="-140" y="-73.0" width="280" height="8.4" fill="url(#g0_27)"/><rect x="-140" y="-81.9" width="280" height="10.2" fill="url(#g0_28)"/><rect x="-140" y="-91.3" width="280" height="10.6" fill="url(#g0_29)"/><rect x="-140" y="-101.1" width="280" height="11.0" fill="url(#g0_30)"/><rect x="-140" y="-111.3" width="280" height="11.4" fill="url(#g0_31)"/><rect x="-140" y="-121.9" width="280" height="11.8" fill="url(#g0_32)"/><rect x="-140" y="-133.0" width="280" height="12.2" fill="url(#g0_33)"/><rect x="-140" y="-144.4" width="280" height="12.6" fill="url(#g0_34)"/><rect x="-140" y="-156.2" width="280" height="13.0" fill="url(#g0_35)"/><rect x="-140" y="-168.5" width="280" height="13.5" fill="url(#g0_36)"/><rect x="-140" y="-181.2" width="280" height="13.9" fill="url(#g0_37)"/><rect x="-140" y="-194.2" width="280" height="14.3" fill="url(#g0_38)"/><rect x="-140" y="-207.7" width="280" height="14.7" fill="url(#g0_39)"/><rect x="-140" y="-221.6" width="280" height="15.1" fill="url(#g0_40)"/><rect x="-140" y="-234.9" width="280" height="14.5" fill="url(#g0_41)"/></g><rect x="0" y="1343.5" width="2321" height="200" fill="#7880F8" fill-opacity="0.54"/></g><g clip-path="url(#cs1)"><g transform="translate(615.55 1472.2) rotate(35)"><rect x="-140" y="-1.3" width="280" height="3.3" fill="url(#g1_0)"/><rect x="-140" y="-2.0" width="280" height="1.9" fill="url(#g1_1)"/><rect x="-140" y="-2.7" width="280" height="1.9" fill="url(#g1_2)"/><rect x="-140" y="-3.5" width="280" height="1.9" fill="url(#g1_3)"/><rect x="-140" y="-5.0" width="280" height="2.7" fill="url(#g1_4)"/><rect x="-140" y="-5.8" width="280" height="2.0" fill="url(#g1_5)"/><rect x="-140" y="-7.3" width="280" height="2.8" fill="url(#g1_6)"/><rect x="-140" y="-9.0" width="280" height="2.8" fill="url(#g1_7)"/><rect x="-140" y="-10.6" width="280" height="2.9" fill="url(#g1_8)"/><rect x="-140" y="-12.4" width="280" height="2.9" fill="url(#g1_9)"/><rect x="-140" y="-14.1" width="280" height="3.0" fill="url(#g1_10)"/><rect x="-140" y="-15.9" width="280" height="3.0" fill="url(#g1_11)"/><rect x="-140" y="-18.7" width="280" height="4.0" fill="url(#g1_12)"/><rect x="-140" y="-21.6" width="280" height="4.1" fill="url(#g1_13)"/><rect x="-140" y="-25.7" width="280" height="5.2" fill="url(#g1_14)"/><rect x="-140" y="-28.8" width="280" height="4.3" fill="url(#g1_15)"/><rect x="-140" y="-32.0" width="280" height="4.4" fill="url(#g1_16)"/><rect x="-140" y="-35.4" width="280" height="4.5" fill="url(#g1_17)"/><rect x="-140" y="-40.0" width="280" height="5.8" fill="url(#g1_18)"/><rect x="-140" y="-44.8" width="280" height="6.0" fill="url(#g1_19)"/><rect x="-140" y="-49.8" width="280" height="6.2" fill="url(#g1_20)"/><rect x="-140" y="-54.9" width="280" height="6.4" fill="url(#g1_21)"/><rect x="-140" y="-60.3" width="280" height="6.5" fill="url(#g1_22)"/><rect x="-140" y="-65.8" width="280" height="6.7" fill="url(#g1_23)"/><rect x="-140" y="-71.5" width="280" height="6.9" fill="url(#g1_24)"/><rect x="-140" y="-75.9" width="280" height="5.6" fill="url(#g1_25)"/><rect x="-140" y="-81.9" width="280" height="7.2" fill="url(#g1_26)"/><rect x="-140" y="-86.6" width="280" height="5.8" fill="url(#g1_27)"/><rect x="-140" y="-91.3" width="280" height="5.9" fill="url(#g1_28)"/><rect x="-140" y="-96.2" width="280" height="6.0" fill="url(#g1_29)"/><rect x="-140" y="-101.1" width="280" height="6.1" fill="url(#g1_30)"/><rect x="-140" y="-106.2" width="280" height="6.3" fill="url(#g1_31)"/><rect x="-140" y="-111.3" width="280" height="6.4" fill="url(#g1_32)"/><rect x="-140" y="-116.6" width="280" height="6.5" fill="url(#g1_33)"/><rect x="-140" y="-121.9" width="280" height="6.6" fill="url(#g1_34)"/><rect x="-140" y="-125.6" width="280" height="4.8" fill="url(#g1_35)"/><rect x="-140" y="-129.2" width="280" height="4.9" fill="url(#g1_36)"/><rect x="-140" y="-133.0" width="280" height="4.9" fill="url(#g1_37)"/><rect x="-140" y="-136.7" width="280" height="5.0" fill="url(#g1_38)"/><rect x="-140" y="-140.5" width="280" height="5.0" fill="url(#g1_39)"/><rect x="-140" y="-144.4" width="280" height="5.1" fill="url(#g1_40)"/><rect x="-140" y="-148.3" width="280" height="5.1" fill="url(#g1_41)"/><rect x="-140" y="-152.2" width="280" height="5.1" fill="url(#g1_42)"/><rect x="-140" y="-156.2" width="280" height="5.2" fill="url(#g1_43)"/><rect x="-140" y="-160.3" width="280" height="5.2" fill="url(#g1_44)"/><rect x="-140" y="-164.4" width="280" height="5.3" fill="url(#g1_45)"/><rect x="-140" y="-168.5" width="280" height="5.3" fill="url(#g1_46)"/><rect x="-140" y="-172.7" width="280" height="5.4" fill="url(#g1_47)"/><rect x="-140" y="-176.9" width="280" height="5.4" fill="url(#g1_48)"/><rect x="-140" y="-181.2" width="280" height="5.5" fill="url(#g1_49)"/><rect x="-140" y="-185.5" width="280" height="5.5" fill="url(#g1_50)"/><rect x="-140" y="-189.8" width="280" height="5.6" fill="url(#g1_51)"/><rect x="-140" y="-194.2" width="280" height="5.6" fill="url(#g1_52)"/><rect x="-140" y="-198.7" width="280" height="5.6" fill="url(#g1_53)"/><rect x="-140" y="-203.2" width="280" height="5.7" fill="url(#g1_54)"/><rect x="-140" y="-207.7" width="280" height="5.7" fill="url(#g1_55)"/><rect x="-140" y="-212.3" width="280" height="5.8" fill="url(#g1_56)"/><rect x="-140" y="-216.9" width="280" height="5.8" fill="url(#g1_57)"/><rect x="-140" y="-221.6" width="280" height="5.9" fill="url(#g1_58)"/><rect x="-140" y="-226.3" width="280" height="5.9" fill="url(#g1_59)"/><rect x="-140" y="-231.1" width="280" height="6.0" fill="url(#g1_60)"/><rect x="-140" y="-234.9" width="280" height="5.0" fill="url(#g1_61)"/></g><rect x="0" y="1343.5" width="2321" height="200" fill="#7880F8" fill-opacity="0.54"/></g><g clip-path="url(#cs2)"><g transform="translate(945.2 1425.2) rotate(56.8)"><rect x="-140" y="-1.3" width="280" height="3.3" fill="url(#g2_0)"/><rect x="-140" y="-2.0" width="280" height="1.9" fill="url(#g2_1)"/><rect x="-140" y="-2.7" width="280" height="1.9" fill="url(#g2_2)"/><rect x="-140" y="-3.5" width="280" height="1.9" fill="url(#g2_3)"/><rect x="-140" y="-4.2" width="280" height="1.9" fill="url(#g2_4)"/><rect x="-140" y="-5.0" width="280" height="2.0" fill="url(#g2_5)"/><rect x="-140" y="-5.8" width="280" height="2.0" fill="url(#g2_6)"/><rect x="-140" y="-7.3" width="280" height="2.8" fill="url(#g2_7)"/><rect x="-140" y="-9.0" width="280" height="2.8" fill="url(#g2_8)"/><rect x="-140" y="-10.6" width="280" height="2.9" fill="url(#g2_9)"/><rect x="-140" y="-12.4" width="280" height="2.9" fill="url(#g2_10)"/><rect x="-140" y="-15.0" width="280" height="3.9" fill="url(#g2_11)"/><rect x="-140" y="-17.8" width="280" height="4.0" fill="url(#g2_12)"/><rect x="-140" y="-19.7" width="280" height="3.1" fill="url(#g2_13)"/><rect x="-140" y="-22.6" width="280" height="4.1" fill="url(#g2_14)"/><rect x="-140" y="-25.7" width="280" height="4.2" fill="url(#g2_15)"/><rect x="-140" y="-28.8" width="280" height="4.3" fill="url(#g2_16)"/><rect x="-140" y="-33.1" width="280" height="5.5" fill="url(#g2_17)"/><rect x="-140" y="-37.7" width="280" height="5.7" fill="url(#g2_18)"/><rect x="-140" y="-42.4" width="280" height="5.9" fill="url(#g2_19)"/><rect x="-140" y="-46.0" width="280" height="4.9" fill="url(#g2_20)"/><rect x="-140" y="-49.8" width="280" height="5.0" fill="url(#g2_21)"/><rect x="-140" y="-53.6" width="280" height="5.1" fill="url(#g2_22)"/><rect x="-140" y="-57.6" width="280" height="5.2" fill="url(#g2_23)"/><rect x="-140" y="-61.6" width="280" height="5.3" fill="url(#g2_24)"/><rect x="-140" y="-64.4" width="280" height="4.0" fill="url(#g2_25)"/><rect x="-140" y="-67.2" width="280" height="4.0" fill="url(#g2_26)"/><rect x="-140" y="-70.1" width="280" height="4.1" fill="url(#g2_27)"/><rect x="-140" y="-73.0" width="280" height="4.1" fill="url(#g2_28)"/><rect x="-140" y="-75.9" width="280" height="4.1" fill="url(#g2_29)"/><rect x="-140" y="-78.9" width="280" height="4.2" fill="url(#g2_30)"/><rect x="-140" y="-81.9" width="280" height="4.2" fill="url(#g2_31)"/><rect x="-140" y="-85.0" width="280" height="4.3" fill="url(#g2_32)"/><rect x="-140" y="-88.2" width="280" height="4.3" fill="url(#g2_33)"/><rect x="-140" y="-91.3" width="280" height="4.4" fill="url(#g2_34)"/><rect x="-140" y="-94.5" width="280" height="4.4" fill="url(#g2_35)"/><rect x="-140" y="-97.8" width="280" height="4.5" fill="url(#g2_36)"/><rect x="-140" y="-101.1" width="280" height="4.5" fill="url(#g2_37)"/><rect x="-140" y="-104.5" width="280" height="4.6" fill="url(#g2_38)"/><rect x="-140" y="-107.9" width="280" height="4.6" fill="url(#g2_39)"/><rect x="-140" y="-111.3" width="280" height="4.6" fill="url(#g2_40)"/><rect x="-140" y="-114.8" width="280" height="4.7" fill="url(#g2_41)"/><rect x="-140" y="-118.4" width="280" height="4.7" fill="url(#g2_42)"/><rect x="-140" y="-121.9" width="280" height="4.8" fill="url(#g2_43)"/><rect x="-140" y="-125.6" width="280" height="4.8" fill="url(#g2_44)"/><rect x="-140" y="-129.2" width="280" height="4.9" fill="url(#g2_45)"/><rect x="-140" y="-133.0" width="280" height="4.9" fill="url(#g2_46)"/><rect x="-140" y="-136.7" width="280" height="5.0" fill="url(#g2_47)"/><rect x="-140" y="-140.5" width="280" height="5.0" fill="url(#g2_48)"/><rect x="-140" y="-144.4" width="280" height="5.1" fill="url(#g2_49)"/><rect x="-140" y="-148.3" width="280" height="5.1" fill="url(#g2_50)"/><rect x="-140" y="-152.2" width="280" height="5.1" fill="url(#g2_51)"/><rect x="-140" y="-156.2" width="280" height="5.2" fill="url(#g2_52)"/><rect x="-140" y="-160.3" width="280" height="5.2" fill="url(#g2_53)"/><rect x="-140" y="-164.4" width="280" height="5.3" fill="url(#g2_54)"/><rect x="-140" y="-168.5" width="280" height="5.3" fill="url(#g2_55)"/><rect x="-140" y="-172.7" width="280" height="5.4" fill="url(#g2_56)"/><rect x="-140" y="-176.9" width="280" height="5.4" fill="url(#g2_57)"/><rect x="-140" y="-181.2" width="280" height="5.5" fill="url(#g2_58)"/><rect x="-140" y="-187.6" width="280" height="7.7" fill="url(#g2_59)"/><rect x="-140" y="-194.2" width="280" height="7.8" fill="url(#g2_60)"/><rect x="-140" y="-200.9" width="280" height="7.9" fill="url(#g2_61)"/><rect x="-140" y="-207.7" width="280" height="8.0" fill="url(#g2_62)"/><rect x="-140" y="-214.6" width="280" height="8.1" fill="url(#g2_63)"/><rect x="-140" y="-221.6" width="280" height="8.2" fill="url(#g2_64)"/><rect x="-140" y="-231.1" width="280" height="10.7" fill="url(#g2_65)"/><rect x="-140" y="-234.9" width="280" height="5.0" fill="url(#g2_66)"/></g><rect x="0" y="1343.5" width="2321" height="200" fill="#7880F8" fill-opacity="0.54"/></g><g clip-path="url(#cs3)"><g transform="translate(1287.25 1333.85) rotate(94.5)"><rect x="-140" y="-1.3" width="280" height="3.3" fill="url(#g3_0)"/><rect x="-140" y="-2.0" width="280" height="1.9" fill="url(#g3_1)"/><rect x="-140" y="-2.7" width="280" height="1.9" fill="url(#g3_2)"/><rect x="-140" y="-3.5" width="280" height="1.9" fill="url(#g3_3)"/><rect x="-140" y="-4.2" width="280" height="1.9" fill="url(#g3_4)"/><rect x="-140" y="-5.0" width="280" height="2.0" fill="url(#g3_5)"/><rect x="-140" y="-5.8" width="280" height="2.0" fill="url(#g3_6)"/><rect x="-140" y="-6.6" width="280" height="2.0" fill="url(#g3_7)"/><rect x="-140" y="-7.3" width="280" height="2.0" fill="url(#g3_8)"/><rect x="-140" y="-9.0" width="280" height="2.8" fill="url(#g3_9)"/><rect x="-140" y="-10.6" width="280" height="2.9" fill="url(#g3_10)"/><rect x="-140" y="-12.4" width="280" height="2.9" fill="url(#g3_11)"/><rect x="-140" y="-14.1" width="280" height="3.0" fill="url(#g3_12)"/><rect x="-140" y="-15.9" width="280" height="3.0" fill="url(#g3_13)"/><rect x="-140" y="-17.8" width="280" height="3.1" fill="url(#g3_14)"/><rect x="-140" y="-20.6" width="280" height="4.1" fill="url(#g3_15)"/><rect x="-140" y="-23.6" width="280" height="4.2" fill="url(#g3_16)"/><rect x="-140" y="-27.7" width="280" height="5.3" fill="url(#g3_17)"/><rect x="-140" y="-32.0" width="280" height="5.5" fill="url(#g3_18)"/><rect x="-140" y="-35.4" width="280" height="4.5" fill="url(#g3_19)"/><rect x="-140" y="-38.8" width="280" height="4.6" fill="url(#g3_20)"/><rect x="-140" y="-42.4" width="280" height="4.7" fill="url(#g3_21)"/><rect x="-140" y="-44.8" width="280" height="3.6" fill="url(#g3_22)"/><rect x="-140" y="-47.3" width="280" height="3.7" fill="url(#g3_23)"/><rect x="-140" y="-49.8" width="280" height="3.7" fill="url(#g3_24)"/><rect x="-140" y="-52.3" width="280" height="3.8" fill="url(#g3_25)"/><rect x="-140" y="-54.9" width="280" height="3.8" fill="url(#g3_26)"/><rect x="-140" y="-57.6" width="280" height="3.8" fill="url(#g3_27)"/><rect x="-140" y="-60.3" width="280" height="3.9" fill="url(#g3_28)"/><rect x="-140" y="-63.0" width="280" height="3.9" fill="url(#g3_29)"/><rect x="-140" y="-65.8" width="280" height="4.0" fill="url(#g3_30)"/><rect x="-140" y="-67.2" width="280" height="2.6" fill="url(#g3_31)"/><rect x="-140" y="-68.6" width="280" height="2.6" fill="url(#g3_32)"/><rect x="-140" y="-70.1" width="280" height="2.6" fill="url(#g3_33)"/><rect x="-140" y="-71.5" width="280" height="2.6" fill="url(#g3_34)"/><rect x="-140" y="-73.0" width="280" height="2.7" fill="url(#g3_35)"/><rect x="-140" y="-74.4" width="280" height="2.7" fill="url(#g3_36)"/><rect x="-140" y="-75.9" width="280" height="2.7" fill="url(#g3_37)"/><rect x="-140" y="-77.4" width="280" height="2.7" fill="url(#g3_38)"/><rect x="-140" y="-78.9" width="280" height="2.7" fill="url(#g3_39)"/><rect x="-140" y="-80.4" width="280" height="2.7" fill="url(#g3_40)"/><rect x="-140" y="-81.9" width="280" height="2.7" fill="url(#g3_41)"/><rect x="-140" y="-83.5" width="280" height="2.7" fill="url(#g3_42)"/><rect x="-140" y="-85.0" width="280" height="2.7" fill="url(#g3_43)"/><rect x="-140" y="-86.6" width="280" height="2.8" fill="url(#g3_44)"/><rect x="-140" y="-88.2" width="280" height="2.8" fill="url(#g3_45)"/><rect x="-140" y="-89.7" width="280" height="2.8" fill="url(#g3_46)"/><rect x="-140" y="-91.3" width="280" height="2.8" fill="url(#g3_47)"/><rect x="-140" y="-92.9" width="280" height="2.8" fill="url(#g3_48)"/><rect x="-140" y="-94.5" width="280" height="2.8" fill="url(#g3_49)"/><rect x="-140" y="-96.2" width="280" height="2.8" fill="url(#g3_50)"/><rect x="-140" y="-97.8" width="280" height="2.8" fill="url(#g3_51)"/><rect x="-140" y="-99.5" width="280" height="2.8" fill="url(#g3_52)"/><rect x="-140" y="-101.1" width="280" height="2.9" fill="url(#g3_53)"/><rect x="-140" y="-104.5" width="280" height="4.6" fill="url(#g3_54)"/><rect x="-140" y="-107.9" width="280" height="4.6" fill="url(#g3_55)"/><rect x="-140" y="-111.3" width="280" height="4.6" fill="url(#g3_56)"/><rect x="-140" y="-114.8" width="280" height="4.7" fill="url(#g3_57)"/><rect x="-140" y="-118.4" width="280" height="4.7" fill="url(#g3_58)"/><rect x="-140" y="-121.9" width="280" height="4.8" fill="url(#g3_59)"/><rect x="-140" y="-125.6" width="280" height="4.8" fill="url(#g3_60)"/><rect x="-140" y="-129.2" width="280" height="4.9" fill="url(#g3_61)"/><rect x="-140" y="-133.0" width="280" height="4.9" fill="url(#g3_62)"/><rect x="-140" y="-136.7" width="280" height="5.0" fill="url(#g3_63)"/><rect x="-140" y="-142.5" width="280" height="6.9" fill="url(#g3_64)"/><rect x="-140" y="-148.3" width="280" height="7.0" fill="url(#g3_65)"/><rect x="-140" y="-154.2" width="280" height="7.1" fill="url(#g3_66)"/><rect x="-140" y="-160.3" width="280" height="7.2" fill="url(#g3_67)"/><rect x="-140" y="-168.5" width="280" height="9.4" fill="url(#g3_68)"/><rect x="-140" y="-176.9" width="280" height="9.6" fill="url(#g3_69)"/><rect x="-140" y="-185.5" width="280" height="9.8" fill="url(#g3_70)"/><rect x="-140" y="-196.5" width="280" height="12.2" fill="url(#g3_71)"/><rect x="-140" y="-207.7" width="280" height="12.5" fill="url(#g3_72)"/><rect x="-140" y="-221.6" width="280" height="15.1" fill="url(#g3_73)"/><rect x="-140" y="-234.9" width="280" height="14.5" fill="url(#g3_74)"/></g><rect x="0" y="1343.5" width="2321" height="200" fill="#7880F8" fill-opacity="0.54"/></g><g clip-path="url(#cs4)"><g transform="translate(1675.6 1245.2) rotate(131.5)"><rect x="-140" y="-1.3" width="280" height="3.3" fill="url(#g4_0)"/><rect x="-140" y="-2.0" width="280" height="1.9" fill="url(#g4_1)"/><rect x="-140" y="-2.7" width="280" height="1.9" fill="url(#g4_2)"/><rect x="-140" y="-3.5" width="280" height="1.9" fill="url(#g4_3)"/><rect x="-140" y="-4.2" width="280" height="1.9" fill="url(#g4_4)"/><rect x="-140" y="-5.0" width="280" height="2.0" fill="url(#g4_5)"/><rect x="-140" y="-5.8" width="280" height="2.0" fill="url(#g4_6)"/><rect x="-140" y="-6.6" width="280" height="2.0" fill="url(#g4_7)"/><rect x="-140" y="-8.2" width="280" height="2.8" fill="url(#g4_8)"/><rect x="-140" y="-9.8" width="280" height="2.8" fill="url(#g4_9)"/><rect x="-140" y="-11.5" width="280" height="2.9" fill="url(#g4_10)"/><rect x="-140" y="-14.1" width="280" height="3.8" fill="url(#g4_11)"/><rect x="-140" y="-16.9" width="280" height="3.9" fill="url(#g4_12)"/><rect x="-140" y="-19.7" width="280" height="4.0" fill="url(#g4_13)"/><rect x="-140" y="-22.6" width="280" height="4.1" fill="url(#g4_14)"/><rect x="-140" y="-25.7" width="280" height="4.2" fill="url(#g4_15)"/><rect x="-140" y="-27.7" width="280" height="3.3" fill="url(#g4_16)"/><rect x="-140" y="-29.9" width="280" height="3.3" fill="url(#g4_17)"/><rect x="-140" y="-32.0" width="280" height="3.4" fill="url(#g4_18)"/><rect x="-140" y="-34.2" width="280" height="3.4" fill="url(#g4_19)"/><rect x="-140" y="-36.5" width="280" height="3.5" fill="url(#g4_20)"/><rect x="-140" y="-38.8" width="280" height="3.5" fill="url(#g4_21)"/><rect x="-140" y="-40.0" width="280" height="2.4" fill="url(#g4_22)"/><rect x="-140" y="-41.2" width="280" height="2.4" fill="url(#g4_23)"/><rect x="-140" y="-42.4" width="280" height="2.4" fill="url(#g4_24)"/><rect x="-140" y="-43.6" width="280" height="2.4" fill="url(#g4_25)"/><rect x="-140" y="-44.8" width="280" height="2.4" fill="url(#g4_26)"/><rect x="-140" y="-46.0" width="280" height="2.4" fill="url(#g4_27)"/><rect x="-140" y="-47.3" width="280" height="2.4" fill="url(#g4_28)"/><rect x="-140" y="-48.5" width="280" height="2.5" fill="url(#g4_29)"/><rect x="-140" y="-49.8" width="280" height="2.5" fill="url(#g4_30)"/><rect x="-140" y="-51.0" width="280" height="2.5" fill="url(#g4_31)"/><rect x="-140" y="-52.3" width="280" height="2.5" fill="url(#g4_32)"/><rect x="-140" y="-53.6" width="280" height="2.5" fill="url(#g4_33)"/><rect x="-140" y="-54.9" width="280" height="2.5" fill="url(#g4_34)"/><rect x="-140" y="-56.3" width="280" height="2.5" fill="url(#g4_35)"/><rect x="-140" y="-57.6" width="280" height="2.5" fill="url(#g4_36)"/><rect x="-140" y="-58.9" width="280" height="2.5" fill="url(#g4_37)"/><rect x="-140" y="-60.3" width="280" height="2.6" fill="url(#g4_38)"/><rect x="-140" y="-61.6" width="280" height="2.6" fill="url(#g4_39)"/><rect x="-140" y="-63.0" width="280" height="2.6" fill="url(#g4_40)"/><rect x="-140" y="-64.4" width="280" height="2.6" fill="url(#g4_41)"/><rect x="-140" y="-65.8" width="280" height="2.6" fill="url(#g4_42)"/><rect x="-140" y="-67.2" width="280" height="2.6" fill="url(#g4_43)"/><rect x="-140" y="-68.6" width="280" height="2.6" fill="url(#g4_44)"/><rect x="-140" y="-70.1" width="280" height="2.6" fill="url(#g4_45)"/><rect x="-140" y="-71.5" width="280" height="2.6" fill="url(#g4_46)"/><rect x="-140" y="-74.4" width="280" height="4.1" fill="url(#g4_47)"/><rect x="-140" y="-77.4" width="280" height="4.2" fill="url(#g4_48)"/><rect x="-140" y="-80.4" width="280" height="4.2" fill="url(#g4_49)"/><rect x="-140" y="-83.5" width="280" height="4.3" fill="url(#g4_50)"/><rect x="-140" y="-86.6" width="280" height="4.3" fill="url(#g4_51)"/><rect x="-140" y="-89.7" width="280" height="4.4" fill="url(#g4_52)"/><rect x="-140" y="-91.3" width="280" height="2.8" fill="url(#g4_53)"/><rect x="-140" y="-92.9" width="280" height="2.8" fill="url(#g4_54)"/><rect x="-140" y="-94.5" width="280" height="2.8" fill="url(#g4_55)"/><rect x="-140" y="-96.2" width="280" height="2.8" fill="url(#g4_56)"/><rect x="-140" y="-97.8" width="280" height="2.8" fill="url(#g4_57)"/><rect x="-140" y="-99.5" width="280" height="2.8" fill="url(#g4_58)"/><rect x="-140" y="-101.1" width="280" height="2.9" fill="url(#g4_59)"/><rect x="-140" y="-102.8" width="280" height="2.9" fill="url(#g4_60)"/><rect x="-140" y="-104.5" width="280" height="2.9" fill="url(#g4_61)"/><rect x="-140" y="-107.9" width="280" height="4.6" fill="url(#g4_62)"/><rect x="-140" y="-111.3" width="280" height="4.6" fill="url(#g4_63)"/><rect x="-140" y="-114.8" width="280" height="4.7" fill="url(#g4_64)"/><rect x="-140" y="-118.4" width="280" height="4.7" fill="url(#g4_65)"/><rect x="-140" y="-121.9" width="280" height="4.8" fill="url(#g4_66)"/><rect x="-140" y="-125.6" width="280" height="4.8" fill="url(#g4_67)"/><rect x="-140" y="-129.2" width="280" height="4.9" fill="url(#g4_68)"/><rect x="-140" y="-133.0" width="280" height="4.9" fill="url(#g4_69)"/><rect x="-140" y="-136.7" width="280" height="5.0" fill="url(#g4_70)"/><rect x="-140" y="-140.5" width="280" height="5.0" fill="url(#g4_71)"/><rect x="-140" y="-146.3" width="280" height="7.0" fill="url(#g4_72)"/><rect x="-140" y="-152.2" width="280" height="7.1" fill="url(#g4_73)"/><rect x="-140" y="-158.3" width="280" height="7.2" fill="url(#g4_74)"/><rect x="-140" y="-164.4" width="280" height="7.3" fill="url(#g4_75)"/><rect x="-140" y="-170.6" width="280" height="7.4" fill="url(#g4_76)"/><rect x="-140" y="-179.0" width="280" height="9.6" fill="url(#g4_77)"/><rect x="-140" y="-187.6" width="280" height="9.8" fill="url(#g4_78)"/><rect x="-140" y="-196.5" width="280" height="10.0" fill="url(#g4_79)"/><rect x="-140" y="-207.7" width="280" height="12.5" fill="url(#g4_80)"/><rect x="-140" y="-219.3" width="280" height="12.7" fill="url(#g4_81)"/><rect x="-140" y="-231.1" width="280" height="13.0" fill="url(#g4_82)"/><rect x="-140" y="-234.9" width="280" height="5.0" fill="url(#g4_83)"/></g><rect x="0" y="1343.5" width="2321" height="200" fill="#7880F8" fill-opacity="0.54"/></g><g clip-path="url(#cs5)"><g transform="translate(2122.8 1179.8) rotate(180)"><rect x="-140" y="-1.3" width="280" height="3.3" fill="url(#g5_0)"/><rect x="-140" y="-2.0" width="280" height="1.9" fill="url(#g5_1)"/><rect x="-140" y="-2.7" width="280" height="1.9" fill="url(#g5_2)"/><rect x="-140" y="-3.5" width="280" height="1.9" fill="url(#g5_3)"/><rect x="-140" y="-5.0" width="280" height="2.7" fill="url(#g5_4)"/><rect x="-140" y="-5.8" width="280" height="2.0" fill="url(#g5_5)"/><rect x="-140" y="-6.6" width="280" height="2.0" fill="url(#g5_6)"/><rect x="-140" y="-7.3" width="280" height="2.0" fill="url(#g5_7)"/><rect x="-140" y="-8.2" width="280" height="2.0" fill="url(#g5_8)"/><rect x="-140" y="-9.0" width="280" height="2.0" fill="url(#g5_9)"/><rect x="-140" y="-9.8" width="280" height="2.0" fill="url(#g5_10)"/><rect x="-140" y="-10.6" width="280" height="2.0" fill="url(#g5_11)"/><rect x="-140" y="-11.5" width="280" height="2.1" fill="url(#g5_12)"/><rect x="-140" y="-12.4" width="280" height="2.1" fill="url(#g5_13)"/><rect x="-140" y="-13.2" width="280" height="2.1" fill="url(#g5_14)"/><rect x="-140" y="-14.1" width="280" height="2.1" fill="url(#g5_15)"/><rect x="-140" y="-15.0" width="280" height="2.1" fill="url(#g5_16)"/><rect x="-140" y="-15.9" width="280" height="2.1" fill="url(#g5_17)"/><rect x="-140" y="-16.9" width="280" height="2.1" fill="url(#g5_18)"/><rect x="-140" y="-17.8" width="280" height="2.1" fill="url(#g5_19)"/><rect x="-140" y="-18.7" width="280" height="2.1" fill="url(#g5_20)"/><rect x="-140" y="-19.7" width="280" height="2.2" fill="url(#g5_21)"/><rect x="-140" y="-20.6" width="280" height="2.2" fill="url(#g5_22)"/><rect x="-140" y="-21.6" width="280" height="2.2" fill="url(#g5_23)"/><rect x="-140" y="-22.6" width="280" height="2.2" fill="url(#g5_24)"/><rect x="-140" y="-23.6" width="280" height="2.2" fill="url(#g5_25)"/><rect x="-140" y="-24.6" width="280" height="2.2" fill="url(#g5_26)"/><rect x="-140" y="-25.7" width="280" height="2.2" fill="url(#g5_27)"/><rect x="-140" y="-26.7" width="280" height="2.2" fill="url(#g5_28)"/><rect x="-140" y="-28.8" width="280" height="3.3" fill="url(#g5_29)"/><rect x="-140" y="-30.9" width="280" height="3.3" fill="url(#g5_30)"/><rect x="-140" y="-36.5" width="280" height="6.8" fill="url(#g5_31)"/><rect x="-140" y="-43.6" width="280" height="8.3" fill="url(#g5_32)"/><rect x="-140" y="-47.3" width="280" height="4.9" fill="url(#g5_33)"/><rect x="-140" y="-49.8" width="280" height="3.7" fill="url(#g5_34)"/><rect x="-140" y="-52.3" width="280" height="3.8" fill="url(#g5_35)"/><rect x="-140" y="-54.9" width="280" height="3.8" fill="url(#g5_36)"/><rect x="-140" y="-57.6" width="280" height="3.8" fill="url(#g5_37)"/><rect x="-140" y="-60.3" width="280" height="3.9" fill="url(#g5_38)"/><rect x="-140" y="-63.0" width="280" height="3.9" fill="url(#g5_39)"/><rect x="-140" y="-65.8" width="280" height="4.0" fill="url(#g5_40)"/><rect x="-140" y="-68.6" width="280" height="4.0" fill="url(#g5_41)"/><rect x="-140" y="-71.5" width="280" height="4.1" fill="url(#g5_42)"/><rect x="-140" y="-74.4" width="280" height="4.1" fill="url(#g5_43)"/><rect x="-140" y="-77.4" width="280" height="4.2" fill="url(#g5_44)"/><rect x="-140" y="-80.4" width="280" height="4.2" fill="url(#g5_45)"/><rect x="-140" y="-83.5" width="280" height="4.3" fill="url(#g5_46)"/><rect x="-140" y="-86.6" width="280" height="4.3" fill="url(#g5_47)"/><rect x="-140" y="-89.7" width="280" height="4.4" fill="url(#g5_48)"/><rect x="-140" y="-92.9" width="280" height="4.4" fill="url(#g5_49)"/><rect x="-140" y="-96.2" width="280" height="4.4" fill="url(#g5_50)"/><rect x="-140" y="-99.5" width="280" height="4.5" fill="url(#g5_51)"/><rect x="-140" y="-102.8" width="280" height="4.5" fill="url(#g5_52)"/><rect x="-140" y="-106.2" width="280" height="4.6" fill="url(#g5_53)"/><rect x="-140" y="-109.6" width="280" height="4.6" fill="url(#g5_54)"/><rect x="-140" y="-113.1" width="280" height="4.7" fill="url(#g5_55)"/><rect x="-140" y="-116.6" width="280" height="4.7" fill="url(#g5_56)"/><rect x="-140" y="-120.1" width="280" height="4.8" fill="url(#g5_57)"/><rect x="-140" y="-123.7" width="280" height="4.8" fill="url(#g5_58)"/><rect x="-140" y="-127.4" width="280" height="4.9" fill="url(#g5_59)"/><rect x="-140" y="-131.1" width="280" height="4.9" fill="url(#g5_60)"/><rect x="-140" y="-136.7" width="280" height="6.8" fill="url(#g5_61)"/><rect x="-140" y="-142.5" width="280" height="6.9" fill="url(#g5_62)"/><rect x="-140" y="-148.3" width="280" height="7.0" fill="url(#g5_63)"/><rect x="-140" y="-154.2" width="280" height="7.1" fill="url(#g5_64)"/><rect x="-140" y="-160.3" width="280" height="7.2" fill="url(#g5_65)"/><rect x="-140" y="-166.4" width="280" height="7.3" fill="url(#g5_66)"/><rect x="-140" y="-172.7" width="280" height="7.4" fill="url(#g5_67)"/><rect x="-140" y="-179.0" width="280" height="7.5" fill="url(#g5_68)"/><rect x="-140" y="-185.5" width="280" height="7.7" fill="url(#g5_69)"/><rect x="-140" y="-192.0" width="280" height="7.8" fill="url(#g5_70)"/><rect x="-140" y="-198.7" width="280" height="7.9" fill="url(#g5_71)"/><rect x="-140" y="-205.4" width="280" height="8.0" fill="url(#g5_72)"/><rect x="-140" y="-212.3" width="280" height="8.1" fill="url(#g5_73)"/><rect x="-140" y="-219.3" width="280" height="8.2" fill="url(#g5_74)"/><rect x="-140" y="-226.3" width="280" height="8.3" fill="url(#g5_75)"/><rect x="-140" y="-234.9" width="280" height="9.8" fill="url(#g5_76)"/></g><rect x="0" y="1343.5" width="2321" height="200" fill="#7880F8" fill-opacity="0.54"/></g>
<text transform="translate(297.3 1171.7) scale(1 1.062)" font-size="50.5" font-weight="bold">0<tspan x="27.2" y="-5.71" font-weight="normal" font-size="47">°</tspan></text>
<text transform="translate(611.8 1171.7) scale(1 1.062)" font-size="50.5" font-weight="bold">35.0<tspan x="97.0" y="-4.58" font-weight="normal" font-size="47">°</tspan></text>
<text transform="translate(899.4 1171.7) scale(1 1.062)" font-size="50.5" font-weight="bold">56.8<tspan x="97.9" y="-3.82" font-weight="normal" font-size="47">°</tspan></text>
<text transform="translate(1283.9 1171.7) scale(1 1.062)" font-size="50.5" font-weight="bold">94.5<tspan x="100.0" y="-5.61" font-weight="normal" font-size="47">°</tspan></text>
<text transform="translate(1653.8 1171.7) scale(1 1.062)" font-size="50.5" font-weight="bold">131.5<tspan x="127.6" y="-6.55" font-weight="normal" font-size="47">°</tspan></text>
<text transform="translate(2081.1 1171.7) scale(1 1.062)" font-size="50.5" font-weight="bold">180<tspan x="84.1" y="-5.71" font-weight="normal" font-size="47">°</tspan></text>
<text transform="translate(178.5 1497.0) scale(1 1.07)" font-size="50.5" font-weight="bold">US</text>
<text transform="translate(521.3 1497.0) scale(1 1.07)" font-size="50.5" font-weight="bold">AS</text>
<text transform="translate(898.5 1497.0) scale(1 1.07)" font-size="50.5" font-weight="bold">US</text>
<text transform="translate(1259.4 1497.0) scale(1 1.07)" font-size="50.5" font-weight="bold">AS</text>
<text transform="translate(1618.5 1497.0) scale(1 1.07)" font-size="50.5" font-weight="bold">NS</text>
<text transform="translate(1978.4 1497.0) scale(1 1.07)" font-size="50.5" font-weight="bold">US</text>
</svg></body></html>
